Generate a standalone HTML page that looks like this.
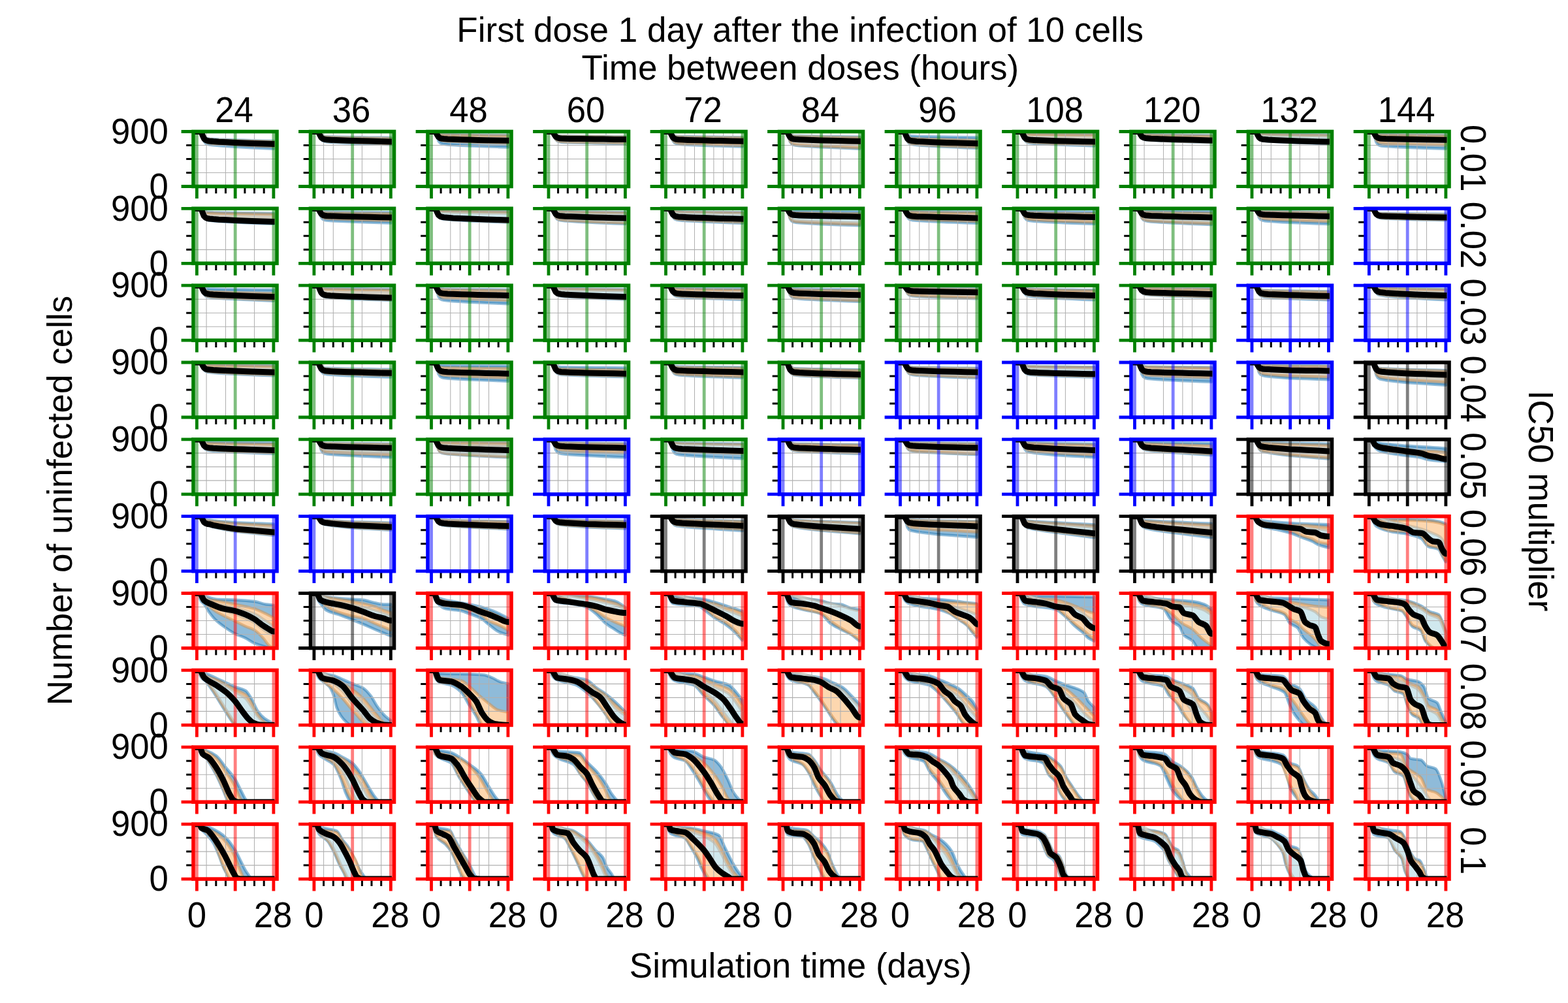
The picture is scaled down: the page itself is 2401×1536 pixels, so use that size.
<!DOCTYPE html>
<html lang="en"><head><meta charset="utf-8">
<title>First dose 1 day after the infection of 10 cells</title>
<style>html,body{margin:0;padding:0;background:#fff}body{width:2401px;height:1536px;overflow:hidden}svg{display:block}text{font-family:"Liberation Sans",sans-serif;fill:#000}</style></head><body>
<svg width="2401" height="1536" viewBox="0 0 2401 1536" role="img" aria-label="Grid of simulation results: number of uninfected cells over simulation time for each dose interval and IC50 multiplier">
<rect width="2401" height="1536" fill="#fff"/>
<text transform="translate(1225.2 64.2)" text-anchor="middle" font-size="53">First dose 1 day after the infection of 10 cells</text>
<text transform="translate(1225.4 122)" text-anchor="middle" font-size="53">Time between doses (hours)</text>
<text transform="translate(1226 1497.2)" text-anchor="middle" font-size="53">Simulation time (days)</text>
<text transform="translate(109.8 766.5) rotate(-90)" text-anchor="middle" font-size="53">Number of uninfected cells</text>
<text transform="translate(2341 767) rotate(90)" text-anchor="middle" font-size="53">IC50 multiplier</text>
<text transform="translate(358.6 186.9) scale(1 1.04)" text-anchor="middle" font-size="52.7">24</text>
<text transform="translate(538.1 186.9) scale(1 1.04)" text-anchor="middle" font-size="52.7">36</text>
<text transform="translate(717.6 186.9) scale(1 1.04)" text-anchor="middle" font-size="52.7">48</text>
<text transform="translate(897.1 186.9) scale(1 1.04)" text-anchor="middle" font-size="52.7">60</text>
<text transform="translate(1076.6 186.9) scale(1 1.04)" text-anchor="middle" font-size="52.7">72</text>
<text transform="translate(1256.1 186.9) scale(1 1.04)" text-anchor="middle" font-size="52.7">84</text>
<text transform="translate(1435.6 186.9) scale(1 1.04)" text-anchor="middle" font-size="52.7">96</text>
<text transform="translate(1615.1 186.9) scale(1 1.04)" text-anchor="middle" font-size="52.7">108</text>
<text transform="translate(1794.6 186.9) scale(1 1.04)" text-anchor="middle" font-size="52.7">120</text>
<text transform="translate(1974.1 186.9) scale(1 1.04)" text-anchor="middle" font-size="52.7">132</text>
<text transform="translate(2153.6 186.9) scale(1 1.04)" text-anchor="middle" font-size="52.7">144</text>
<text transform="translate(2237 242.2) rotate(90) scale(1 1.04)" text-anchor="middle" font-size="52.7">0.01</text>
<text transform="translate(257.9 219.7) scale(1 1.04)" text-anchor="end" font-size="52.7">900</text>
<text transform="translate(257.9 303.7) scale(1 1.04)" text-anchor="end" font-size="52.7">0</text>
<text transform="translate(2237 360) rotate(90) scale(1 1.04)" text-anchor="middle" font-size="52.7">0.02</text>
<text transform="translate(257.9 337.5) scale(1 1.04)" text-anchor="end" font-size="52.7">900</text>
<text transform="translate(257.9 421.5) scale(1 1.04)" text-anchor="end" font-size="52.7">0</text>
<text transform="translate(2237 477.9) rotate(90) scale(1 1.04)" text-anchor="middle" font-size="52.7">0.03</text>
<text transform="translate(257.9 455.4) scale(1 1.04)" text-anchor="end" font-size="52.7">900</text>
<text transform="translate(257.9 539.4) scale(1 1.04)" text-anchor="end" font-size="52.7">0</text>
<text transform="translate(2237 595.7) rotate(90) scale(1 1.04)" text-anchor="middle" font-size="52.7">0.04</text>
<text transform="translate(257.9 573.2) scale(1 1.04)" text-anchor="end" font-size="52.7">900</text>
<text transform="translate(257.9 657.2) scale(1 1.04)" text-anchor="end" font-size="52.7">0</text>
<text transform="translate(2237 713.6) rotate(90) scale(1 1.04)" text-anchor="middle" font-size="52.7">0.05</text>
<text transform="translate(257.9 691.1) scale(1 1.04)" text-anchor="end" font-size="52.7">900</text>
<text transform="translate(257.9 775.1) scale(1 1.04)" text-anchor="end" font-size="52.7">0</text>
<text transform="translate(2237 831.4) rotate(90) scale(1 1.04)" text-anchor="middle" font-size="52.7">0.06</text>
<text transform="translate(257.9 808.9) scale(1 1.04)" text-anchor="end" font-size="52.7">900</text>
<text transform="translate(257.9 892.9) scale(1 1.04)" text-anchor="end" font-size="52.7">0</text>
<text transform="translate(2237 949.2) rotate(90) scale(1 1.04)" text-anchor="middle" font-size="52.7">0.07</text>
<text transform="translate(257.9 926.7) scale(1 1.04)" text-anchor="end" font-size="52.7">900</text>
<text transform="translate(257.9 1010.7) scale(1 1.04)" text-anchor="end" font-size="52.7">0</text>
<text transform="translate(2237 1067.1) rotate(90) scale(1 1.04)" text-anchor="middle" font-size="52.7">0.08</text>
<text transform="translate(257.9 1044.6) scale(1 1.04)" text-anchor="end" font-size="52.7">900</text>
<text transform="translate(257.9 1128.6) scale(1 1.04)" text-anchor="end" font-size="52.7">0</text>
<text transform="translate(2237 1184.9) rotate(90) scale(1 1.04)" text-anchor="middle" font-size="52.7">0.09</text>
<text transform="translate(257.9 1162.4) scale(1 1.04)" text-anchor="end" font-size="52.7">900</text>
<text transform="translate(257.9 1246.4) scale(1 1.04)" text-anchor="end" font-size="52.7">0</text>
<text transform="translate(2237 1302.8) rotate(90) scale(1 1.04)" text-anchor="middle" font-size="52.7">0.1</text>
<text transform="translate(257.9 1280.3) scale(1 1.04)" text-anchor="end" font-size="52.7">900</text>
<text transform="translate(257.9 1364.3) scale(1 1.04)" text-anchor="end" font-size="52.7">0</text>
<text transform="translate(301.4 1420.4) scale(1 1.04)" text-anchor="middle" font-size="52.7">0</text>
<text transform="translate(418.1 1420.4) scale(1 1.04)" text-anchor="middle" font-size="52.7">28</text>
<text transform="translate(480.9 1420.4) scale(1 1.04)" text-anchor="middle" font-size="52.7">0</text>
<text transform="translate(597.6 1420.4) scale(1 1.04)" text-anchor="middle" font-size="52.7">28</text>
<text transform="translate(660.5 1420.4) scale(1 1.04)" text-anchor="middle" font-size="52.7">0</text>
<text transform="translate(777.1 1420.4) scale(1 1.04)" text-anchor="middle" font-size="52.7">28</text>
<text transform="translate(840 1420.4) scale(1 1.04)" text-anchor="middle" font-size="52.7">0</text>
<text transform="translate(956.6 1420.4) scale(1 1.04)" text-anchor="middle" font-size="52.7">28</text>
<text transform="translate(1019.5 1420.4) scale(1 1.04)" text-anchor="middle" font-size="52.7">0</text>
<text transform="translate(1136.1 1420.4) scale(1 1.04)" text-anchor="middle" font-size="52.7">28</text>
<text transform="translate(1199 1420.4) scale(1 1.04)" text-anchor="middle" font-size="52.7">0</text>
<text transform="translate(1315.6 1420.4) scale(1 1.04)" text-anchor="middle" font-size="52.7">28</text>
<text transform="translate(1378.5 1420.4) scale(1 1.04)" text-anchor="middle" font-size="52.7">0</text>
<text transform="translate(1495.1 1420.4) scale(1 1.04)" text-anchor="middle" font-size="52.7">28</text>
<text transform="translate(1558 1420.4) scale(1 1.04)" text-anchor="middle" font-size="52.7">0</text>
<text transform="translate(1674.6 1420.4) scale(1 1.04)" text-anchor="middle" font-size="52.7">28</text>
<text transform="translate(1737.5 1420.4) scale(1 1.04)" text-anchor="middle" font-size="52.7">0</text>
<text transform="translate(1854.1 1420.4) scale(1 1.04)" text-anchor="middle" font-size="52.7">28</text>
<text transform="translate(1917 1420.4) scale(1 1.04)" text-anchor="middle" font-size="52.7">0</text>
<text transform="translate(2033.6 1420.4) scale(1 1.04)" text-anchor="middle" font-size="52.7">28</text>
<text transform="translate(2096.4 1420.4) scale(1 1.04)" text-anchor="middle" font-size="52.7">0</text>
<text transform="translate(2213.1 1420.4) scale(1 1.04)" text-anchor="middle" font-size="52.7">28</text>
<g>
<clipPath id="c0_0"><rect x="296" y="201.5" width="128" height="84"/></clipPath>
<g clip-path="url(#c0_0)">
<path d="M305.6 200.5L306.5 201.6L308.6 202.8L310.3 206.1L312.4 209.7L314.9 211.5L317.8 212.2L320.7 212.6L326.6 213L335 213.5L347.6 213.9L360.2 214.4L372.8 214.8L385.4 215.1L402.1 215.6L418.9 216L418.9 227.7L402.1 227L385.4 226.2L372.8 225.5L360.2 224.8L347.6 224L335 223.1L326.6 222.4L320.7 221.5L317.8 220.9L314.9 219.5L312.4 216.3L310.3 209.9L308.6 203.9L306.5 201.7L305.6 200.5Z" fill="#1f77b4" fill-opacity="0.5" stroke="#1f77b4" stroke-opacity="0.5" stroke-width="4.4" stroke-linejoin="round"/>
<path d="M305.6 200.5L306.5 201.6L308.6 202.9L310.3 206.4L312.4 210.2L314.9 212.1L317.8 212.9L320.7 213.3L326.6 213.8L335 214.2L347.6 214.7L360.2 215.2L372.8 215.6L385.4 216L402.1 216.4L418.9 216.9L418.9 224.4L402.1 223.7L385.4 223L372.8 222.4L360.2 221.8L347.6 221.1L335 220.4L326.6 219.7L320.7 219L317.8 218.4L314.9 217.2L312.4 214.4L310.3 208.8L308.6 203.6L306.5 201.7L305.6 200.5Z" fill="#fdd7af" fill-opacity="0.6" stroke="#d29150" stroke-opacity="0.53" stroke-width="4.4" stroke-linejoin="round"/>
<path d="M316.1 201.5V285.5M345.5 201.5V285.5M389.5 201.5V285.5" stroke="#b0b0b0" stroke-width="1.05" fill="none"/>
<path d="M296 222.5H424M296 243.5H424M296 264.5H424" stroke="#b0b0b0" stroke-width="1.15" fill="none"/>
<path d="M301.4 201.5V285.5M360.2 201.5V285.5M418.9 201.5V285.5" stroke="#008000" stroke-opacity="0.5" stroke-width="4.8" fill="none"/>
<path d="M296.9 201.5L301.4 201.5L306.5 201.6L308.6 203.2L310.3 207.6L312.4 212.2L314.9 214.6L317.8 215.6L320.7 216L326.6 216.6L335 217.2L347.6 217.8L360.2 218.4L372.8 218.9L385.4 219.4L402.1 220L418.9 220.5L420.4 220.5" fill="none" stroke="#000" stroke-width="9" stroke-linejoin="round" stroke-linecap="butt"/>
</g>
<path d="M316.1 285.5V296.3M330.8 285.5V296.3M345.5 285.5V296.3M374.9 285.5V296.3M389.5 285.5V296.3M404.2 285.5V296.3M296 264.5H285.2M296 243.5H285.2M296 222.5H285.2" stroke="#000" stroke-width="3" fill="none"/>
<path d="M301.4 285.5V303.9M360.2 285.5V303.9M418.9 285.5V303.9M296 285.5H277.6M296 201.5H277.6" stroke="#008000" stroke-width="4.8" fill="none"/>
<rect x="296" y="201.5" width="128" height="84" fill="none" stroke="#008000" stroke-width="5.6"/>
</g>
<g>
<clipPath id="c0_1"><rect x="475.5" y="201.5" width="128" height="84"/></clipPath>
<g clip-path="url(#c0_1)">
<path d="M485.1 200.5L486 201.6L488.1 202.4L489.8 204.7L491.9 207.1L494.4 208.3L497.3 208.9L500.2 209.1L506.1 209.4L514.5 209.6L527.1 209.9L539.7 210.1L552.3 210.3L564.9 210.6L581.6 210.8L598.4 211L598.4 221.4L581.6 220.9L564.9 220.4L552.3 220L539.7 219.5L527.1 219L514.5 218.4L506.1 217.9L500.2 217.4L497.3 216.9L494.4 215.8L491.9 213.2L489.8 208.2L488.1 203.4L486 201.7L485.1 200.5Z" fill="#1f77b4" fill-opacity="0.5" stroke="#1f77b4" stroke-opacity="0.5" stroke-width="4.4" stroke-linejoin="round"/>
<path d="M485.1 200.5L486 201.6L488.1 202.5L489.8 205L491.9 207.7L494.4 209L497.3 209.6L500.2 209.8L506.1 210.1L514.5 210.4L527.1 210.7L539.7 210.9L552.3 211.2L564.9 211.4L581.6 211.7L598.4 211.9L598.4 220.1L581.6 219.6L564.9 219.1L552.3 218.7L539.7 218.3L527.1 217.8L514.5 217.3L506.1 216.8L500.2 216.3L497.3 215.9L494.4 214.8L491.9 212.4L489.8 207.7L488.1 203.3L486 201.6L485.1 200.5Z" fill="#fdd7af" fill-opacity="0.6" stroke="#d29150" stroke-opacity="0.53" stroke-width="4.4" stroke-linejoin="round"/>
<path d="M495.6 201.5V285.5M510.3 201.5V285.5M554.4 201.5V285.5M583.7 201.5V285.5" stroke="#b0b0b0" stroke-width="1.05" fill="none"/>
<path d="M475.5 222.5H603.5M475.5 243.5H603.5M475.5 264.5H603.5" stroke="#b0b0b0" stroke-width="1.15" fill="none"/>
<path d="M480.9 201.5V285.5M539.7 201.5V285.5M598.4 201.5V285.5" stroke="#008000" stroke-opacity="0.5" stroke-width="4.8" fill="none"/>
<path d="M476.4 201.5L480.9 201.5L486 201.6L488.1 203L489.8 206.7L491.9 210.6L494.4 212.5L497.3 213.4L500.2 213.8L506.1 214.2L514.5 214.6L527.1 215L539.7 215.4L552.3 215.8L564.9 216.1L581.6 216.5L598.4 216.9L599.9 216.9" fill="none" stroke="#000" stroke-width="9" stroke-linejoin="round" stroke-linecap="butt"/>
</g>
<path d="M495.6 285.5V296.3M510.3 285.5V296.3M525 285.5V296.3M554.4 285.5V296.3M569 285.5V296.3M583.7 285.5V296.3M475.5 264.5H464.7M475.5 243.5H464.7M475.5 222.5H464.7" stroke="#000" stroke-width="3" fill="none"/>
<path d="M480.9 285.5V303.9M539.7 285.5V303.9M598.4 285.5V303.9M475.5 285.5H457.1M475.5 201.5H457.1" stroke="#008000" stroke-width="4.8" fill="none"/>
<rect x="475.5" y="201.5" width="128" height="84" fill="none" stroke="#008000" stroke-width="5.6"/>
</g>
<g>
<clipPath id="c0_2"><rect x="655" y="201.5" width="128" height="84"/></clipPath>
<g clip-path="url(#c0_2)">
<path d="M664.6 200.5L665.5 201.5L667.6 202L669.3 203.4L671.4 204.8L673.9 205.5L676.8 205.8L679.7 205.9L685.6 206.1L694 206.2L706.6 206.4L719.2 206.5L731.8 206.6L744.4 206.7L761.1 206.9L777.9 207L777.9 225.5L761.1 224.9L744.4 224.3L731.8 223.8L719.2 223.3L706.6 222.7L694 222L685.6 221.5L679.7 220.8L676.8 220.2L673.9 218.9L671.4 215.8L669.3 209.6L667.6 203.8L665.5 201.7L664.6 200.5Z" fill="#1f77b4" fill-opacity="0.5" stroke="#1f77b4" stroke-opacity="0.5" stroke-width="4.4" stroke-linejoin="round"/>
<path d="M664.6 200.5L665.5 201.6L667.6 202.1L669.3 203.7L671.4 205.3L673.9 206.1L676.8 206.5L679.7 206.6L685.6 206.8L694 207L706.6 207.2L719.2 207.3L731.8 207.4L744.4 207.6L761.1 207.7L777.9 207.9L777.9 219.2L761.1 218.8L744.4 218.3L731.8 218L719.2 217.6L706.6 217.1L694 216.6L685.6 216.2L679.7 215.7L676.8 215.3L673.9 214.3L671.4 212L669.3 207.5L667.6 203.2L665.5 201.6L664.6 200.5Z" fill="#fdd7af" fill-opacity="0.6" stroke="#d29150" stroke-opacity="0.53" stroke-width="4.4" stroke-linejoin="round"/>
<path d="M689.8 201.5V285.5M704.5 201.5V285.5M733.9 201.5V285.5M748.5 201.5V285.5" stroke="#b0b0b0" stroke-width="1.05" fill="none"/>
<path d="M655 222.5H783M655 243.5H783M655 264.5H783" stroke="#b0b0b0" stroke-width="1.15" fill="none"/>
<path d="M660.5 201.5V285.5M719.2 201.5V285.5M777.9 201.5V285.5" stroke="#008000" stroke-opacity="0.5" stroke-width="4.8" fill="none"/>
<path d="M656 201.5L660.5 201.5L665.5 201.6L667.6 202.8L669.3 206.2L671.4 209.7L673.9 211.5L676.8 212.3L679.7 212.6L685.6 213L694 213.3L706.6 213.7L719.2 214.1L731.8 214.4L744.4 214.7L761.1 215L777.9 215.3L779.4 215.3" fill="none" stroke="#000" stroke-width="9" stroke-linejoin="round" stroke-linecap="butt"/>
</g>
<path d="M675.1 285.5V296.3M689.8 285.5V296.3M704.5 285.5V296.3M733.9 285.5V296.3M748.5 285.5V296.3M763.2 285.5V296.3M655 264.5H644.2M655 243.5H644.2M655 222.5H644.2" stroke="#000" stroke-width="3" fill="none"/>
<path d="M660.5 285.5V303.9M719.2 285.5V303.9M777.9 285.5V303.9M655 285.5H636.6M655 201.5H636.6" stroke="#008000" stroke-width="4.8" fill="none"/>
<rect x="655" y="201.5" width="128" height="84" fill="none" stroke="#008000" stroke-width="5.6"/>
</g>
<g>
<clipPath id="c0_3"><rect x="834.5" y="201.5" width="128" height="84"/></clipPath>
<g clip-path="url(#c0_3)">
<path d="M844.1 200.5L845 201.6L847.1 202.3L848.8 204.3L850.9 206.5L853.4 207.6L856.3 208L859.2 208.2L865.1 208.4L873.5 208.5L886.1 208.6L898.7 208.8L911.3 208.9L923.9 209L940.6 209.1L957.4 209.2L957.4 220.1L940.6 219.8L923.9 219.5L911.3 219.2L898.7 218.9L886.1 218.6L873.5 218.3L865.1 218L859.2 217.7L856.3 217.2L853.4 216L850.9 213.5L848.8 208.3L847.1 203.4L845 201.7L844.1 200.5Z" fill="#1f77b4" fill-opacity="0.5" stroke="#1f77b4" stroke-opacity="0.5" stroke-width="4.4" stroke-linejoin="round"/>
<path d="M844.1 200.5L845 201.6L847.1 202.4L848.8 204.5L850.9 206.8L853.4 207.9L856.3 208.4L859.2 208.6L865.1 208.8L873.5 208.9L886.1 209.1L898.7 209.2L911.3 209.3L923.9 209.4L940.6 209.6L957.4 209.7L957.4 219.2L940.6 218.9L923.9 218.6L911.3 218.4L898.7 218.1L886.1 217.8L873.5 217.5L865.1 217.2L859.2 216.9L856.3 216.4L853.4 215.3L850.9 212.9L848.8 208L847.1 203.3L845 201.7L844.1 200.5Z" fill="#fdd7af" fill-opacity="0.6" stroke="#d29150" stroke-opacity="0.53" stroke-width="4.4" stroke-linejoin="round"/>
<path d="M844.1 200.5L845 201.6L847.1 202.4L848.8 204.7L850.9 207.1L853.4 208.3L856.3 208.8L859.2 209L865.1 209.2L873.5 209.3L886.1 209.5L898.7 209.6L911.3 209.7L923.9 209.9L940.6 210L957.4 210.1L957.4 218.3L940.6 218L923.9 217.7L911.3 217.5L898.7 217.3L886.1 217L873.5 216.7L865.1 216.4L859.2 216.1L856.3 215.7L853.4 214.6L850.9 212.3L848.8 207.6L847.1 203.3L845 201.6L844.1 200.5Z" fill="#d0e8ee" fill-opacity="1" stroke="#b4aa96" stroke-opacity="0.5" stroke-width="4.4" stroke-linejoin="round"/>
<path d="M854.6 201.5V285.5M869.3 201.5V285.5M928 201.5V285.5" stroke="#b0b0b0" stroke-width="1.05" fill="none"/>
<path d="M834.5 222.5H962.5M834.5 243.5H962.5M834.5 264.5H962.5" stroke="#b0b0b0" stroke-width="1.15" fill="none"/>
<path d="M840 201.5V285.5M898.7 201.5V285.5M957.4 201.5V285.5" stroke="#008000" stroke-opacity="0.5" stroke-width="4.8" fill="none"/>
<path d="M835.5 201.5L840 201.5L845 201.6L847.1 202.8L848.8 205.9L850.9 209.2L853.4 210.9L856.3 211.7L859.2 212L865.1 212.2L873.5 212.4L886.1 212.6L898.7 212.8L911.3 213L923.9 213.1L940.6 213.4L957.4 213.5L958.9 213.5" fill="none" stroke="#000" stroke-width="9" stroke-linejoin="round" stroke-linecap="butt"/>
</g>
<path d="M854.6 285.5V296.3M869.3 285.5V296.3M884 285.5V296.3M913.4 285.5V296.3M928 285.5V296.3M942.7 285.5V296.3M834.5 264.5H823.7M834.5 243.5H823.7M834.5 222.5H823.7" stroke="#000" stroke-width="3" fill="none"/>
<path d="M840 285.5V303.9M898.7 285.5V303.9M957.4 285.5V303.9M834.5 285.5H816.1M834.5 201.5H816.1" stroke="#008000" stroke-width="4.8" fill="none"/>
<rect x="834.5" y="201.5" width="128" height="84" fill="none" stroke="#008000" stroke-width="5.6"/>
</g>
<g>
<clipPath id="c0_4"><rect x="1014" y="201.5" width="128" height="84"/></clipPath>
<g clip-path="url(#c0_4)">
<path d="M1023.6 200.5L1024.5 201.6L1026.6 202.4L1028.3 204.6L1030.4 207L1032.9 208.1L1035.8 208.7L1038.7 208.9L1044.6 209.1L1053 209.3L1065.6 209.5L1078.2 209.7L1090.8 209.8L1103.4 210L1120.1 210.2L1136.9 210.4L1136.9 224.6L1120.1 224.1L1103.4 223.6L1090.8 223.2L1078.2 222.8L1065.6 222.3L1053 221.7L1044.6 221.3L1038.7 220.7L1035.8 220.1L1032.9 218.8L1030.4 215.7L1028.3 209.6L1026.6 203.8L1024.5 201.7L1023.6 200.5Z" fill="#1f77b4" fill-opacity="0.5" stroke="#1f77b4" stroke-opacity="0.5" stroke-width="4.4" stroke-linejoin="round"/>
<path d="M1023.6 200.5L1024.5 201.6L1026.6 202.5L1028.3 204.8L1030.4 207.4L1032.9 208.6L1035.8 209.2L1038.7 209.4L1044.6 209.7L1053 209.9L1065.6 210.1L1078.2 210.3L1090.8 210.5L1103.4 210.6L1120.1 210.8L1136.9 211L1136.9 222.8L1120.1 222.4L1103.4 221.9L1090.8 221.5L1078.2 221.1L1065.6 220.7L1053 220.1L1044.6 219.7L1038.7 219.2L1035.8 218.7L1032.9 217.4L1030.4 214.6L1028.3 208.9L1026.6 203.6L1024.5 201.7L1023.6 200.5Z" fill="#fdd7af" fill-opacity="0.6" stroke="#d29150" stroke-opacity="0.53" stroke-width="4.4" stroke-linejoin="round"/>
<path d="M1048.8 201.5V285.5M1063.5 201.5V285.5M1092.9 201.5V285.5M1107.5 201.5V285.5M1122.2 201.5V285.5" stroke="#b0b0b0" stroke-width="1.05" fill="none"/>
<path d="M1014 222.5H1142M1014 243.5H1142M1014 264.5H1142" stroke="#b0b0b0" stroke-width="1.15" fill="none"/>
<path d="M1019.5 201.5V285.5M1078.2 201.5V285.5M1136.9 201.5V285.5" stroke="#008000" stroke-opacity="0.5" stroke-width="4.8" fill="none"/>
<path d="M1015 201.5L1019.5 201.5L1024.5 201.6L1026.6 203L1028.3 206.7L1030.4 210.6L1032.9 212.5L1035.8 213.4L1038.7 213.8L1044.6 214.1L1053 214.4L1065.6 214.8L1078.2 215.1L1090.8 215.4L1103.4 215.6L1120.1 215.9L1136.9 216.2L1138.4 216.2" fill="none" stroke="#000" stroke-width="9" stroke-linejoin="round" stroke-linecap="butt"/>
</g>
<path d="M1034.1 285.5V296.3M1048.8 285.5V296.3M1063.5 285.5V296.3M1092.9 285.5V296.3M1107.5 285.5V296.3M1122.2 285.5V296.3M1014 264.5H1003.2M1014 243.5H1003.2M1014 222.5H1003.2" stroke="#000" stroke-width="3" fill="none"/>
<path d="M1019.5 285.5V303.9M1078.2 285.5V303.9M1136.9 285.5V303.9M1014 285.5H995.6M1014 201.5H995.6" stroke="#008000" stroke-width="4.8" fill="none"/>
<rect x="1014" y="201.5" width="128" height="84" fill="none" stroke="#008000" stroke-width="5.6"/>
</g>
<g>
<clipPath id="c0_5"><rect x="1193.5" y="201.5" width="128" height="84"/></clipPath>
<g clip-path="url(#c0_5)">
<path d="M1203.1 200.5L1204 201.6L1206.1 202.3L1207.8 204.3L1209.9 206.4L1212.4 207.4L1215.3 207.9L1218.2 208.1L1224.1 208.3L1232.5 208.5L1245.1 208.7L1257.7 208.9L1270.3 209.1L1282.9 209.3L1299.6 209.5L1316.4 209.7L1316.4 227.7L1299.6 227.1L1282.9 226.4L1270.3 225.9L1257.7 225.3L1245.1 224.6L1232.5 223.9L1224.1 223.3L1218.2 222.5L1215.3 221.9L1212.4 220.4L1209.9 217.1L1207.8 210.3L1206.1 204L1204 201.7L1203.1 200.5Z" fill="#1f77b4" fill-opacity="0.5" stroke="#1f77b4" stroke-opacity="0.5" stroke-width="4.4" stroke-linejoin="round"/>
<path d="M1203.1 200.5L1204 201.6L1206.1 202.4L1207.8 204.6L1209.9 206.9L1212.4 208.1L1215.3 208.6L1218.2 208.8L1224.1 209L1232.5 209.3L1245.1 209.5L1257.7 209.7L1270.3 209.9L1282.9 210.1L1299.6 210.4L1316.4 210.6L1316.4 226.4L1299.6 225.8L1282.9 225.1L1270.3 224.6L1257.7 224.1L1245.1 223.4L1232.5 222.7L1224.1 222.1L1218.2 221.5L1215.3 220.9L1212.4 219.5L1209.9 216.3L1207.8 209.9L1206.1 203.9L1204 201.7L1203.1 200.5Z" fill="#fdd7af" fill-opacity="0.6" stroke="#d29150" stroke-opacity="0.53" stroke-width="4.4" stroke-linejoin="round"/>
<path d="M1213.6 201.5V285.5M1243 201.5V285.5M1272.4 201.5V285.5M1287 201.5V285.5" stroke="#b0b0b0" stroke-width="1.05" fill="none"/>
<path d="M1193.5 222.5H1321.5M1193.5 243.5H1321.5M1193.5 264.5H1321.5" stroke="#b0b0b0" stroke-width="1.15" fill="none"/>
<path d="M1199 201.5V285.5M1257.7 201.5V285.5M1316.4 201.5V285.5" stroke="#008000" stroke-opacity="0.5" stroke-width="4.8" fill="none"/>
<path d="M1194.5 201.5L1199 201.5L1204 201.6L1206.1 202.9L1207.8 206.5L1209.9 210.2L1212.4 212.1L1215.3 213L1218.2 213.3L1224.1 213.7L1232.5 214.1L1245.1 214.5L1257.7 214.9L1270.3 215.2L1282.9 215.5L1299.6 215.9L1316.4 216.2L1317.9 216.2" fill="none" stroke="#000" stroke-width="9" stroke-linejoin="round" stroke-linecap="butt"/>
</g>
<path d="M1213.6 285.5V296.3M1228.3 285.5V296.3M1243 285.5V296.3M1272.4 285.5V296.3M1287 285.5V296.3M1301.7 285.5V296.3M1193.5 264.5H1182.7M1193.5 243.5H1182.7M1193.5 222.5H1182.7" stroke="#000" stroke-width="3" fill="none"/>
<path d="M1199 285.5V303.9M1257.7 285.5V303.9M1316.4 285.5V303.9M1193.5 285.5H1175.1M1193.5 201.5H1175.1" stroke="#008000" stroke-width="4.8" fill="none"/>
<rect x="1193.5" y="201.5" width="128" height="84" fill="none" stroke="#008000" stroke-width="5.6"/>
</g>
<g>
<clipPath id="c0_6"><rect x="1373" y="201.5" width="128" height="84"/></clipPath>
<g clip-path="url(#c0_6)">
<path d="M1382.6 200.5L1383.5 201.6L1385.6 202.3L1387.3 204.4L1389.4 206.6L1391.9 207.7L1394.8 208.2L1397.7 208.4L1403.6 208.7L1412 208.9L1424.6 209.2L1437.2 209.4L1449.8 209.7L1462.4 209.9L1479.1 210.1L1495.9 210.4L1495.9 226.8L1479.1 226.2L1462.4 225.4L1449.8 224.8L1437.2 224.2L1424.6 223.5L1412 222.7L1403.6 222L1397.7 221.2L1394.8 220.7L1391.9 219.3L1389.4 216.1L1387.3 209.8L1385.6 203.9L1383.5 201.7L1382.6 200.5Z" fill="#1f77b4" fill-opacity="0.5" stroke="#1f77b4" stroke-opacity="0.5" stroke-width="4.4" stroke-linejoin="round"/>
<path d="M1382.6 200.5L1383.5 201.6L1385.6 202.8L1387.3 205.9L1389.4 209.2L1391.9 210.9L1394.8 211.6L1397.7 211.9L1403.6 212.3L1412 212.7L1424.6 213.1L1437.2 213.5L1449.8 213.8L1462.4 214.1L1479.1 214.5L1495.9 214.9L1495.9 225.5L1479.1 224.8L1462.4 224.1L1449.8 223.6L1437.2 223L1424.6 222.3L1412 221.6L1403.6 220.9L1397.7 220.2L1394.8 219.6L1391.9 218.3L1389.4 215.3L1387.3 209.4L1385.6 203.7L1383.5 201.7L1382.6 200.5Z" fill="#fdd7af" fill-opacity="0.6" stroke="#d29150" stroke-opacity="0.53" stroke-width="4.4" stroke-linejoin="round"/>
<path d="M1393.1 201.5V285.5M1407.8 201.5V285.5M1422.5 201.5V285.5M1466.5 201.5V285.5M1481.2 201.5V285.5" stroke="#b0b0b0" stroke-width="1.05" fill="none"/>
<path d="M1373 222.5H1501M1373 243.5H1501M1373 264.5H1501" stroke="#b0b0b0" stroke-width="1.15" fill="none"/>
<path d="M1378.5 201.5V285.5M1437.2 201.5V285.5M1495.9 201.5V285.5" stroke="#008000" stroke-opacity="0.5" stroke-width="4.8" fill="none"/>
<path d="M1374 201.5L1378.5 201.5L1383.5 201.6L1385.6 203.2L1387.3 207.5L1389.4 212.1L1391.9 214.4L1394.8 215.4L1397.7 215.8L1403.6 216.4L1412 216.8L1424.6 217.4L1437.2 217.9L1449.8 218.4L1462.4 218.8L1479.1 219.3L1495.9 219.8L1497.4 219.8" fill="none" stroke="#000" stroke-width="9" stroke-linejoin="round" stroke-linecap="butt"/>
</g>
<path d="M1393.1 285.5V296.3M1407.8 285.5V296.3M1422.5 285.5V296.3M1451.9 285.5V296.3M1466.5 285.5V296.3M1481.2 285.5V296.3M1373 264.5H1362.2M1373 243.5H1362.2M1373 222.5H1362.2" stroke="#000" stroke-width="3" fill="none"/>
<path d="M1378.5 285.5V303.9M1437.2 285.5V303.9M1495.9 285.5V303.9M1373 285.5H1354.6M1373 201.5H1354.6" stroke="#008000" stroke-width="4.8" fill="none"/>
<rect x="1373" y="201.5" width="128" height="84" fill="none" stroke="#008000" stroke-width="5.6"/>
</g>
<g>
<clipPath id="c0_7"><rect x="1552.5" y="201.5" width="128" height="84"/></clipPath>
<g clip-path="url(#c0_7)">
<path d="M1562.1 200.5L1563 201.5L1565.1 201.9L1566.8 203L1568.9 204.2L1571.4 204.8L1574.3 205.1L1577.2 205.2L1583.1 205.3L1591.5 205.4L1604.1 205.5L1616.7 205.7L1629.3 205.8L1641.9 205.9L1658.6 206L1675.4 206.1L1675.4 223.5L1658.6 222.9L1641.9 222.3L1629.3 221.9L1616.7 221.4L1604.1 220.8L1591.5 220.2L1583.1 219.7L1577.2 219L1574.3 218.5L1571.4 217.3L1568.9 214.5L1566.8 208.9L1565.1 203.6L1563 201.7L1562.1 200.5Z" fill="#1f77b4" fill-opacity="0.5" stroke="#1f77b4" stroke-opacity="0.5" stroke-width="4.4" stroke-linejoin="round"/>
<path d="M1562.1 200.5L1563 201.5L1565.1 202L1566.8 203.2L1568.9 204.5L1571.4 205.1L1574.3 205.4L1577.2 205.5L1583.1 205.7L1591.5 205.8L1604.1 205.9L1616.7 206.1L1629.3 206.2L1641.9 206.3L1658.6 206.4L1675.4 206.5L1675.4 221.9L1658.6 221.4L1641.9 220.8L1629.3 220.4L1616.7 220L1604.1 219.4L1591.5 218.8L1583.1 218.4L1577.2 217.8L1574.3 217.3L1571.4 216.2L1568.9 213.6L1566.8 208.3L1565.1 203.5L1563 201.7L1562.1 200.5Z" fill="#fdd7af" fill-opacity="0.6" stroke="#d29150" stroke-opacity="0.53" stroke-width="4.4" stroke-linejoin="round"/>
<path d="M1572.6 201.5V285.5M1587.3 201.5V285.5M1631.4 201.5V285.5M1660.7 201.5V285.5" stroke="#b0b0b0" stroke-width="1.05" fill="none"/>
<path d="M1552.5 222.5H1680.5M1552.5 243.5H1680.5M1552.5 264.5H1680.5" stroke="#b0b0b0" stroke-width="1.15" fill="none"/>
<path d="M1558 201.5V285.5M1616.7 201.5V285.5M1675.4 201.5V285.5" stroke="#008000" stroke-opacity="0.5" stroke-width="4.8" fill="none"/>
<path d="M1553.5 201.5L1558 201.5L1563 201.6L1565.1 203L1566.8 206.7L1568.9 210.7L1571.4 212.7L1574.3 213.6L1577.2 214L1583.1 214.4L1591.5 214.8L1604.1 215.3L1616.7 215.7L1629.3 216L1641.9 216.3L1658.6 216.8L1675.4 217.1L1676.9 217.1" fill="none" stroke="#000" stroke-width="9" stroke-linejoin="round" stroke-linecap="butt"/>
</g>
<path d="M1572.6 285.5V296.3M1587.3 285.5V296.3M1602 285.5V296.3M1631.4 285.5V296.3M1646 285.5V296.3M1660.7 285.5V296.3M1552.5 264.5H1541.7M1552.5 243.5H1541.7M1552.5 222.5H1541.7" stroke="#000" stroke-width="3" fill="none"/>
<path d="M1558 285.5V303.9M1616.7 285.5V303.9M1675.4 285.5V303.9M1552.5 285.5H1534.1M1552.5 201.5H1534.1" stroke="#008000" stroke-width="4.8" fill="none"/>
<rect x="1552.5" y="201.5" width="128" height="84" fill="none" stroke="#008000" stroke-width="5.6"/>
</g>
<g>
<clipPath id="c0_8"><rect x="1732" y="201.5" width="128" height="84"/></clipPath>
<g clip-path="url(#c0_8)">
<path d="M1741.6 200.5L1742.5 201.5L1744.6 202L1746.3 203.4L1748.4 204.9L1750.9 205.6L1753.8 205.9L1756.7 206L1762.6 206.2L1771 206.4L1783.6 206.6L1796.2 206.8L1808.8 206.9L1821.4 207.1L1838.1 207.3L1854.9 207.4L1854.9 218.3L1838.1 217.8L1821.4 217.3L1808.8 216.9L1796.2 216.4L1783.6 215.9L1771 215.4L1762.6 214.9L1756.7 214.3L1753.8 214L1750.9 213.1L1748.4 211L1746.3 206.9L1744.6 203L1742.5 201.6L1741.6 200.5Z" fill="#1f77b4" fill-opacity="0.5" stroke="#1f77b4" stroke-opacity="0.5" stroke-width="4.4" stroke-linejoin="round"/>
<path d="M1741.6 200.5L1742.5 201.6L1744.6 202.1L1746.3 203.7L1748.4 205.4L1750.9 206.2L1753.8 206.6L1756.7 206.7L1762.6 207L1771 207.2L1783.6 207.4L1796.2 207.6L1808.8 207.8L1821.4 207.9L1838.1 208.1L1854.9 208.3L1854.9 217.8L1838.1 217.4L1821.4 216.9L1808.8 216.5L1796.2 216L1783.6 215.5L1771 215L1762.6 214.5L1756.7 214L1753.8 213.6L1750.9 212.7L1748.4 210.7L1746.3 206.7L1744.6 203L1742.5 201.6L1741.6 200.5Z" fill="#fdd7af" fill-opacity="0.6" stroke="#d29150" stroke-opacity="0.53" stroke-width="4.4" stroke-linejoin="round"/>
<path d="M1752.1 201.5V285.5M1781.5 201.5V285.5M1810.9 201.5V285.5M1825.5 201.5V285.5" stroke="#b0b0b0" stroke-width="1.05" fill="none"/>
<path d="M1732 222.5H1860M1732 243.5H1860M1732 264.5H1860" stroke="#b0b0b0" stroke-width="1.15" fill="none"/>
<path d="M1737.5 201.5V285.5M1796.2 201.5V285.5M1854.9 201.5V285.5" stroke="#008000" stroke-opacity="0.5" stroke-width="4.8" fill="none"/>
<path d="M1733 201.5L1737.5 201.5L1742.5 201.6L1744.6 202.7L1746.3 205.8L1748.4 209.1L1750.9 210.7L1753.8 211.4L1756.7 211.7L1762.6 212.2L1771 212.6L1783.6 213L1796.2 213.4L1808.8 213.8L1821.4 214.1L1838.1 214.5L1854.9 214.9L1856.4 214.9" fill="none" stroke="#000" stroke-width="9" stroke-linejoin="round" stroke-linecap="butt"/>
</g>
<path d="M1752.1 285.5V296.3M1766.8 285.5V296.3M1781.5 285.5V296.3M1810.9 285.5V296.3M1825.5 285.5V296.3M1840.2 285.5V296.3M1732 264.5H1721.2M1732 243.5H1721.2M1732 222.5H1721.2" stroke="#000" stroke-width="3" fill="none"/>
<path d="M1737.5 285.5V303.9M1796.2 285.5V303.9M1854.9 285.5V303.9M1732 285.5H1713.6M1732 201.5H1713.6" stroke="#008000" stroke-width="4.8" fill="none"/>
<rect x="1732" y="201.5" width="128" height="84" fill="none" stroke="#008000" stroke-width="5.6"/>
</g>
<g>
<clipPath id="c0_9"><rect x="1911.5" y="201.5" width="128" height="84"/></clipPath>
<g clip-path="url(#c0_9)">
<path d="M1921.1 200.5L1922 201.5L1924.1 202L1925.8 203.1L1927.9 204.4L1930.4 205L1933.3 205.3L1936.2 205.4L1942.1 205.5L1950.5 205.7L1963.1 205.9L1975.7 206L1988.3 206.1L2000.9 206.3L2017.6 206.4L2034.4 206.5L2034.4 220.1L2017.6 219.6L2000.9 219L1988.3 218.6L1975.7 218.1L1963.1 217.5L1950.5 216.9L1942.1 216.4L1936.2 215.8L1933.3 215.4L1930.4 214.4L1927.9 212.1L1925.8 207.5L1924.1 203.2L1922 201.6L1921.1 200.5Z" fill="#1f77b4" fill-opacity="0.5" stroke="#1f77b4" stroke-opacity="0.5" stroke-width="4.4" stroke-linejoin="round"/>
<path d="M1921.1 200.5L1922 201.5L1924.1 202L1925.8 203.4L1927.9 204.9L1930.4 205.6L1933.3 205.9L1936.2 206.1L1942.1 206.3L1950.5 206.4L1963.1 206.6L1975.7 206.8L1988.3 207L2000.9 207.1L2017.6 207.3L2034.4 207.4L2034.4 219.2L2017.6 218.7L2000.9 218.2L1988.3 217.7L1975.7 217.3L1963.1 216.8L1950.5 216.2L1942.1 215.7L1936.2 215.1L1933.3 214.7L1930.4 213.8L1927.9 211.6L1925.8 207.2L1924.1 203.1L1922 201.6L1921.1 200.5Z" fill="#fdd7af" fill-opacity="0.6" stroke="#d29150" stroke-opacity="0.53" stroke-width="4.4" stroke-linejoin="round"/>
<path d="M1921.1 200.5L1922 201.6L1924.1 202.2L1925.8 203.9L1927.9 205.7L1930.4 206.6L1933.3 206.9L1936.2 207.1L1942.1 207.4L1950.5 207.6L1963.1 207.8L1975.7 208L1988.3 208.2L2000.9 208.4L2017.6 208.6L2034.4 208.8L2034.4 218.3L2017.6 217.8L2000.9 217.3L1988.3 216.9L1975.7 216.5L1963.1 216L1950.5 215.4L1942.1 215L1936.2 214.4L1933.3 214L1930.4 213.1L1927.9 211.1L1925.8 206.9L1924.1 203.1L1922 201.6L1921.1 200.5Z" fill="#d0e8ee" fill-opacity="1" stroke="#b4aa96" stroke-opacity="0.5" stroke-width="4.4" stroke-linejoin="round"/>
<path d="M1931.6 201.5V285.5M1946.3 201.5V285.5M1990.4 201.5V285.5M2019.7 201.5V285.5" stroke="#b0b0b0" stroke-width="1.05" fill="none"/>
<path d="M1911.5 222.5H2039.5M1911.5 243.5H2039.5M1911.5 264.5H2039.5" stroke="#b0b0b0" stroke-width="1.15" fill="none"/>
<path d="M1917 201.5V285.5M1975.7 201.5V285.5M2034.4 201.5V285.5" stroke="#008000" stroke-opacity="0.5" stroke-width="4.8" fill="none"/>
<path d="M1912.5 201.5L1917 201.5L1922 201.6L1924.1 202.9L1925.8 206.6L1927.9 210.4L1930.4 212.3L1933.3 213.2L1936.2 213.5L1942.1 214L1950.5 214.5L1963.1 215L1975.7 215.4L1988.3 215.9L2000.9 216.2L2017.6 216.7L2034.4 217.1L2035.9 217.1" fill="none" stroke="#000" stroke-width="9" stroke-linejoin="round" stroke-linecap="butt"/>
</g>
<path d="M1931.6 285.5V296.3M1946.3 285.5V296.3M1961 285.5V296.3M1990.4 285.5V296.3M2005 285.5V296.3M2019.7 285.5V296.3M1911.5 264.5H1900.7M1911.5 243.5H1900.7M1911.5 222.5H1900.7" stroke="#000" stroke-width="3" fill="none"/>
<path d="M1917 285.5V303.9M1975.7 285.5V303.9M2034.4 285.5V303.9M1911.5 285.5H1893.1M1911.5 201.5H1893.1" stroke="#008000" stroke-width="4.8" fill="none"/>
<rect x="1911.5" y="201.5" width="128" height="84" fill="none" stroke="#008000" stroke-width="5.6"/>
</g>
<g>
<clipPath id="c0_10"><rect x="2091" y="201.5" width="128" height="84"/></clipPath>
<g clip-path="url(#c0_10)">
<path d="M2100.6 200.5L2101.5 201.5L2103.6 202.1L2105.3 203.4L2107.4 204.9L2109.9 205.7L2112.8 206L2115.7 206.1L2121.6 206.2L2130 206.3L2142.6 206.5L2155.2 206.6L2167.8 206.7L2180.3 206.8L2197.1 206.9L2213.9 207L2213.9 227.7L2197.1 227.2L2180.3 226.7L2167.8 226.2L2155.2 225.8L2142.6 225.2L2130 224.6L2121.6 224.1L2115.7 223.6L2112.8 222.9L2109.9 221.4L2107.4 217.8L2105.3 210.8L2103.6 204.1L2101.5 201.7L2100.6 200.5Z" fill="#1f77b4" fill-opacity="0.5" stroke="#1f77b4" stroke-opacity="0.5" stroke-width="4.4" stroke-linejoin="round"/>
<path d="M2100.6 200.5L2101.5 201.6L2103.6 202.1L2105.3 203.8L2107.4 205.5L2109.9 206.3L2112.8 206.7L2115.7 206.9L2121.6 207L2130 207.1L2142.6 207.3L2155.2 207.4L2167.8 207.5L2180.3 207.6L2197.1 207.8L2213.9 207.9L2213.9 222.3L2197.1 221.9L2180.3 221.5L2167.8 221.1L2155.2 220.8L2142.6 220.4L2130 219.9L2121.6 219.5L2115.7 219L2112.8 218.5L2109.9 217.3L2107.4 214.5L2105.3 208.9L2103.6 203.6L2101.5 201.7L2100.6 200.5Z" fill="#fdd7af" fill-opacity="0.6" stroke="#d29150" stroke-opacity="0.53" stroke-width="4.4" stroke-linejoin="round"/>
<path d="M2125.8 201.5V285.5M2140.5 201.5V285.5M2169.9 201.5V285.5M2184.5 201.5V285.5" stroke="#b0b0b0" stroke-width="1.05" fill="none"/>
<path d="M2091 222.5H2219M2091 243.5H2219M2091 264.5H2219" stroke="#b0b0b0" stroke-width="1.15" fill="none"/>
<path d="M2096.4 201.5V285.5M2155.2 201.5V285.5M2213.9 201.5V285.5" stroke="#008000" stroke-opacity="0.5" stroke-width="4.8" fill="none"/>
<path d="M2091.9 201.5L2096.4 201.5L2101.5 201.6L2103.6 202.8L2105.3 206L2107.4 209.4L2109.9 211.1L2112.8 211.9L2115.7 212.2L2121.6 212.5L2130 212.7L2142.6 213L2155.2 213.3L2167.8 213.5L2180.3 213.7L2197.1 214L2213.9 214.2L2215.4 214.2" fill="none" stroke="#000" stroke-width="9" stroke-linejoin="round" stroke-linecap="butt"/>
</g>
<path d="M2111.1 285.5V296.3M2125.8 285.5V296.3M2140.5 285.5V296.3M2169.9 285.5V296.3M2184.5 285.5V296.3M2199.2 285.5V296.3M2091 264.5H2080.2M2091 243.5H2080.2M2091 222.5H2080.2" stroke="#000" stroke-width="3" fill="none"/>
<path d="M2096.4 285.5V303.9M2155.2 285.5V303.9M2213.9 285.5V303.9M2091 285.5H2072.6M2091 201.5H2072.6" stroke="#008000" stroke-width="4.8" fill="none"/>
<rect x="2091" y="201.5" width="128" height="84" fill="none" stroke="#008000" stroke-width="5.6"/>
</g>
<g>
<clipPath id="c1_0"><rect x="296" y="319.3" width="128" height="84"/></clipPath>
<g clip-path="url(#c1_0)">
<path d="M305.6 318.3L306.5 319.4L308.6 320L310.3 321.7L312.4 323.5L314.9 324.5L317.8 324.9L320.7 325L326.6 325.3L335 325.4L347.6 325.7L360.2 325.9L372.8 326.1L385.4 326.2L402.1 326.5L418.9 326.7L418.9 342.9L402.1 342.3L385.4 341.6L372.8 341L360.2 340.4L347.6 339.8L335 339L326.6 338.4L320.7 337.6L317.8 337.1L314.9 335.8L312.4 332.9L310.3 327L308.6 321.5L306.5 319.5L305.6 318.3Z" fill="#1f77b4" fill-opacity="0.5" stroke="#1f77b4" stroke-opacity="0.5" stroke-width="4.4" stroke-linejoin="round"/>
<path d="M305.6 318.3L306.5 319.4L308.6 320.1L310.3 322.2L312.4 324.3L314.9 325.4L317.8 325.9L320.7 326.1L326.6 326.3L335 326.6L347.6 326.9L360.2 327.1L372.8 327.3L385.4 327.5L402.1 327.8L418.9 328L418.9 341.5L402.1 340.9L385.4 340.3L372.8 339.8L360.2 339.2L347.6 338.6L335 337.9L326.6 337.3L320.7 336.6L317.8 336.1L314.9 334.9L312.4 332.1L310.3 326.6L308.6 321.4L306.5 319.5L305.6 318.3Z" fill="#fdd7af" fill-opacity="0.6" stroke="#d29150" stroke-opacity="0.53" stroke-width="4.4" stroke-linejoin="round"/>
<path d="M316.1 319.3V403.3M345.5 319.3V403.3M389.5 319.3V403.3" stroke="#b0b0b0" stroke-width="1.05" fill="none"/>
<path d="M296 382.3H424" stroke="#b0b0b0" stroke-width="1.15" fill="none"/>
<path d="M301.4 319.3V403.3M360.2 319.3V403.3M418.9 319.3V403.3" stroke="#008000" stroke-opacity="0.5" stroke-width="4.8" fill="none"/>
<path d="M296.9 319.3L301.4 319.3L306.5 319.5L308.6 321.2L310.3 325.9L312.4 330.9L314.9 333.4L317.8 334.5L320.7 335L326.6 335.6L335 336.2L347.6 336.8L360.2 337.4L372.8 337.9L385.4 338.4L402.1 338.9L418.9 339.5L420.4 339.5" fill="none" stroke="#000" stroke-width="9" stroke-linejoin="round" stroke-linecap="butt"/>
</g>
<path d="M316.1 403.3V414.1M330.8 403.3V414.1M345.5 403.3V414.1M374.9 403.3V414.1M389.5 403.3V414.1M404.2 403.3V414.1M296 382.3H285.2M296 361.3H285.2M296 340.3H285.2" stroke="#000" stroke-width="3" fill="none"/>
<path d="M301.4 403.3V421.7M360.2 403.3V421.7M418.9 403.3V421.7M296 403.3H277.6M296 319.3H277.6" stroke="#008000" stroke-width="4.8" fill="none"/>
<rect x="296" y="319.3" width="128" height="84" fill="none" stroke="#008000" stroke-width="5.6"/>
</g>
<g>
<clipPath id="c1_1"><rect x="475.5" y="319.3" width="128" height="84"/></clipPath>
<g clip-path="url(#c1_1)">
<path d="M485.1 318.3L486 319.4L488.1 319.9L489.8 321.4L491.9 323L494.4 323.7L497.3 324.1L500.2 324.2L506.1 324.4L514.5 324.5L527.1 324.7L539.7 324.8L552.3 324.9L564.9 325L581.6 325.2L598.4 325.3L598.4 341.5L581.6 341.1L564.9 340.5L552.3 340.1L539.7 339.6L527.1 339.1L514.5 338.6L506.1 338.1L500.2 337.5L497.3 337L494.4 335.7L491.9 332.8L489.8 327L488.1 321.5L486 319.5L485.1 318.3Z" fill="#1f77b4" fill-opacity="0.5" stroke="#1f77b4" stroke-opacity="0.5" stroke-width="4.4" stroke-linejoin="round"/>
<path d="M485.1 318.3L486 319.4L488.1 320.1L489.8 322L491.9 324L494.4 325.1L497.3 325.5L500.2 325.7L506.1 325.9L514.5 326.1L527.1 326.3L539.7 326.4L552.3 326.6L564.9 326.7L581.6 326.9L598.4 327.1L598.4 337.9L581.6 337.5L564.9 337.1L552.3 336.7L539.7 336.4L527.1 335.9L514.5 335.4L506.1 335L500.2 334.6L497.3 334.1L494.4 333L491.9 330.6L489.8 325.7L488.1 321.2L486 319.5L485.1 318.3Z" fill="#fdd7af" fill-opacity="0.6" stroke="#d29150" stroke-opacity="0.53" stroke-width="4.4" stroke-linejoin="round"/>
<path d="M495.6 319.3V403.3M510.3 319.3V403.3M554.4 319.3V403.3M583.7 319.3V403.3" stroke="#b0b0b0" stroke-width="1.05" fill="none"/>
<path d="M475.5 382.3H603.5" stroke="#b0b0b0" stroke-width="1.15" fill="none"/>
<path d="M480.9 319.3V403.3M539.7 319.3V403.3M598.4 319.3V403.3" stroke="#008000" stroke-opacity="0.5" stroke-width="4.8" fill="none"/>
<path d="M476.4 319.3L480.9 319.3L486 319.5L488.1 320.7L489.8 324L491.9 327.6L494.4 329.4L497.3 330.2L500.2 330.5L506.1 330.8L514.5 331.1L527.1 331.5L539.7 331.8L552.3 332.1L564.9 332.3L581.6 332.7L598.4 333L599.9 333" fill="none" stroke="#000" stroke-width="9" stroke-linejoin="round" stroke-linecap="butt"/>
</g>
<path d="M495.6 403.3V414.1M510.3 403.3V414.1M525 403.3V414.1M554.4 403.3V414.1M569 403.3V414.1M583.7 403.3V414.1M475.5 382.3H464.7M475.5 361.3H464.7M475.5 340.3H464.7" stroke="#000" stroke-width="3" fill="none"/>
<path d="M480.9 403.3V421.7M539.7 403.3V421.7M598.4 403.3V421.7M475.5 403.3H457.1M475.5 319.3H457.1" stroke="#008000" stroke-width="4.8" fill="none"/>
<rect x="475.5" y="319.3" width="128" height="84" fill="none" stroke="#008000" stroke-width="5.6"/>
</g>
<g>
<clipPath id="c1_2"><rect x="655" y="319.3" width="128" height="84"/></clipPath>
<g clip-path="url(#c1_2)">
<path d="M664.6 318.3L665.5 319.4L667.6 319.8L669.3 320.8L671.4 321.9L673.9 322.5L676.8 322.7L679.7 322.8L685.6 323L694 323.1L706.6 323.3L719.2 323.4L731.8 323.6L744.4 323.7L761.1 323.8L777.9 324L777.9 340.6L761.1 340L744.4 339.3L731.8 338.8L719.2 338.2L706.6 337.6L694 336.8L685.6 336.2L679.7 335.5L676.8 335L673.9 333.9L671.4 331.3L669.3 326.1L667.6 321.3L665.5 319.5L664.6 318.3Z" fill="#1f77b4" fill-opacity="0.5" stroke="#1f77b4" stroke-opacity="0.5" stroke-width="4.4" stroke-linejoin="round"/>
<path d="M664.6 318.3L665.5 319.4L667.6 319.8L669.3 321.1L671.4 322.4L673.9 323.1L676.8 323.4L679.7 323.5L685.6 323.7L694 323.9L706.6 324.1L719.2 324.2L731.8 324.4L744.4 324.5L761.1 324.7L777.9 324.9L777.9 339.7L761.1 339.1L744.4 338.5L731.8 338L719.2 337.4L706.6 336.8L694 336.1L685.6 335.5L679.7 334.8L676.8 334.4L673.9 333.3L671.4 330.8L669.3 325.8L667.6 321.2L665.5 319.5L664.6 318.3Z" fill="#fdd7af" fill-opacity="0.6" stroke="#d29150" stroke-opacity="0.53" stroke-width="4.4" stroke-linejoin="round"/>
<path d="M664.6 318.3L665.5 319.4L667.6 320L669.3 321.7L671.4 323.4L673.9 324.3L676.8 324.7L679.7 324.9L685.6 325.1L694 325.3L706.6 325.6L719.2 325.8L731.8 326L744.4 326.2L761.1 326.4L777.9 326.7L777.9 337.9L761.1 337.4L744.4 336.8L731.8 336.3L719.2 335.8L706.6 335.3L694 334.6L685.6 334.1L679.7 333.5L676.8 333L673.9 332L671.4 329.8L669.3 325.3L667.6 321L665.5 319.5L664.6 318.3Z" fill="#d0e8ee" fill-opacity="1" stroke="#b4aa96" stroke-opacity="0.5" stroke-width="4.4" stroke-linejoin="round"/>
<path d="M689.8 319.3V403.3M704.5 319.3V403.3M733.9 319.3V403.3M748.5 319.3V403.3" stroke="#b0b0b0" stroke-width="1.05" fill="none"/>
<path d="M655 382.3H783" stroke="#b0b0b0" stroke-width="1.15" fill="none"/>
<path d="M660.5 319.3V403.3M719.2 319.3V403.3M777.9 319.3V403.3" stroke="#008000" stroke-opacity="0.5" stroke-width="4.8" fill="none"/>
<path d="M656 319.3L660.5 319.3L665.5 319.5L667.6 320.9L669.3 325L671.4 329.3L673.9 331.4L676.8 332.3L679.7 332.8L685.6 333.3L694 333.9L706.6 334.5L719.2 335L731.8 335.5L744.4 335.9L761.1 336.5L777.9 337L779.4 337" fill="none" stroke="#000" stroke-width="9" stroke-linejoin="round" stroke-linecap="butt"/>
</g>
<path d="M675.1 403.3V414.1M689.8 403.3V414.1M704.5 403.3V414.1M733.9 403.3V414.1M748.5 403.3V414.1M763.2 403.3V414.1M655 382.3H644.2M655 361.3H644.2M655 340.3H644.2" stroke="#000" stroke-width="3" fill="none"/>
<path d="M660.5 403.3V421.7M719.2 403.3V421.7M777.9 403.3V421.7M655 403.3H636.6M655 319.3H636.6" stroke="#008000" stroke-width="4.8" fill="none"/>
<rect x="655" y="319.3" width="128" height="84" fill="none" stroke="#008000" stroke-width="5.6"/>
</g>
<g>
<clipPath id="c1_3"><rect x="834.5" y="319.3" width="128" height="84"/></clipPath>
<g clip-path="url(#c1_3)">
<path d="M844.1 318.3L845 319.4L847.1 319.9L848.8 321.3L850.9 322.7L853.4 323.5L856.3 323.8L859.2 323.9L865.1 324.1L873.5 324.3L886.1 324.5L898.7 324.7L911.3 324.8L923.9 325L940.6 325.1L957.4 325.3L957.4 342.9L940.6 342.2L923.9 341.5L911.3 341L898.7 340.4L886.1 339.7L873.5 338.9L865.1 338.3L859.2 337.5L856.3 337L853.4 335.7L850.9 332.8L848.8 327L847.1 321.5L845 319.5L844.1 318.3Z" fill="#1f77b4" fill-opacity="0.5" stroke="#1f77b4" stroke-opacity="0.5" stroke-width="4.4" stroke-linejoin="round"/>
<path d="M844.1 318.3L845 319.4L847.1 320L848.8 321.6L850.9 323.3L853.4 324.1L856.3 324.5L859.2 324.6L865.1 324.9L873.5 325L886.1 325.3L898.7 325.5L911.3 325.6L923.9 325.8L940.6 326L957.4 326.2L957.4 341.5L940.6 340.9L923.9 340.3L911.3 339.7L898.7 339.2L886.1 338.5L873.5 337.8L865.1 337.2L859.2 336.5L856.3 336L853.4 334.8L850.9 332L848.8 326.5L847.1 321.4L845 319.5L844.1 318.3Z" fill="#fdd7af" fill-opacity="0.6" stroke="#d29150" stroke-opacity="0.53" stroke-width="4.4" stroke-linejoin="round"/>
<path d="M844.1 318.3L845 319.4L847.1 320.1L848.8 321.9L850.9 323.9L853.4 324.9L856.3 325.3L859.2 325.5L865.1 325.8L873.5 326L886.1 326.2L898.7 326.5L911.3 326.7L923.9 326.9L940.6 327.1L957.4 327.3L957.4 340.2L940.6 339.6L923.9 339L911.3 338.5L898.7 337.9L886.1 337.4L873.5 336.7L865.1 336.1L859.2 335.4L856.3 334.9L853.4 333.8L850.9 331.2L848.8 326.1L847.1 321.3L845 319.5L844.1 318.3Z" fill="#d0e8ee" fill-opacity="1" stroke="#b4aa96" stroke-opacity="0.5" stroke-width="4.4" stroke-linejoin="round"/>
<path d="M854.6 319.3V403.3M869.3 319.3V403.3M928 319.3V403.3" stroke="#b0b0b0" stroke-width="1.05" fill="none"/>
<path d="M834.5 382.3H962.5" stroke="#b0b0b0" stroke-width="1.15" fill="none"/>
<path d="M840 319.3V403.3M898.7 319.3V403.3M957.4 319.3V403.3" stroke="#008000" stroke-opacity="0.5" stroke-width="4.8" fill="none"/>
<path d="M835.5 319.3L840 319.3L845 319.5L847.1 320.7L848.8 324.1L850.9 327.8L853.4 329.6L856.3 330.4L859.2 330.7L865.1 331.2L873.5 331.6L886.1 332.1L898.7 332.5L911.3 332.9L923.9 333.2L940.6 333.7L957.4 334.1L958.9 334.1" fill="none" stroke="#000" stroke-width="9" stroke-linejoin="round" stroke-linecap="butt"/>
</g>
<path d="M854.6 403.3V414.1M869.3 403.3V414.1M884 403.3V414.1M913.4 403.3V414.1M928 403.3V414.1M942.7 403.3V414.1M834.5 382.3H823.7M834.5 361.3H823.7M834.5 340.3H823.7" stroke="#000" stroke-width="3" fill="none"/>
<path d="M840 403.3V421.7M898.7 403.3V421.7M957.4 403.3V421.7M834.5 403.3H816.1M834.5 319.3H816.1" stroke="#008000" stroke-width="4.8" fill="none"/>
<rect x="834.5" y="319.3" width="128" height="84" fill="none" stroke="#008000" stroke-width="5.6"/>
</g>
<g>
<clipPath id="c1_4"><rect x="1014" y="319.3" width="128" height="84"/></clipPath>
<g clip-path="url(#c1_4)">
<path d="M1023.6 318.3L1024.5 319.4L1026.6 319.9L1028.3 321.3L1030.4 322.8L1032.9 323.6L1035.8 323.9L1038.7 324L1044.6 324.2L1053 324.4L1065.6 324.5L1078.2 324.7L1090.8 324.9L1103.4 325L1120.1 325.1L1136.9 325.3L1136.9 341.8L1120.1 341.2L1103.4 340.6L1090.8 340.1L1078.2 339.5L1065.6 338.9L1053 338.2L1044.6 337.7L1038.7 337L1035.8 336.5L1032.9 335.2L1030.4 332.4L1028.3 326.8L1026.6 321.5L1024.5 319.5L1023.6 318.3Z" fill="#1f77b4" fill-opacity="0.5" stroke="#1f77b4" stroke-opacity="0.5" stroke-width="4.4" stroke-linejoin="round"/>
<path d="M1023.6 318.3L1024.5 319.4L1026.6 320L1028.3 321.6L1030.4 323.3L1032.9 324.2L1035.8 324.6L1038.7 324.7L1044.6 325L1053 325.1L1065.6 325.3L1078.2 325.5L1090.8 325.7L1103.4 325.8L1120.1 326L1136.9 326.2L1136.9 340.2L1120.1 339.7L1103.4 339.1L1090.8 338.6L1078.2 338.1L1065.6 337.6L1053 336.9L1044.6 336.4L1038.7 335.8L1035.8 335.3L1032.9 334.1L1030.4 331.5L1028.3 326.2L1026.6 321.3L1024.5 319.5L1023.6 318.3Z" fill="#fdd7af" fill-opacity="0.6" stroke="#d29150" stroke-opacity="0.53" stroke-width="4.4" stroke-linejoin="round"/>
<path d="M1023.6 318.3L1024.5 319.4L1026.6 320.1L1028.3 321.9L1030.4 323.9L1032.9 324.8L1035.8 325.3L1038.7 325.5L1044.6 325.7L1053 325.9L1065.6 326.1L1078.2 326.3L1090.8 326.5L1103.4 326.7L1120.1 326.9L1136.9 327.1L1136.9 337.9L1120.1 337.5L1103.4 336.9L1090.8 336.5L1078.2 336.1L1065.6 335.6L1053 335L1044.6 334.5L1038.7 334L1035.8 333.6L1032.9 332.5L1030.4 330.2L1028.3 325.5L1026.6 321.1L1024.5 319.5L1023.6 318.3Z" fill="#d0e8ee" fill-opacity="1" stroke="#b4aa96" stroke-opacity="0.5" stroke-width="4.4" stroke-linejoin="round"/>
<path d="M1048.8 319.3V403.3M1063.5 319.3V403.3M1092.9 319.3V403.3M1107.5 319.3V403.3M1122.2 319.3V403.3" stroke="#b0b0b0" stroke-width="1.05" fill="none"/>
<path d="M1014 382.3H1142" stroke="#b0b0b0" stroke-width="1.15" fill="none"/>
<path d="M1019.5 319.3V403.3M1078.2 319.3V403.3M1136.9 319.3V403.3" stroke="#008000" stroke-opacity="0.5" stroke-width="4.8" fill="none"/>
<path d="M1015 319.3L1019.5 319.3L1024.5 319.5L1026.6 320.8L1028.3 324.6L1030.4 328.6L1032.9 330.6L1035.8 331.5L1038.7 331.9L1044.6 332.3L1053 332.7L1065.6 333.2L1078.2 333.6L1090.8 334L1103.4 334.4L1120.1 334.8L1136.9 335.2L1138.4 335.2" fill="none" stroke="#000" stroke-width="9" stroke-linejoin="round" stroke-linecap="butt"/>
</g>
<path d="M1034.1 403.3V414.1M1048.8 403.3V414.1M1063.5 403.3V414.1M1092.9 403.3V414.1M1107.5 403.3V414.1M1122.2 403.3V414.1M1014 382.3H1003.2M1014 361.3H1003.2M1014 340.3H1003.2" stroke="#000" stroke-width="3" fill="none"/>
<path d="M1019.5 403.3V421.7M1078.2 403.3V421.7M1136.9 403.3V421.7M1014 403.3H995.6M1014 319.3H995.6" stroke="#008000" stroke-width="4.8" fill="none"/>
<rect x="1014" y="319.3" width="128" height="84" fill="none" stroke="#008000" stroke-width="5.6"/>
</g>
<g>
<clipPath id="c1_5"><rect x="1193.5" y="319.3" width="128" height="84"/></clipPath>
<g clip-path="url(#c1_5)">
<path d="M1203.1 318.3L1204 319.4L1206.1 319.8L1207.8 320.9L1209.9 322.1L1212.4 322.7L1215.3 323L1218.2 323.1L1224.1 323.2L1232.5 323.3L1245.1 323.5L1257.7 323.6L1270.3 323.7L1282.9 323.7L1299.6 323.9L1316.4 324L1316.4 345.4L1299.6 344.8L1282.9 344.2L1270.3 343.7L1257.7 343.2L1245.1 342.6L1232.5 341.9L1224.1 341.3L1218.2 340.7L1215.3 340.1L1212.4 338.6L1209.9 335.1L1207.8 328.3L1206.1 321.9L1204 319.6L1203.1 318.3Z" fill="#1f77b4" fill-opacity="0.5" stroke="#1f77b4" stroke-opacity="0.5" stroke-width="4.4" stroke-linejoin="round"/>
<path d="M1203.1 318.3L1204 319.4L1206.1 320.1L1207.8 322.1L1209.9 324.2L1212.4 325.2L1215.3 325.7L1218.2 325.9L1224.1 326.1L1232.5 326.3L1245.1 326.5L1257.7 326.7L1270.3 326.8L1282.9 327L1299.6 327.2L1316.4 327.3L1316.4 343.6L1299.6 343L1282.9 342.5L1270.3 342L1257.7 341.5L1245.1 341L1232.5 340.3L1224.1 339.8L1218.2 339.2L1215.3 338.6L1212.4 337.2L1209.9 334L1207.8 327.7L1206.1 321.7L1204 319.5L1203.1 318.3Z" fill="#fdd7af" fill-opacity="0.6" stroke="#d29150" stroke-opacity="0.53" stroke-width="4.4" stroke-linejoin="round"/>
<path d="M1203.1 318.3L1204 319.4L1206.1 320.2L1207.8 322.5L1209.9 324.9L1212.4 326.1L1215.3 326.6L1218.2 326.8L1224.1 327L1232.5 327.2L1245.1 327.5L1257.7 327.7L1270.3 327.9L1282.9 328L1299.6 328.3L1316.4 328.5L1316.4 341.3L1299.6 340.8L1282.9 340.3L1270.3 339.9L1257.7 339.5L1245.1 339L1232.5 338.4L1224.1 337.9L1218.2 337.4L1215.3 336.8L1212.4 335.6L1209.9 332.7L1207.8 326.9L1206.1 321.5L1204 319.5L1203.1 318.3Z" fill="#d0e8ee" fill-opacity="1" stroke="#b4aa96" stroke-opacity="0.5" stroke-width="4.4" stroke-linejoin="round"/>
<path d="M1213.6 319.3V403.3M1243 319.3V403.3M1272.4 319.3V403.3M1287 319.3V403.3" stroke="#b0b0b0" stroke-width="1.05" fill="none"/>
<path d="M1193.5 382.3H1321.5" stroke="#b0b0b0" stroke-width="1.15" fill="none"/>
<path d="M1199 319.3V403.3M1257.7 319.3V403.3M1316.4 319.3V403.3" stroke="#008000" stroke-opacity="0.5" stroke-width="4.8" fill="none"/>
<path d="M1194.5 319.3L1199 319.3L1204 319.4L1206.1 320.6L1207.8 323.7L1209.9 326.9L1212.4 328.6L1215.3 329.3L1218.2 329.6L1224.1 329.9L1232.5 330.2L1245.1 330.5L1257.7 330.8L1270.3 331L1282.9 331.3L1299.6 331.6L1316.4 331.9L1317.9 331.9" fill="none" stroke="#000" stroke-width="9" stroke-linejoin="round" stroke-linecap="butt"/>
</g>
<path d="M1213.6 403.3V414.1M1228.3 403.3V414.1M1243 403.3V414.1M1272.4 403.3V414.1M1287 403.3V414.1M1301.7 403.3V414.1M1193.5 382.3H1182.7M1193.5 361.3H1182.7M1193.5 340.3H1182.7" stroke="#000" stroke-width="3" fill="none"/>
<path d="M1199 403.3V421.7M1257.7 403.3V421.7M1316.4 403.3V421.7M1193.5 403.3H1175.1M1193.5 319.3H1175.1" stroke="#008000" stroke-width="4.8" fill="none"/>
<rect x="1193.5" y="319.3" width="128" height="84" fill="none" stroke="#008000" stroke-width="5.6"/>
</g>
<g>
<clipPath id="c1_6"><rect x="1373" y="319.3" width="128" height="84"/></clipPath>
<g clip-path="url(#c1_6)">
<path d="M1382.6 318.3L1383.5 319.4L1385.6 319.8L1387.3 321.1L1389.4 322.5L1391.9 323.1L1394.8 323.4L1397.7 323.6L1403.6 323.7L1412 323.8L1424.6 324L1437.2 324.1L1449.8 324.2L1462.4 324.4L1479.1 324.5L1495.9 324.6L1495.9 341.8L1479.1 341.2L1462.4 340.6L1449.8 340.2L1437.2 339.6L1424.6 339.1L1412 338.4L1403.6 337.9L1397.7 337.3L1394.8 336.7L1391.9 335.5L1389.4 332.6L1387.3 326.9L1385.6 321.5L1383.5 319.5L1382.6 318.3Z" fill="#1f77b4" fill-opacity="0.5" stroke="#1f77b4" stroke-opacity="0.5" stroke-width="4.4" stroke-linejoin="round"/>
<path d="M1382.6 318.3L1383.5 319.4L1385.6 320L1387.3 321.6L1389.4 323.4L1391.9 324.3L1394.8 324.7L1397.7 324.8L1403.6 325L1412 325.2L1424.6 325.4L1437.2 325.6L1449.8 325.7L1462.4 325.9L1479.1 326L1495.9 326.2L1495.9 339.1L1479.1 338.6L1462.4 338.1L1449.8 337.6L1437.2 337.2L1424.6 336.7L1412 336.1L1403.6 335.7L1397.7 335.1L1394.8 334.6L1391.9 333.5L1389.4 331L1387.3 326L1385.6 321.2L1383.5 319.5L1382.6 318.3Z" fill="#fdd7af" fill-opacity="0.6" stroke="#d29150" stroke-opacity="0.53" stroke-width="4.4" stroke-linejoin="round"/>
<path d="M1393.1 319.3V403.3M1407.8 319.3V403.3M1422.5 319.3V403.3M1466.5 319.3V403.3M1481.2 319.3V403.3" stroke="#b0b0b0" stroke-width="1.05" fill="none"/>
<path d="M1373 382.3H1501" stroke="#b0b0b0" stroke-width="1.15" fill="none"/>
<path d="M1378.5 319.3V403.3M1437.2 319.3V403.3M1495.9 319.3V403.3" stroke="#008000" stroke-opacity="0.5" stroke-width="4.8" fill="none"/>
<path d="M1374 319.3L1378.5 319.3L1383.5 319.5L1385.6 320.7L1387.3 324.2L1389.4 327.9L1391.9 329.8L1394.8 330.6L1397.7 331L1403.6 331.4L1412 331.7L1424.6 332.1L1437.2 332.5L1449.8 332.8L1462.4 333.1L1479.1 333.5L1495.9 333.9L1497.4 333.9" fill="none" stroke="#000" stroke-width="9" stroke-linejoin="round" stroke-linecap="butt"/>
</g>
<path d="M1393.1 403.3V414.1M1407.8 403.3V414.1M1422.5 403.3V414.1M1451.9 403.3V414.1M1466.5 403.3V414.1M1481.2 403.3V414.1M1373 382.3H1362.2M1373 361.3H1362.2M1373 340.3H1362.2" stroke="#000" stroke-width="3" fill="none"/>
<path d="M1378.5 403.3V421.7M1437.2 403.3V421.7M1495.9 403.3V421.7M1373 403.3H1354.6M1373 319.3H1354.6" stroke="#008000" stroke-width="4.8" fill="none"/>
<rect x="1373" y="319.3" width="128" height="84" fill="none" stroke="#008000" stroke-width="5.6"/>
</g>
<g>
<clipPath id="c1_7"><rect x="1552.5" y="319.3" width="128" height="84"/></clipPath>
<g clip-path="url(#c1_7)">
<path d="M1562.1 318.3L1563 319.4L1565.1 319.8L1566.8 321.1L1568.9 322.5L1571.4 323.1L1574.3 323.4L1577.2 323.5L1583.1 323.7L1591.5 323.8L1604.1 324L1616.7 324.1L1629.3 324.2L1641.9 324.4L1658.6 324.5L1675.4 324.6L1675.4 342.9L1658.6 342.3L1641.9 341.7L1629.3 341.2L1616.7 340.6L1604.1 340L1591.5 339.3L1583.1 338.7L1577.2 338.1L1574.3 337.5L1571.4 336.2L1568.9 333.2L1566.8 327.2L1565.1 321.6L1563 319.5L1562.1 318.3Z" fill="#1f77b4" fill-opacity="0.5" stroke="#1f77b4" stroke-opacity="0.5" stroke-width="4.4" stroke-linejoin="round"/>
<path d="M1562.1 318.3L1563 319.4L1565.1 320.1L1566.8 322L1568.9 324L1571.4 325.1L1574.3 325.5L1577.2 325.7L1583.1 325.9L1591.5 326.1L1604.1 326.4L1616.7 326.6L1629.3 326.7L1641.9 326.9L1658.6 327.1L1675.4 327.3L1675.4 340.2L1658.6 339.7L1641.9 339.1L1629.3 338.7L1616.7 338.2L1604.1 337.7L1591.5 337L1583.1 336.5L1577.2 335.9L1574.3 335.4L1571.4 334.3L1568.9 331.6L1566.8 326.3L1565.1 321.3L1563 319.5L1562.1 318.3Z" fill="#fdd7af" fill-opacity="0.6" stroke="#d29150" stroke-opacity="0.53" stroke-width="4.4" stroke-linejoin="round"/>
<path d="M1572.6 319.3V403.3M1587.3 319.3V403.3M1631.4 319.3V403.3M1660.7 319.3V403.3" stroke="#b0b0b0" stroke-width="1.05" fill="none"/>
<path d="M1552.5 382.3H1680.5" stroke="#b0b0b0" stroke-width="1.15" fill="none"/>
<path d="M1558 319.3V403.3M1616.7 319.3V403.3M1675.4 319.3V403.3" stroke="#008000" stroke-opacity="0.5" stroke-width="4.8" fill="none"/>
<path d="M1553.5 319.3L1558 319.3L1563 319.4L1565.1 320.6L1566.8 323.7L1568.9 327.1L1571.4 328.8L1574.3 329.5L1577.2 329.8L1583.1 330.2L1591.5 330.5L1604.1 330.9L1616.7 331.3L1629.3 331.6L1641.9 331.8L1658.6 332.2L1675.4 332.5L1676.9 332.5" fill="none" stroke="#000" stroke-width="9" stroke-linejoin="round" stroke-linecap="butt"/>
</g>
<path d="M1572.6 403.3V414.1M1587.3 403.3V414.1M1602 403.3V414.1M1631.4 403.3V414.1M1646 403.3V414.1M1660.7 403.3V414.1M1552.5 382.3H1541.7M1552.5 361.3H1541.7M1552.5 340.3H1541.7" stroke="#000" stroke-width="3" fill="none"/>
<path d="M1558 403.3V421.7M1616.7 403.3V421.7M1675.4 403.3V421.7M1552.5 403.3H1534.1M1552.5 319.3H1534.1" stroke="#008000" stroke-width="4.8" fill="none"/>
<rect x="1552.5" y="319.3" width="128" height="84" fill="none" stroke="#008000" stroke-width="5.6"/>
</g>
<g>
<clipPath id="c1_8"><rect x="1732" y="319.3" width="128" height="84"/></clipPath>
<g clip-path="url(#c1_8)">
<path d="M1741.6 318.3L1742.5 319.4L1744.6 319.8L1746.3 320.9L1748.4 322L1750.9 322.6L1753.8 322.9L1756.7 323L1762.6 323.1L1771 323.2L1783.6 323.4L1796.2 323.5L1808.8 323.6L1821.4 323.7L1838.1 323.8L1854.9 324L1854.9 344L1838.1 343.4L1821.4 342.7L1808.8 342.1L1796.2 341.5L1783.6 340.9L1771 340.1L1762.6 339.5L1756.7 338.7L1753.8 338.1L1750.9 336.8L1748.4 333.7L1746.3 327.5L1744.6 321.7L1742.5 319.5L1741.6 318.3Z" fill="#1f77b4" fill-opacity="0.5" stroke="#1f77b4" stroke-opacity="0.5" stroke-width="4.4" stroke-linejoin="round"/>
<path d="M1741.6 318.3L1742.5 319.4L1744.6 320L1746.3 321.8L1748.4 323.6L1750.9 324.5L1753.8 324.9L1756.7 325.1L1762.6 325.3L1771 325.5L1783.6 325.7L1796.2 325.9L1808.8 326.1L1821.4 326.3L1838.1 326.5L1854.9 326.7L1854.9 342.4L1838.1 341.8L1821.4 341.2L1808.8 340.7L1796.2 340.1L1783.6 339.5L1771 338.8L1762.6 338.2L1756.7 337.5L1753.8 336.9L1750.9 335.7L1748.4 332.8L1746.3 327L1744.6 321.5L1742.5 319.5L1741.6 318.3Z" fill="#fdd7af" fill-opacity="0.6" stroke="#d29150" stroke-opacity="0.53" stroke-width="4.4" stroke-linejoin="round"/>
<path d="M1741.6 318.3L1742.5 319.4L1744.6 320.2L1746.3 322.3L1748.4 324.6L1750.9 325.8L1753.8 326.3L1756.7 326.5L1762.6 326.8L1771 327L1783.6 327.3L1796.2 327.5L1808.8 327.8L1821.4 328L1838.1 328.2L1854.9 328.5L1854.9 340.2L1838.1 339.6L1821.4 339.1L1808.8 338.6L1796.2 338.1L1783.6 337.5L1771 336.9L1762.6 336.3L1756.7 335.7L1753.8 335.2L1750.9 334.1L1748.4 331.5L1746.3 326.2L1744.6 321.3L1742.5 319.5L1741.6 318.3Z" fill="#d0e8ee" fill-opacity="1" stroke="#b4aa96" stroke-opacity="0.5" stroke-width="4.4" stroke-linejoin="round"/>
<path d="M1752.1 319.3V403.3M1781.5 319.3V403.3M1810.9 319.3V403.3M1825.5 319.3V403.3" stroke="#b0b0b0" stroke-width="1.05" fill="none"/>
<path d="M1732 382.3H1860" stroke="#b0b0b0" stroke-width="1.15" fill="none"/>
<path d="M1737.5 319.3V403.3M1796.2 319.3V403.3M1854.9 319.3V403.3" stroke="#008000" stroke-opacity="0.5" stroke-width="4.8" fill="none"/>
<path d="M1733 319.3L1737.5 319.3L1742.5 319.4L1744.6 320.6L1746.3 323.8L1748.4 327.3L1750.9 329L1753.8 329.7L1756.7 330.1L1762.6 330.5L1771 330.8L1783.6 331.2L1796.2 331.6L1808.8 331.9L1821.4 332.2L1838.1 332.6L1854.9 333L1856.4 333" fill="none" stroke="#000" stroke-width="9" stroke-linejoin="round" stroke-linecap="butt"/>
</g>
<path d="M1752.1 403.3V414.1M1766.8 403.3V414.1M1781.5 403.3V414.1M1810.9 403.3V414.1M1825.5 403.3V414.1M1840.2 403.3V414.1M1732 382.3H1721.2M1732 361.3H1721.2M1732 340.3H1721.2" stroke="#000" stroke-width="3" fill="none"/>
<path d="M1737.5 403.3V421.7M1796.2 403.3V421.7M1854.9 403.3V421.7M1732 403.3H1713.6M1732 319.3H1713.6" stroke="#008000" stroke-width="4.8" fill="none"/>
<rect x="1732" y="319.3" width="128" height="84" fill="none" stroke="#008000" stroke-width="5.6"/>
</g>
<g>
<clipPath id="c1_9"><rect x="1911.5" y="319.3" width="128" height="84"/></clipPath>
<g clip-path="url(#c1_9)">
<path d="M1921.1 318.3L1922 319.4L1924.1 319.9L1925.8 321.2L1927.9 322.6L1930.4 323.3L1933.3 323.6L1936.2 323.7L1942.1 323.9L1950.5 324L1963.1 324.2L1975.7 324.3L1988.3 324.4L2000.9 324.6L2017.6 324.7L2034.4 324.9L2034.4 343.1L2017.6 342.5L2000.9 341.9L1988.3 341.3L1975.7 340.8L1963.1 340.2L1950.5 339.4L1942.1 338.8L1936.2 338.2L1933.3 337.6L1930.4 336.3L1927.9 333.3L1925.8 327.2L1924.1 321.6L1922 319.5L1921.1 318.3Z" fill="#1f77b4" fill-opacity="0.5" stroke="#1f77b4" stroke-opacity="0.5" stroke-width="4.4" stroke-linejoin="round"/>
<path d="M1921.1 318.3L1922 319.4L1924.1 319.9L1925.8 321.5L1927.9 323.1L1930.4 323.9L1933.3 324.3L1936.2 324.4L1942.1 324.6L1950.5 324.8L1963.1 325L1975.7 325.1L1988.3 325.3L2000.9 325.4L2017.6 325.6L2034.4 325.8L2034.4 339.1L2017.6 338.6L2000.9 338L1988.3 337.6L1975.7 337.1L1963.1 336.6L1950.5 336L1942.1 335.5L1936.2 334.9L1933.3 334.5L1930.4 333.4L1927.9 330.9L1925.8 325.9L1924.1 321.2L1922 319.5L1921.1 318.3Z" fill="#fdd7af" fill-opacity="0.6" stroke="#d29150" stroke-opacity="0.53" stroke-width="4.4" stroke-linejoin="round"/>
<path d="M1931.6 319.3V403.3M1946.3 319.3V403.3M1990.4 319.3V403.3M2019.7 319.3V403.3" stroke="#b0b0b0" stroke-width="1.05" fill="none"/>
<path d="M1911.5 382.3H2039.5" stroke="#b0b0b0" stroke-width="1.15" fill="none"/>
<path d="M1917 319.3V403.3M1975.7 319.3V403.3M2034.4 319.3V403.3" stroke="#008000" stroke-opacity="0.5" stroke-width="4.8" fill="none"/>
<path d="M1912.5 319.3L1917 319.3L1922 319.4L1924.1 320.5L1925.8 323.3L1927.9 326.3L1930.4 327.8L1933.3 328.4L1936.2 328.7L1942.1 329L1950.5 329.3L1963.1 329.7L1975.7 330L1988.3 330.3L2000.9 330.5L2017.6 330.9L2034.4 331.2L2035.9 331.2" fill="none" stroke="#000" stroke-width="9" stroke-linejoin="round" stroke-linecap="butt"/>
</g>
<path d="M1931.6 403.3V414.1M1946.3 403.3V414.1M1961 403.3V414.1M1990.4 403.3V414.1M2005 403.3V414.1M2019.7 403.3V414.1M1911.5 382.3H1900.7M1911.5 361.3H1900.7M1911.5 340.3H1900.7" stroke="#000" stroke-width="3" fill="none"/>
<path d="M1917 403.3V421.7M1975.7 403.3V421.7M2034.4 403.3V421.7M1911.5 403.3H1893.1M1911.5 319.3H1893.1" stroke="#008000" stroke-width="4.8" fill="none"/>
<rect x="1911.5" y="319.3" width="128" height="84" fill="none" stroke="#008000" stroke-width="5.6"/>
</g>
<g>
<clipPath id="c1_10"><rect x="2091" y="319.3" width="128" height="84"/></clipPath>
<g clip-path="url(#c1_10)">
<path d="M2100.6 318.3L2101.5 319.4L2103.6 320.2L2105.3 322.4L2107.4 324.7L2109.9 325.9L2112.8 326.4L2115.7 326.6L2121.6 326.8L2130 326.9L2142.6 327.2L2155.2 327.3L2167.8 327.5L2180.3 327.6L2197.1 327.8L2213.9 328L2213.9 337.3L2197.1 336.9L2180.3 336.5L2167.8 336.2L2155.2 335.9L2142.6 335.5L2130 335.1L2121.6 334.7L2115.7 334.3L2112.8 333.9L2109.9 332.8L2107.4 330.4L2105.3 325.6L2103.6 321.1L2101.5 319.5L2100.6 318.3Z" fill="#1f77b4" fill-opacity="0.5" stroke="#1f77b4" stroke-opacity="0.5" stroke-width="4.4" stroke-linejoin="round"/>
<path d="M2100.6 318.3L2101.5 319.4L2103.6 320.3L2105.3 322.7L2107.4 325.3L2109.9 326.5L2112.8 327.1L2115.7 327.3L2121.6 327.5L2130 327.7L2142.6 328L2155.2 328.2L2167.8 328.3L2180.3 328.5L2197.1 328.7L2213.9 328.9L2213.9 336.4L2197.1 336L2180.3 335.7L2167.8 335.4L2155.2 335L2142.6 334.7L2130 334.3L2121.6 334L2115.7 333.6L2112.8 333.1L2109.9 332.1L2107.4 329.9L2105.3 325.3L2103.6 321L2101.5 319.5L2100.6 318.3Z" fill="#fdd7af" fill-opacity="0.6" stroke="#d29150" stroke-opacity="0.53" stroke-width="4.4" stroke-linejoin="round"/>
<path d="M2125.8 319.3V403.3M2140.5 319.3V403.3M2169.9 319.3V403.3M2184.5 319.3V403.3" stroke="#b0b0b0" stroke-width="1.05" fill="none"/>
<path d="M2091 382.3H2219" stroke="#b0b0b0" stroke-width="1.15" fill="none"/>
<path d="M2096.4 319.3V403.3M2155.2 319.3V403.3M2213.9 319.3V403.3" stroke="#0000ff" stroke-opacity="0.5" stroke-width="4.8" fill="none"/>
<path d="M2091.9 319.3L2096.4 319.3L2101.5 319.5L2103.6 320.7L2105.3 324.1L2107.4 327.8L2109.9 329.6L2112.8 330.4L2115.7 330.7L2121.6 331L2130 331.3L2142.6 331.6L2155.2 331.9L2167.8 332.2L2180.3 332.4L2197.1 332.7L2213.9 333L2215.4 333" fill="none" stroke="#000" stroke-width="9" stroke-linejoin="round" stroke-linecap="butt"/>
</g>
<path d="M2111.1 403.3V414.1M2125.8 403.3V414.1M2140.5 403.3V414.1M2169.9 403.3V414.1M2184.5 403.3V414.1M2199.2 403.3V414.1M2091 382.3H2080.2M2091 361.3H2080.2M2091 340.3H2080.2" stroke="#000" stroke-width="3" fill="none"/>
<path d="M2096.4 403.3V421.7M2155.2 403.3V421.7M2213.9 403.3V421.7M2091 403.3H2072.6M2091 319.3H2072.6" stroke="#0000ff" stroke-width="4.8" fill="none"/>
<rect x="2091" y="319.3" width="128" height="84" fill="none" stroke="#0000ff" stroke-width="5.6"/>
</g>
<g>
<clipPath id="c2_0"><rect x="296" y="437.2" width="128" height="84"/></clipPath>
<g clip-path="url(#c2_0)">
<path d="M305.6 436.2L306.5 437.2L308.6 437.8L310.3 439.3L312.4 441L314.9 441.8L317.8 442.1L320.7 442.3L326.6 442.5L335 442.7L347.6 442.9L360.2 443.1L372.8 443.3L385.4 443.4L402.1 443.6L418.9 443.8L418.9 460.8L402.1 460.1L385.4 459.4L372.8 458.8L360.2 458.1L347.6 457.5L335 456.7L326.6 456L320.7 455.2L317.8 454.7L314.9 453.4L312.4 450.5L310.3 444.8L308.6 439.3L306.5 437.4L305.6 436.2Z" fill="#1f77b4" fill-opacity="0.5" stroke="#1f77b4" stroke-opacity="0.5" stroke-width="4.4" stroke-linejoin="round"/>
<path d="M305.6 436.2L306.5 437.3L308.6 438.3L310.3 441.1L312.4 444.1L314.9 445.6L317.8 446.3L320.7 446.6L326.6 447L335 447.3L347.6 447.7L360.2 448.1L372.8 448.4L385.4 448.7L402.1 449.1L418.9 449.5L418.9 459.4L402.1 458.8L385.4 458.1L372.8 457.5L360.2 456.9L347.6 456.3L335 455.5L326.6 454.9L320.7 454.2L317.8 453.7L314.9 452.5L312.4 449.8L310.3 444.3L308.6 439.2L306.5 437.4L305.6 436.2Z" fill="#fdd7af" fill-opacity="0.6" stroke="#d29150" stroke-opacity="0.53" stroke-width="4.4" stroke-linejoin="round"/>
<path d="M316.1 437.2V521.2M345.5 437.2V521.2M389.5 437.2V521.2" stroke="#b0b0b0" stroke-width="1.05" fill="none"/>
<path d="M296 458.2H424M296 479.2H424M296 500.2H424" stroke="#b0b0b0" stroke-width="1.15" fill="none"/>
<path d="M301.4 437.2V521.2M360.2 437.2V521.2M418.9 437.2V521.2" stroke="#008000" stroke-opacity="0.5" stroke-width="4.8" fill="none"/>
<path d="M296.9 437.2L301.4 437.2L306.5 437.3L308.6 438.8L310.3 442.7L312.4 447L314.9 449.1L317.8 450L320.7 450.4L326.6 450.9L335 451.4L347.6 452L360.2 452.5L372.8 453L385.4 453.4L402.1 453.9L418.9 454.4L420.4 454.4" fill="none" stroke="#000" stroke-width="9" stroke-linejoin="round" stroke-linecap="butt"/>
</g>
<path d="M316.1 521.2V532M330.8 521.2V532M345.5 521.2V532M374.9 521.2V532M389.5 521.2V532M404.2 521.2V532M296 500.2H285.2M296 479.2H285.2M296 458.2H285.2" stroke="#000" stroke-width="3" fill="none"/>
<path d="M301.4 521.2V539.6M360.2 521.2V539.6M418.9 521.2V539.6M296 521.2H277.6M296 437.2H277.6" stroke="#008000" stroke-width="4.8" fill="none"/>
<rect x="296" y="437.2" width="128" height="84" fill="none" stroke="#008000" stroke-width="5.6"/>
</g>
<g>
<clipPath id="c2_1"><rect x="475.5" y="437.2" width="128" height="84"/></clipPath>
<g clip-path="url(#c2_1)">
<path d="M485.1 436.2L486 437.2L488.1 437.7L489.8 439L491.9 440.4L494.4 441.1L497.3 441.5L500.2 441.6L506.1 441.7L514.5 441.9L527.1 442L539.7 442.2L552.3 442.3L564.9 442.4L581.6 442.6L598.4 442.7L598.4 459.9L581.6 459.3L564.9 458.7L552.3 458.2L539.7 457.7L527.1 457.1L514.5 456.4L506.1 455.9L500.2 455.3L497.3 454.7L494.4 453.4L491.9 450.6L489.8 444.8L488.1 439.3L486 437.4L485.1 436.2Z" fill="#1f77b4" fill-opacity="0.5" stroke="#1f77b4" stroke-opacity="0.5" stroke-width="4.4" stroke-linejoin="round"/>
<path d="M485.1 436.2L486 437.2L488.1 437.8L489.8 439.5L491.9 441.2L494.4 442.1L497.3 442.5L500.2 442.7L506.1 442.9L514.5 443L527.1 443.2L539.7 443.4L552.3 443.6L564.9 443.7L581.6 443.9L598.4 444.1L598.4 459L581.6 458.4L564.9 457.8L552.3 457.4L539.7 456.9L527.1 456.3L514.5 455.7L506.1 455.2L500.2 454.5L497.3 454L494.4 452.8L491.9 450L489.8 444.5L488.1 439.3L486 437.4L485.1 436.2Z" fill="#fdd7af" fill-opacity="0.6" stroke="#d29150" stroke-opacity="0.53" stroke-width="4.4" stroke-linejoin="round"/>
<path d="M495.6 437.2V521.2M510.3 437.2V521.2M554.4 437.2V521.2M583.7 437.2V521.2" stroke="#b0b0b0" stroke-width="1.05" fill="none"/>
<path d="M475.5 458.2H603.5M475.5 479.2H603.5M475.5 500.2H603.5" stroke="#b0b0b0" stroke-width="1.15" fill="none"/>
<path d="M480.9 437.2V521.2M539.7 437.2V521.2M598.4 437.2V521.2" stroke="#008000" stroke-opacity="0.5" stroke-width="4.8" fill="none"/>
<path d="M476.4 437.2L480.9 437.2L486 437.3L488.1 439L489.8 443.5L491.9 448.3L494.4 450.7L497.3 451.7L500.2 452.2L506.1 452.7L514.5 453.2L527.1 453.7L539.7 454.2L552.3 454.6L564.9 455L581.6 455.5L598.4 456L599.9 456" fill="none" stroke="#000" stroke-width="9" stroke-linejoin="round" stroke-linecap="butt"/>
</g>
<path d="M495.6 521.2V532M510.3 521.2V532M525 521.2V532M554.4 521.2V532M569 521.2V532M583.7 521.2V532M475.5 500.2H464.7M475.5 479.2H464.7M475.5 458.2H464.7" stroke="#000" stroke-width="3" fill="none"/>
<path d="M480.9 521.2V539.6M539.7 521.2V539.6M598.4 521.2V539.6M475.5 521.2H457.1M475.5 437.2H457.1" stroke="#008000" stroke-width="4.8" fill="none"/>
<rect x="475.5" y="437.2" width="128" height="84" fill="none" stroke="#008000" stroke-width="5.6"/>
</g>
<g>
<clipPath id="c2_2"><rect x="655" y="437.2" width="128" height="84"/></clipPath>
<g clip-path="url(#c2_2)">
<path d="M664.6 436.2L665.5 437.2L667.6 437.8L669.3 439.4L671.4 441L673.9 441.9L676.8 442.2L679.7 442.4L685.6 442.6L694 442.7L706.6 442.9L719.2 443L731.8 443.2L744.4 443.3L761.1 443.5L777.9 443.6L777.9 465.3L761.1 464.6L744.4 463.9L731.8 463.3L719.2 462.7L706.6 462L694 461.3L685.6 460.6L679.7 459.9L676.8 459.2L673.9 457.6L671.4 454L669.3 446.7L667.6 439.9L665.5 437.4L664.6 436.2Z" fill="#1f77b4" fill-opacity="0.5" stroke="#1f77b4" stroke-opacity="0.5" stroke-width="4.4" stroke-linejoin="round"/>
<path d="M664.6 436.2L665.5 437.2L667.6 437.9L669.3 439.8L671.4 441.8L673.9 442.8L676.8 443.3L679.7 443.5L685.6 443.7L694 443.9L706.6 444.1L719.2 444.3L731.8 444.4L744.4 444.6L761.1 444.8L777.9 445L777.9 459.9L761.1 459.3L744.4 458.8L731.8 458.3L719.2 457.8L706.6 457.3L694 456.6L685.6 456.1L679.7 455.5L676.8 455L673.9 453.7L671.4 450.7L669.3 444.9L667.6 439.4L665.5 437.4L664.6 436.2Z" fill="#fdd7af" fill-opacity="0.6" stroke="#d29150" stroke-opacity="0.53" stroke-width="4.4" stroke-linejoin="round"/>
<path d="M689.8 437.2V521.2M704.5 437.2V521.2M733.9 437.2V521.2M748.5 437.2V521.2" stroke="#b0b0b0" stroke-width="1.05" fill="none"/>
<path d="M655 458.2H783M655 479.2H783M655 500.2H783" stroke="#b0b0b0" stroke-width="1.15" fill="none"/>
<path d="M660.5 437.2V521.2M719.2 437.2V521.2M777.9 437.2V521.2" stroke="#008000" stroke-opacity="0.5" stroke-width="4.8" fill="none"/>
<path d="M656 437.2L660.5 437.2L665.5 437.3L667.6 438.7L669.3 442.3L671.4 446.3L673.9 448.3L676.8 449.1L679.7 449.5L685.6 449.9L694 450.2L706.6 450.7L719.2 451L731.8 451.4L744.4 451.7L761.1 452.1L777.9 452.4L779.4 452.4" fill="none" stroke="#000" stroke-width="9" stroke-linejoin="round" stroke-linecap="butt"/>
</g>
<path d="M675.1 521.2V532M689.8 521.2V532M704.5 521.2V532M733.9 521.2V532M748.5 521.2V532M763.2 521.2V532M655 500.2H644.2M655 479.2H644.2M655 458.2H644.2" stroke="#000" stroke-width="3" fill="none"/>
<path d="M660.5 521.2V539.6M719.2 521.2V539.6M777.9 521.2V539.6M655 521.2H636.6M655 437.2H636.6" stroke="#008000" stroke-width="4.8" fill="none"/>
<rect x="655" y="437.2" width="128" height="84" fill="none" stroke="#008000" stroke-width="5.6"/>
</g>
<g>
<clipPath id="c2_3"><rect x="834.5" y="437.2" width="128" height="84"/></clipPath>
<g clip-path="url(#c2_3)">
<path d="M844.1 436.2L845 437.2L847.1 437.7L848.8 439.1L850.9 440.6L853.4 441.3L856.3 441.6L859.2 441.8L865.1 442L873.5 442.1L886.1 442.3L898.7 442.5L911.3 442.7L923.9 442.8L940.6 443L957.4 443.2L957.4 458.5L940.6 457.9L923.9 457.2L911.3 456.7L898.7 456.1L886.1 455.5L873.5 454.8L865.1 454.2L859.2 453.5L856.3 453L853.4 451.9L850.9 449.3L848.8 444L847.1 439.1L845 437.3L844.1 436.2Z" fill="#1f77b4" fill-opacity="0.5" stroke="#1f77b4" stroke-opacity="0.5" stroke-width="4.4" stroke-linejoin="round"/>
<path d="M844.1 436.2L845 437.2L847.1 437.8L848.8 439.4L850.9 441.1L853.4 441.9L856.3 442.3L859.2 442.4L865.1 442.7L873.5 442.9L886.1 443.1L898.7 443.3L911.3 443.5L923.9 443.7L940.6 443.9L957.4 444.1L957.4 457.6L940.6 457L923.9 456.4L911.3 455.9L898.7 455.3L886.1 454.7L873.5 454.1L865.1 453.5L859.2 452.8L856.3 452.3L853.4 451.3L850.9 448.7L848.8 443.7L847.1 439.1L845 437.3L844.1 436.2Z" fill="#fdd7af" fill-opacity="0.6" stroke="#d29150" stroke-opacity="0.53" stroke-width="4.4" stroke-linejoin="round"/>
<path d="M844.1 436.2L845 437.2L847.1 437.9L848.8 439.8L850.9 441.8L853.4 442.9L856.3 443.3L859.2 443.5L865.1 443.8L873.5 444L886.1 444.3L898.7 444.5L911.3 444.7L923.9 444.9L940.6 445.2L957.4 445.4L957.4 456.7L940.6 456.1L923.9 455.5L911.3 455.1L898.7 454.5L886.1 454L873.5 453.3L865.1 452.8L859.2 452.1L856.3 451.7L853.4 450.6L850.9 448.2L848.8 443.5L847.1 439L845 437.3L844.1 436.2Z" fill="#d0e8ee" fill-opacity="1" stroke="#b4aa96" stroke-opacity="0.5" stroke-width="4.4" stroke-linejoin="round"/>
<path d="M854.6 437.2V521.2M869.3 437.2V521.2M928 437.2V521.2" stroke="#b0b0b0" stroke-width="1.05" fill="none"/>
<path d="M834.5 458.2H962.5M834.5 479.2H962.5M834.5 500.2H962.5" stroke="#b0b0b0" stroke-width="1.15" fill="none"/>
<path d="M840 437.2V521.2M898.7 437.2V521.2M957.4 437.2V521.2" stroke="#008000" stroke-opacity="0.5" stroke-width="4.8" fill="none"/>
<path d="M835.5 437.2L840 437.2L845 437.3L847.1 438.8L848.8 442.7L850.9 447L853.4 449.1L856.3 450L859.2 450.4L865.1 450.9L873.5 451.4L886.1 452L898.7 452.5L911.3 453L923.9 453.4L940.6 453.9L957.4 454.4L958.9 454.4" fill="none" stroke="#000" stroke-width="9" stroke-linejoin="round" stroke-linecap="butt"/>
</g>
<path d="M854.6 521.2V532M869.3 521.2V532M884 521.2V532M913.4 521.2V532M928 521.2V532M942.7 521.2V532M834.5 500.2H823.7M834.5 479.2H823.7M834.5 458.2H823.7" stroke="#000" stroke-width="3" fill="none"/>
<path d="M840 521.2V539.6M898.7 521.2V539.6M957.4 521.2V539.6M834.5 521.2H816.1M834.5 437.2H816.1" stroke="#008000" stroke-width="4.8" fill="none"/>
<rect x="834.5" y="437.2" width="128" height="84" fill="none" stroke="#008000" stroke-width="5.6"/>
</g>
<g>
<clipPath id="c2_4"><rect x="1014" y="437.2" width="128" height="84"/></clipPath>
<g clip-path="url(#c2_4)">
<path d="M1023.6 436.2L1024.5 437.2L1026.6 437.7L1028.3 438.9L1030.4 440.2L1032.9 440.8L1035.8 441.1L1038.7 441.2L1044.6 441.4L1053 441.5L1065.6 441.6L1078.2 441.8L1090.8 441.9L1103.4 442L1120.1 442.1L1136.9 442.3L1136.9 458.7L1120.1 458.2L1103.4 457.6L1090.8 457.2L1078.2 456.7L1065.6 456.1L1053 455.5L1044.6 455L1038.7 454.3L1035.8 453.8L1032.9 452.6L1030.4 449.9L1028.3 444.4L1026.6 439.2L1024.5 437.4L1023.6 436.2Z" fill="#1f77b4" fill-opacity="0.5" stroke="#1f77b4" stroke-opacity="0.5" stroke-width="4.4" stroke-linejoin="round"/>
<path d="M1023.6 436.2L1024.5 437.2L1026.6 437.8L1028.3 439.5L1030.4 441.2L1032.9 442.1L1035.8 442.5L1038.7 442.7L1044.6 442.9L1053 443L1065.6 443.2L1078.2 443.4L1090.8 443.6L1103.4 443.7L1120.1 443.9L1136.9 444.1L1136.9 457.2L1120.1 456.7L1103.4 456.1L1090.8 455.7L1078.2 455.2L1065.6 454.7L1053 454.1L1044.6 453.7L1038.7 453.1L1035.8 452.6L1032.9 451.5L1030.4 449L1028.3 443.9L1026.6 439.1L1024.5 437.3L1023.6 436.2Z" fill="#fdd7af" fill-opacity="0.6" stroke="#d29150" stroke-opacity="0.53" stroke-width="4.4" stroke-linejoin="round"/>
<path d="M1048.8 437.2V521.2M1063.5 437.2V521.2M1092.9 437.2V521.2M1107.5 437.2V521.2M1122.2 437.2V521.2" stroke="#b0b0b0" stroke-width="1.05" fill="none"/>
<path d="M1014 458.2H1142M1014 479.2H1142M1014 500.2H1142" stroke="#b0b0b0" stroke-width="1.15" fill="none"/>
<path d="M1019.5 437.2V521.2M1078.2 437.2V521.2M1136.9 437.2V521.2" stroke="#008000" stroke-opacity="0.5" stroke-width="4.8" fill="none"/>
<path d="M1015 437.2L1019.5 437.2L1024.5 437.3L1026.6 438.7L1028.3 442.3L1030.4 446.3L1032.9 448.3L1035.8 449.1L1038.7 449.5L1044.6 449.9L1053 450.3L1065.6 450.8L1078.2 451.1L1090.8 451.5L1103.4 451.8L1120.1 452.2L1136.9 452.6L1138.4 452.6" fill="none" stroke="#000" stroke-width="9" stroke-linejoin="round" stroke-linecap="butt"/>
</g>
<path d="M1034.1 521.2V532M1048.8 521.2V532M1063.5 521.2V532M1092.9 521.2V532M1107.5 521.2V532M1122.2 521.2V532M1014 500.2H1003.2M1014 479.2H1003.2M1014 458.2H1003.2" stroke="#000" stroke-width="3" fill="none"/>
<path d="M1019.5 521.2V539.6M1078.2 521.2V539.6M1136.9 521.2V539.6M1014 521.2H995.6M1014 437.2H995.6" stroke="#008000" stroke-width="4.8" fill="none"/>
<rect x="1014" y="437.2" width="128" height="84" fill="none" stroke="#008000" stroke-width="5.6"/>
</g>
<g>
<clipPath id="c2_5"><rect x="1193.5" y="437.2" width="128" height="84"/></clipPath>
<g clip-path="url(#c2_5)">
<path d="M1203.1 436.2L1204 437.2L1206.1 437.8L1207.8 439.3L1209.9 441L1212.4 441.8L1215.3 442.2L1218.2 442.3L1224.1 442.5L1232.5 442.7L1245.1 442.8L1257.7 443L1270.3 443.2L1282.9 443.3L1299.6 443.5L1316.4 443.6L1316.4 461.9L1299.6 461.3L1282.9 460.6L1270.3 460.1L1257.7 459.5L1245.1 458.9L1232.5 458.2L1224.1 457.6L1218.2 456.9L1215.3 456.3L1212.4 454.9L1209.9 451.8L1207.8 445.5L1206.1 439.5L1204 437.4L1203.1 436.2Z" fill="#1f77b4" fill-opacity="0.5" stroke="#1f77b4" stroke-opacity="0.5" stroke-width="4.4" stroke-linejoin="round"/>
<path d="M1203.1 436.2L1204 437.2L1206.1 438L1207.8 439.9L1209.9 442L1212.4 443.1L1215.3 443.6L1218.2 443.8L1224.1 444L1232.5 444.2L1245.1 444.4L1257.7 444.6L1270.3 444.8L1282.9 445L1299.6 445.2L1316.4 445.4L1316.4 460.3L1299.6 459.7L1282.9 459.1L1270.3 458.6L1257.7 458.1L1245.1 457.5L1232.5 456.9L1224.1 456.3L1218.2 455.7L1215.3 455.1L1212.4 453.8L1209.9 450.9L1207.8 444.9L1206.1 439.4L1204 437.4L1203.1 436.2Z" fill="#fdd7af" fill-opacity="0.6" stroke="#d29150" stroke-opacity="0.53" stroke-width="4.4" stroke-linejoin="round"/>
<path d="M1213.6 437.2V521.2M1243 437.2V521.2M1272.4 437.2V521.2M1287 437.2V521.2" stroke="#b0b0b0" stroke-width="1.05" fill="none"/>
<path d="M1193.5 458.2H1321.5M1193.5 479.2H1321.5M1193.5 500.2H1321.5" stroke="#b0b0b0" stroke-width="1.15" fill="none"/>
<path d="M1199 437.2V521.2M1257.7 437.2V521.2M1316.4 437.2V521.2" stroke="#008000" stroke-opacity="0.5" stroke-width="4.8" fill="none"/>
<path d="M1194.5 437.2L1199 437.2L1204 437.3L1206.1 438.6L1207.8 442.1L1209.9 445.8L1212.4 447.6L1215.3 448.5L1218.2 448.8L1224.1 449.2L1232.5 449.6L1245.1 450L1257.7 450.4L1270.3 450.7L1282.9 451L1299.6 451.4L1316.4 451.7L1317.9 451.7" fill="none" stroke="#000" stroke-width="9" stroke-linejoin="round" stroke-linecap="butt"/>
</g>
<path d="M1213.6 521.2V532M1228.3 521.2V532M1243 521.2V532M1272.4 521.2V532M1287 521.2V532M1301.7 521.2V532M1193.5 500.2H1182.7M1193.5 479.2H1182.7M1193.5 458.2H1182.7" stroke="#000" stroke-width="3" fill="none"/>
<path d="M1199 521.2V539.6M1257.7 521.2V539.6M1316.4 521.2V539.6M1193.5 521.2H1175.1M1193.5 437.2H1175.1" stroke="#008000" stroke-width="4.8" fill="none"/>
<rect x="1193.5" y="437.2" width="128" height="84" fill="none" stroke="#008000" stroke-width="5.6"/>
</g>
<g>
<clipPath id="c2_6"><rect x="1373" y="437.2" width="128" height="84"/></clipPath>
<g clip-path="url(#c2_6)">
<path d="M1382.6 436.2L1383.5 437.2L1385.6 437.7L1387.3 438.9L1389.4 440.2L1391.9 440.9L1394.8 441.2L1397.7 441.3L1403.6 441.4L1412 441.5L1424.6 441.7L1437.2 441.8L1449.8 441.9L1462.4 442L1479.1 442.1L1495.9 442.3L1495.9 457.2L1479.1 456.7L1462.4 456.2L1449.8 455.8L1437.2 455.3L1424.6 454.9L1412 454.3L1403.6 453.8L1397.7 453.3L1394.8 452.8L1391.9 451.7L1389.4 449.1L1387.3 444L1385.6 439.1L1383.5 437.3L1382.6 436.2Z" fill="#1f77b4" fill-opacity="0.5" stroke="#1f77b4" stroke-opacity="0.5" stroke-width="4.4" stroke-linejoin="round"/>
<path d="M1382.6 436.2L1383.5 437.2L1385.6 437.8L1387.3 439.2L1389.4 440.8L1391.9 441.5L1394.8 441.9L1397.7 442L1403.6 442.2L1412 442.3L1424.6 442.5L1437.2 442.6L1449.8 442.8L1462.4 442.9L1479.1 443L1495.9 443.2L1495.9 456L1479.1 455.6L1462.4 455.1L1449.8 454.7L1437.2 454.3L1424.6 453.9L1412 453.3L1403.6 452.9L1397.7 452.4L1394.8 451.9L1391.9 450.9L1389.4 448.4L1387.3 443.6L1385.6 439L1383.5 437.3L1382.6 436.2Z" fill="#fdd7af" fill-opacity="0.6" stroke="#d29150" stroke-opacity="0.53" stroke-width="4.4" stroke-linejoin="round"/>
<path d="M1393.1 437.2V521.2M1407.8 437.2V521.2M1422.5 437.2V521.2M1466.5 437.2V521.2M1481.2 437.2V521.2" stroke="#b0b0b0" stroke-width="1.05" fill="none"/>
<path d="M1373 458.2H1501M1373 479.2H1501M1373 500.2H1501" stroke="#b0b0b0" stroke-width="1.15" fill="none"/>
<path d="M1378.5 437.2V521.2M1437.2 437.2V521.2M1495.9 437.2V521.2" stroke="#008000" stroke-opacity="0.5" stroke-width="4.8" fill="none"/>
<path d="M1374 437.2L1378.5 437.2L1383.5 437.3L1385.6 438.2L1387.3 440.7L1389.4 443.5L1391.9 444.8L1394.8 445.4L1397.7 445.7L1403.6 445.9L1412 446.2L1424.6 446.5L1437.2 446.7L1449.8 447L1462.4 447.2L1479.1 447.4L1495.9 447.7L1497.4 447.7" fill="none" stroke="#000" stroke-width="9" stroke-linejoin="round" stroke-linecap="butt"/>
</g>
<path d="M1393.1 521.2V532M1407.8 521.2V532M1422.5 521.2V532M1451.9 521.2V532M1466.5 521.2V532M1481.2 521.2V532M1373 500.2H1362.2M1373 479.2H1362.2M1373 458.2H1362.2" stroke="#000" stroke-width="3" fill="none"/>
<path d="M1378.5 521.2V539.6M1437.2 521.2V539.6M1495.9 521.2V539.6M1373 521.2H1354.6M1373 437.2H1354.6" stroke="#008000" stroke-width="4.8" fill="none"/>
<rect x="1373" y="437.2" width="128" height="84" fill="none" stroke="#008000" stroke-width="5.6"/>
</g>
<g>
<clipPath id="c2_7"><rect x="1552.5" y="437.2" width="128" height="84"/></clipPath>
<g clip-path="url(#c2_7)">
<path d="M1562.1 436.2L1563 437.2L1565.1 437.8L1566.8 439.4L1568.9 441.1L1571.4 441.9L1574.3 442.3L1577.2 442.4L1583.1 442.7L1591.5 442.9L1604.1 443.2L1616.7 443.4L1629.3 443.6L1641.9 443.8L1658.6 444.1L1675.4 444.3L1675.4 459.4L1658.6 458.7L1641.9 457.9L1629.3 457.3L1616.7 456.7L1604.1 455.9L1591.5 455.1L1583.1 454.4L1577.2 453.6L1574.3 453.1L1571.4 451.9L1568.9 449.3L1566.8 444.1L1565.1 439.1L1563 437.3L1562.1 436.2Z" fill="#1f77b4" fill-opacity="0.5" stroke="#1f77b4" stroke-opacity="0.5" stroke-width="4.4" stroke-linejoin="round"/>
<path d="M1562.1 436.2L1563 437.2L1565.1 437.9L1566.8 439.7L1568.9 441.7L1571.4 442.6L1574.3 443.1L1577.2 443.3L1583.1 443.6L1591.5 443.8L1604.1 444.1L1616.7 444.4L1629.3 444.6L1641.9 444.9L1658.6 445.1L1675.4 445.4L1675.4 457.2L1658.6 456.5L1641.9 455.8L1629.3 455.3L1616.7 454.7L1604.1 454L1591.5 453.3L1583.1 452.7L1577.2 451.9L1574.3 451.5L1571.4 450.5L1568.9 448.1L1566.8 443.4L1565.1 438.9L1563 437.3L1562.1 436.2Z" fill="#fdd7af" fill-opacity="0.6" stroke="#d29150" stroke-opacity="0.53" stroke-width="4.4" stroke-linejoin="round"/>
<path d="M1572.6 437.2V521.2M1587.3 437.2V521.2M1631.4 437.2V521.2M1660.7 437.2V521.2" stroke="#b0b0b0" stroke-width="1.05" fill="none"/>
<path d="M1552.5 458.2H1680.5M1552.5 479.2H1680.5M1552.5 500.2H1680.5" stroke="#b0b0b0" stroke-width="1.15" fill="none"/>
<path d="M1558 437.2V521.2M1616.7 437.2V521.2M1675.4 437.2V521.2" stroke="#008000" stroke-opacity="0.5" stroke-width="4.8" fill="none"/>
<path d="M1553.5 437.2L1558 437.2L1563 437.3L1565.1 438.5L1566.8 442L1568.9 445.6L1571.4 447.4L1574.3 448.2L1577.2 448.6L1583.1 449.2L1591.5 449.6L1604.1 450.2L1616.7 450.7L1629.3 451.2L1641.9 451.6L1658.6 452.1L1675.4 452.6L1676.9 452.6" fill="none" stroke="#000" stroke-width="9" stroke-linejoin="round" stroke-linecap="butt"/>
</g>
<path d="M1572.6 521.2V532M1587.3 521.2V532M1602 521.2V532M1631.4 521.2V532M1646 521.2V532M1660.7 521.2V532M1552.5 500.2H1541.7M1552.5 479.2H1541.7M1552.5 458.2H1541.7" stroke="#000" stroke-width="3" fill="none"/>
<path d="M1558 521.2V539.6M1616.7 521.2V539.6M1675.4 521.2V539.6M1552.5 521.2H1534.1M1552.5 437.2H1534.1" stroke="#008000" stroke-width="4.8" fill="none"/>
<rect x="1552.5" y="437.2" width="128" height="84" fill="none" stroke="#008000" stroke-width="5.6"/>
</g>
<g>
<clipPath id="c2_8"><rect x="1732" y="437.2" width="128" height="84"/></clipPath>
<g clip-path="url(#c2_8)">
<path d="M1741.6 436.2L1742.5 437.2L1744.6 437.7L1746.3 438.8L1748.4 440.1L1750.9 440.7L1753.8 441L1756.7 441.1L1762.6 441.3L1771 441.4L1783.6 441.6L1796.2 441.7L1808.8 441.9L1821.4 442L1838.1 442.1L1854.9 442.3L1854.9 455.4L1838.1 454.9L1821.4 454.3L1808.8 453.9L1796.2 453.5L1783.6 453L1771 452.4L1762.6 451.9L1756.7 451.3L1753.8 450.9L1750.9 449.9L1748.4 447.7L1746.3 443.1L1744.6 438.9L1742.5 437.3L1741.6 436.2Z" fill="#1f77b4" fill-opacity="0.5" stroke="#1f77b4" stroke-opacity="0.5" stroke-width="4.4" stroke-linejoin="round"/>
<path d="M1741.6 436.2L1742.5 437.2L1744.6 437.7L1746.3 439.1L1748.4 440.6L1750.9 441.4L1753.8 441.7L1756.7 441.8L1762.6 442L1771 442.2L1783.6 442.4L1796.2 442.5L1808.8 442.7L1821.4 442.8L1838.1 443L1854.9 443.2L1854.9 454.5L1838.1 454L1821.4 453.5L1808.8 453.1L1796.2 452.7L1783.6 452.2L1771 451.6L1762.6 451.2L1756.7 450.6L1753.8 450.2L1750.9 449.3L1748.4 447.1L1746.3 442.8L1744.6 438.8L1742.5 437.3L1741.6 436.2Z" fill="#fdd7af" fill-opacity="0.6" stroke="#d29150" stroke-opacity="0.53" stroke-width="4.4" stroke-linejoin="round"/>
<path d="M1752.1 437.2V521.2M1781.5 437.2V521.2M1810.9 437.2V521.2M1825.5 437.2V521.2" stroke="#b0b0b0" stroke-width="1.05" fill="none"/>
<path d="M1732 458.2H1860M1732 479.2H1860M1732 500.2H1860" stroke="#b0b0b0" stroke-width="1.15" fill="none"/>
<path d="M1737.5 437.2V521.2M1796.2 437.2V521.2M1854.9 437.2V521.2" stroke="#008000" stroke-opacity="0.5" stroke-width="4.8" fill="none"/>
<path d="M1733 437.2L1737.5 437.2L1742.5 437.3L1744.6 438.4L1746.3 441.5L1748.4 444.8L1750.9 446.4L1753.8 447.2L1756.7 447.5L1762.6 447.9L1771 448.2L1783.6 448.6L1796.2 449L1808.8 449.3L1821.4 449.6L1838.1 450L1854.9 450.4L1856.4 450.4" fill="none" stroke="#000" stroke-width="9" stroke-linejoin="round" stroke-linecap="butt"/>
</g>
<path d="M1752.1 521.2V532M1766.8 521.2V532M1781.5 521.2V532M1810.9 521.2V532M1825.5 521.2V532M1840.2 521.2V532M1732 500.2H1721.2M1732 479.2H1721.2M1732 458.2H1721.2" stroke="#000" stroke-width="3" fill="none"/>
<path d="M1737.5 521.2V539.6M1796.2 521.2V539.6M1854.9 521.2V539.6M1732 521.2H1713.6M1732 437.2H1713.6" stroke="#008000" stroke-width="4.8" fill="none"/>
<rect x="1732" y="437.2" width="128" height="84" fill="none" stroke="#008000" stroke-width="5.6"/>
</g>
<g>
<clipPath id="c2_9"><rect x="1911.5" y="437.2" width="128" height="84"/></clipPath>
<g clip-path="url(#c2_9)">
<path d="M1921.1 436.2L1922 437.3L1924.1 438L1925.8 440.2L1927.9 442.5L1930.4 443.7L1933.3 444.2L1936.2 444.4L1942.1 444.7L1950.5 444.9L1963.1 445.2L1975.7 445.4L1988.3 445.6L2000.9 445.8L2017.6 446.1L2034.4 446.3L2034.4 459.4L2017.6 458.8L2000.9 458.2L1988.3 457.7L1975.7 457.2L1963.1 456.6L1950.5 456L1942.1 455.4L1936.2 454.8L1933.3 454.2L1930.4 453L1927.9 450.2L1925.8 444.6L1924.1 439.3L1922 437.4L1921.1 436.2Z" fill="#1f77b4" fill-opacity="0.5" stroke="#1f77b4" stroke-opacity="0.5" stroke-width="4.4" stroke-linejoin="round"/>
<path d="M1921.1 436.2L1922 437.3L1924.1 438.1L1925.8 440.5L1927.9 443.1L1930.4 444.3L1933.3 444.9L1936.2 445.1L1942.1 445.4L1950.5 445.7L1963.1 446L1975.7 446.2L1988.3 446.5L2000.9 446.7L2017.6 447L2034.4 447.2L2034.4 458.1L2017.6 457.5L2000.9 456.9L1988.3 456.5L1975.7 456L1963.1 455.5L1950.5 454.8L1942.1 454.3L1936.2 453.7L1933.3 453.2L1930.4 452L1927.9 449.4L1925.8 444.1L1924.1 439.2L1922 437.3L1921.1 436.2Z" fill="#fdd7af" fill-opacity="0.6" stroke="#d29150" stroke-opacity="0.53" stroke-width="4.4" stroke-linejoin="round"/>
<path d="M1931.6 437.2V521.2M1946.3 437.2V521.2M1990.4 437.2V521.2M2019.7 437.2V521.2" stroke="#b0b0b0" stroke-width="1.05" fill="none"/>
<path d="M1911.5 458.2H2039.5M1911.5 479.2H2039.5M1911.5 500.2H2039.5" stroke="#b0b0b0" stroke-width="1.15" fill="none"/>
<path d="M1917 437.2V521.2M1975.7 437.2V521.2M2034.4 437.2V521.2" stroke="#0000ff" stroke-opacity="0.5" stroke-width="4.8" fill="none"/>
<path d="M1912.5 437.2L1917 437.2L1922 437.3L1924.1 438.7L1925.8 442.5L1927.9 446.6L1930.4 448.7L1933.3 449.6L1936.2 449.9L1942.1 450.4L1950.5 450.8L1963.1 451.3L1975.7 451.7L1988.3 452.1L2000.9 452.5L2017.6 452.9L2034.4 453.3L2035.9 453.3" fill="none" stroke="#000" stroke-width="9" stroke-linejoin="round" stroke-linecap="butt"/>
</g>
<path d="M1931.6 521.2V532M1946.3 521.2V532M1961 521.2V532M1990.4 521.2V532M2005 521.2V532M2019.7 521.2V532M1911.5 500.2H1900.7M1911.5 479.2H1900.7M1911.5 458.2H1900.7" stroke="#000" stroke-width="3" fill="none"/>
<path d="M1917 521.2V539.6M1975.7 521.2V539.6M2034.4 521.2V539.6M1911.5 521.2H1893.1M1911.5 437.2H1893.1" stroke="#0000ff" stroke-width="4.8" fill="none"/>
<rect x="1911.5" y="437.2" width="128" height="84" fill="none" stroke="#0000ff" stroke-width="5.6"/>
</g>
<g>
<clipPath id="c2_10"><rect x="2091" y="437.2" width="128" height="84"/></clipPath>
<g clip-path="url(#c2_10)">
<path d="M2100.6 436.2L2101.5 437.2L2103.6 437.6L2105.3 438.8L2107.4 440L2109.9 440.6L2112.8 440.8L2115.7 440.9L2121.6 441.2L2130 441.4L2142.6 441.7L2155.2 441.9L2167.8 442.1L2180.3 442.3L2197.1 442.5L2213.9 442.7L2213.9 459.4L2197.1 458.5L2180.3 457.6L2167.8 456.9L2155.2 456L2142.6 455.2L2130 454.1L2121.6 453.3L2115.7 452.3L2112.8 451.8L2109.9 450.8L2107.4 448.4L2105.3 443.5L2103.6 439L2101.5 437.3L2100.6 436.2Z" fill="#1f77b4" fill-opacity="0.5" stroke="#1f77b4" stroke-opacity="0.5" stroke-width="4.4" stroke-linejoin="round"/>
<path d="M2100.6 436.2L2101.5 437.2L2103.6 437.7L2105.3 439L2107.4 440.4L2109.9 441.1L2112.8 441.4L2115.7 441.6L2121.6 441.8L2130 442.1L2142.6 442.4L2155.2 442.6L2167.8 442.9L2180.3 443.1L2197.1 443.4L2213.9 443.6L2213.9 457.6L2197.1 456.8L2180.3 455.9L2167.8 455.3L2155.2 454.5L2142.6 453.7L2130 452.8L2121.6 452L2115.7 451.1L2112.8 450.7L2109.9 449.7L2107.4 447.5L2105.3 443L2103.6 438.8L2101.5 437.3L2100.6 436.2Z" fill="#fdd7af" fill-opacity="0.6" stroke="#d29150" stroke-opacity="0.53" stroke-width="4.4" stroke-linejoin="round"/>
<path d="M2125.8 437.2V521.2M2140.5 437.2V521.2M2169.9 437.2V521.2M2184.5 437.2V521.2" stroke="#b0b0b0" stroke-width="1.05" fill="none"/>
<path d="M2091 458.2H2219M2091 479.2H2219M2091 500.2H2219" stroke="#b0b0b0" stroke-width="1.15" fill="none"/>
<path d="M2096.4 437.2V521.2M2155.2 437.2V521.2M2213.9 437.2V521.2" stroke="#0000ff" stroke-opacity="0.5" stroke-width="4.8" fill="none"/>
<path d="M2091.9 437.2L2096.4 437.2L2101.5 437.3L2103.6 438.4L2105.3 441.6L2107.4 445L2109.9 446.6L2112.8 447.4L2115.7 447.7L2121.6 448.4L2130 449L2142.6 449.7L2155.2 450.3L2167.8 450.9L2180.3 451.4L2197.1 452L2213.9 452.6L2215.4 452.6" fill="none" stroke="#000" stroke-width="9" stroke-linejoin="round" stroke-linecap="butt"/>
</g>
<path d="M2111.1 521.2V532M2125.8 521.2V532M2140.5 521.2V532M2169.9 521.2V532M2184.5 521.2V532M2199.2 521.2V532M2091 500.2H2080.2M2091 479.2H2080.2M2091 458.2H2080.2" stroke="#000" stroke-width="3" fill="none"/>
<path d="M2096.4 521.2V539.6M2155.2 521.2V539.6M2213.9 521.2V539.6M2091 521.2H2072.6M2091 437.2H2072.6" stroke="#0000ff" stroke-width="4.8" fill="none"/>
<rect x="2091" y="437.2" width="128" height="84" fill="none" stroke="#0000ff" stroke-width="5.6"/>
</g>
<g>
<clipPath id="c3_0"><rect x="296" y="555" width="128" height="84"/></clipPath>
<g clip-path="url(#c3_0)">
<path d="M305.6 554L306.5 555.1L308.6 555.5L310.3 556.6L312.4 557.8L314.9 558.3L317.8 558.6L320.7 558.7L326.6 558.9L335 559.1L347.6 559.2L360.2 559.4L372.8 559.5L385.4 559.7L402.1 559.8L418.9 560L418.9 575.3L402.1 574.7L385.4 574L372.8 573.5L360.2 572.9L347.6 572.2L335 571.5L326.6 570.9L320.7 570.1L317.8 569.7L314.9 568.6L312.4 566.2L310.3 561.4L308.6 556.8L306.5 555.2L305.6 554Z" fill="#1f77b4" fill-opacity="0.5" stroke="#1f77b4" stroke-opacity="0.5" stroke-width="4.4" stroke-linejoin="round"/>
<path d="M305.6 554L306.5 555.1L308.6 555.5L310.3 556.9L312.4 558.3L314.9 559L317.8 559.3L320.7 559.4L326.6 559.6L335 559.8L347.6 560L360.2 560.2L372.8 560.4L385.4 560.5L402.1 560.7L418.9 560.9L418.9 574L402.1 573.4L385.4 572.8L372.8 572.2L360.2 571.7L347.6 571.1L335 570.4L326.6 569.8L320.7 569.1L317.8 568.7L314.9 567.7L312.4 565.5L310.3 560.9L308.6 556.7L306.5 555.2L305.6 554Z" fill="#fdd7af" fill-opacity="0.6" stroke="#d29150" stroke-opacity="0.53" stroke-width="4.4" stroke-linejoin="round"/>
<path d="M316.1 555V639M345.5 555V639M389.5 555V639" stroke="#b0b0b0" stroke-width="1.05" fill="none"/>
<path d="M301.4 555V639M360.2 555V639M418.9 555V639" stroke="#008000" stroke-opacity="0.5" stroke-width="4.8" fill="none"/>
<path d="M296.9 555L301.4 555L306.5 555.1L308.6 556.3L310.3 559.7L312.4 563.2L314.9 565L317.8 565.8L320.7 566.1L326.6 566.6L335 567.1L347.6 567.6L360.2 568.1L372.8 568.5L385.4 568.9L402.1 569.4L418.9 569.9L420.4 569.9" fill="none" stroke="#000" stroke-width="9" stroke-linejoin="round" stroke-linecap="butt"/>
</g>
<path d="M316.1 639V649.8M330.8 639V649.8M345.5 639V649.8M374.9 639V649.8M389.5 639V649.8M404.2 639V649.8M296 618H285.2M296 597H285.2M296 576H285.2" stroke="#000" stroke-width="3" fill="none"/>
<path d="M301.4 639V657.4M360.2 639V657.4M418.9 639V657.4M296 639H277.6M296 555H277.6" stroke="#008000" stroke-width="4.8" fill="none"/>
<rect x="296" y="555" width="128" height="84" fill="none" stroke="#008000" stroke-width="5.6"/>
</g>
<g>
<clipPath id="c3_1"><rect x="475.5" y="555" width="128" height="84"/></clipPath>
<g clip-path="url(#c3_1)">
<path d="M485.1 554L486 555.1L488.1 556.1L489.8 558.7L491.9 561.5L494.4 562.9L497.3 563.5L500.2 563.7L506.1 564L514.5 564.3L527.1 564.6L539.7 564.9L552.3 565.1L564.9 565.3L581.6 565.6L598.4 565.8L598.4 577.6L581.6 577.1L564.9 576.5L552.3 576L539.7 575.5L527.1 575L514.5 574.3L506.1 573.8L500.2 573.2L497.3 572.7L494.4 571.4L491.9 568.5L489.8 562.7L488.1 557.2L486 555.2L485.1 554Z" fill="#1f77b4" fill-opacity="0.5" stroke="#1f77b4" stroke-opacity="0.5" stroke-width="4.4" stroke-linejoin="round"/>
<path d="M485.1 554L486 555.1L488.1 556.2L489.8 559.1L491.9 562.3L494.4 563.9L497.3 564.5L500.2 564.8L506.1 565.2L514.5 565.4L527.1 565.8L539.7 566.1L552.3 566.3L564.9 566.6L581.6 566.9L598.4 567.2L598.4 575.1L581.6 574.6L564.9 574.1L552.3 573.7L539.7 573.3L527.1 572.8L514.5 572.2L506.1 571.8L500.2 571.2L497.3 570.7L494.4 569.6L491.9 567L489.8 561.8L488.1 557L486 555.2L485.1 554Z" fill="#fdd7af" fill-opacity="0.6" stroke="#d29150" stroke-opacity="0.53" stroke-width="4.4" stroke-linejoin="round"/>
<path d="M495.6 555V639M510.3 555V639M554.4 555V639M583.7 555V639" stroke="#b0b0b0" stroke-width="1.05" fill="none"/>
<path d="M480.9 555V639M539.7 555V639M598.4 555V639" stroke="#008000" stroke-opacity="0.5" stroke-width="4.8" fill="none"/>
<path d="M476.4 555L480.9 555L486 555.2L488.1 556.6L489.8 560.5L491.9 564.7L494.4 566.8L497.3 567.7L500.2 568.1L506.1 568.6L514.5 568.9L527.1 569.4L539.7 569.8L552.3 570.1L564.9 570.5L581.6 570.9L598.4 571.3L599.9 571.3" fill="none" stroke="#000" stroke-width="9" stroke-linejoin="round" stroke-linecap="butt"/>
</g>
<path d="M495.6 639V649.8M510.3 639V649.8M525 639V649.8M554.4 639V649.8M569 639V649.8M583.7 639V649.8M475.5 618H464.7M475.5 597H464.7M475.5 576H464.7" stroke="#000" stroke-width="3" fill="none"/>
<path d="M480.9 639V657.4M539.7 639V657.4M598.4 639V657.4M475.5 639H457.1M475.5 555H457.1" stroke="#008000" stroke-width="4.8" fill="none"/>
<rect x="475.5" y="555" width="128" height="84" fill="none" stroke="#008000" stroke-width="5.6"/>
</g>
<g>
<clipPath id="c3_2"><rect x="655" y="555" width="128" height="84"/></clipPath>
<g clip-path="url(#c3_2)">
<path d="M664.6 554L665.5 555.1L667.6 555.6L669.3 556.9L671.4 558.4L673.9 559.1L676.8 559.4L679.7 559.5L685.6 559.7L694 559.8L706.6 559.9L719.2 560L731.8 560.1L744.4 560.2L761.1 560.3L777.9 560.4L777.9 583.7L761.1 583.1L744.4 582.4L731.8 581.9L719.2 581.4L706.6 580.7L694 580L685.6 579.5L679.7 578.8L676.8 578.1L673.9 576.4L671.4 572.6L669.3 565L667.6 557.9L665.5 555.3L664.6 554Z" fill="#1f77b4" fill-opacity="0.5" stroke="#1f77b4" stroke-opacity="0.5" stroke-width="4.4" stroke-linejoin="round"/>
<path d="M664.6 554L665.5 555.1L667.6 556L669.3 558.3L671.4 560.8L673.9 562.1L676.8 562.6L679.7 562.9L685.6 563.1L694 563.3L706.6 563.5L719.2 563.7L731.8 563.9L744.4 564.1L761.1 564.3L777.9 564.5L777.9 578.5L761.1 578L744.4 577.5L731.8 577.1L719.2 576.6L706.6 576.1L694 575.5L685.6 575L679.7 574.5L676.8 573.9L673.9 572.5L671.4 569.4L669.3 563.2L667.6 557.4L665.5 555.2L664.6 554Z" fill="#fdd7af" fill-opacity="0.6" stroke="#d29150" stroke-opacity="0.53" stroke-width="4.4" stroke-linejoin="round"/>
<path d="M689.8 555V639M704.5 555V639M733.9 555V639M748.5 555V639" stroke="#b0b0b0" stroke-width="1.05" fill="none"/>
<path d="M660.5 555V639M719.2 555V639M777.9 555V639" stroke="#008000" stroke-opacity="0.5" stroke-width="4.8" fill="none"/>
<path d="M656 555L660.5 555L665.5 555.2L667.6 556.7L669.3 561L671.4 565.5L673.9 567.8L676.8 568.8L679.7 569.2L685.6 569.7L694 570L706.6 570.4L719.2 570.8L731.8 571.1L744.4 571.4L761.1 571.8L777.9 572.2L779.4 572.2" fill="none" stroke="#000" stroke-width="9" stroke-linejoin="round" stroke-linecap="butt"/>
</g>
<path d="M675.1 639V649.8M689.8 639V649.8M704.5 639V649.8M733.9 639V649.8M748.5 639V649.8M763.2 639V649.8M655 618H644.2M655 597H644.2M655 576H644.2" stroke="#000" stroke-width="3" fill="none"/>
<path d="M660.5 639V657.4M719.2 639V657.4M777.9 639V657.4M655 639H636.6M655 555H636.6" stroke="#008000" stroke-width="4.8" fill="none"/>
<rect x="655" y="555" width="128" height="84" fill="none" stroke="#008000" stroke-width="5.6"/>
</g>
<g>
<clipPath id="c3_3"><rect x="834.5" y="555" width="128" height="84"/></clipPath>
<g clip-path="url(#c3_3)">
<path d="M844.1 554L845 555.1L847.1 555.9L848.8 558L850.9 560.2L853.4 561.4L856.3 561.8L859.2 562.1L865.1 562.2L873.5 562.4L886.1 562.6L898.7 562.8L911.3 562.9L923.9 563L940.6 563.2L957.4 563.4L957.4 577.1L940.6 576.7L923.9 576.3L911.3 575.9L898.7 575.5L886.1 575.1L873.5 574.6L865.1 574.1L859.2 573.7L856.3 573.1L853.4 571.8L850.9 568.8L848.8 562.8L847.1 557.3L845 555.2L844.1 554Z" fill="#1f77b4" fill-opacity="0.5" stroke="#1f77b4" stroke-opacity="0.5" stroke-width="4.4" stroke-linejoin="round"/>
<path d="M844.1 554L845 555.1L847.1 556.2L848.8 559.2L850.9 562.3L853.4 563.9L856.3 564.6L859.2 564.9L865.1 565.2L873.5 565.4L886.1 565.6L898.7 565.9L911.3 566.1L923.9 566.3L940.6 566.5L957.4 566.7L957.4 575.8L940.6 575.4L923.9 575L911.3 574.6L898.7 574.2L886.1 573.8L873.5 573.4L865.1 573L859.2 572.5L856.3 572L853.4 570.8L850.9 568L848.8 562.4L847.1 557.1L845 555.2L844.1 554Z" fill="#fdd7af" fill-opacity="0.6" stroke="#d29150" stroke-opacity="0.53" stroke-width="4.4" stroke-linejoin="round"/>
<path d="M854.6 555V639M869.3 555V639M928 555V639" stroke="#b0b0b0" stroke-width="1.05" fill="none"/>
<path d="M840 555V639M898.7 555V639M957.4 555V639" stroke="#008000" stroke-opacity="0.5" stroke-width="4.8" fill="none"/>
<path d="M835.5 555L840 555L845 555.2L847.1 556.8L848.8 561.1L850.9 565.7L853.4 568L856.3 569L859.2 569.5L865.1 569.8L873.5 570.2L886.1 570.6L898.7 570.9L911.3 571.2L923.9 571.5L940.6 571.8L957.4 572.2L958.9 572.2" fill="none" stroke="#000" stroke-width="9" stroke-linejoin="round" stroke-linecap="butt"/>
</g>
<path d="M854.6 639V649.8M869.3 639V649.8M884 639V649.8M913.4 639V649.8M928 639V649.8M942.7 639V649.8M834.5 618H823.7M834.5 597H823.7M834.5 576H823.7" stroke="#000" stroke-width="3" fill="none"/>
<path d="M840 639V657.4M898.7 639V657.4M957.4 639V657.4M834.5 639H816.1M834.5 555H816.1" stroke="#008000" stroke-width="4.8" fill="none"/>
<rect x="834.5" y="555" width="128" height="84" fill="none" stroke="#008000" stroke-width="5.6"/>
</g>
<g>
<clipPath id="c3_4"><rect x="1014" y="555" width="128" height="84"/></clipPath>
<g clip-path="url(#c3_4)">
<path d="M1023.6 554L1024.5 555.1L1026.6 555.8L1028.3 557.7L1030.4 559.7L1032.9 560.7L1035.8 561.1L1038.7 561.3L1044.6 561.5L1053 561.7L1065.6 561.9L1078.2 562L1090.8 562.2L1103.4 562.3L1120.1 562.5L1136.9 562.7L1136.9 578.5L1120.1 578L1103.4 577.4L1090.8 577L1078.2 576.5L1065.6 576L1053 575.3L1044.6 574.8L1038.7 574.2L1035.8 573.7L1032.9 572.3L1030.4 569.2L1028.3 563.1L1026.6 557.3L1024.5 555.2L1023.6 554Z" fill="#1f77b4" fill-opacity="0.5" stroke="#1f77b4" stroke-opacity="0.5" stroke-width="4.4" stroke-linejoin="round"/>
<path d="M1023.6 554L1024.5 555.1L1026.6 555.9L1028.3 558.1L1030.4 560.5L1032.9 561.7L1035.8 562.2L1038.7 562.4L1044.6 562.6L1053 562.8L1065.6 563.1L1078.2 563.3L1090.8 563.5L1103.4 563.6L1120.1 563.8L1136.9 564L1136.9 576.7L1120.1 576.2L1103.4 575.7L1090.8 575.3L1078.2 574.8L1065.6 574.3L1053 573.8L1044.6 573.3L1038.7 572.8L1035.8 572.2L1032.9 571L1030.4 568.2L1028.3 562.5L1026.6 557.1L1024.5 555.2L1023.6 554Z" fill="#fdd7af" fill-opacity="0.6" stroke="#d29150" stroke-opacity="0.53" stroke-width="4.4" stroke-linejoin="round"/>
<path d="M1048.8 555V639M1063.5 555V639M1092.9 555V639M1107.5 555V639M1122.2 555V639" stroke="#b0b0b0" stroke-width="1.05" fill="none"/>
<path d="M1019.5 555V639M1078.2 555V639M1136.9 555V639" stroke="#008000" stroke-opacity="0.5" stroke-width="4.8" fill="none"/>
<path d="M1015 555L1019.5 555L1024.5 555.1L1026.6 556.5L1028.3 560.1L1030.4 564L1032.9 566L1035.8 566.9L1038.7 567.2L1044.6 567.6L1053 567.9L1065.6 568.3L1078.2 568.6L1090.8 568.9L1103.4 569.2L1120.1 569.6L1136.9 569.9L1138.4 569.9" fill="none" stroke="#000" stroke-width="9" stroke-linejoin="round" stroke-linecap="butt"/>
</g>
<path d="M1034.1 639V649.8M1048.8 639V649.8M1063.5 639V649.8M1092.9 639V649.8M1107.5 639V649.8M1122.2 639V649.8M1014 618H1003.2M1014 597H1003.2M1014 576H1003.2" stroke="#000" stroke-width="3" fill="none"/>
<path d="M1019.5 639V657.4M1078.2 639V657.4M1136.9 639V657.4M1014 639H995.6M1014 555H995.6" stroke="#008000" stroke-width="4.8" fill="none"/>
<rect x="1014" y="555" width="128" height="84" fill="none" stroke="#008000" stroke-width="5.6"/>
</g>
<g>
<clipPath id="c3_5"><rect x="1193.5" y="555" width="128" height="84"/></clipPath>
<g clip-path="url(#c3_5)">
<path d="M1203.1 554L1204 555.1L1206.1 556.1L1207.8 558.9L1209.9 561.8L1212.4 563.3L1215.3 564L1218.2 564.2L1224.1 564.5L1232.5 564.8L1245.1 565.1L1257.7 565.3L1270.3 565.6L1282.9 565.8L1299.6 566L1316.4 566.3L1316.4 578.9L1299.6 578.4L1282.9 577.8L1270.3 577.4L1257.7 576.9L1245.1 576.3L1232.5 575.7L1224.1 575.2L1218.2 574.6L1215.3 574L1212.4 572.6L1209.9 569.5L1207.8 563.2L1206.1 557.4L1204 555.2L1203.1 554Z" fill="#1f77b4" fill-opacity="0.5" stroke="#1f77b4" stroke-opacity="0.5" stroke-width="4.4" stroke-linejoin="round"/>
<path d="M1203.1 554L1204 555.1L1206.1 556.2L1207.8 559.2L1209.9 562.4L1212.4 564L1215.3 564.7L1218.2 565L1224.1 565.3L1232.5 565.5L1245.1 565.9L1257.7 566.1L1270.3 566.4L1282.9 566.6L1299.6 566.9L1316.4 567.2L1316.4 578L1299.6 577.5L1282.9 577L1270.3 576.5L1257.7 576.1L1245.1 575.5L1232.5 574.9L1224.1 574.4L1218.2 573.8L1215.3 573.3L1212.4 572L1209.9 568.9L1207.8 562.9L1206.1 557.3L1204 555.2L1203.1 554Z" fill="#fdd7af" fill-opacity="0.6" stroke="#d29150" stroke-opacity="0.53" stroke-width="4.4" stroke-linejoin="round"/>
<path d="M1213.6 555V639M1243 555V639M1272.4 555V639M1287 555V639" stroke="#b0b0b0" stroke-width="1.05" fill="none"/>
<path d="M1199 555V639M1257.7 555V639M1316.4 555V639" stroke="#008000" stroke-opacity="0.5" stroke-width="4.8" fill="none"/>
<path d="M1194.5 555L1199 555L1204 555.2L1206.1 556.8L1207.8 561.4L1209.9 566.2L1212.4 568.6L1215.3 569.7L1218.2 570.1L1224.1 570.6L1232.5 571L1245.1 571.5L1257.7 571.9L1270.3 572.3L1282.9 572.7L1299.6 573.1L1316.4 573.5L1317.9 573.5" fill="none" stroke="#000" stroke-width="9" stroke-linejoin="round" stroke-linecap="butt"/>
</g>
<path d="M1213.6 639V649.8M1228.3 639V649.8M1243 639V649.8M1272.4 639V649.8M1287 639V649.8M1301.7 639V649.8M1193.5 618H1182.7M1193.5 597H1182.7M1193.5 576H1182.7" stroke="#000" stroke-width="3" fill="none"/>
<path d="M1199 639V657.4M1257.7 639V657.4M1316.4 639V657.4M1193.5 639H1175.1M1193.5 555H1175.1" stroke="#008000" stroke-width="4.8" fill="none"/>
<rect x="1193.5" y="555" width="128" height="84" fill="none" stroke="#008000" stroke-width="5.6"/>
</g>
<g>
<clipPath id="c3_6"><rect x="1373" y="555" width="128" height="84"/></clipPath>
<g clip-path="url(#c3_6)">
<path d="M1382.6 554L1383.5 555.1L1385.6 555.9L1387.3 558L1389.4 560.3L1391.9 561.5L1394.8 562L1397.7 562.2L1403.6 562.4L1412 562.7L1424.6 562.9L1437.2 563.2L1449.8 563.4L1462.4 563.6L1479.1 563.8L1495.9 564L1495.9 578.9L1479.1 578.3L1462.4 577.7L1449.8 577.2L1437.2 576.6L1424.6 576L1412 575.2L1403.6 574.7L1397.7 574L1394.8 573.4L1391.9 572.1L1389.4 569L1387.3 563L1385.6 557.3L1383.5 555.2L1382.6 554Z" fill="#1f77b4" fill-opacity="0.5" stroke="#1f77b4" stroke-opacity="0.5" stroke-width="4.4" stroke-linejoin="round"/>
<path d="M1382.6 554L1383.5 555.1L1385.6 556L1387.3 558.3L1389.4 560.8L1391.9 562.1L1394.8 562.6L1397.7 562.9L1403.6 563.2L1412 563.4L1424.6 563.7L1437.2 564L1449.8 564.2L1462.4 564.4L1479.1 564.7L1495.9 564.9L1495.9 577.6L1479.1 577L1462.4 576.4L1449.8 575.9L1437.2 575.4L1424.6 574.8L1412 574.1L1403.6 573.5L1397.7 572.9L1394.8 572.4L1391.9 571.1L1389.4 568.2L1387.3 562.5L1385.6 557.2L1383.5 555.2L1382.6 554Z" fill="#fdd7af" fill-opacity="0.6" stroke="#d29150" stroke-opacity="0.53" stroke-width="4.4" stroke-linejoin="round"/>
<path d="M1382.6 554L1383.5 555.1L1385.6 556L1387.3 558.6L1389.4 561.4L1391.9 562.7L1394.8 563.3L1397.7 563.6L1403.6 563.9L1412 564.2L1424.6 564.5L1437.2 564.8L1449.8 565L1462.4 565.3L1479.1 565.6L1495.9 565.8L1495.9 576.2L1479.1 575.7L1462.4 575.1L1449.8 574.7L1437.2 574.2L1424.6 573.6L1412 573L1403.6 572.4L1397.7 571.8L1394.8 571.3L1391.9 570.1L1389.4 567.5L1387.3 562.1L1385.6 557L1383.5 555.2L1382.6 554Z" fill="#d0e8ee" fill-opacity="1" stroke="#b4aa96" stroke-opacity="0.5" stroke-width="4.4" stroke-linejoin="round"/>
<path d="M1393.1 555V639M1407.8 555V639M1422.5 555V639M1466.5 555V639M1481.2 555V639" stroke="#b0b0b0" stroke-width="1.05" fill="none"/>
<path d="M1378.5 555V639M1437.2 555V639M1495.9 555V639" stroke="#0000ff" stroke-opacity="0.5" stroke-width="4.8" fill="none"/>
<path d="M1374 555L1378.5 555L1383.5 555.1L1385.6 556.5L1387.3 560L1389.4 563.9L1391.9 565.8L1394.8 566.6L1397.7 567L1403.6 567.4L1412 567.8L1424.6 568.3L1437.2 568.7L1449.8 569L1462.4 569.3L1479.1 569.8L1495.9 570.1L1497.4 570.1" fill="none" stroke="#000" stroke-width="9" stroke-linejoin="round" stroke-linecap="butt"/>
</g>
<path d="M1393.1 639V649.8M1407.8 639V649.8M1422.5 639V649.8M1451.9 639V649.8M1466.5 639V649.8M1481.2 639V649.8M1373 618H1362.2M1373 597H1362.2M1373 576H1362.2" stroke="#000" stroke-width="3" fill="none"/>
<path d="M1378.5 639V657.4M1437.2 639V657.4M1495.9 639V657.4M1373 639H1354.6M1373 555H1354.6" stroke="#0000ff" stroke-width="4.8" fill="none"/>
<rect x="1373" y="555" width="128" height="84" fill="none" stroke="#0000ff" stroke-width="5.6"/>
</g>
<g>
<clipPath id="c3_7"><rect x="1552.5" y="555" width="128" height="84"/></clipPath>
<g clip-path="url(#c3_7)">
<path d="M1562.1 554L1563 555.1L1565.1 555.7L1566.8 557.6L1568.9 559.5L1571.4 560.5L1574.3 560.9L1577.2 561.1L1583.1 561.2L1591.5 561.4L1604.1 561.5L1616.7 561.7L1629.3 561.8L1641.9 561.9L1658.6 562.1L1675.4 562.2L1675.4 577.6L1658.6 577.1L1641.9 576.6L1629.3 576.3L1616.7 575.8L1604.1 575.4L1591.5 574.8L1583.1 574.4L1577.2 573.9L1574.3 573.3L1571.4 572L1568.9 569L1566.8 562.9L1565.1 557.3L1563 555.2L1562.1 554Z" fill="#1f77b4" fill-opacity="0.5" stroke="#1f77b4" stroke-opacity="0.5" stroke-width="4.4" stroke-linejoin="round"/>
<path d="M1562.1 554L1563 555.1L1565.1 555.8L1566.8 557.9L1568.9 560L1571.4 561.1L1574.3 561.6L1577.2 561.8L1583.1 562L1591.5 562.2L1604.1 562.4L1616.7 562.5L1629.3 562.7L1641.9 562.8L1658.6 563L1675.4 563.1L1675.4 576.2L1658.6 575.8L1641.9 575.4L1629.3 575L1616.7 574.6L1604.1 574.2L1591.5 573.7L1583.1 573.2L1577.2 572.8L1574.3 572.2L1571.4 571L1568.9 568.1L1566.8 562.5L1565.1 557.1L1563 555.2L1562.1 554Z" fill="#fdd7af" fill-opacity="0.6" stroke="#d29150" stroke-opacity="0.53" stroke-width="4.4" stroke-linejoin="round"/>
<path d="M1562.1 554L1563 555.1L1565.1 556L1566.8 558.3L1568.9 560.9L1571.4 562.1L1574.3 562.7L1577.2 562.9L1583.1 563.2L1591.5 563.3L1604.1 563.6L1616.7 563.8L1629.3 563.9L1641.9 564.1L1658.6 564.3L1675.4 564.5L1675.4 574.9L1658.6 574.5L1641.9 574.1L1629.3 573.7L1616.7 573.4L1604.1 572.9L1591.5 572.5L1583.1 572.1L1577.2 571.6L1574.3 571.1L1571.4 570L1568.9 567.3L1566.8 562L1565.1 557L1563 555.2L1562.1 554Z" fill="#d0e8ee" fill-opacity="1" stroke="#b4aa96" stroke-opacity="0.5" stroke-width="4.4" stroke-linejoin="round"/>
<path d="M1572.6 555V639M1587.3 555V639M1631.4 555V639M1660.7 555V639" stroke="#b0b0b0" stroke-width="1.05" fill="none"/>
<path d="M1558 555V639M1616.7 555V639M1675.4 555V639" stroke="#0000ff" stroke-opacity="0.5" stroke-width="4.8" fill="none"/>
<path d="M1553.5 555L1558 555L1563 555.2L1565.1 556.8L1566.8 561.3L1568.9 566L1571.4 568.4L1574.3 569.5L1577.2 569.9L1583.1 570.3L1591.5 570.7L1604.1 571.1L1616.7 571.5L1629.3 571.8L1641.9 572.1L1658.6 572.5L1675.4 572.8L1676.9 572.8" fill="none" stroke="#000" stroke-width="9" stroke-linejoin="round" stroke-linecap="butt"/>
</g>
<path d="M1572.6 639V649.8M1587.3 639V649.8M1602 639V649.8M1631.4 639V649.8M1646 639V649.8M1660.7 639V649.8M1552.5 618H1541.7M1552.5 597H1541.7M1552.5 576H1541.7" stroke="#000" stroke-width="3" fill="none"/>
<path d="M1558 639V657.4M1616.7 639V657.4M1675.4 639V657.4M1552.5 639H1534.1M1552.5 555H1534.1" stroke="#0000ff" stroke-width="4.8" fill="none"/>
<rect x="1552.5" y="555" width="128" height="84" fill="none" stroke="#0000ff" stroke-width="5.6"/>
</g>
<g>
<clipPath id="c3_8"><rect x="1732" y="555" width="128" height="84"/></clipPath>
<g clip-path="url(#c3_8)">
<path d="M1741.6 554L1742.5 555.1L1744.6 555.8L1746.3 557.7L1748.4 559.7L1750.9 560.8L1753.8 561.2L1756.7 561.4L1762.6 561.6L1771 561.7L1783.6 561.9L1796.2 562.1L1808.8 562.2L1821.4 562.4L1838.1 562.5L1854.9 562.7L1854.9 584.8L1838.1 584.2L1821.4 583.5L1808.8 583L1796.2 582.4L1783.6 581.8L1771 581L1762.6 580.4L1756.7 579.7L1753.8 579L1750.9 577.2L1748.4 573.3L1746.3 565.4L1744.6 558L1742.5 555.3L1741.6 554Z" fill="#1f77b4" fill-opacity="0.5" stroke="#1f77b4" stroke-opacity="0.5" stroke-width="4.4" stroke-linejoin="round"/>
<path d="M1741.6 554L1742.5 555.1L1744.6 555.9L1746.3 558L1748.4 560.3L1750.9 561.4L1753.8 561.9L1756.7 562.1L1762.6 562.3L1771 562.5L1783.6 562.7L1796.2 562.9L1808.8 563.1L1821.4 563.2L1838.1 563.4L1854.9 563.6L1854.9 578L1838.1 577.6L1821.4 577L1808.8 576.6L1796.2 576.2L1783.6 575.7L1771 575.1L1762.6 574.7L1756.7 574.1L1753.8 573.5L1750.9 572.2L1748.4 569.1L1746.3 563L1744.6 557.3L1742.5 555.2L1741.6 554Z" fill="#fdd7af" fill-opacity="0.6" stroke="#d29150" stroke-opacity="0.53" stroke-width="4.4" stroke-linejoin="round"/>
<path d="M1752.1 555V639M1781.5 555V639M1810.9 555V639M1825.5 555V639" stroke="#b0b0b0" stroke-width="1.05" fill="none"/>
<path d="M1737.5 555V639M1796.2 555V639M1854.9 555V639" stroke="#0000ff" stroke-opacity="0.5" stroke-width="4.8" fill="none"/>
<path d="M1733 555L1737.5 555L1742.5 555.2L1744.6 556.7L1746.3 561L1748.4 565.5L1750.9 567.8L1753.8 568.8L1756.7 569.2L1762.6 569.7L1771 570L1783.6 570.4L1796.2 570.8L1808.8 571.1L1821.4 571.4L1838.1 571.8L1854.9 572.2L1856.4 572.2" fill="none" stroke="#000" stroke-width="9" stroke-linejoin="round" stroke-linecap="butt"/>
</g>
<path d="M1752.1 639V649.8M1766.8 639V649.8M1781.5 639V649.8M1810.9 639V649.8M1825.5 639V649.8M1840.2 639V649.8M1732 618H1721.2M1732 597H1721.2M1732 576H1721.2" stroke="#000" stroke-width="3" fill="none"/>
<path d="M1737.5 639V657.4M1796.2 639V657.4M1854.9 639V657.4M1732 639H1713.6M1732 555H1713.6" stroke="#0000ff" stroke-width="4.8" fill="none"/>
<rect x="1732" y="555" width="128" height="84" fill="none" stroke="#0000ff" stroke-width="5.6"/>
</g>
<g>
<clipPath id="c3_9"><rect x="1911.5" y="555" width="128" height="84"/></clipPath>
<g clip-path="url(#c3_9)">
<path d="M1921.1 554L1922 555.1L1924.1 555.5L1925.8 556.8L1927.9 558.2L1930.4 558.9L1933.3 559.2L1936.2 559.3L1942.1 559.5L1950.5 559.6L1963.1 559.9L1975.7 560.1L1988.3 560.1L2000.9 560.2L2017.6 560.3L2034.4 560.4L2034.4 581.2L2017.6 580.7L2000.9 580.1L1988.3 579.8L1975.7 579.4L1963.1 578.4L1950.5 577.3L1942.1 576.5L1936.2 575.7L1933.3 575.1L1930.4 573.6L1927.9 570.3L1925.8 563.7L1924.1 557.5L1922 555.2L1921.1 554Z" fill="#1f77b4" fill-opacity="0.5" stroke="#1f77b4" stroke-opacity="0.5" stroke-width="4.4" stroke-linejoin="round"/>
<path d="M1921.1 554L1922 555.1L1924.1 555.6L1925.8 557.1L1927.9 558.7L1930.4 559.5L1933.3 559.9L1936.2 560L1942.1 560.2L1950.5 560.4L1963.1 560.7L1975.7 560.9L1988.3 561L2000.9 561.1L2017.6 561.2L2034.4 561.3L2034.4 577.4L2017.6 576.9L2000.9 576.5L1988.3 576.1L1975.7 575.8L1963.1 575L1950.5 574.1L1942.1 573.4L1936.2 572.7L1933.3 572.1L1930.4 570.9L1927.9 568.1L1925.8 562.4L1924.1 557.1L1922 555.2L1921.1 554Z" fill="#fdd7af" fill-opacity="0.6" stroke="#d29150" stroke-opacity="0.53" stroke-width="4.4" stroke-linejoin="round"/>
<path d="M1931.6 555V639M1946.3 555V639M1990.4 555V639M2019.7 555V639" stroke="#b0b0b0" stroke-width="1.05" fill="none"/>
<path d="M1917 555V639M1975.7 555V639M2034.4 555V639" stroke="#0000ff" stroke-opacity="0.5" stroke-width="4.8" fill="none"/>
<path d="M1912.5 555L1917 555L1922 555.1L1924.1 556.2L1925.8 559.3L1927.9 562.5L1930.4 564.2L1933.3 564.9L1936.2 565.2L1942.1 565.6L1950.5 566L1963.1 566.5L1975.7 567L1988.3 567.2L2000.9 567.4L2017.6 567.6L2034.4 567.9L2035.9 567.9" fill="none" stroke="#000" stroke-width="9" stroke-linejoin="round" stroke-linecap="butt"/>
</g>
<path d="M1931.6 639V649.8M1946.3 639V649.8M1961 639V649.8M1990.4 639V649.8M2005 639V649.8M2019.7 639V649.8M1911.5 618H1900.7M1911.5 597H1900.7M1911.5 576H1900.7" stroke="#000" stroke-width="3" fill="none"/>
<path d="M1917 639V657.4M1975.7 639V657.4M2034.4 639V657.4M1911.5 639H1893.1M1911.5 555H1893.1" stroke="#0000ff" stroke-width="4.8" fill="none"/>
<rect x="1911.5" y="555" width="128" height="84" fill="none" stroke="#0000ff" stroke-width="5.6"/>
</g>
<g>
<clipPath id="c3_10"><rect x="2091" y="555" width="128" height="84"/></clipPath>
<g clip-path="url(#c3_10)">
<path d="M2100.6 554L2101.5 555.1L2103.6 556.1L2105.3 558.9L2107.4 561.8L2109.9 563.2L2112.8 563.9L2115.7 564.2L2121.6 564.5L2130 564.9L2142.6 565.4L2155.2 565.9L2167.8 566.2L2180.3 566.5L2197.1 566.8L2213.9 567.2L2213.9 589.7L2197.1 588.7L2180.3 587.6L2167.8 586.8L2155.2 586L2142.6 584.7L2130 583.3L2121.6 582.2L2115.7 581.1L2112.8 580.3L2109.9 578.5L2107.4 574.3L2105.3 566L2103.6 558.1L2101.5 555.3L2100.6 554Z" fill="#1f77b4" fill-opacity="0.5" stroke="#1f77b4" stroke-opacity="0.5" stroke-width="4.4" stroke-linejoin="round"/>
<path d="M2100.6 554L2101.5 555.1L2103.6 556.2L2105.3 559.1L2107.4 562.3L2109.9 563.9L2112.8 564.5L2115.7 564.8L2121.6 565.2L2130 565.7L2142.6 566.2L2155.2 566.7L2167.8 567L2180.3 567.3L2197.1 567.7L2213.9 568.1L2213.9 585.2L2197.1 584.3L2180.3 583.4L2167.8 582.7L2155.2 582L2142.6 580.9L2130 579.6L2121.6 578.6L2115.7 577.7L2112.8 577L2109.9 575.4L2107.4 571.8L2105.3 564.5L2103.6 557.7L2101.5 555.2L2100.6 554Z" fill="#fdd7af" fill-opacity="0.6" stroke="#d29150" stroke-opacity="0.53" stroke-width="4.4" stroke-linejoin="round"/>
<path d="M2125.8 555V639M2140.5 555V639M2169.9 555V639M2184.5 555V639" stroke="#b0b0b0" stroke-width="1.05" fill="none"/>
<path d="M2096.4 555V639M2155.2 555V639M2213.9 555V639" stroke="#000000" stroke-opacity="0.5" stroke-width="4.8" fill="none"/>
<path d="M2091.9 555L2096.4 555L2101.5 555.2L2103.6 556.7L2105.3 561L2107.4 565.5L2109.9 567.8L2112.8 568.8L2115.7 569.2L2121.6 569.8L2130 570.4L2142.6 571.2L2155.2 571.9L2167.8 572.4L2180.3 572.8L2197.1 573.4L2213.9 574L2215.4 574" fill="none" stroke="#000" stroke-width="9" stroke-linejoin="round" stroke-linecap="butt"/>
</g>
<path d="M2111.1 639V649.8M2125.8 639V649.8M2140.5 639V649.8M2169.9 639V649.8M2184.5 639V649.8M2199.2 639V649.8M2091 618H2080.2M2091 597H2080.2M2091 576H2080.2" stroke="#000" stroke-width="3" fill="none"/>
<path d="M2096.4 639V657.4M2155.2 639V657.4M2213.9 639V657.4M2091 639H2072.6M2091 555H2072.6" stroke="#000000" stroke-width="4.8" fill="none"/>
<rect x="2091" y="555" width="128" height="84" fill="none" stroke="#000000" stroke-width="5.6"/>
</g>
<g>
<clipPath id="c4_0"><rect x="296" y="672.9" width="128" height="84"/></clipPath>
<g clip-path="url(#c4_0)">
<path d="M305.6 671.9L306.5 672.9L308.6 673.3L310.3 674.5L312.4 675.8L314.9 676.4L317.8 676.6L320.7 676.8L326.6 676.9L335 677L347.6 677.2L360.2 677.3L372.8 677.5L385.4 677.6L402.1 677.7L418.9 677.9L418.9 694.8L402.1 694.2L385.4 693.6L372.8 693.1L360.2 692.5L347.6 691.9L335 691.2L326.6 690.7L320.7 690L317.8 689.5L314.9 688.3L312.4 685.5L310.3 680.1L308.6 674.9L306.5 673L305.6 671.9Z" fill="#1f77b4" fill-opacity="0.5" stroke="#1f77b4" stroke-opacity="0.5" stroke-width="4.4" stroke-linejoin="round"/>
<path d="M305.6 671.9L306.5 672.9L308.6 673.6L310.3 675.3L312.4 677.2L314.9 678.1L317.8 678.5L320.7 678.7L326.6 678.9L335 679.1L347.6 679.4L360.2 679.6L372.8 679.7L385.4 679.9L402.1 680.1L418.9 680.3L418.9 693.2L402.1 692.7L385.4 692.1L372.8 691.6L360.2 691.1L347.6 690.6L335 689.9L326.6 689.4L320.7 688.8L317.8 688.3L314.9 687.2L312.4 684.6L310.3 679.5L308.6 674.8L306.5 673L305.6 671.9Z" fill="#fdd7af" fill-opacity="0.6" stroke="#d29150" stroke-opacity="0.53" stroke-width="4.4" stroke-linejoin="round"/>
<path d="M316.1 672.9V756.9M345.5 672.9V756.9M389.5 672.9V756.9" stroke="#b0b0b0" stroke-width="1.05" fill="none"/>
<path d="M296 693.9H424M296 714.9H424M296 735.9H424" stroke="#b0b0b0" stroke-width="1.15" fill="none"/>
<path d="M301.4 672.9V756.9M360.2 672.9V756.9M418.9 672.9V756.9" stroke="#008000" stroke-opacity="0.5" stroke-width="4.8" fill="none"/>
<path d="M296.9 672.9L301.4 672.9L306.5 673L308.6 674.4L310.3 678.3L312.4 682.4L314.9 684.5L317.8 685.4L320.7 685.8L326.6 686.3L335 686.7L347.6 687.2L360.2 687.7L372.8 688.1L385.4 688.4L402.1 688.9L418.9 689.4L420.4 689.4" fill="none" stroke="#000" stroke-width="9" stroke-linejoin="round" stroke-linecap="butt"/>
</g>
<path d="M316.1 756.9V767.7M330.8 756.9V767.7M345.5 756.9V767.7M374.9 756.9V767.7M389.5 756.9V767.7M404.2 756.9V767.7M296 735.9H285.2M296 714.9H285.2M296 693.9H285.2" stroke="#000" stroke-width="3" fill="none"/>
<path d="M301.4 756.9V775.3M360.2 756.9V775.3M418.9 756.9V775.3M296 756.9H277.6M296 672.9H277.6" stroke="#008000" stroke-width="4.8" fill="none"/>
<rect x="296" y="672.9" width="128" height="84" fill="none" stroke="#008000" stroke-width="5.6"/>
</g>
<g>
<clipPath id="c4_1"><rect x="475.5" y="672.9" width="128" height="84"/></clipPath>
<g clip-path="url(#c4_1)">
<path d="M485.1 671.9L486 672.9L488.1 673.5L489.8 675.2L491.9 676.9L494.4 677.8L497.3 678.2L500.2 678.4L506.1 678.6L514.5 678.7L527.1 678.9L539.7 679.1L552.3 679.2L564.9 679.3L581.6 679.5L598.4 679.7L598.4 700.4L581.6 699.8L564.9 699.1L552.3 698.5L539.7 697.9L527.1 697.3L514.5 696.5L506.1 695.9L500.2 695.2L497.3 694.5L494.4 693L491.9 689.4L489.8 682.2L488.1 675.5L486 673.1L485.1 671.9Z" fill="#1f77b4" fill-opacity="0.5" stroke="#1f77b4" stroke-opacity="0.5" stroke-width="4.4" stroke-linejoin="round"/>
<path d="M485.1 671.9L486 672.9L488.1 673.6L489.8 675.5L491.9 677.5L494.4 678.5L497.3 678.9L500.2 679.1L506.1 679.3L514.5 679.5L527.1 679.7L539.7 679.9L552.3 680L564.9 680.2L581.6 680.4L598.4 680.6L598.4 696.6L581.6 696L564.9 695.4L552.3 695L539.7 694.5L527.1 693.9L514.5 693.3L506.1 692.7L500.2 692.1L497.3 691.5L494.4 690.2L491.9 687.1L489.8 680.9L488.1 675.2L486 673.1L485.1 671.9Z" fill="#fdd7af" fill-opacity="0.6" stroke="#d29150" stroke-opacity="0.53" stroke-width="4.4" stroke-linejoin="round"/>
<path d="M485.1 671.9L486 672.9L488.1 673.7L489.8 675.8L491.9 678L494.4 679.1L497.3 679.6L500.2 679.8L506.1 680.1L514.5 680.3L527.1 680.5L539.7 680.7L552.3 680.9L564.9 681L581.6 681.3L598.4 681.5L598.4 693.2L581.6 692.7L564.9 692.2L552.3 691.8L539.7 691.4L527.1 690.9L514.5 690.4L506.1 689.9L500.2 689.4L497.3 688.9L494.4 687.7L491.9 685.1L489.8 679.8L488.1 674.8L486 673L485.1 671.9Z" fill="#d0e8ee" fill-opacity="1" stroke="#b4aa96" stroke-opacity="0.5" stroke-width="4.4" stroke-linejoin="round"/>
<path d="M495.6 672.9V756.9M510.3 672.9V756.9M554.4 672.9V756.9M583.7 672.9V756.9" stroke="#b0b0b0" stroke-width="1.05" fill="none"/>
<path d="M475.5 693.9H603.5M475.5 714.9H603.5M475.5 735.9H603.5" stroke="#b0b0b0" stroke-width="1.15" fill="none"/>
<path d="M480.9 672.9V756.9M539.7 672.9V756.9M598.4 672.9V756.9" stroke="#008000" stroke-opacity="0.5" stroke-width="4.8" fill="none"/>
<path d="M476.4 672.9L480.9 672.9L486 673L488.1 674.1L489.8 677.3L491.9 680.7L494.4 682.4L497.3 683.2L500.2 683.5L506.1 683.8L514.5 684.1L527.1 684.5L539.7 684.8L552.3 685.1L564.9 685.3L581.6 685.7L598.4 686L599.9 686" fill="none" stroke="#000" stroke-width="9" stroke-linejoin="round" stroke-linecap="butt"/>
</g>
<path d="M495.6 756.9V767.7M510.3 756.9V767.7M525 756.9V767.7M554.4 756.9V767.7M569 756.9V767.7M583.7 756.9V767.7M475.5 735.9H464.7M475.5 714.9H464.7M475.5 693.9H464.7" stroke="#000" stroke-width="3" fill="none"/>
<path d="M480.9 756.9V775.3M539.7 756.9V775.3M598.4 756.9V775.3M475.5 756.9H457.1M475.5 672.9H457.1" stroke="#008000" stroke-width="4.8" fill="none"/>
<rect x="475.5" y="672.9" width="128" height="84" fill="none" stroke="#008000" stroke-width="5.6"/>
</g>
<g>
<clipPath id="c4_2"><rect x="655" y="672.9" width="128" height="84"/></clipPath>
<g clip-path="url(#c4_2)">
<path d="M664.6 671.9L665.5 672.9L667.6 673.3L669.3 674.6L671.4 675.9L673.9 676.5L676.8 676.8L679.7 676.9L685.6 677.1L694 677.2L706.6 677.4L719.2 677.5L731.8 677.7L744.4 677.8L761.1 677.9L777.9 678.1L777.9 700.4L761.1 699.7L744.4 698.9L731.8 698.2L719.2 697.6L706.6 696.8L694 695.9L685.6 695.2L679.7 694.4L676.8 693.7L673.9 692.2L671.4 688.8L669.3 681.9L667.6 675.4L665.5 673.1L664.6 671.9Z" fill="#1f77b4" fill-opacity="0.5" stroke="#1f77b4" stroke-opacity="0.5" stroke-width="4.4" stroke-linejoin="round"/>
<path d="M664.6 671.9L665.5 672.9L667.6 673.4L669.3 674.8L671.4 676.3L673.9 677L676.8 677.3L679.7 677.5L685.6 677.6L694 677.8L706.6 678L719.2 678.1L731.8 678.3L744.4 678.4L761.1 678.6L777.9 678.8L777.9 699.5L761.1 698.8L744.4 698L731.8 697.4L719.2 696.8L706.6 696L694 695.2L685.6 694.5L679.7 693.7L676.8 693.1L673.9 691.6L671.4 688.3L669.3 681.6L667.6 675.4L665.5 673.1L664.6 671.9Z" fill="#fdd7af" fill-opacity="0.6" stroke="#d29150" stroke-opacity="0.53" stroke-width="4.4" stroke-linejoin="round"/>
<path d="M664.6 671.9L665.5 672.9L667.6 673.9L669.3 676.4L671.4 679.1L673.9 680.5L676.8 681.1L679.7 681.3L685.6 681.7L694 682L706.6 682.3L719.2 682.6L731.8 682.9L744.4 683.1L761.1 683.4L777.9 683.7L777.9 698.1L761.1 697.5L744.4 696.7L731.8 696.2L719.2 695.5L706.6 694.9L694 694.1L685.6 693.4L679.7 692.6L676.8 692L673.9 690.7L671.4 687.5L669.3 681.2L667.6 675.2L665.5 673.1L664.6 671.9Z" fill="#d0e8ee" fill-opacity="1" stroke="#b4aa96" stroke-opacity="0.5" stroke-width="4.4" stroke-linejoin="round"/>
<path d="M689.8 672.9V756.9M704.5 672.9V756.9M733.9 672.9V756.9M748.5 672.9V756.9" stroke="#b0b0b0" stroke-width="1.05" fill="none"/>
<path d="M655 693.9H783M655 714.9H783M655 735.9H783" stroke="#b0b0b0" stroke-width="1.15" fill="none"/>
<path d="M660.5 672.9V756.9M719.2 672.9V756.9M777.9 672.9V756.9" stroke="#008000" stroke-opacity="0.5" stroke-width="4.8" fill="none"/>
<path d="M656 672.9L660.5 672.9L665.5 673L667.6 674.4L669.3 678.3L671.4 682.4L673.9 684.5L676.8 685.4L679.7 685.8L685.6 686.3L694 686.7L706.6 687.2L719.2 687.7L731.8 688.1L744.4 688.4L761.1 688.9L777.9 689.4L779.4 689.4" fill="none" stroke="#000" stroke-width="9" stroke-linejoin="round" stroke-linecap="butt"/>
</g>
<path d="M675.1 756.9V767.7M689.8 756.9V767.7M704.5 756.9V767.7M733.9 756.9V767.7M748.5 756.9V767.7M763.2 756.9V767.7M655 735.9H644.2M655 714.9H644.2M655 693.9H644.2" stroke="#000" stroke-width="3" fill="none"/>
<path d="M660.5 756.9V775.3M719.2 756.9V775.3M777.9 756.9V775.3M655 756.9H636.6M655 672.9H636.6" stroke="#008000" stroke-width="4.8" fill="none"/>
<rect x="655" y="672.9" width="128" height="84" fill="none" stroke="#008000" stroke-width="5.6"/>
</g>
<g>
<clipPath id="c4_3"><rect x="834.5" y="672.9" width="128" height="84"/></clipPath>
<g clip-path="url(#c4_3)">
<path d="M844.1 671.9L845 672.9L847.1 673.5L848.8 675L850.9 676.6L853.4 677.4L856.3 677.7L859.2 677.9L865.1 678.1L873.5 678.2L886.1 678.4L898.7 678.6L911.3 678.7L923.9 678.9L940.6 679L957.4 679.2L957.4 700.4L940.6 699.7L923.9 699L911.3 698.4L898.7 697.7L886.1 697L873.5 696.2L865.1 695.5L859.2 694.7L856.3 694.1L853.4 692.5L850.9 689L848.8 682L847.1 675.5L845 673.1L844.1 671.9Z" fill="#1f77b4" fill-opacity="0.5" stroke="#1f77b4" stroke-opacity="0.5" stroke-width="4.4" stroke-linejoin="round"/>
<path d="M844.1 671.9L845 672.9L847.1 673.6L848.8 675.3L850.9 677.1L853.4 678L856.3 678.4L859.2 678.6L865.1 678.8L873.5 679L886.1 679.2L898.7 679.4L911.3 679.6L923.9 679.7L940.6 679.9L957.4 680.1L957.4 693.2L940.6 692.7L923.9 692.1L911.3 691.7L898.7 691.2L886.1 690.7L873.5 690.1L865.1 689.6L859.2 689L856.3 688.5L853.4 687.4L850.9 684.8L848.8 679.6L847.1 674.8L845 673L844.1 671.9Z" fill="#fdd7af" fill-opacity="0.6" stroke="#d29150" stroke-opacity="0.53" stroke-width="4.4" stroke-linejoin="round"/>
<path d="M854.6 672.9V756.9M869.3 672.9V756.9M928 672.9V756.9" stroke="#b0b0b0" stroke-width="1.05" fill="none"/>
<path d="M834.5 693.9H962.5M834.5 714.9H962.5M834.5 735.9H962.5" stroke="#b0b0b0" stroke-width="1.15" fill="none"/>
<path d="M840 672.9V756.9M898.7 672.9V756.9M957.4 672.9V756.9" stroke="#0000ff" stroke-opacity="0.5" stroke-width="4.8" fill="none"/>
<path d="M835.5 672.9L840 672.9L845 673L847.1 674.1L848.8 677.2L850.9 680.6L853.4 682.2L856.3 683L859.2 683.3L865.1 683.7L873.5 684L886.1 684.4L898.7 684.7L911.3 685L923.9 685.3L940.6 685.6L957.4 686L958.9 686" fill="none" stroke="#000" stroke-width="9" stroke-linejoin="round" stroke-linecap="butt"/>
</g>
<path d="M854.6 756.9V767.7M869.3 756.9V767.7M884 756.9V767.7M913.4 756.9V767.7M928 756.9V767.7M942.7 756.9V767.7M834.5 735.9H823.7M834.5 714.9H823.7M834.5 693.9H823.7" stroke="#000" stroke-width="3" fill="none"/>
<path d="M840 756.9V775.3M898.7 756.9V775.3M957.4 756.9V775.3M834.5 756.9H816.1M834.5 672.9H816.1" stroke="#0000ff" stroke-width="4.8" fill="none"/>
<rect x="834.5" y="672.9" width="128" height="84" fill="none" stroke="#0000ff" stroke-width="5.6"/>
</g>
<g>
<clipPath id="c4_4"><rect x="1014" y="672.9" width="128" height="84"/></clipPath>
<g clip-path="url(#c4_4)">
<path d="M1023.6 671.9L1024.5 672.9L1026.6 673.5L1028.3 675.1L1030.4 676.9L1032.9 677.7L1035.8 678.1L1038.7 678.3L1044.6 678.5L1053 678.6L1065.6 678.8L1078.2 679L1090.8 679.2L1103.4 679.3L1120.1 679.5L1136.9 679.7L1136.9 702.2L1120.1 701.5L1103.4 700.7L1090.8 700L1078.2 699.4L1065.6 698.6L1053 697.8L1044.6 697L1038.7 696.2L1035.8 695.5L1032.9 693.9L1030.4 690.1L1028.3 682.7L1026.6 675.7L1024.5 673.1L1023.6 671.9Z" fill="#1f77b4" fill-opacity="0.5" stroke="#1f77b4" stroke-opacity="0.5" stroke-width="4.4" stroke-linejoin="round"/>
<path d="M1023.6 671.9L1024.5 672.9L1026.6 673.6L1028.3 675.6L1030.4 677.7L1032.9 678.7L1035.8 679.1L1038.7 679.3L1044.6 679.6L1053 679.8L1065.6 680L1078.2 680.2L1090.8 680.4L1103.4 680.6L1120.1 680.8L1136.9 681L1136.9 694.3L1120.1 693.8L1103.4 693.2L1090.8 692.7L1078.2 692.3L1065.6 691.7L1053 691.1L1044.6 690.5L1038.7 689.9L1035.8 689.4L1032.9 688.2L1030.4 685.5L1028.3 680L1026.6 674.9L1024.5 673L1023.6 671.9Z" fill="#fdd7af" fill-opacity="0.6" stroke="#d29150" stroke-opacity="0.53" stroke-width="4.4" stroke-linejoin="round"/>
<path d="M1023.6 671.9L1024.5 672.9L1026.6 673.7L1028.3 675.9L1030.4 678.2L1032.9 679.3L1035.8 679.8L1038.7 680.1L1044.6 680.3L1053 680.5L1065.6 680.8L1078.2 681L1090.8 681.2L1103.4 681.4L1120.1 681.7L1136.9 681.9L1136.9 692.7L1120.1 692.2L1103.4 691.7L1090.8 691.3L1078.2 690.8L1065.6 690.3L1053 689.7L1044.6 689.3L1038.7 688.7L1035.8 688.2L1032.9 687.1L1030.4 684.6L1028.3 679.5L1026.6 674.8L1024.5 673L1023.6 671.9Z" fill="#d0e8ee" fill-opacity="1" stroke="#b4aa96" stroke-opacity="0.5" stroke-width="4.4" stroke-linejoin="round"/>
<path d="M1048.8 672.9V756.9M1063.5 672.9V756.9M1092.9 672.9V756.9M1107.5 672.9V756.9M1122.2 672.9V756.9" stroke="#b0b0b0" stroke-width="1.05" fill="none"/>
<path d="M1014 693.9H1142M1014 714.9H1142M1014 735.9H1142" stroke="#b0b0b0" stroke-width="1.15" fill="none"/>
<path d="M1019.5 672.9V756.9M1078.2 672.9V756.9M1136.9 672.9V756.9" stroke="#008000" stroke-opacity="0.5" stroke-width="4.8" fill="none"/>
<path d="M1015 672.9L1019.5 672.9L1024.5 673L1026.6 674.5L1028.3 678.7L1030.4 683.2L1032.9 685.5L1035.8 686.5L1038.7 686.9L1044.6 687.4L1053 687.8L1065.6 688.3L1078.2 688.8L1090.8 689.2L1103.4 689.6L1120.1 690L1136.9 690.5L1138.4 690.5" fill="none" stroke="#000" stroke-width="9" stroke-linejoin="round" stroke-linecap="butt"/>
</g>
<path d="M1034.1 756.9V767.7M1048.8 756.9V767.7M1063.5 756.9V767.7M1092.9 756.9V767.7M1107.5 756.9V767.7M1122.2 756.9V767.7M1014 735.9H1003.2M1014 714.9H1003.2M1014 693.9H1003.2" stroke="#000" stroke-width="3" fill="none"/>
<path d="M1019.5 756.9V775.3M1078.2 756.9V775.3M1136.9 756.9V775.3M1014 756.9H995.6M1014 672.9H995.6" stroke="#008000" stroke-width="4.8" fill="none"/>
<rect x="1014" y="672.9" width="128" height="84" fill="none" stroke="#008000" stroke-width="5.6"/>
</g>
<g>
<clipPath id="c4_5"><rect x="1193.5" y="672.9" width="128" height="84"/></clipPath>
<g clip-path="url(#c4_5)">
<path d="M1203.1 671.9L1204 672.9L1206.1 673.6L1207.8 675.6L1209.9 677.7L1212.4 678.7L1215.3 679.2L1218.2 679.4L1224.1 679.6L1232.5 679.8L1245.1 680L1257.7 680.2L1270.3 680.4L1282.9 680.6L1299.6 680.8L1316.4 681L1316.4 694.8L1299.6 694.2L1282.9 693.7L1270.3 693.2L1257.7 692.7L1245.1 692.2L1232.5 691.5L1224.1 691L1218.2 690.4L1215.3 689.9L1212.4 688.7L1209.9 685.8L1207.8 680.2L1206.1 675L1204 673L1203.1 671.9Z" fill="#1f77b4" fill-opacity="0.5" stroke="#1f77b4" stroke-opacity="0.5" stroke-width="4.4" stroke-linejoin="round"/>
<path d="M1203.1 671.9L1204 672.9L1206.1 673.7L1207.8 675.9L1209.9 678.2L1212.4 679.4L1215.3 679.9L1218.2 680.1L1224.1 680.4L1232.5 680.6L1245.1 680.8L1257.7 681.1L1270.3 681.3L1282.9 681.4L1299.6 681.7L1316.4 681.9L1316.4 693.6L1299.6 693.1L1282.9 692.6L1270.3 692.2L1257.7 691.7L1245.1 691.2L1232.5 690.6L1224.1 690.1L1218.2 689.5L1215.3 689L1212.4 687.8L1209.9 685.2L1207.8 679.9L1206.1 674.9L1204 673L1203.1 671.9Z" fill="#fdd7af" fill-opacity="0.6" stroke="#d29150" stroke-opacity="0.53" stroke-width="4.4" stroke-linejoin="round"/>
<path d="M1213.6 672.9V756.9M1243 672.9V756.9M1272.4 672.9V756.9M1287 672.9V756.9" stroke="#b0b0b0" stroke-width="1.05" fill="none"/>
<path d="M1193.5 693.9H1321.5M1193.5 714.9H1321.5M1193.5 735.9H1321.5" stroke="#b0b0b0" stroke-width="1.15" fill="none"/>
<path d="M1199 672.9V756.9M1257.7 672.9V756.9M1316.4 672.9V756.9" stroke="#0000ff" stroke-opacity="0.5" stroke-width="4.8" fill="none"/>
<path d="M1194.5 672.9L1199 672.9L1204 673L1206.1 674.4L1207.8 678.2L1209.9 682.2L1212.4 684.3L1215.3 685.1L1218.2 685.5L1224.1 686L1232.5 686.3L1245.1 686.8L1257.7 687.2L1270.3 687.5L1282.9 687.9L1299.6 688.3L1316.4 688.7L1317.9 688.7" fill="none" stroke="#000" stroke-width="9" stroke-linejoin="round" stroke-linecap="butt"/>
</g>
<path d="M1213.6 756.9V767.7M1228.3 756.9V767.7M1243 756.9V767.7M1272.4 756.9V767.7M1287 756.9V767.7M1301.7 756.9V767.7M1193.5 735.9H1182.7M1193.5 714.9H1182.7M1193.5 693.9H1182.7" stroke="#000" stroke-width="3" fill="none"/>
<path d="M1199 756.9V775.3M1257.7 756.9V775.3M1316.4 756.9V775.3M1193.5 756.9H1175.1M1193.5 672.9H1175.1" stroke="#0000ff" stroke-width="4.8" fill="none"/>
<rect x="1193.5" y="672.9" width="128" height="84" fill="none" stroke="#0000ff" stroke-width="5.6"/>
</g>
<g>
<clipPath id="c4_6"><rect x="1373" y="672.9" width="128" height="84"/></clipPath>
<g clip-path="url(#c4_6)">
<path d="M1382.6 671.9L1383.5 672.9L1385.6 673.4L1387.3 674.9L1389.4 676.5L1391.9 677.3L1394.8 677.6L1397.7 677.8L1403.6 678L1412 678.1L1424.6 678.3L1437.2 678.5L1449.8 678.7L1462.4 678.8L1479.1 679L1495.9 679.2L1495.9 696.1L1479.1 695.5L1462.4 694.8L1449.8 694.2L1437.2 693.6L1424.6 693L1412 692.2L1403.6 691.6L1397.7 690.8L1394.8 690.3L1391.9 689L1389.4 686.2L1387.3 680.4L1385.6 675L1383.5 673L1382.6 671.9Z" fill="#1f77b4" fill-opacity="0.5" stroke="#1f77b4" stroke-opacity="0.5" stroke-width="4.4" stroke-linejoin="round"/>
<path d="M1382.6 671.9L1383.5 672.9L1385.6 673.5L1387.3 675.2L1389.4 677L1391.9 677.9L1394.8 678.3L1397.7 678.5L1403.6 678.7L1412 678.9L1424.6 679.1L1437.2 679.3L1449.8 679.5L1462.4 679.7L1479.1 679.9L1495.9 680.1L1495.9 695L1479.1 694.4L1462.4 693.7L1449.8 693.2L1437.2 692.6L1424.6 692L1412 691.3L1403.6 690.7L1397.7 690L1394.8 689.5L1391.9 688.3L1389.4 685.5L1387.3 680L1385.6 674.9L1383.5 673L1382.6 671.9Z" fill="#fdd7af" fill-opacity="0.6" stroke="#d29150" stroke-opacity="0.53" stroke-width="4.4" stroke-linejoin="round"/>
<path d="M1393.1 672.9V756.9M1407.8 672.9V756.9M1422.5 672.9V756.9M1466.5 672.9V756.9M1481.2 672.9V756.9" stroke="#b0b0b0" stroke-width="1.05" fill="none"/>
<path d="M1373 693.9H1501M1373 714.9H1501M1373 735.9H1501" stroke="#b0b0b0" stroke-width="1.15" fill="none"/>
<path d="M1378.5 672.9V756.9M1437.2 672.9V756.9M1495.9 672.9V756.9" stroke="#0000ff" stroke-opacity="0.5" stroke-width="4.8" fill="none"/>
<path d="M1374 672.9L1378.5 672.9L1383.5 673L1385.6 674.1L1387.3 677L1389.4 680.2L1391.9 681.8L1394.8 682.5L1397.7 682.8L1403.6 683.2L1412 683.6L1424.6 684L1437.2 684.4L1449.8 684.7L1462.4 685L1479.1 685.4L1495.9 685.8L1497.4 685.8" fill="none" stroke="#000" stroke-width="9" stroke-linejoin="round" stroke-linecap="butt"/>
</g>
<path d="M1393.1 756.9V767.7M1407.8 756.9V767.7M1422.5 756.9V767.7M1451.9 756.9V767.7M1466.5 756.9V767.7M1481.2 756.9V767.7M1373 735.9H1362.2M1373 714.9H1362.2M1373 693.9H1362.2" stroke="#000" stroke-width="3" fill="none"/>
<path d="M1378.5 756.9V775.3M1437.2 756.9V775.3M1495.9 756.9V775.3M1373 756.9H1354.6M1373 672.9H1354.6" stroke="#0000ff" stroke-width="4.8" fill="none"/>
<rect x="1373" y="672.9" width="128" height="84" fill="none" stroke="#0000ff" stroke-width="5.6"/>
</g>
<g>
<clipPath id="c4_7"><rect x="1552.5" y="672.9" width="128" height="84"/></clipPath>
<g clip-path="url(#c4_7)">
<path d="M1562.1 671.9L1563 672.9L1565.1 673.4L1566.8 674.9L1568.9 676.4L1571.4 677.2L1574.3 677.6L1577.2 677.7L1583.1 678L1591.5 678.2L1604.1 678.5L1616.7 678.8L1629.3 679L1641.9 679.2L1658.6 679.4L1675.4 679.7L1675.4 700.4L1658.6 699.4L1641.9 698.5L1629.3 697.7L1616.7 697L1604.1 695.8L1591.5 694.5L1583.1 693.5L1577.2 692.5L1574.3 691.9L1571.4 690.5L1568.9 687.4L1566.8 681.1L1565.1 675.2L1563 673.1L1562.1 671.9Z" fill="#1f77b4" fill-opacity="0.5" stroke="#1f77b4" stroke-opacity="0.5" stroke-width="4.4" stroke-linejoin="round"/>
<path d="M1562.1 671.9L1563 672.9L1565.1 673.6L1566.8 675.4L1568.9 677.4L1571.4 678.4L1574.3 678.8L1577.2 679L1583.1 679.3L1591.5 679.6L1604.1 680L1616.7 680.4L1629.3 680.6L1641.9 680.9L1658.6 681.2L1675.4 681.5L1675.4 696.6L1658.6 695.7L1641.9 694.9L1629.3 694.3L1616.7 693.7L1604.1 692.6L1591.5 691.5L1583.1 690.6L1577.2 689.8L1574.3 689.3L1571.4 688.1L1568.9 685.4L1566.8 680L1565.1 674.9L1563 673L1562.1 671.9Z" fill="#fdd7af" fill-opacity="0.6" stroke="#d29150" stroke-opacity="0.53" stroke-width="4.4" stroke-linejoin="round"/>
<path d="M1572.6 672.9V756.9M1587.3 672.9V756.9M1631.4 672.9V756.9M1660.7 672.9V756.9" stroke="#b0b0b0" stroke-width="1.05" fill="none"/>
<path d="M1552.5 693.9H1680.5M1552.5 714.9H1680.5M1552.5 735.9H1680.5" stroke="#b0b0b0" stroke-width="1.15" fill="none"/>
<path d="M1558 672.9V756.9M1616.7 672.9V756.9M1675.4 672.9V756.9" stroke="#0000ff" stroke-opacity="0.5" stroke-width="4.8" fill="none"/>
<path d="M1553.5 672.9L1558 672.9L1563 673L1565.1 674.3L1566.8 677.8L1568.9 681.6L1571.4 683.5L1574.3 684.3L1577.2 684.6L1583.1 685.2L1591.5 685.8L1604.1 686.6L1616.7 687.3L1629.3 687.8L1641.9 688.2L1658.6 688.8L1675.4 689.4L1676.9 689.4" fill="none" stroke="#000" stroke-width="9" stroke-linejoin="round" stroke-linecap="butt"/>
</g>
<path d="M1572.6 756.9V767.7M1587.3 756.9V767.7M1602 756.9V767.7M1631.4 756.9V767.7M1646 756.9V767.7M1660.7 756.9V767.7M1552.5 735.9H1541.7M1552.5 714.9H1541.7M1552.5 693.9H1541.7" stroke="#000" stroke-width="3" fill="none"/>
<path d="M1558 756.9V775.3M1616.7 756.9V775.3M1675.4 756.9V775.3M1552.5 756.9H1534.1M1552.5 672.9H1534.1" stroke="#0000ff" stroke-width="4.8" fill="none"/>
<rect x="1552.5" y="672.9" width="128" height="84" fill="none" stroke="#0000ff" stroke-width="5.6"/>
</g>
<g>
<clipPath id="c4_8"><rect x="1732" y="672.9" width="128" height="84"/></clipPath>
<g clip-path="url(#c4_8)">
<path d="M1741.6 671.9L1742.5 672.9L1744.6 673.3L1746.3 674.6L1748.4 675.9L1750.9 676.5L1753.8 676.8L1756.7 676.9L1762.6 677.1L1771 677.3L1783.6 677.6L1796.2 677.8L1808.8 678L1821.4 678.2L1838.1 678.5L1854.9 678.8L1854.9 697L1838.1 695.9L1821.4 694.8L1808.8 693.9L1796.2 693.1L1783.6 692.2L1771 691.1L1762.6 690.3L1756.7 689.5L1753.8 689L1750.9 687.8L1748.4 685.2L1746.3 679.8L1744.6 674.9L1742.5 673L1741.6 671.9Z" fill="#1f77b4" fill-opacity="0.5" stroke="#1f77b4" stroke-opacity="0.5" stroke-width="4.4" stroke-linejoin="round"/>
<path d="M1741.6 671.9L1742.5 672.9L1744.6 673.7L1746.3 675.7L1748.4 677.8L1750.9 678.9L1753.8 679.4L1756.7 679.6L1762.6 679.9L1771 680.2L1783.6 680.6L1796.2 681L1808.8 681.3L1821.4 681.7L1838.1 682.1L1854.9 682.6L1854.9 695.4L1838.1 694.4L1821.4 693.4L1808.8 692.6L1796.2 691.8L1783.6 690.9L1771 689.9L1762.6 689.2L1756.7 688.4L1753.8 688L1750.9 686.9L1748.4 684.4L1746.3 679.4L1744.6 674.7L1742.5 673L1741.6 671.9Z" fill="#fdd7af" fill-opacity="0.6" stroke="#d29150" stroke-opacity="0.53" stroke-width="4.4" stroke-linejoin="round"/>
<path d="M1752.1 672.9V756.9M1781.5 672.9V756.9M1810.9 672.9V756.9M1825.5 672.9V756.9" stroke="#b0b0b0" stroke-width="1.05" fill="none"/>
<path d="M1732 693.9H1860M1732 714.9H1860M1732 735.9H1860" stroke="#b0b0b0" stroke-width="1.15" fill="none"/>
<path d="M1737.5 672.9V756.9M1796.2 672.9V756.9M1854.9 672.9V756.9" stroke="#0000ff" stroke-opacity="0.5" stroke-width="4.8" fill="none"/>
<path d="M1733 672.9L1737.5 672.9L1742.5 673L1744.6 674.4L1746.3 678.1L1748.4 682.1L1750.9 684.1L1753.8 684.9L1756.7 685.3L1762.6 685.9L1771 686.5L1783.6 687.3L1796.2 688L1808.8 688.6L1821.4 689.3L1838.1 690.1L1854.9 690.9L1856.4 690.9" fill="none" stroke="#000" stroke-width="9" stroke-linejoin="round" stroke-linecap="butt"/>
</g>
<path d="M1752.1 756.9V767.7M1766.8 756.9V767.7M1781.5 756.9V767.7M1810.9 756.9V767.7M1825.5 756.9V767.7M1840.2 756.9V767.7M1732 735.9H1721.2M1732 714.9H1721.2M1732 693.9H1721.2" stroke="#000" stroke-width="3" fill="none"/>
<path d="M1737.5 756.9V775.3M1796.2 756.9V775.3M1854.9 756.9V775.3M1732 756.9H1713.6M1732 672.9H1713.6" stroke="#0000ff" stroke-width="4.8" fill="none"/>
<rect x="1732" y="672.9" width="128" height="84" fill="none" stroke="#0000ff" stroke-width="5.6"/>
</g>
<g>
<clipPath id="c4_9"><rect x="1911.5" y="672.9" width="128" height="84"/></clipPath>
<g clip-path="url(#c4_9)">
<path d="M1921.1 671.9L1922 672.9L1924.1 673.4L1925.8 674.7L1927.9 676.1L1930.4 676.8L1933.3 677.1L1936.2 677.2L1942.1 677.5L1950.5 677.8L1963.1 678.2L1975.7 678.6L1988.3 678.8L2000.9 679L2017.6 679.3L2034.4 679.7L2034.4 702.6L2017.6 701.3L2000.9 699.9L1988.3 698.9L1975.7 697.8L1963.1 696.3L1950.5 694.5L1942.1 693.2L1936.2 691.9L1933.3 691.3L1930.4 690L1927.9 686.9L1925.8 680.9L1924.1 675.1L1922 673.1L1921.1 671.9Z" fill="#1f77b4" fill-opacity="0.5" stroke="#1f77b4" stroke-opacity="0.5" stroke-width="4.4" stroke-linejoin="round"/>
<path d="M1921.1 671.9L1922 672.9L1924.1 673.6L1925.8 675.3L1927.9 677.1L1930.4 678.1L1933.3 678.5L1936.2 678.6L1942.1 679L1950.5 679.4L1963.1 680L1975.7 680.4L1988.3 680.8L2000.9 681.1L2017.6 681.5L2034.4 681.9L2034.4 701.1L2017.6 699.8L2000.9 698.5L1988.3 697.5L1975.7 696.5L1963.1 695L1950.5 693.4L1942.1 692.1L1936.2 690.9L1933.3 690.3L1930.4 689.1L1927.9 686.2L1925.8 680.4L1924.1 675L1922 673L1921.1 671.9Z" fill="#fdd7af" fill-opacity="0.6" stroke="#d29150" stroke-opacity="0.53" stroke-width="4.4" stroke-linejoin="round"/>
<path d="M1931.6 672.9V756.9M1946.3 672.9V756.9M1990.4 672.9V756.9M2019.7 672.9V756.9" stroke="#b0b0b0" stroke-width="1.05" fill="none"/>
<path d="M1911.5 693.9H2039.5M1911.5 714.9H2039.5M1911.5 735.9H2039.5" stroke="#b0b0b0" stroke-width="1.15" fill="none"/>
<path d="M1917 672.9V756.9M1975.7 672.9V756.9M2034.4 672.9V756.9" stroke="#000000" stroke-opacity="0.5" stroke-width="4.8" fill="none"/>
<path d="M1912.5 672.9L1917 672.9L1922 673L1924.1 674.2L1925.8 677.7L1927.9 681.4L1930.4 683.2L1933.3 684.1L1936.2 684.4L1942.1 685.2L1950.5 686L1963.1 687L1975.7 688L1988.3 688.6L2000.9 689.3L2017.6 690.1L2034.4 690.9L2035.9 690.9" fill="none" stroke="#000" stroke-width="9" stroke-linejoin="round" stroke-linecap="butt"/>
</g>
<path d="M1931.6 756.9V767.7M1946.3 756.9V767.7M1961 756.9V767.7M1990.4 756.9V767.7M2005 756.9V767.7M2019.7 756.9V767.7M1911.5 735.9H1900.7M1911.5 714.9H1900.7M1911.5 693.9H1900.7" stroke="#000" stroke-width="3" fill="none"/>
<path d="M1917 756.9V775.3M1975.7 756.9V775.3M2034.4 756.9V775.3M1911.5 756.9H1893.1M1911.5 672.9H1893.1" stroke="#000000" stroke-width="4.8" fill="none"/>
<rect x="1911.5" y="672.9" width="128" height="84" fill="none" stroke="#000000" stroke-width="5.6"/>
</g>
<g>
<clipPath id="c4_10"><rect x="2091" y="672.9" width="128" height="84"/></clipPath>
<g clip-path="url(#c4_10)">
<path d="M2100.6 671.9C2101 672.9 2101.3 674.7 2101.7 675C2104.7 677.5 2107.7 677.8 2110.7 678.3C2117.4 679.6 2124.2 679.9 2130.9 680.6C2138.8 681.4 2146.7 682.3 2154.5 682.8C2161.6 683.3 2168.8 683.5 2175.9 684C2181.9 684.3 2187.9 684.7 2193.9 685.1C2200.5 685.5 2207.1 686.1 2213.7 686.7L2213.7 706.9C2204.8 706 2196 705.6 2187.1 704.2C2183.4 703.6 2179.6 701.6 2175.9 700.8C2168.8 699.4 2161.6 698.9 2154.5 697.9C2146.7 696.8 2138.8 696.1 2130.9 694.7C2124.9 693.7 2118.9 692.9 2112.9 690.7C2110.7 689.9 2108.4 688.4 2106.2 686.2C2104.7 684.7 2103.2 683 2101.7 678.3C2101.3 677.3 2101 674 2100.6 671.9Z" fill="#1f77b4" fill-opacity="0.5" stroke="#1f77b4" stroke-opacity="0.5" stroke-width="4.4" stroke-linejoin="round"/>
<path d="M2100.6 671.9C2101 672.9 2101.3 674.6 2101.7 675.1C2104.7 679.4 2107.7 680.9 2110.7 681.7C2117.4 683.6 2124.2 683.9 2130.9 684.9C2138.8 686.1 2146.7 687.1 2154.5 688.2C2161.6 689.1 2168.8 690.8 2175.9 691C2181.9 691.1 2187.9 691 2193.9 691.2C2200.5 691.3 2207.1 692.3 2213.7 692.9L2213.7 704.4C2204.8 703.1 2196 702.4 2187.1 700.6C2183.4 699.8 2179.6 697.9 2175.9 697.2C2168.8 695.8 2161.6 695.2 2154.5 694.3C2146.7 693.2 2138.8 692.3 2130.9 691C2124.9 690 2118.9 689.2 2112.9 687.3C2110.7 686.5 2108.4 685.4 2106.2 683.6C2104.7 682.3 2103.2 680.7 2101.7 676.9C2101.3 676 2101 673.5 2100.6 671.9Z" fill="#fdd7af" fill-opacity="1" stroke="#d29150" stroke-opacity="0.53" stroke-width="4.4" stroke-linejoin="round"/>
<path d="M2125.8 672.9V756.9M2140.5 672.9V756.9M2169.9 672.9V756.9M2184.5 672.9V756.9" stroke="#b0b0b0" stroke-width="1.05" fill="none"/>
<path d="M2091 693.9H2219M2091 714.9H2219M2091 735.9H2219" stroke="#b0b0b0" stroke-width="1.15" fill="none"/>
<path d="M2096.4 672.9V756.9M2155.2 672.9V756.9M2213.9 672.9V756.9" stroke="#000000" stroke-opacity="0.5" stroke-width="4.8" fill="none"/>
<path d="M2091.9 672.9C2093.4 672.9 2094.9 672.9 2096.4 672.9C2097.8 672.9 2099.2 672.9 2100.6 672.9C2102.1 672.9 2103.6 679.1 2105 680.6C2106.9 682.5 2108.8 683.8 2110.7 684.4C2117.4 686.5 2124.2 687 2130.9 688C2138.8 689.2 2146.7 690.1 2154.5 691.2C2161.6 692.1 2168.8 692.6 2175.9 694.1C2179.6 694.8 2183.4 697.1 2187.1 697.9C2190.9 698.7 2194.6 699 2198.4 699.7C2203.6 700.6 2208.7 703.1 2213.9 703.1C2214.4 703.1 2214.9 703.1 2215.4 703.1" fill="none" stroke="#000" stroke-width="9" stroke-linejoin="round" stroke-linecap="butt"/>
</g>
<path d="M2111.1 756.9V767.7M2125.8 756.9V767.7M2140.5 756.9V767.7M2169.9 756.9V767.7M2184.5 756.9V767.7M2199.2 756.9V767.7M2091 735.9H2080.2M2091 714.9H2080.2M2091 693.9H2080.2" stroke="#000" stroke-width="3" fill="none"/>
<path d="M2096.4 756.9V775.3M2155.2 756.9V775.3M2213.9 756.9V775.3M2091 756.9H2072.6M2091 672.9H2072.6" stroke="#000000" stroke-width="4.8" fill="none"/>
<rect x="2091" y="672.9" width="128" height="84" fill="none" stroke="#000000" stroke-width="5.6"/>
</g>
<g>
<clipPath id="c5_0"><rect x="296" y="790.7" width="128" height="84"/></clipPath>
<g clip-path="url(#c5_0)">
<path d="M305.6 789.7L306.5 790.8L308.6 791.4L310.3 793.2L312.4 795L314.9 796L317.8 796.4L320.7 796.5L326.6 797.3L335 798.1L347.6 799.1L360.2 800.1L372.8 800.6L385.4 801.1L402.1 801.8L418.9 802.5L418.9 819.8L402.1 818.1L385.4 816.4L372.8 815.1L360.2 813.9L347.6 811.6L335 809L326.6 807.1L320.7 805.2L317.8 804.7L314.9 803.7L312.4 801.4L310.3 796.8L308.6 792.4L306.5 790.8L305.6 789.7Z" fill="#1f77b4" fill-opacity="0.5" stroke="#1f77b4" stroke-opacity="0.5" stroke-width="4.4" stroke-linejoin="round"/>
<path d="M305.6 789.7L306.5 790.8L308.6 791.5L310.3 793.6L312.4 795.9L314.9 797L317.8 797.5L320.7 797.7L326.6 798.6L335 799.5L347.6 800.7L360.2 801.8L372.8 802.5L385.4 803.1L402.1 803.9L418.9 804.7L418.9 818.7L402.1 817.1L385.4 815.4L372.8 814.2L360.2 813L347.6 810.8L335 808.3L326.6 806.4L320.7 804.6L317.8 804.2L314.9 803.2L312.4 801L310.3 796.5L308.6 792.4L306.5 790.8L305.6 789.7Z" fill="#fdd7af" fill-opacity="0.6" stroke="#d29150" stroke-opacity="0.53" stroke-width="4.4" stroke-linejoin="round"/>
<path d="M316.1 790.7V874.7M345.5 790.7V874.7M389.5 790.7V874.7" stroke="#b0b0b0" stroke-width="1.05" fill="none"/>
<path d="M301.4 790.7V874.7M360.2 790.7V874.7M418.9 790.7V874.7" stroke="#0000ff" stroke-opacity="0.5" stroke-width="4.8" fill="none"/>
<path d="M296.9 790.7L301.4 790.7L306.5 790.8L308.6 792.1L310.3 795.7L312.4 799.6L314.9 801.5L317.8 802.4L320.7 802.7L326.6 804.3L335 805.9L347.6 808L360.2 809.9L372.8 811L385.4 812L402.1 813.4L418.9 814.9L420.4 814.9" fill="none" stroke="#000" stroke-width="9" stroke-linejoin="round" stroke-linecap="butt"/>
</g>
<path d="M316.1 874.7V885.5M330.8 874.7V885.5M345.5 874.7V885.5M374.9 874.7V885.5M389.5 874.7V885.5M404.2 874.7V885.5M296 853.7H285.2M296 832.7H285.2M296 811.7H285.2" stroke="#000" stroke-width="3" fill="none"/>
<path d="M301.4 874.7V893.1M360.2 874.7V893.1M418.9 874.7V893.1M296 874.7H277.6M296 790.7H277.6" stroke="#0000ff" stroke-width="4.8" fill="none"/>
<rect x="296" y="790.7" width="128" height="84" fill="none" stroke="#0000ff" stroke-width="5.6"/>
</g>
<g>
<clipPath id="c5_1"><rect x="475.5" y="790.7" width="128" height="84"/></clipPath>
<g clip-path="url(#c5_1)">
<path d="M485.1 789.7L486 790.8L488.1 791.4L489.8 793.3L491.9 795.2L494.4 796.2L497.3 796.6L500.2 796.8L506.1 797.3L514.5 797.8L527.1 798.5L539.7 799.1L552.3 799.5L564.9 799.8L581.6 800.2L598.4 800.7L598.4 811.7L581.6 810.8L564.9 809.9L552.3 809.2L539.7 808.5L527.1 807.2L514.5 805.8L506.1 804.7L500.2 803.6L497.3 803.2L494.4 802.3L491.9 800.2L489.8 796.1L488.1 792.2L486 790.8L485.1 789.7Z" fill="#1f77b4" fill-opacity="0.5" stroke="#1f77b4" stroke-opacity="0.5" stroke-width="4.4" stroke-linejoin="round"/>
<path d="M485.1 789.7L486 790.8L488.1 791.5L489.8 793.5L491.9 795.6L494.4 796.7L497.3 797.2L500.2 797.4L506.1 797.9L514.5 798.5L527.1 799.2L539.7 799.9L552.3 800.3L564.9 800.6L581.6 801.1L598.4 801.6L598.4 810.6L581.6 809.7L564.9 808.9L552.3 808.2L539.7 807.6L527.1 806.3L514.5 805L506.1 803.9L500.2 802.9L497.3 802.5L494.4 801.7L491.9 799.7L489.8 795.8L488.1 792.2L486 790.8L485.1 789.7Z" fill="#fdd7af" fill-opacity="0.6" stroke="#d29150" stroke-opacity="0.53" stroke-width="4.4" stroke-linejoin="round"/>
<path d="M495.6 790.7V874.7M510.3 790.7V874.7M554.4 790.7V874.7M583.7 790.7V874.7" stroke="#b0b0b0" stroke-width="1.05" fill="none"/>
<path d="M480.9 790.7V874.7M539.7 790.7V874.7M598.4 790.7V874.7" stroke="#0000ff" stroke-opacity="0.5" stroke-width="4.8" fill="none"/>
<path d="M476.4 790.7L480.9 790.7L486 790.8L488.1 791.9L489.8 794.9L491.9 798.1L494.4 799.7L497.3 800.4L500.2 800.7L506.1 801.5L514.5 802.4L527.1 803.5L539.7 804.5L552.3 805L564.9 805.6L581.6 806.3L598.4 807L599.9 807" fill="none" stroke="#000" stroke-width="9" stroke-linejoin="round" stroke-linecap="butt"/>
</g>
<path d="M495.6 874.7V885.5M510.3 874.7V885.5M525 874.7V885.5M554.4 874.7V885.5M569 874.7V885.5M583.7 874.7V885.5M475.5 853.7H464.7M475.5 832.7H464.7M475.5 811.7H464.7" stroke="#000" stroke-width="3" fill="none"/>
<path d="M480.9 874.7V893.1M539.7 874.7V893.1M598.4 874.7V893.1M475.5 874.7H457.1M475.5 790.7H457.1" stroke="#0000ff" stroke-width="4.8" fill="none"/>
<rect x="475.5" y="790.7" width="128" height="84" fill="none" stroke="#0000ff" stroke-width="5.6"/>
</g>
<g>
<clipPath id="c5_2"><rect x="655" y="790.7" width="128" height="84"/></clipPath>
<g clip-path="url(#c5_2)">
<path d="M664.6 789.7L665.5 790.8L667.6 791.4L669.3 793L671.4 794.8L673.9 795.7L676.8 796L679.7 796.2L685.6 796.5L694 796.7L706.6 797.1L719.2 797.4L731.8 797.6L744.4 797.8L761.1 798.1L777.9 798.4L777.9 810.2L761.1 809.4L744.4 808.7L731.8 808.1L719.2 807.5L706.6 806.7L694 805.9L685.6 805.2L679.7 804.6L676.8 804.2L673.9 803.2L671.4 801L669.3 796.5L667.6 792.4L665.5 790.8L664.6 789.7Z" fill="#1f77b4" fill-opacity="0.5" stroke="#1f77b4" stroke-opacity="0.5" stroke-width="4.4" stroke-linejoin="round"/>
<path d="M664.6 789.7L665.5 790.8L667.6 791.4L669.3 793.3L671.4 795.2L673.9 796.2L676.8 796.7L679.7 796.8L685.6 797.1L694 797.4L706.6 797.8L719.2 798.1L731.8 798.4L744.4 798.6L761.1 799L777.9 799.3L777.9 809.3L761.1 808.5L744.4 807.8L731.8 807.3L719.2 806.7L706.6 806L694 805.2L685.6 804.6L679.7 803.9L676.8 803.6L673.9 802.6L671.4 800.5L669.3 796.3L667.6 792.3L665.5 790.8L664.6 789.7Z" fill="#fdd7af" fill-opacity="0.6" stroke="#d29150" stroke-opacity="0.53" stroke-width="4.4" stroke-linejoin="round"/>
<path d="M689.8 790.7V874.7M704.5 790.7V874.7M733.9 790.7V874.7M748.5 790.7V874.7" stroke="#b0b0b0" stroke-width="1.05" fill="none"/>
<path d="M660.5 790.7V874.7M719.2 790.7V874.7M777.9 790.7V874.7" stroke="#0000ff" stroke-opacity="0.5" stroke-width="4.8" fill="none"/>
<path d="M656 790.7L660.5 790.7L665.5 790.8L667.6 792L669.3 795.2L671.4 798.6L673.9 800.3L676.8 801L679.7 801.4L685.6 801.9L694 802.4L706.6 803L719.2 803.6L731.8 804L744.4 804.5L761.1 805.1L777.9 805.6L779.4 805.6" fill="none" stroke="#000" stroke-width="9" stroke-linejoin="round" stroke-linecap="butt"/>
</g>
<path d="M675.1 874.7V885.5M689.8 874.7V885.5M704.5 874.7V885.5M733.9 874.7V885.5M748.5 874.7V885.5M763.2 874.7V885.5M655 853.7H644.2M655 832.7H644.2M655 811.7H644.2" stroke="#000" stroke-width="3" fill="none"/>
<path d="M660.5 874.7V893.1M719.2 874.7V893.1M777.9 874.7V893.1M655 874.7H636.6M655 790.7H636.6" stroke="#0000ff" stroke-width="4.8" fill="none"/>
<rect x="655" y="790.7" width="128" height="84" fill="none" stroke="#0000ff" stroke-width="5.6"/>
</g>
<g>
<clipPath id="c5_3"><rect x="834.5" y="790.7" width="128" height="84"/></clipPath>
<g clip-path="url(#c5_3)">
<path d="M844.1 789.7L845 790.8L847.1 791.3L848.8 792.8L850.9 794.4L853.4 795.3L856.3 795.6L859.2 795.8L865.1 796.1L873.5 796.4L886.1 796.8L898.7 797.1L911.3 797.3L923.9 797.5L940.6 797.7L957.4 798L957.4 809.5L940.6 808.9L923.9 808.2L911.3 807.7L898.7 807.3L886.1 806.3L873.5 805.3L865.1 804.5L859.2 803.8L856.3 803.4L853.4 802.5L850.9 800.4L848.8 796.2L847.1 792.3L845 790.8L844.1 789.7Z" fill="#1f77b4" fill-opacity="0.5" stroke="#1f77b4" stroke-opacity="0.5" stroke-width="4.4" stroke-linejoin="round"/>
<path d="M844.1 789.7L845 790.8L847.1 791.4L848.8 793.1L850.9 794.9L853.4 795.8L856.3 796.2L859.2 796.4L865.1 796.7L873.5 797.1L886.1 797.5L898.7 797.9L911.3 798.1L923.9 798.3L940.6 798.6L957.4 798.9L957.4 808.4L940.6 807.8L923.9 807.2L911.3 806.7L898.7 806.3L886.1 805.4L873.5 804.5L865.1 803.7L859.2 803L856.3 802.6L853.4 801.8L850.9 799.8L848.8 795.9L847.1 792.2L845 790.8L844.1 789.7Z" fill="#fdd7af" fill-opacity="0.6" stroke="#d29150" stroke-opacity="0.53" stroke-width="4.4" stroke-linejoin="round"/>
<path d="M854.6 790.7V874.7M869.3 790.7V874.7M928 790.7V874.7" stroke="#b0b0b0" stroke-width="1.05" fill="none"/>
<path d="M840 790.7V874.7M898.7 790.7V874.7M957.4 790.7V874.7" stroke="#0000ff" stroke-opacity="0.5" stroke-width="4.8" fill="none"/>
<path d="M835.5 790.7L840 790.7L845 790.8L847.1 791.8L848.8 794.6L850.9 797.6L853.4 799.1L856.3 799.7L859.2 800L865.1 800.6L873.5 801.1L886.1 801.8L898.7 802.5L911.3 802.8L923.9 803.2L940.6 803.6L957.4 804.1L958.9 804.1" fill="none" stroke="#000" stroke-width="9" stroke-linejoin="round" stroke-linecap="butt"/>
</g>
<path d="M854.6 874.7V885.5M869.3 874.7V885.5M884 874.7V885.5M913.4 874.7V885.5M928 874.7V885.5M942.7 874.7V885.5M834.5 853.7H823.7M834.5 832.7H823.7M834.5 811.7H823.7" stroke="#000" stroke-width="3" fill="none"/>
<path d="M840 874.7V893.1M898.7 874.7V893.1M957.4 874.7V893.1M834.5 874.7H816.1M834.5 790.7H816.1" stroke="#0000ff" stroke-width="4.8" fill="none"/>
<rect x="834.5" y="790.7" width="128" height="84" fill="none" stroke="#0000ff" stroke-width="5.6"/>
</g>
<g>
<clipPath id="c5_4"><rect x="1014" y="790.7" width="128" height="84"/></clipPath>
<g clip-path="url(#c5_4)">
<path d="M1023.6 789.7L1024.5 790.7L1026.6 791.3L1028.3 792.8L1030.4 794.3L1032.9 795.1L1035.8 795.4L1038.7 795.6L1044.6 795.8L1053 796.1L1065.6 796.4L1078.2 796.7L1090.8 797L1103.4 797.3L1120.1 797.6L1136.9 798L1136.9 812.9L1120.1 811.8L1103.4 810.7L1090.8 809.9L1078.2 809.1L1065.6 808.2L1053 807.2L1044.6 806.4L1038.7 805.6L1035.8 805.2L1032.9 804.1L1030.4 801.7L1028.3 797L1026.6 792.5L1024.5 790.8L1023.6 789.7Z" fill="#1f77b4" fill-opacity="0.5" stroke="#1f77b4" stroke-opacity="0.5" stroke-width="4.4" stroke-linejoin="round"/>
<path d="M1023.6 789.7L1024.5 790.8L1026.6 791.4L1028.3 793L1030.4 794.8L1032.9 795.7L1035.8 796L1038.7 796.2L1044.6 796.5L1053 796.8L1065.6 797.1L1078.2 797.5L1090.8 797.8L1103.4 798.1L1120.1 798.5L1136.9 798.9L1136.9 810.6L1120.1 809.6L1103.4 808.7L1090.8 807.9L1078.2 807.2L1065.6 806.4L1053 805.5L1044.6 804.8L1038.7 804.1L1035.8 803.7L1032.9 802.8L1030.4 800.6L1028.3 796.3L1026.6 792.3L1024.5 790.8L1023.6 789.7Z" fill="#fdd7af" fill-opacity="0.6" stroke="#d29150" stroke-opacity="0.53" stroke-width="4.4" stroke-linejoin="round"/>
<path d="M1048.8 790.7V874.7M1063.5 790.7V874.7M1092.9 790.7V874.7M1107.5 790.7V874.7M1122.2 790.7V874.7" stroke="#b0b0b0" stroke-width="1.05" fill="none"/>
<path d="M1019.5 790.7V874.7M1078.2 790.7V874.7M1136.9 790.7V874.7" stroke="#000000" stroke-opacity="0.5" stroke-width="4.8" fill="none"/>
<path d="M1015 790.7L1019.5 790.7L1024.5 790.8L1026.6 791.9L1028.3 794.8L1030.4 797.9L1032.9 799.5L1035.8 800.2L1038.7 800.5L1044.6 801L1053 801.5L1065.6 802.1L1078.2 802.7L1090.8 803.2L1103.4 803.8L1120.1 804.5L1136.9 805.2L1138.4 805.2" fill="none" stroke="#000" stroke-width="9" stroke-linejoin="round" stroke-linecap="butt"/>
</g>
<path d="M1034.1 874.7V885.5M1048.8 874.7V885.5M1063.5 874.7V885.5M1092.9 874.7V885.5M1107.5 874.7V885.5M1122.2 874.7V885.5M1014 853.7H1003.2M1014 832.7H1003.2M1014 811.7H1003.2" stroke="#000" stroke-width="3" fill="none"/>
<path d="M1019.5 874.7V893.1M1078.2 874.7V893.1M1136.9 874.7V893.1M1014 874.7H995.6M1014 790.7H995.6" stroke="#000000" stroke-width="4.8" fill="none"/>
<rect x="1014" y="790.7" width="128" height="84" fill="none" stroke="#000000" stroke-width="5.6"/>
</g>
<g>
<clipPath id="c5_5"><rect x="1193.5" y="790.7" width="128" height="84"/></clipPath>
<g clip-path="url(#c5_5)">
<path d="M1203.1 789.7L1204 790.8L1206.1 791.4L1207.8 793.2L1209.9 795.1L1212.4 796L1215.3 796.4L1218.2 796.6L1224.1 797L1232.5 797.4L1245.1 798L1257.7 798.5L1270.3 798.8L1282.9 799.2L1299.6 799.7L1316.4 800.2L1316.4 817.4L1299.6 815.9L1282.9 814.5L1270.3 813.5L1257.7 812.4L1245.1 811L1232.5 809.5L1224.1 808.3L1218.2 807.2L1215.3 806.7L1212.4 805.5L1209.9 802.9L1207.8 797.6L1206.1 792.7L1204 790.9L1203.1 789.7Z" fill="#1f77b4" fill-opacity="0.5" stroke="#1f77b4" stroke-opacity="0.5" stroke-width="4.4" stroke-linejoin="round"/>
<path d="M1203.1 789.7L1204 790.8L1206.1 791.5L1207.8 793.4L1209.9 795.5L1212.4 796.5L1215.3 796.9L1218.2 797.1L1224.1 797.6L1232.5 798L1245.1 798.6L1257.7 799.2L1270.3 799.6L1282.9 800L1299.6 800.6L1316.4 801.1L1316.4 816L1299.6 814.7L1282.9 813.3L1270.3 812.3L1257.7 811.3L1245.1 810L1232.5 808.5L1224.1 807.4L1218.2 806.3L1215.3 805.9L1212.4 804.8L1209.9 802.3L1207.8 797.3L1206.1 792.6L1204 790.9L1203.1 789.7Z" fill="#fdd7af" fill-opacity="0.6" stroke="#d29150" stroke-opacity="0.53" stroke-width="4.4" stroke-linejoin="round"/>
<path d="M1203.1 789.7L1204 790.8L1206.1 791.6L1207.8 793.8L1209.9 796.1L1212.4 797.2L1215.3 797.8L1218.2 798L1224.1 798.5L1232.5 799L1245.1 799.7L1257.7 800.3L1270.3 800.8L1282.9 801.2L1299.6 801.8L1316.4 802.5L1316.4 813.5L1299.6 812.3L1282.9 811.1L1270.3 810.2L1257.7 809.3L1245.1 808.1L1232.5 806.8L1224.1 805.8L1218.2 804.8L1215.3 804.4L1212.4 803.4L1209.9 801.1L1207.8 796.6L1206.1 792.4L1204 790.8L1203.1 789.7Z" fill="#d0e8ee" fill-opacity="1" stroke="#b4aa96" stroke-opacity="0.5" stroke-width="4.4" stroke-linejoin="round"/>
<path d="M1213.6 790.7V874.7M1243 790.7V874.7M1272.4 790.7V874.7M1287 790.7V874.7" stroke="#b0b0b0" stroke-width="1.05" fill="none"/>
<path d="M1199 790.7V874.7M1257.7 790.7V874.7M1316.4 790.7V874.7" stroke="#000000" stroke-opacity="0.5" stroke-width="4.8" fill="none"/>
<path d="M1194.5 790.7L1199 790.7L1204 790.8L1206.1 792.1L1207.8 795.7L1209.9 799.6L1212.4 801.5L1215.3 802.4L1218.2 802.7L1224.1 803.5L1232.5 804.4L1245.1 805.5L1257.7 806.5L1270.3 807.3L1282.9 808.1L1299.6 809.1L1316.4 810.1L1317.9 810.1" fill="none" stroke="#000" stroke-width="9" stroke-linejoin="round" stroke-linecap="butt"/>
</g>
<path d="M1213.6 874.7V885.5M1228.3 874.7V885.5M1243 874.7V885.5M1272.4 874.7V885.5M1287 874.7V885.5M1301.7 874.7V885.5M1193.5 853.7H1182.7M1193.5 832.7H1182.7M1193.5 811.7H1182.7" stroke="#000" stroke-width="3" fill="none"/>
<path d="M1199 874.7V893.1M1257.7 874.7V893.1M1316.4 874.7V893.1M1193.5 874.7H1175.1M1193.5 790.7H1175.1" stroke="#000000" stroke-width="4.8" fill="none"/>
<rect x="1193.5" y="790.7" width="128" height="84" fill="none" stroke="#000000" stroke-width="5.6"/>
</g>
<g>
<clipPath id="c5_6"><rect x="1373" y="790.7" width="128" height="84"/></clipPath>
<g clip-path="url(#c5_6)">
<path d="M1382.6 789.7L1383.5 790.8L1385.6 791.4L1387.3 793L1389.4 794.7L1391.9 795.6L1394.8 796L1397.7 796.1L1403.6 796.4L1412 796.7L1424.6 797.1L1437.2 797.4L1449.8 797.6L1462.4 797.8L1479.1 798.1L1495.9 798.4L1495.9 822.8L1479.1 821.5L1462.4 820.3L1449.8 819.4L1437.2 818.5L1424.6 817.1L1412 815.6L1403.6 814.4L1397.7 813.2L1394.8 812.6L1391.9 811L1389.4 807.4L1387.3 800.2L1385.6 793.4L1383.5 790.9L1382.6 789.7Z" fill="#1f77b4" fill-opacity="0.5" stroke="#1f77b4" stroke-opacity="0.5" stroke-width="4.4" stroke-linejoin="round"/>
<path d="M1382.6 789.7L1383.5 790.8L1385.6 791.4L1387.3 793.2L1389.4 795.2L1391.9 796.2L1394.8 796.6L1397.7 796.8L1403.6 797.1L1412 797.4L1424.6 797.8L1437.2 798.2L1449.8 798.4L1462.4 798.7L1479.1 799L1495.9 799.3L1495.9 814.7L1479.1 813.7L1462.4 812.8L1449.8 812.1L1437.2 811.5L1424.6 810.4L1412 809.3L1403.6 808.4L1397.7 807.5L1394.8 807L1391.9 805.9L1389.4 803.2L1387.3 797.8L1385.6 792.7L1383.5 790.9L1382.6 789.7Z" fill="#fdd7af" fill-opacity="0.6" stroke="#d29150" stroke-opacity="0.53" stroke-width="4.4" stroke-linejoin="round"/>
<path d="M1393.1 790.7V874.7M1407.8 790.7V874.7M1422.5 790.7V874.7M1466.5 790.7V874.7M1481.2 790.7V874.7" stroke="#b0b0b0" stroke-width="1.05" fill="none"/>
<path d="M1378.5 790.7V874.7M1437.2 790.7V874.7M1495.9 790.7V874.7" stroke="#000000" stroke-opacity="0.5" stroke-width="4.8" fill="none"/>
<path d="M1374 790.7L1378.5 790.7L1383.5 790.8L1385.6 792L1387.3 795.2L1389.4 798.6L1391.9 800.3L1394.8 801L1397.7 801.4L1403.6 801.9L1412 802.5L1424.6 803.2L1437.2 803.8L1449.8 804.3L1462.4 804.7L1479.1 805.3L1495.9 805.9L1497.4 805.9" fill="none" stroke="#000" stroke-width="9" stroke-linejoin="round" stroke-linecap="butt"/>
</g>
<path d="M1393.1 874.7V885.5M1407.8 874.7V885.5M1422.5 874.7V885.5M1451.9 874.7V885.5M1466.5 874.7V885.5M1481.2 874.7V885.5M1373 853.7H1362.2M1373 832.7H1362.2M1373 811.7H1362.2" stroke="#000" stroke-width="3" fill="none"/>
<path d="M1378.5 874.7V893.1M1437.2 874.7V893.1M1495.9 874.7V893.1M1373 874.7H1354.6M1373 790.7H1354.6" stroke="#000000" stroke-width="4.8" fill="none"/>
<rect x="1373" y="790.7" width="128" height="84" fill="none" stroke="#000000" stroke-width="5.6"/>
</g>
<g>
<clipPath id="c5_7"><rect x="1552.5" y="790.7" width="128" height="84"/></clipPath>
<g clip-path="url(#c5_7)">
<path d="M1562.1 789.7L1563 790.8L1565.1 791.6L1566.8 793.7L1568.9 796L1571.4 797.2L1574.3 797.7L1577.2 797.9L1583.1 798.4L1591.5 798.9L1604.1 799.7L1616.7 800.3L1629.3 800.9L1641.9 801.6L1658.6 802.5L1675.4 803.4L1675.4 823.2L1658.6 821L1641.9 818.7L1629.3 817L1616.7 815.3L1604.1 813.7L1591.5 811.9L1583.1 810.5L1577.2 809.1L1574.3 808.6L1571.4 807.3L1568.9 804.3L1566.8 798.4L1565.1 792.9L1563 790.9L1562.1 789.7Z" fill="#1f77b4" fill-opacity="0.5" stroke="#1f77b4" stroke-opacity="0.5" stroke-width="4.4" stroke-linejoin="round"/>
<path d="M1562.1 789.7L1563 790.8L1565.1 791.7L1566.8 794.1L1568.9 796.8L1571.4 798.1L1574.3 798.6L1577.2 798.9L1583.1 799.5L1591.5 800.1L1604.1 800.9L1616.7 801.7L1629.3 802.4L1641.9 803.2L1658.6 804.2L1675.4 805.2L1675.4 821.4L1658.6 819.3L1641.9 817.1L1629.3 815.6L1616.7 814L1604.1 812.4L1591.5 810.7L1583.1 809.4L1577.2 808.1L1574.3 807.6L1571.4 806.4L1568.9 803.6L1566.8 798L1565.1 792.8L1563 790.9L1562.1 789.7Z" fill="#fdd7af" fill-opacity="0.6" stroke="#d29150" stroke-opacity="0.53" stroke-width="4.4" stroke-linejoin="round"/>
<path d="M1562.1 789.7L1563 790.8L1565.1 791.8L1566.8 794.7L1568.9 797.7L1571.4 799.2L1574.3 799.9L1577.2 800.2L1583.1 800.9L1591.5 801.6L1604.1 802.5L1616.7 803.4L1629.3 804.2L1641.9 805.1L1658.6 806.3L1675.4 807.4L1675.4 819.2L1658.6 817.2L1641.9 815.2L1629.3 813.7L1616.7 812.3L1604.1 810.8L1591.5 809.2L1583.1 808L1577.2 806.8L1574.3 806.3L1571.4 805.2L1568.9 802.6L1566.8 797.5L1565.1 792.6L1563 790.9L1562.1 789.7Z" fill="#d0e8ee" fill-opacity="1" stroke="#b4aa96" stroke-opacity="0.5" stroke-width="4.4" stroke-linejoin="round"/>
<path d="M1572.6 790.7V874.7M1587.3 790.7V874.7M1631.4 790.7V874.7M1660.7 790.7V874.7" stroke="#b0b0b0" stroke-width="1.05" fill="none"/>
<path d="M1558 790.7V874.7M1616.7 790.7V874.7M1675.4 790.7V874.7" stroke="#000000" stroke-opacity="0.5" stroke-width="4.8" fill="none"/>
<path d="M1553.5 790.7L1558 790.7L1563 790.8L1565.1 792.5L1566.8 796.9L1568.9 801.6L1571.4 803.9L1574.3 805L1577.2 805.4L1583.1 806.5L1591.5 807.6L1604.1 809L1616.7 810.4L1629.3 811.7L1641.9 813.1L1658.6 814.9L1675.4 816.7L1676.9 816.7" fill="none" stroke="#000" stroke-width="9" stroke-linejoin="round" stroke-linecap="butt"/>
</g>
<path d="M1572.6 874.7V885.5M1587.3 874.7V885.5M1602 874.7V885.5M1631.4 874.7V885.5M1646 874.7V885.5M1660.7 874.7V885.5M1552.5 853.7H1541.7M1552.5 832.7H1541.7M1552.5 811.7H1541.7" stroke="#000" stroke-width="3" fill="none"/>
<path d="M1558 874.7V893.1M1616.7 874.7V893.1M1675.4 874.7V893.1M1552.5 874.7H1534.1M1552.5 790.7H1534.1" stroke="#000000" stroke-width="4.8" fill="none"/>
<rect x="1552.5" y="790.7" width="128" height="84" fill="none" stroke="#000000" stroke-width="5.6"/>
</g>
<g>
<clipPath id="c5_8"><rect x="1732" y="790.7" width="128" height="84"/></clipPath>
<g clip-path="url(#c5_8)">
<path d="M1741.6 789.7L1742.5 790.8L1744.6 791.5L1746.3 793.4L1748.4 795.4L1750.9 796.4L1753.8 796.9L1756.7 797.1L1762.6 797.5L1771 798L1783.6 798.7L1796.2 799.3L1808.8 799.8L1821.4 800.4L1838.1 801.1L1854.9 801.8L1854.9 823.2L1838.1 821.1L1821.4 819L1808.8 817.4L1796.2 815.8L1783.6 814.1L1771 812.2L1762.6 810.8L1756.7 809.4L1753.8 808.8L1750.9 807.5L1748.4 804.5L1746.3 798.5L1744.6 792.9L1742.5 790.9L1741.6 789.7Z" fill="#1f77b4" fill-opacity="0.5" stroke="#1f77b4" stroke-opacity="0.5" stroke-width="4.4" stroke-linejoin="round"/>
<path d="M1741.6 789.7L1742.5 790.8L1744.6 791.6L1746.3 793.9L1748.4 796.4L1750.9 797.6L1753.8 798.1L1756.7 798.4L1762.6 798.9L1771 799.5L1783.6 800.3L1796.2 801L1808.8 801.7L1821.4 802.3L1838.1 803.2L1854.9 804L1854.9 820.3L1838.1 818.4L1821.4 816.5L1808.8 815L1796.2 813.6L1783.6 812L1771 810.3L1762.6 809L1756.7 807.7L1753.8 807.2L1750.9 806L1748.4 803.3L1746.3 797.8L1744.6 792.7L1742.5 790.9L1741.6 789.7Z" fill="#fdd7af" fill-opacity="0.6" stroke="#d29150" stroke-opacity="0.53" stroke-width="4.4" stroke-linejoin="round"/>
<path d="M1752.1 790.7V874.7M1781.5 790.7V874.7M1810.9 790.7V874.7M1825.5 790.7V874.7" stroke="#b0b0b0" stroke-width="1.05" fill="none"/>
<path d="M1737.5 790.7V874.7M1796.2 790.7V874.7M1854.9 790.7V874.7" stroke="#000000" stroke-opacity="0.5" stroke-width="4.8" fill="none"/>
<path d="M1733 790.7L1737.5 790.7L1742.5 790.8L1744.6 792.4L1746.3 796.7L1748.4 801.3L1750.9 803.5L1753.8 804.5L1756.7 805L1762.6 806L1771 807.2L1783.6 808.6L1796.2 809.9L1808.8 811.1L1821.4 812.3L1838.1 813.9L1854.9 815.5L1856.4 815.5" fill="none" stroke="#000" stroke-width="9" stroke-linejoin="round" stroke-linecap="butt"/>
</g>
<path d="M1752.1 874.7V885.5M1766.8 874.7V885.5M1781.5 874.7V885.5M1810.9 874.7V885.5M1825.5 874.7V885.5M1840.2 874.7V885.5M1732 853.7H1721.2M1732 832.7H1721.2M1732 811.7H1721.2" stroke="#000" stroke-width="3" fill="none"/>
<path d="M1737.5 874.7V893.1M1796.2 874.7V893.1M1854.9 874.7V893.1M1732 874.7H1713.6M1732 790.7H1713.6" stroke="#000000" stroke-width="4.8" fill="none"/>
<rect x="1732" y="790.7" width="128" height="84" fill="none" stroke="#000000" stroke-width="5.6"/>
</g>
<g>
<clipPath id="c5_9"><rect x="1911.5" y="790.7" width="128" height="84"/></clipPath>
<g clip-path="url(#c5_9)">
<path d="M1921.1 789.7C1921.3 790.6 1921.5 792.2 1921.7 792.4C1926.2 796.7 1930.7 796.8 1935.2 797.5C1948.6 799.6 1961.9 800 1975.3 800.9C1982.2 801.4 1989.1 801.8 1996 802C2003.5 802.3 2010.9 802.5 2018.4 802.7C2023.5 802.9 2028.6 803 2033.7 803.2L2034.4 803.2L2034.4 838.7L2033.7 838.7C2028.6 837.2 2023.5 836.2 2018.4 834.2C2015.4 833 2012.4 830.4 2009.4 829C2004.9 826.9 2000.5 825.5 1996 823.9C1989.1 821.3 1982.2 818.3 1975.3 816.2C1968.7 814.2 1962.1 812.5 1955.5 811C1949.5 809.7 1943.5 809.4 1937.5 807.7C1934.5 806.8 1931.5 805.3 1928.5 803.2C1926.2 801.6 1924 801.3 1921.7 795.3C1921.5 794.8 1921.3 791.6 1921.1 789.7Z" fill="#1f77b4" fill-opacity="0.5" stroke="#1f77b4" stroke-opacity="0.5" stroke-width="4.4" stroke-linejoin="round"/>
<path d="M1921.1 789.7C1921.3 790.6 1921.5 792.1 1921.7 792.3C1926.2 798.7 1930.7 799.7 1935.2 800.6C1948.6 803.4 1961.9 804.9 1975.3 804.9C1982.2 804.9 1989.1 804.3 1996 804.3C2003.5 804.3 2010.9 805.9 2018.4 806.5C2023.5 807 2028.6 807.3 2033.7 807.7L2034.4 807.7L2034.4 832.9L2033.7 832.9C2028.6 832 2023.5 831.6 2018.4 830.2C2015.4 829.3 2012.4 826.4 2009.4 825.2C2004.9 823.4 2000.5 822.7 1996 821.2C1989.1 818.7 1982.2 813.7 1975.3 811.9C1968.7 810.2 1962.1 809.4 1955.5 808.3C1949.5 807.3 1943.5 807.1 1937.5 805.6C1934.5 804.9 1931.5 803.4 1928.5 801.3C1926.2 799.8 1924 799.2 1921.7 793.8C1921.5 793.3 1921.3 791.1 1921.1 789.7Z" fill="#fdd7af" fill-opacity="1" stroke="#d29150" stroke-opacity="0.53" stroke-width="4.4" stroke-linejoin="round"/>
<path d="M1921.1 789.7C1921.3 790.9 1921.5 793 1921.7 793.3C1926.2 798.7 1930.7 798.9 1935.2 799.8C1948.6 802.5 1961.9 802.8 1975.3 804.3C1982.2 805 1989.1 805.7 1996 806.5C2003.5 807.5 2010.9 808.8 2018.4 809.9C2023.5 810.7 2028.6 811.4 2033.7 812.2L2034.4 812.2L2034.4 823.4L2033.7 823.4C2030.1 822.8 2026.5 822.3 2022.9 821.6C2015.4 820.2 2007.9 818.5 2000.5 816.7C1992.1 814.6 1983.7 811.5 1975.3 809.9C1961.9 807.4 1948.6 807.8 1935.2 804.3C1930.7 803.1 1926.2 802.6 1921.7 794.6C1921.5 794.3 1921.3 791.3 1921.1 789.7Z" fill="#d0e8ee" fill-opacity="1" stroke="#b4aa96" stroke-opacity="0.5" stroke-width="4.4" stroke-linejoin="round"/>
<path d="M1931.6 790.7V874.7M1946.3 790.7V874.7M1990.4 790.7V874.7M2019.7 790.7V874.7" stroke="#b0b0b0" stroke-width="1.05" fill="none"/>
<path d="M1917 790.7V874.7M1975.7 790.7V874.7M2034.4 790.7V874.7" stroke="#ff0000" stroke-opacity="0.5" stroke-width="4.8" fill="none"/>
<path d="M1912.5 790.7C1914 790.7 1915.5 790.7 1917 790.7C1918.3 790.7 1919.7 790.7 1921.1 790.7C1922.8 790.7 1924.5 797.2 1926.2 798.7C1929.2 801.2 1932.2 803 1935.2 803.6C1940.5 804.7 1945.7 804.8 1951 805.4C1959.1 806.3 1967.2 807.2 1975.3 808.1C1980.7 808.7 1986.1 808.9 1991.5 809.9C1994.5 810.5 1997.5 814 2000.5 814.4C2004.9 815.1 2009.4 814.9 2013.9 815.5C2016.9 816 2019.9 819.4 2022.9 820C2026.8 820.9 2030.6 821.6 2034.4 821.6C2034.9 821.6 2035.4 821.6 2035.9 821.6" fill="none" stroke="#000" stroke-width="9" stroke-linejoin="round" stroke-linecap="butt"/>
</g>
<path d="M1931.6 874.7V885.5M1946.3 874.7V885.5M1961 874.7V885.5M1990.4 874.7V885.5M2005 874.7V885.5M2019.7 874.7V885.5M1911.5 853.7H1900.7M1911.5 832.7H1900.7M1911.5 811.7H1900.7" stroke="#000" stroke-width="3" fill="none"/>
<path d="M1917 874.7V893.1M1975.7 874.7V893.1M2034.4 874.7V893.1M1911.5 874.7H1893.1M1911.5 790.7H1893.1" stroke="#ff0000" stroke-width="4.8" fill="none"/>
<rect x="1911.5" y="790.7" width="128" height="84" fill="none" stroke="#ff0000" stroke-width="5.6"/>
</g>
<g>
<clipPath id="c5_10"><rect x="2091" y="790.7" width="128" height="84"/></clipPath>
<g clip-path="url(#c5_10)">
<path d="M2100.6 789.7C2101 790.6 2101.3 792.2 2101.7 792.4C2103.9 793.7 2106.2 794 2108.4 794.2C2123.8 795 2139.2 794.8 2154.5 795.3C2165.4 795.6 2176.3 795.8 2187.1 796.4C2192.4 796.7 2197.6 797.6 2202.9 798.7C2206.5 799.4 2210.1 800.9 2213.7 802L2213.7 860.5C2212 857.5 2210.2 854.6 2208.5 851.5C2206.6 848.2 2204.8 842.4 2202.9 841.4C2197.6 838.5 2192.4 839.4 2187.1 836.9C2183.4 835.1 2179.6 826.5 2175.9 824.5C2168.8 820.8 2161.6 819.2 2154.5 817.8C2146.7 816.2 2138.8 816 2130.9 814.4C2123.4 812.9 2115.9 811.4 2108.4 806.5C2106.2 805.1 2103.9 801.9 2101.7 795.3C2101.3 794.3 2101 791.6 2100.6 789.7Z" fill="#1f77b4" fill-opacity="0.5" stroke="#1f77b4" stroke-opacity="0.5" stroke-width="4.4" stroke-linejoin="round"/>
<path d="M2100.6 789.7C2101 790.7 2101.3 792.1 2101.7 792.6C2103.9 795.4 2106.2 797 2108.4 797C2123.8 797 2139.2 796.9 2154.5 796.9C2165.4 796.9 2176.3 797.5 2187.1 798.2C2192.4 798.6 2197.6 799.4 2202.9 800.5C2206.5 801.2 2210.1 803 2213.7 804.3L2213.7 858.3C2212 855.3 2210.2 852.3 2208.5 849.3C2206.6 846 2204.8 840.2 2202.9 839.1C2197.6 836.2 2192.4 837.2 2187.1 834.7C2183.4 832.8 2179.6 822.4 2175.9 820.4C2168.8 816.6 2161.6 814.3 2154.5 813.7C2146.7 813.1 2138.8 813.3 2130.9 812.6C2123.4 812 2115.9 808.5 2108.4 803.2C2106.2 801.6 2103.9 799.3 2101.7 794C2101.3 793.2 2101 791.1 2100.6 789.7Z" fill="#fdd7af" fill-opacity="1" stroke="#d29150" stroke-opacity="0.53" stroke-width="4.4" stroke-linejoin="round"/>
<path d="M2100.6 789.7C2118.6 794.6 2136.6 799.5 2154.5 804.3C2161.6 806.2 2168.8 807.7 2175.9 809.9C2181.9 811.8 2187.9 814.1 2193.9 816.7C2197.6 818.3 2201.4 819.4 2205.1 822.3C2208 824.4 2210.8 830.5 2213.7 834.7L2213.7 849.3C2212 847 2210.2 844.4 2208.5 842.5C2203.6 837.3 2198.8 834.1 2193.9 830.2C2188.6 825.9 2183.4 820.1 2178.1 817.8C2170.3 814.4 2162.4 813.6 2154.5 811C2136.6 805.2 2118.6 796.8 2100.6 789.7Z" fill="#d0e8ee" fill-opacity="1" stroke="#b4aa96" stroke-opacity="0.5" stroke-width="4.4" stroke-linejoin="round"/>
<path d="M2125.8 790.7V874.7M2140.5 790.7V874.7M2169.9 790.7V874.7M2184.5 790.7V874.7" stroke="#b0b0b0" stroke-width="1.05" fill="none"/>
<path d="M2096.4 790.7V874.7M2155.2 790.7V874.7M2213.9 790.7V874.7" stroke="#ff0000" stroke-opacity="0.5" stroke-width="4.8" fill="none"/>
<path d="M2091.9 790.7C2093.4 790.7 2094.9 790.7 2096.4 790.7C2097.8 790.7 2099.2 790.7 2100.6 790.7C2102.5 790.7 2104.3 797.2 2106.2 798.7C2109.2 801 2112.2 802.5 2115.2 803.2C2120.4 804.4 2125.7 804.6 2130.9 805.4C2138.8 806.7 2146.7 807.5 2154.5 809.9C2157.9 810.9 2161.3 815 2164.6 815.5C2169.1 816.2 2173.6 815.9 2178.1 816.7C2181.1 817.1 2184.1 822.3 2187.1 824.5C2189.4 826.2 2191.6 828.5 2193.9 829C2196.9 829.7 2199.9 829.4 2202.9 830.2C2204.8 830.6 2206.6 838.5 2208.5 841.4C2210.3 844.2 2212.1 848.1 2213.9 848.1C2214.4 848.1 2214.9 848.1 2215.4 848.1" fill="none" stroke="#000" stroke-width="9" stroke-linejoin="round" stroke-linecap="butt"/>
</g>
<path d="M2111.1 874.7V885.5M2125.8 874.7V885.5M2140.5 874.7V885.5M2169.9 874.7V885.5M2184.5 874.7V885.5M2199.2 874.7V885.5M2091 853.7H2080.2M2091 832.7H2080.2M2091 811.7H2080.2" stroke="#000" stroke-width="3" fill="none"/>
<path d="M2096.4 874.7V893.1M2155.2 874.7V893.1M2213.9 874.7V893.1M2091 874.7H2072.6M2091 790.7H2072.6" stroke="#ff0000" stroke-width="4.8" fill="none"/>
<rect x="2091" y="790.7" width="128" height="84" fill="none" stroke="#ff0000" stroke-width="5.6"/>
</g>
<g>
<clipPath id="c6_0"><rect x="296" y="908.5" width="128" height="84"/></clipPath>
<g clip-path="url(#c6_0)">
<path d="M305.6 907.5C305.8 908.9 306 911.4 306.2 911.5C310 914 313.7 913.3 317.5 914.2C322 915.3 326.5 917.3 331 917.6C340.7 918.3 350.3 918.2 360 918.7C369.8 919.2 379.6 919.8 389.5 921C395.5 921.7 401.5 924.7 407.5 925.5C411.2 926 415 926.2 418.7 926.6L418.9 998.5L412 998.5L412 992.5C409 991.5 406 990.6 403 989.6C398.5 988.1 394 987 389.5 985.1C385 983.2 380.5 979.4 376 977.2C370.6 974.6 365.3 973.2 360 970.5C355.2 968 350.4 964.8 345.6 961.5C340.7 958.1 335.9 954.8 331 950.2C327.2 946.7 323.5 942 319.7 936.7C317.5 933.6 315.2 928.8 313 925.5C310.7 922.2 308.5 923.7 306.2 916.5C306 915.9 305.8 910.5 305.6 907.5Z" fill="#1f77b4" fill-opacity="0.5" stroke="#1f77b4" stroke-opacity="0.5" stroke-width="4.4" stroke-linejoin="round"/>
<path d="M305.6 907.5C305.8 908.7 306 910.7 306.2 911C310 916.6 313.7 917.2 317.5 918.1C322 919.1 326.5 919.2 331 919.9C340.7 921.4 350.3 923.5 360 925.5C369.8 927.6 379.6 929.2 389.5 932.2C395.5 934.1 401.5 937.3 407.5 940.1C411.2 941.9 415 943.9 418.7 945.7L418.9 998.5L418.7 998.5L418.7 992.5C416.5 991.2 414.2 990.3 412 988.5C409 986.1 406 980.4 403 977.2C398.5 972.4 394 967.4 389.5 964.9C385 962.3 380.5 961.3 376 959.2C370.6 956.8 365.3 954 360 951.4C350.3 946.5 340.7 942.9 331 936.7C325.7 933.4 320.5 928.8 315.2 923.7C312.2 920.8 309.2 921.4 306.2 913.4C306 912.9 305.8 909.5 305.6 907.5Z" fill="#fdd7af" fill-opacity="1" stroke="#d29150" stroke-opacity="0.53" stroke-width="4.4" stroke-linejoin="round"/>
<path d="M305.6 907.5C314.1 913.1 322.5 921.4 331 924.4C340.7 927.7 350.3 928.6 360 931.1C369.8 933.7 379.6 936 389.5 940.1C395.5 942.6 401.5 947.4 407.5 951.4C411.2 953.8 415 956.6 418.7 959.2L418.7 972.7C415 970.9 411.2 969.3 407.5 967.1C401.5 963.6 395.5 957.1 389.5 953.6C379.6 947.9 369.8 943.7 360 940.1C350.3 936.5 340.7 935.7 331 931.1C322.5 927.1 314.1 915.4 305.6 907.5Z" fill="#d0e8ee" fill-opacity="1" stroke="#b4aa96" stroke-opacity="0.5" stroke-width="4.4" stroke-linejoin="round"/>
<path d="M316.1 908.5V992.5M345.5 908.5V992.5M389.5 908.5V992.5" stroke="#b0b0b0" stroke-width="1.05" fill="none"/>
<path d="M296 929.5H424M296 950.5H424M296 971.5H424" stroke="#b0b0b0" stroke-width="1.15" fill="none"/>
<path d="M301.4 908.5V992.5M360.2 908.5V992.5M418.9 908.5V992.5" stroke="#ff0000" stroke-opacity="0.5" stroke-width="4.8" fill="none"/>
<path d="M296.9 908.5C298.4 908.5 299.9 908.5 301.4 908.5C302.8 908.5 304.2 908.5 305.6 908.5C308.1 908.5 310.5 918 313 919.9C316.7 922.8 320.5 923.9 324.2 925.5C330.2 928.1 336.2 930.7 342.2 932.2C348.2 933.7 354.1 934.1 360 935.6C365.3 936.9 370.6 939 376 941.2C380.5 943.1 385 945.3 389.5 948C394 950.7 398.5 955.1 403 958.1C406 960.1 409 962.1 412 963.7C414.3 965 416.6 967.1 418.9 967.1C419.4 967.1 419.9 967.1 420.4 967.1" fill="none" stroke="#000" stroke-width="9" stroke-linejoin="round" stroke-linecap="butt"/>
</g>
<path d="M316.1 992.5V1003.3M330.8 992.5V1003.3M345.5 992.5V1003.3M374.9 992.5V1003.3M389.5 992.5V1003.3M404.2 992.5V1003.3M296 971.5H285.2M296 950.5H285.2M296 929.5H285.2" stroke="#000" stroke-width="3" fill="none"/>
<path d="M301.4 992.5V1010.9M360.2 992.5V1010.9M418.9 992.5V1010.9M296 992.5H277.6M296 908.5H277.6" stroke="#ff0000" stroke-width="4.8" fill="none"/>
<rect x="296" y="908.5" width="128" height="84" fill="none" stroke="#ff0000" stroke-width="5.6"/>
</g>
<g>
<clipPath id="c6_1"><rect x="475.5" y="908.5" width="128" height="84"/></clipPath>
<g clip-path="url(#c6_1)">
<path d="M485.1 907.5C485.5 908.9 485.8 911.4 486.2 911.5C489.9 913.4 493.7 913.2 497.4 913.8C501.9 914.5 506.4 914.9 510.9 915.4C520.4 916.3 530 916.9 539.5 917.6C545 918 550.4 918.2 555.9 918.7C561.9 919.4 567.9 922.1 573.9 923.2C578.4 924.1 582.9 925.5 587.4 925.5C591 925.5 594.6 925.5 598.2 925.5L598.2 973.9C594.6 972.4 591 970.9 587.4 969.4C582.9 967.5 578.4 965.6 573.9 963.7C567.9 961.2 561.9 958.4 555.9 955.9C550.4 953.5 545 951.3 539.5 949.1C533.7 946.8 527.9 944.5 522.2 942.4C514.7 939.6 507.2 938.9 499.7 934.5C497.1 933 494.4 929 491.8 925.5C489.9 923 488.1 922.5 486.2 916.5C485.8 915.4 485.5 910.5 485.1 907.5Z" fill="#1f77b4" fill-opacity="0.5" stroke="#1f77b4" stroke-opacity="0.5" stroke-width="4.4" stroke-linejoin="round"/>
<path d="M485.1 907.5C485.5 908.8 485.8 911.2 486.2 911.4C489.9 913.7 493.7 913.5 497.4 914.2C501.9 915.2 506.4 915.8 510.9 916.5C520.4 918 530 919.3 539.5 921C545 922 550.4 923.1 555.9 924.4C561.9 925.7 567.9 927 573.9 928.9C578.4 930.3 582.9 932.9 587.4 934.5C591 935.8 594.6 936.7 598.2 937.9L598.2 964.9C594.6 963.4 591 961.9 587.4 960.4C582.9 958.5 578.4 956.6 573.9 954.7C567.9 952.2 561.9 948.5 555.9 946.9C550.4 945.3 545 944.8 539.5 943.5C530 941.2 520.4 938.7 510.9 934.5C504.9 931.8 498.9 928 492.9 922.5C490.7 920.4 488.4 919.5 486.2 913.8C485.8 912.9 485.5 909.6 485.1 907.5Z" fill="#fdd7af" fill-opacity="1" stroke="#d29150" stroke-opacity="0.53" stroke-width="4.4" stroke-linejoin="round"/>
<path d="M485.1 907.5C493.7 911.6 502.3 917.5 510.9 919.9C520.4 922.5 530 923.4 539.5 925.5C551 928.1 562.4 931.1 573.9 934.5C582 936.8 590.1 939.7 598.2 942.4L598.2 954.3C590.1 951.8 582 949.5 573.9 946.9C562.4 943.1 551 937.7 539.5 934.5C530 931.8 520.4 931.2 510.9 927.7C502.3 924.6 493.7 914.3 485.1 907.5Z" fill="#d0e8ee" fill-opacity="1" stroke="#b4aa96" stroke-opacity="0.5" stroke-width="4.4" stroke-linejoin="round"/>
<path d="M495.6 908.5V992.5M510.3 908.5V992.5M554.4 908.5V992.5M583.7 908.5V992.5" stroke="#b0b0b0" stroke-width="1.05" fill="none"/>
<path d="M475.5 929.5H603.5M475.5 950.5H603.5M475.5 971.5H603.5" stroke="#b0b0b0" stroke-width="1.15" fill="none"/>
<path d="M480.9 908.5V992.5M539.7 908.5V992.5M598.4 908.5V992.5" stroke="#000000" stroke-opacity="0.5" stroke-width="4.8" fill="none"/>
<path d="M476.4 908.5C477.9 908.5 479.4 908.5 480.9 908.5C482.3 908.5 483.7 908.5 485.1 908.5C487 908.5 488.8 917.5 490.7 918.7C493.7 920.7 496.7 921.3 499.7 922.1C507.2 924.2 514.7 924.9 522.2 926.6C527.9 927.9 533.7 929.4 539.5 931.1C545 932.7 550.4 934.8 555.9 936.7C561.9 938.9 567.9 941.7 573.9 943.5C578.4 944.8 582.9 945.6 587.4 946.9C591.1 947.9 594.7 950.2 598.4 950.2C598.9 950.2 599.4 950.2 599.9 950.2" fill="none" stroke="#000" stroke-width="9" stroke-linejoin="round" stroke-linecap="butt"/>
</g>
<path d="M495.6 992.5V1003.3M510.3 992.5V1003.3M525 992.5V1003.3M554.4 992.5V1003.3M569 992.5V1003.3M583.7 992.5V1003.3M475.5 971.5H464.7M475.5 950.5H464.7M475.5 929.5H464.7" stroke="#000" stroke-width="3" fill="none"/>
<path d="M480.9 992.5V1010.9M539.7 992.5V1010.9M598.4 992.5V1010.9M475.5 992.5H457.1M475.5 908.5H457.1" stroke="#000000" stroke-width="4.8" fill="none"/>
<rect x="475.5" y="908.5" width="128" height="84" fill="none" stroke="#000000" stroke-width="5.6"/>
</g>
<g>
<clipPath id="c6_2"><rect x="655" y="908.5" width="128" height="84"/></clipPath>
<g clip-path="url(#c6_2)">
<path d="M664.6 907.5C665.1 909 665.6 911.5 666.1 912C669.9 915.9 673.6 916.5 677.4 917.6C681.9 919 686.4 919.7 690.9 920.5C700.2 922.4 709.6 923.5 719 925.5C729.1 927.6 739.2 930 749.3 933.4C753.8 934.8 758.3 936.9 762.8 939C767.9 941.3 772.9 944.2 777.9 946.9L777.9 972.7C772.9 970.9 767.9 969.6 762.8 967.1C758.3 964.8 753.8 960.4 749.3 957C744.8 953.6 740.3 949.2 735.8 946.9C730.2 943.9 724.6 942.2 719 940.1C714.8 938.5 710.7 936.5 706.6 935.6C698.4 933.9 690.1 934.3 681.9 932.2C678.5 931.4 675.1 928.6 671.7 925.5C669.9 923.7 668 922.6 666.1 917.6C665.6 916.3 665.1 910.9 664.6 907.5Z" fill="#1f77b4" fill-opacity="0.5" stroke="#1f77b4" stroke-opacity="0.5" stroke-width="4.4" stroke-linejoin="round"/>
<path d="M664.6 907.5C665.1 909.1 665.6 911.4 666.1 912.1C669.9 917.3 673.6 919 677.4 920.2C681.9 921.6 686.4 922.1 690.9 922.9C700.2 924.7 709.6 925.8 719 928C729.1 930.3 739.2 934.1 749.3 937.9C758.9 941.4 768.4 946.3 777.9 950.5L777.9 964.9C772.9 962.2 767.9 959.3 762.8 957C758.3 954.9 753.8 953.8 749.3 951.4C744.8 948.9 740.3 943.2 735.8 940.8C730.2 937.8 724.6 935.6 719 934C709.6 931.4 700.2 930.2 690.9 928.1C684.9 926.7 678.9 926.4 672.9 923.7C670.6 922.7 668.4 920.1 666.1 914.8C665.6 913.6 665.1 910 664.6 907.5Z" fill="#fdd7af" fill-opacity="1" stroke="#d29150" stroke-opacity="0.53" stroke-width="4.4" stroke-linejoin="round"/>
<path d="M689.8 908.5V992.5M704.5 908.5V992.5M733.9 908.5V992.5M748.5 908.5V992.5" stroke="#b0b0b0" stroke-width="1.05" fill="none"/>
<path d="M655 929.5H783M655 950.5H783M655 971.5H783" stroke="#b0b0b0" stroke-width="1.15" fill="none"/>
<path d="M660.5 908.5V992.5M719.2 908.5V992.5M777.9 908.5V992.5" stroke="#ff0000" stroke-opacity="0.5" stroke-width="4.8" fill="none"/>
<path d="M656 908.5C657.5 908.5 659 908.5 660.5 908.5C661.8 908.5 663.2 908.5 664.6 908.5C666.6 908.5 668.6 919.9 670.6 921C674.4 923.1 678.1 923.8 681.9 924.4C690.1 925.6 698.4 925.4 706.6 926.6C710.7 927.2 714.8 928.7 719 930C724.6 931.8 730.2 934.7 735.8 936.7C740.3 938.4 744.8 939.6 749.3 941.2C753.8 942.9 758.3 945.1 762.8 946.9C767.9 948.8 772.9 952.5 777.9 952.5C778.4 952.5 778.9 952.5 779.4 952.5" fill="none" stroke="#000" stroke-width="9" stroke-linejoin="round" stroke-linecap="butt"/>
</g>
<path d="M675.1 992.5V1003.3M689.8 992.5V1003.3M704.5 992.5V1003.3M733.9 992.5V1003.3M748.5 992.5V1003.3M763.2 992.5V1003.3M655 971.5H644.2M655 950.5H644.2M655 929.5H644.2" stroke="#000" stroke-width="3" fill="none"/>
<path d="M660.5 992.5V1010.9M719.2 992.5V1010.9M777.9 992.5V1010.9M655 992.5H636.6M655 908.5H636.6" stroke="#ff0000" stroke-width="4.8" fill="none"/>
<rect x="655" y="908.5" width="128" height="84" fill="none" stroke="#ff0000" stroke-width="5.6"/>
</g>
<g>
<clipPath id="c6_3"><rect x="834.5" y="908.5" width="128" height="84"/></clipPath>
<g clip-path="url(#c6_3)">
<path d="M844.1 907.5C844.6 908.9 845 911.4 845.4 911.5C848 912.3 850.6 912.4 853.2 912.4C868.2 912.9 883.2 912.7 898.2 913.1C908 913.4 917.7 915.8 927.5 917.6C932.7 918.6 938 919.3 943.2 921C947.9 922.5 952.5 927 957.2 930L957.2 972.7C954.8 971.6 952.4 970.6 950 969.4C947 967.8 944 965.7 941 963.7C936.5 960.8 932 958.3 927.5 954.7C923 951.1 918.5 945 914 941.2C908.7 936.8 903.5 932 898.2 930C892.2 927.7 886.2 926.5 880.2 925.5C871.2 924 862.2 924.4 853.2 922.1C850.6 921.5 848 920.2 845.4 915.4C845 914.6 844.6 910.2 844.1 907.5Z" fill="#1f77b4" fill-opacity="0.5" stroke="#1f77b4" stroke-opacity="0.5" stroke-width="4.4" stroke-linejoin="round"/>
<path d="M844.1 907.5C844.6 908.8 845 910.9 845.4 911.3C848 914.2 850.6 915.5 853.2 915.5C868.2 915.5 883.2 914.7 898.2 914.7C908 914.7 917.7 917.7 927.5 919.9C932.7 921 938 922.5 943.2 924.4C947.9 926 952.5 928.9 957.2 931.1L957.2 959.2C951.8 957 946.4 954.9 941 952.5C936.5 950.4 932 948.3 927.5 945.7C923 943.2 918.5 939.5 914 936.7C908.7 933.5 903.5 929.5 898.2 927.9C892.2 926.1 886.2 925.2 880.2 924.2C871.2 922.7 862.2 923 853.2 920.5C850.6 919.8 848 918 845.4 913.1C845 912.3 844.6 909.4 844.1 907.5Z" fill="#fdd7af" fill-opacity="1" stroke="#d29150" stroke-opacity="0.53" stroke-width="4.4" stroke-linejoin="round"/>
<path d="M844.1 907.5C862.2 910.7 880.2 913.6 898.2 916.9C908 918.8 917.7 920.6 927.5 922.8C932.7 924 938 925 943.2 926.6C947.9 928.1 952.5 930.7 957.2 932.7L957.2 942.4C947.3 939.9 937.4 937.6 927.5 934.9C917.7 932.3 908 929.7 898.2 926.6C880.2 921 862.2 913.9 844.1 907.5Z" fill="#d0e8ee" fill-opacity="1" stroke="#b4aa96" stroke-opacity="0.5" stroke-width="4.4" stroke-linejoin="round"/>
<path d="M854.6 908.5V992.5M869.3 908.5V992.5M928 908.5V992.5" stroke="#b0b0b0" stroke-width="1.05" fill="none"/>
<path d="M834.5 929.5H962.5M834.5 950.5H962.5M834.5 971.5H962.5" stroke="#b0b0b0" stroke-width="1.15" fill="none"/>
<path d="M840 908.5V992.5M898.7 908.5V992.5M957.4 908.5V992.5" stroke="#ff0000" stroke-opacity="0.5" stroke-width="4.8" fill="none"/>
<path d="M835.5 908.5C837 908.5 838.5 908.5 840 908.5C841.3 908.5 842.7 908.5 844.1 908.5C846.4 908.5 848.7 918 851 918.7C857 920.6 863 920.6 869 921.4C878.7 922.9 888.5 923.8 898.2 925.5C903.5 926.4 908.7 927.5 914 928.9C918.5 930 923 932.2 927.5 933.4C932 934.5 936.5 935.5 941 936.3C946.4 937.2 951.9 938.5 957.4 938.5C957.9 938.5 958.4 938.5 958.9 938.5" fill="none" stroke="#000" stroke-width="9" stroke-linejoin="round" stroke-linecap="butt"/>
</g>
<path d="M854.6 992.5V1003.3M869.3 992.5V1003.3M884 992.5V1003.3M913.4 992.5V1003.3M928 992.5V1003.3M942.7 992.5V1003.3M834.5 971.5H823.7M834.5 950.5H823.7M834.5 929.5H823.7" stroke="#000" stroke-width="3" fill="none"/>
<path d="M840 992.5V1010.9M898.7 992.5V1010.9M957.4 992.5V1010.9M834.5 992.5H816.1M834.5 908.5H816.1" stroke="#ff0000" stroke-width="4.8" fill="none"/>
<rect x="834.5" y="908.5" width="128" height="84" fill="none" stroke="#ff0000" stroke-width="5.6"/>
</g>
<g>
<clipPath id="c6_4"><rect x="1014" y="908.5" width="128" height="84"/></clipPath>
<g clip-path="url(#c6_4)">
<path d="M1023.6 907.5C1024.2 909 1024.8 911.8 1025.3 912C1027.2 912.8 1029.1 912.9 1030.9 913.1C1046.5 915.4 1062.1 915.2 1077.7 917.6C1083.1 918.5 1088.5 920.5 1093.9 922.1C1099.9 923.9 1105.9 925.8 1111.9 927.7C1116.4 929.2 1120.9 930.8 1125.4 932.2C1129.1 933.4 1132.9 934.5 1136.6 935.6L1136.6 980.6C1132.9 976.5 1129.1 971.8 1125.4 968.2C1120.9 963.9 1116.4 960.2 1111.9 957C1105.9 952.7 1099.9 949.9 1093.9 945.7C1088.5 942 1083.1 937.3 1077.7 933.4C1075.6 931.8 1073.5 929.4 1071.4 928.9C1057.9 925.7 1044.4 927.9 1030.9 924.4C1029.1 923.9 1027.2 921.5 1025.3 916.9C1024.8 915.6 1024.2 910.7 1023.6 907.5Z" fill="#1f77b4" fill-opacity="0.5" stroke="#1f77b4" stroke-opacity="0.5" stroke-width="4.4" stroke-linejoin="round"/>
<path d="M1023.6 907.5C1024.2 909 1024.8 911.2 1025.3 911.9C1027.2 914.4 1029.1 915.7 1030.9 916.2C1046.5 920.6 1062.1 920.7 1077.7 922.6C1083.1 923.2 1088.5 923.5 1093.9 924.4C1099.9 925.4 1105.9 929.3 1111.9 931.1C1116.4 932.5 1120.9 933.1 1125.4 934.5C1129.1 935.7 1132.9 937.5 1136.6 939L1136.6 978.3C1132.9 973.9 1129.1 968.6 1125.4 964.9C1120.9 960.4 1116.4 956.7 1111.9 953.6C1105.9 949.5 1099.9 947.6 1093.9 943.5C1088.5 939.8 1083.1 932.9 1077.7 929.7C1075.6 928.5 1073.5 927.1 1071.4 926.7C1057.9 923.8 1044.4 925.7 1030.9 922.2C1029.1 921.7 1027.2 918.6 1025.3 914.3C1024.8 913.1 1024.2 909.8 1023.6 907.5Z" fill="#fdd7af" fill-opacity="1" stroke="#d29150" stroke-opacity="0.53" stroke-width="4.4" stroke-linejoin="round"/>
<path d="M1023.6 907.5C1041.7 912.2 1059.7 916.2 1077.7 921.4C1083.1 923 1088.5 924.6 1093.9 926.6C1099.9 928.8 1105.9 932.2 1111.9 934.5C1116.4 936.2 1120.9 937.3 1125.4 939C1129.1 940.4 1132.9 942 1136.6 943.5L1136.6 959.2C1132.9 957.7 1129.1 956.6 1125.4 954.7C1120.9 952.5 1116.4 948.3 1111.9 945.7C1105.9 942.3 1099.9 939.9 1093.9 936.7C1088.5 933.9 1083.1 930.2 1077.7 927.7C1059.7 919.4 1041.7 914.3 1023.6 907.5Z" fill="#d0e8ee" fill-opacity="1" stroke="#b4aa96" stroke-opacity="0.5" stroke-width="4.4" stroke-linejoin="round"/>
<path d="M1048.8 908.5V992.5M1063.5 908.5V992.5M1092.9 908.5V992.5M1107.5 908.5V992.5M1122.2 908.5V992.5" stroke="#b0b0b0" stroke-width="1.05" fill="none"/>
<path d="M1014 929.5H1142M1014 950.5H1142M1014 971.5H1142" stroke="#b0b0b0" stroke-width="1.15" fill="none"/>
<path d="M1019.5 908.5V992.5M1078.2 908.5V992.5M1136.9 908.5V992.5" stroke="#ff0000" stroke-opacity="0.5" stroke-width="4.8" fill="none"/>
<path d="M1015 908.5C1016.5 908.5 1018 908.5 1019.5 908.5C1020.8 908.5 1022.2 908.5 1023.6 908.5C1026.1 908.5 1028.5 919.2 1030.9 919.9C1036.9 921.4 1042.9 921.4 1048.9 922.1C1056.4 923 1063.9 923.1 1071.4 924.4C1073.5 924.7 1075.6 925.8 1077.7 926.6C1083.1 928.8 1088.5 931.8 1093.9 934.5C1099.9 937.4 1105.9 940.2 1111.9 943.5C1116.4 945.9 1120.9 949.5 1125.4 951.4C1129.2 953 1133.1 955.2 1136.9 955.2C1137.4 955.2 1137.9 955.2 1138.4 955.2" fill="none" stroke="#000" stroke-width="9" stroke-linejoin="round" stroke-linecap="butt"/>
</g>
<path d="M1034.1 992.5V1003.3M1048.8 992.5V1003.3M1063.5 992.5V1003.3M1092.9 992.5V1003.3M1107.5 992.5V1003.3M1122.2 992.5V1003.3M1014 971.5H1003.2M1014 950.5H1003.2M1014 929.5H1003.2" stroke="#000" stroke-width="3" fill="none"/>
<path d="M1019.5 992.5V1010.9M1078.2 992.5V1010.9M1136.9 992.5V1010.9M1014 992.5H995.6M1014 908.5H995.6" stroke="#ff0000" stroke-width="4.8" fill="none"/>
<rect x="1014" y="908.5" width="128" height="84" fill="none" stroke="#ff0000" stroke-width="5.6"/>
</g>
<g>
<clipPath id="c6_5"><rect x="1193.5" y="908.5" width="128" height="84"/></clipPath>
<g clip-path="url(#c6_5)">
<path d="M1203.1 907.5C1203.8 909.2 1204.5 912 1205.2 912.4C1207.1 913.6 1209 913.9 1210.9 914.2C1226.3 917.3 1241.8 917.1 1257.2 919.9C1262.7 920.9 1268.3 923.7 1273.8 924.4C1278.3 924.9 1282.8 924.9 1287.3 925.5C1292.6 926.2 1297.8 929.9 1303.1 931.1C1307.4 932.1 1311.8 932.6 1316.1 933.4L1316.1 981.7C1311.8 978.3 1307.4 974.3 1303.1 971.6C1297.8 968.4 1292.6 966.5 1287.3 963.7C1282.1 960.9 1276.8 958.6 1271.6 954.7C1266.8 951.2 1262 942.1 1257.2 940.1C1247.8 936.2 1238.3 935.9 1228.9 933.4C1222.9 931.7 1216.9 931.2 1210.9 927.7C1209 926.7 1207.1 924.5 1205.2 919.9C1204.5 918.1 1203.8 911.6 1203.1 907.5Z" fill="#1f77b4" fill-opacity="0.5" stroke="#1f77b4" stroke-opacity="0.5" stroke-width="4.4" stroke-linejoin="round"/>
<path d="M1203.1 907.5C1203.8 909.4 1204.5 911.8 1205.2 913.2C1207.1 916.9 1209 920.9 1210.9 921.4C1216.9 923.2 1222.9 922.9 1228.9 924C1238.3 925.6 1247.8 928 1257.2 930.7C1267.2 933.6 1277.3 937.4 1287.3 942C1296.9 946.3 1306.5 953 1316.1 958.5L1316.1 979.5C1311.8 976.5 1307.4 973.2 1303.1 970.5C1297.8 967.2 1292.6 964.7 1287.3 961.5C1282.8 958.7 1278.3 955.8 1273.8 952.5C1268.3 948.4 1262.7 941.1 1257.2 939C1247.8 935.3 1238.3 935.1 1228.9 932.2C1222.9 930.4 1216.9 929.1 1210.9 924.8C1209 923.5 1207.1 920.9 1205.2 916.4C1204.5 914.7 1203.8 910.5 1203.1 907.5Z" fill="#fdd7af" fill-opacity="1" stroke="#d29150" stroke-opacity="0.53" stroke-width="4.4" stroke-linejoin="round"/>
<path d="M1203.1 907.5C1221.2 912.2 1239.2 917.5 1257.2 921.4C1267.2 923.6 1277.3 924.7 1287.3 927.3C1292.6 928.6 1297.8 931.3 1303.1 932.7C1307.4 933.9 1311.8 934.6 1316.1 935.6L1316.1 960.4C1306.5 954.7 1296.9 947.9 1287.3 943.5C1277.3 938.9 1267.2 936.3 1257.2 932.2C1239.2 924.9 1221.2 915.8 1203.1 907.5Z" fill="#d0e8ee" fill-opacity="1" stroke="#b4aa96" stroke-opacity="0.5" stroke-width="4.4" stroke-linejoin="round"/>
<path d="M1213.6 908.5V992.5M1243 908.5V992.5M1272.4 908.5V992.5M1287 908.5V992.5" stroke="#b0b0b0" stroke-width="1.05" fill="none"/>
<path d="M1193.5 929.5H1321.5M1193.5 950.5H1321.5M1193.5 971.5H1321.5" stroke="#b0b0b0" stroke-width="1.15" fill="none"/>
<path d="M1199 908.5V992.5M1257.7 908.5V992.5M1316.4 908.5V992.5" stroke="#ff0000" stroke-opacity="0.5" stroke-width="4.8" fill="none"/>
<path d="M1194.5 908.5C1196 908.5 1197.5 908.5 1199 908.5C1200.3 908.5 1201.7 908.5 1203.1 908.5C1205.7 908.5 1208.3 921.4 1210.9 922.1C1216.9 923.7 1222.9 923.5 1228.9 924.4C1234.9 925.3 1240.9 926.3 1246.9 927.7C1250.3 928.6 1253.7 930 1257.2 931.1C1262.7 933 1268.3 934.7 1273.8 936.7C1278.3 938.4 1282.8 940.3 1287.3 942.4C1292.6 944.7 1297.8 947.2 1303.1 950.2C1307.5 952.8 1312 959.2 1316.4 959.2C1316.9 959.2 1317.4 959.2 1317.9 959.2" fill="none" stroke="#000" stroke-width="9" stroke-linejoin="round" stroke-linecap="butt"/>
</g>
<path d="M1213.6 992.5V1003.3M1228.3 992.5V1003.3M1243 992.5V1003.3M1272.4 992.5V1003.3M1287 992.5V1003.3M1301.7 992.5V1003.3M1193.5 971.5H1182.7M1193.5 950.5H1182.7M1193.5 929.5H1182.7" stroke="#000" stroke-width="3" fill="none"/>
<path d="M1199 992.5V1010.9M1257.7 992.5V1010.9M1316.4 992.5V1010.9M1193.5 992.5H1175.1M1193.5 908.5H1175.1" stroke="#ff0000" stroke-width="4.8" fill="none"/>
<rect x="1193.5" y="908.5" width="128" height="84" fill="none" stroke="#ff0000" stroke-width="5.6"/>
</g>
<g>
<clipPath id="c6_6"><rect x="1373" y="908.5" width="128" height="84"/></clipPath>
<g clip-path="url(#c6_6)">
<path d="M1382.6 907.5C1383.2 909 1383.8 911.6 1384.4 912C1387 913.6 1389.6 913.9 1392.2 914.2C1407.1 916.3 1421.9 916.3 1436.8 917.6C1446.7 918.5 1456.6 919.8 1466.5 921C1472.5 921.7 1478.5 922.6 1484.5 923.2C1488.2 923.7 1492 924 1495.7 924.4L1495.7 976.1C1493.5 973.5 1491.2 970.9 1489 968.2C1486 964.6 1483 959.6 1480 957C1475.5 953 1471 951 1466.5 948C1462 945 1457.5 941.1 1453 939C1447.6 936.5 1442.2 934.8 1436.8 933.4C1421.9 929.4 1407.1 930 1392.2 924.4C1389.6 923.4 1387 922.3 1384.4 917.6C1383.8 916.6 1383.2 910.9 1382.6 907.5Z" fill="#1f77b4" fill-opacity="0.5" stroke="#1f77b4" stroke-opacity="0.5" stroke-width="4.4" stroke-linejoin="round"/>
<path d="M1382.6 907.5C1383.2 909 1383.8 911.2 1384.4 911.8C1387 914.9 1389.6 916.2 1392.2 916.8C1407.1 920.6 1421.9 922 1436.8 922.6C1446.7 922.9 1456.6 922.9 1466.5 923.2C1476.2 923.6 1486 924.7 1495.7 925.5L1495.7 973.9C1493.5 971.2 1491.2 968.6 1489 966C1486 962.5 1483 958.4 1480 955.9C1475.5 952 1471 949.9 1466.5 946.9C1462 943.9 1457.5 940.4 1453 937.9C1447.6 934.8 1442.2 931.5 1436.8 930C1421.9 925.7 1407.1 927.2 1392.2 921.8C1389.6 920.9 1387 919.1 1384.4 914.5C1383.8 913.5 1383.2 909.9 1382.6 907.5Z" fill="#fdd7af" fill-opacity="1" stroke="#d29150" stroke-opacity="0.53" stroke-width="4.4" stroke-linejoin="round"/>
<path d="M1382.6 907.5C1400.7 912.8 1418.7 919 1436.8 923.2C1442.2 924.5 1447.6 925.2 1453 926.6C1457.5 927.8 1462 929.7 1466.5 931.1C1472.5 933.1 1478.5 934.6 1484.5 936.7C1488.2 938.1 1492 939.7 1495.7 941.2L1495.7 957C1492 953.6 1488.2 949 1484.5 946.9C1477 942.5 1469.5 940.9 1462 937.9C1453.6 934.5 1445.2 931 1436.8 927.7C1418.7 920.7 1400.7 914.3 1382.6 907.5Z" fill="#d0e8ee" fill-opacity="1" stroke="#b4aa96" stroke-opacity="0.5" stroke-width="4.4" stroke-linejoin="round"/>
<path d="M1393.1 908.5V992.5M1407.8 908.5V992.5M1422.5 908.5V992.5M1466.5 908.5V992.5M1481.2 908.5V992.5" stroke="#b0b0b0" stroke-width="1.05" fill="none"/>
<path d="M1373 929.5H1501M1373 950.5H1501M1373 971.5H1501" stroke="#b0b0b0" stroke-width="1.15" fill="none"/>
<path d="M1378.5 908.5V992.5M1437.2 908.5V992.5M1495.9 908.5V992.5" stroke="#ff0000" stroke-opacity="0.5" stroke-width="4.8" fill="none"/>
<path d="M1374 908.5C1375.5 908.5 1377 908.5 1378.5 908.5C1379.8 908.5 1381.2 908.5 1382.6 908.5C1385.1 908.5 1387.5 918.1 1390 918.7C1396 920.3 1402 920.2 1408 921C1412.9 921.7 1417.7 922.3 1422.6 923.2C1427.3 924.1 1432.1 925.7 1436.8 926.6C1441.4 927.5 1446.1 927.6 1450.7 928.9C1454.5 929.9 1458.2 934.8 1462 936.7C1465.7 938.6 1469.5 939.7 1473.2 941.2C1477 942.7 1480.7 943.6 1484.5 945.7C1486.7 947 1489 949.3 1491.2 951.4C1492.8 952.8 1494.3 955.9 1495.9 955.9C1496.4 955.9 1496.9 955.9 1497.4 955.9" fill="none" stroke="#000" stroke-width="9" stroke-linejoin="round" stroke-linecap="butt"/>
</g>
<path d="M1393.1 992.5V1003.3M1407.8 992.5V1003.3M1422.5 992.5V1003.3M1451.9 992.5V1003.3M1466.5 992.5V1003.3M1481.2 992.5V1003.3M1373 971.5H1362.2M1373 950.5H1362.2M1373 929.5H1362.2" stroke="#000" stroke-width="3" fill="none"/>
<path d="M1378.5 992.5V1010.9M1437.2 992.5V1010.9M1495.9 992.5V1010.9M1373 992.5H1354.6M1373 908.5H1354.6" stroke="#ff0000" stroke-width="4.8" fill="none"/>
<rect x="1373" y="908.5" width="128" height="84" fill="none" stroke="#ff0000" stroke-width="5.6"/>
</g>
<g>
<clipPath id="c6_7"><rect x="1552.5" y="908.5" width="128" height="84"/></clipPath>
<g clip-path="url(#c6_7)">
<path d="M1562.1 907.5C1562.9 908.9 1563.6 911.4 1564.3 911.5C1566.2 911.9 1568.1 911.9 1569.9 912C1585.4 912.7 1601 912.8 1616.5 913.1C1636.1 913.5 1655.6 913.9 1675.2 914.2L1675.2 981.7C1672.3 980.2 1669.5 979.2 1666.6 977.2C1663.6 975.2 1660.6 970.9 1657.6 968.2C1653.9 964.9 1650.1 962.6 1646.4 959.2C1641.9 955.2 1637.4 949.6 1632.9 945.7C1627.4 941 1622 935 1616.5 933.4C1601 928.6 1585.4 931.2 1569.9 925.5C1568.1 924.8 1566.2 922.8 1564.3 918.7C1563.6 917.2 1562.9 911.3 1562.1 907.5Z" fill="#1f77b4" fill-opacity="0.5" stroke="#1f77b4" stroke-opacity="0.5" stroke-width="4.4" stroke-linejoin="round"/>
<path d="M1562.1 907.5C1562.9 909.1 1563.6 911.3 1564.3 912.1C1566.2 914.4 1568.1 916.3 1569.9 916.5C1585.4 918.3 1601 917.3 1616.5 918.7C1622 919.3 1627.4 921.5 1632.9 923.2C1638.9 925.1 1644.9 927.6 1650.9 930C1656.1 932.1 1661.4 935.1 1666.6 936.7C1669.5 937.6 1672.3 938.2 1675.2 939L1675.2 979.5C1670.1 975 1665 970.1 1659.9 966C1655.4 962.3 1650.9 959.6 1646.4 955.9C1641.9 952.1 1637.4 947.3 1632.9 943.5C1627.4 938.9 1622 932.6 1616.5 930.9C1601 926 1585.4 928.7 1569.9 922.8C1568.1 922.1 1566.2 919.5 1564.3 915.7C1563.6 914.2 1562.9 910.2 1562.1 907.5Z" fill="#fdd7af" fill-opacity="1" stroke="#d29150" stroke-opacity="0.53" stroke-width="4.4" stroke-linejoin="round"/>
<path d="M1562.1 907.5C1580.3 912.8 1598.4 918.9 1616.5 923.2C1623.5 924.9 1630.4 925.6 1637.4 927.7C1643.4 929.6 1649.4 933 1655.4 936.7C1659.1 939.1 1662.9 943.4 1666.6 945.7C1669.5 947.5 1672.3 948.7 1675.2 950.2L1675.2 963.3C1672.3 961.6 1669.5 960.3 1666.6 958.1C1663.6 955.8 1660.6 950.1 1657.6 948C1653.9 945.4 1650.1 944.9 1646.4 942.4C1643.4 940.3 1640.4 934.3 1637.4 933.4C1630.4 931.2 1623.5 931.5 1616.5 930C1598.4 926 1580.3 915 1562.1 907.5Z" fill="#d0e8ee" fill-opacity="1" stroke="#b4aa96" stroke-opacity="0.5" stroke-width="4.4" stroke-linejoin="round"/>
<path d="M1572.6 908.5V992.5M1587.3 908.5V992.5M1631.4 908.5V992.5M1660.7 908.5V992.5" stroke="#b0b0b0" stroke-width="1.05" fill="none"/>
<path d="M1552.5 929.5H1680.5M1552.5 950.5H1680.5M1552.5 971.5H1680.5" stroke="#b0b0b0" stroke-width="1.15" fill="none"/>
<path d="M1558 908.5V992.5M1616.7 908.5V992.5M1675.4 908.5V992.5" stroke="#ff0000" stroke-opacity="0.5" stroke-width="4.8" fill="none"/>
<path d="M1553.5 908.5C1555 908.5 1556.5 908.5 1558 908.5C1559.3 908.5 1560.7 908.5 1562.1 908.5C1564.7 908.5 1567.3 919.2 1569.9 919.9C1575.9 921.4 1581.9 921.3 1587.9 922.1C1592.4 922.8 1596.9 923.4 1601.4 924.4C1606.4 925.4 1611.5 927.8 1616.5 928.9C1623.5 930.4 1630.4 930.1 1637.4 932.2C1640.4 933.2 1643.4 939.2 1646.4 941.2C1650.1 943.8 1653.9 944.2 1657.6 946.9C1660.6 949 1663.6 954.7 1666.6 957C1669.6 959.2 1672.5 961.9 1675.4 961.9C1675.9 961.9 1676.4 961.9 1676.9 961.9" fill="none" stroke="#000" stroke-width="9" stroke-linejoin="round" stroke-linecap="butt"/>
</g>
<path d="M1572.6 992.5V1003.3M1587.3 992.5V1003.3M1602 992.5V1003.3M1631.4 992.5V1003.3M1646 992.5V1003.3M1660.7 992.5V1003.3M1552.5 971.5H1541.7M1552.5 950.5H1541.7M1552.5 929.5H1541.7" stroke="#000" stroke-width="3" fill="none"/>
<path d="M1558 992.5V1010.9M1616.7 992.5V1010.9M1675.4 992.5V1010.9M1552.5 992.5H1534.1M1552.5 908.5H1534.1" stroke="#ff0000" stroke-width="4.8" fill="none"/>
<rect x="1552.5" y="908.5" width="128" height="84" fill="none" stroke="#ff0000" stroke-width="5.6"/>
</g>
<g>
<clipPath id="c6_8"><rect x="1732" y="908.5" width="128" height="84"/></clipPath>
<g clip-path="url(#c6_8)">
<path d="M1741.6 907.5C1742.5 909.2 1743.4 911.9 1744.2 912.4C1746.1 913.6 1748 913.9 1749.9 914.2C1765.2 916.9 1780.5 917.5 1795.7 918.7C1805.9 919.6 1816.1 919.8 1826.3 921C1832.3 921.7 1838.3 923.2 1844.3 925.5C1847.8 926.8 1851.2 930 1854.7 932.2L1854.9 998.5L1833.1 998.5L1833.1 992.5C1830.8 988.9 1828.6 983.9 1826.3 981.7C1821.8 977.3 1817.3 977.5 1812.8 972.7C1810.6 970.3 1808.3 961.5 1806.1 959.2C1802.6 955.7 1799.2 955.5 1795.7 952.5C1793.9 950.9 1792.1 948.2 1790.4 945.7C1787.4 941.7 1784.4 933.5 1781.4 932.2C1770.9 927.7 1760.4 929.9 1749.9 925.5C1748 924.7 1746.1 923.2 1744.2 919.9C1743.4 918.3 1742.5 911.6 1741.6 907.5Z" fill="#1f77b4" fill-opacity="0.5" stroke="#1f77b4" stroke-opacity="0.5" stroke-width="4.4" stroke-linejoin="round"/>
<path d="M1741.6 907.5C1742.5 909.3 1743.4 911.7 1744.2 912.7C1746.1 915 1748 916.8 1749.9 917.2C1765.2 920.1 1780.5 919.3 1795.7 921C1805.9 922.1 1816.1 923.6 1826.3 925.5C1832.3 926.6 1838.3 927.7 1844.3 930C1847.8 931.3 1851.2 934.5 1854.7 936.7L1854.7 988.5C1849.7 984.7 1844.8 981.5 1839.8 977.2C1835.3 973.3 1830.8 967 1826.3 963.7C1821.1 959.9 1815.8 958.4 1810.6 954.7C1805.6 951.3 1800.7 945.2 1795.7 941.2C1791 937.4 1786.2 933.1 1781.4 931.1C1770.9 926.9 1760.4 927.2 1749.9 922.8C1748 922.1 1746.1 921.5 1744.2 919.2C1743.4 918.1 1742.5 911.4 1741.6 907.5Z" fill="#fdd7af" fill-opacity="1" stroke="#d29150" stroke-opacity="0.53" stroke-width="4.4" stroke-linejoin="round"/>
<path d="M1741.6 907.5C1759.7 912.8 1777.7 919.3 1795.7 923.2C1805.9 925.5 1816.1 926.5 1826.3 928.9C1832.3 930.3 1838.3 931.9 1844.3 934.5C1847.8 936 1851.2 939 1854.7 941.2L1854.7 971.6C1848.2 965.6 1841.8 958.3 1835.3 953.6C1827.8 948.1 1820.3 944.6 1812.8 940.1C1807.1 936.7 1801.4 932.9 1795.7 930C1777.7 920.9 1759.7 915 1741.6 907.5Z" fill="#d0e8ee" fill-opacity="1" stroke="#b4aa96" stroke-opacity="0.5" stroke-width="4.4" stroke-linejoin="round"/>
<path d="M1752.1 908.5V992.5M1781.5 908.5V992.5M1810.9 908.5V992.5M1825.5 908.5V992.5" stroke="#b0b0b0" stroke-width="1.05" fill="none"/>
<path d="M1732 929.5H1860M1732 950.5H1860M1732 971.5H1860" stroke="#b0b0b0" stroke-width="1.15" fill="none"/>
<path d="M1737.5 908.5V992.5M1796.2 908.5V992.5M1854.9 908.5V992.5" stroke="#ff0000" stroke-opacity="0.5" stroke-width="4.8" fill="none"/>
<path d="M1733 908.5C1734.5 908.5 1736 908.5 1737.5 908.5C1738.8 908.5 1740.2 908.5 1741.6 908.5C1744.4 908.5 1747.1 919.2 1749.9 919.9C1755.9 921.4 1761.9 921.4 1767.9 922.1C1773.9 922.9 1779.9 923.1 1785.9 924.4C1789.2 925.1 1792.4 928.3 1795.7 928.9C1799.2 929.5 1802.6 929.3 1806.1 930C1808.3 930.5 1810.6 938 1812.8 939C1817.3 941 1821.8 940.4 1826.3 942.4C1829.3 943.6 1832.3 950.4 1835.3 952.5C1839.1 955.1 1842.8 955.2 1846.6 958.1C1849.4 960.2 1852.1 970.5 1854.9 970.5C1855.4 970.5 1855.9 970.5 1856.4 970.5" fill="none" stroke="#000" stroke-width="9" stroke-linejoin="round" stroke-linecap="butt"/>
</g>
<path d="M1752.1 992.5V1003.3M1766.8 992.5V1003.3M1781.5 992.5V1003.3M1810.9 992.5V1003.3M1825.5 992.5V1003.3M1840.2 992.5V1003.3M1732 971.5H1721.2M1732 950.5H1721.2M1732 929.5H1721.2" stroke="#000" stroke-width="3" fill="none"/>
<path d="M1737.5 992.5V1010.9M1796.2 992.5V1010.9M1854.9 992.5V1010.9M1732 992.5H1713.6M1732 908.5H1713.6" stroke="#ff0000" stroke-width="4.8" fill="none"/>
<rect x="1732" y="908.5" width="128" height="84" fill="none" stroke="#ff0000" stroke-width="5.6"/>
</g>
<g>
<clipPath id="c6_9"><rect x="1911.5" y="908.5" width="128" height="84"/></clipPath>
<g clip-path="url(#c6_9)">
<path d="M1921.1 907.5C1921.7 909 1922.3 911.5 1922.9 912C1924.7 913.5 1926.6 914 1928.5 914.2C1944.1 915.9 1959.7 915.8 1975.3 916.5C1994.8 917.3 2014.2 918 2033.7 918.7L2034.4 918.7L2034.4 998.5L2016.2 998.5L2016.2 992.5C2013.2 990.8 2010.2 989.4 2007.2 987.3C2003.5 984.7 1999.7 981.7 1996 977.2C1993 973.6 1990 964.1 1987 961.5C1983.1 958 1979.2 958.1 1975.3 954.7C1972.4 952.3 1969.6 943 1966.7 941.2C1960 937.2 1953.2 937 1946.5 934.5C1940.5 932.2 1934.5 930.8 1928.5 926.6C1926.6 925.3 1924.7 924.3 1922.9 919.9C1922.3 918.5 1921.7 911.6 1921.1 907.5Z" fill="#1f77b4" fill-opacity="0.5" stroke="#1f77b4" stroke-opacity="0.5" stroke-width="4.4" stroke-linejoin="round"/>
<path d="M1921.1 907.5C1921.7 909.1 1922.3 911.3 1922.9 912.1C1924.7 914.9 1926.6 916.6 1928.5 917.1C1940.5 920.3 1952.5 920.9 1964.5 921.6C1968.1 921.8 1971.7 921.9 1975.3 922.1C1982.2 922.6 1989.1 924.4 1996 925.5C2003.5 926.7 2010.9 928.1 2018.4 928.9C2023.5 929.4 2028.6 929.6 2033.7 930L2034.4 930L2034.4 998.5L2022.9 998.5L2022.9 992.5C2020.7 988.9 2018.4 984.5 2016.2 981.7C2013.2 978 2010.2 975.4 2007.2 972.7C2003.5 969.4 1999.7 967.1 1996 963.7C1993 961.1 1990 957 1987 954.7C1983.1 951.8 1979.2 950.9 1975.3 948C1972.4 945.8 1969.6 940.5 1966.7 939C1960 935.3 1953.2 935 1946.5 932.2C1940.5 929.8 1934.5 926.3 1928.5 922.8C1926.6 921.7 1924.7 921.8 1922.9 919.2C1922.3 918.4 1921.7 911.4 1921.1 907.5Z" fill="#fdd7af" fill-opacity="1" stroke="#d29150" stroke-opacity="0.53" stroke-width="4.4" stroke-linejoin="round"/>
<path d="M1921.1 907.5C1939.2 913.5 1957.2 920.9 1975.3 925.5C1982.2 927.2 1989.1 928.1 1996 930C2002 931.7 2007.9 933.4 2013.9 936.7C2016.9 938.4 2019.9 943.2 2022.9 944.6C2026.5 946.3 2030.1 946.9 2033.7 948L2034.4 948L2034.4 987.3L2033.7 987.3C2028.6 982.8 2023.5 979 2018.4 973.9C2013.9 969.3 2009.4 964 2004.9 958.1C2000.5 952.2 1996 940.8 1991.5 937.9C1986.1 934.3 1980.7 933.4 1975.3 931.1C1957.2 923.5 1939.2 915.4 1921.1 907.5Z" fill="#d0e8ee" fill-opacity="1" stroke="#b4aa96" stroke-opacity="0.5" stroke-width="4.4" stroke-linejoin="round"/>
<path d="M1931.6 908.5V992.5M1946.3 908.5V992.5M1990.4 908.5V992.5M2019.7 908.5V992.5" stroke="#b0b0b0" stroke-width="1.05" fill="none"/>
<path d="M1911.5 929.5H2039.5M1911.5 950.5H2039.5M1911.5 971.5H2039.5" stroke="#b0b0b0" stroke-width="1.15" fill="none"/>
<path d="M1917 908.5V992.5M1975.7 908.5V992.5M2034.4 908.5V992.5" stroke="#ff0000" stroke-opacity="0.5" stroke-width="4.8" fill="none"/>
<path d="M1912.5 908.5C1914 908.5 1915.5 908.5 1917 908.5C1918.3 908.5 1919.7 908.5 1921.1 908.5C1923.6 908.5 1926 918.1 1928.5 918.7C1934.5 920.3 1940.5 920.2 1946.5 921C1952.5 921.7 1958.5 921.9 1964.5 923.2C1966.7 923.7 1969 925.4 1971.2 926.6C1974.2 928.3 1977.2 930.8 1980.2 932.2C1984 934.1 1987.7 934 1991.5 936.7C1993.7 938.4 1996 950.2 1998.2 952.5C2000.5 954.8 2002.7 955.9 2004.9 957C2007.9 958.4 2010.9 958.2 2013.9 960.4C2015.4 961.4 2016.9 969.3 2018.4 972.7C2019.9 976.2 2021.4 980.6 2022.9 981.7C2026.8 984.5 2030.6 986.2 2034.4 986.2C2034.9 986.2 2035.4 986.2 2035.9 986.2" fill="none" stroke="#000" stroke-width="9" stroke-linejoin="round" stroke-linecap="butt"/>
</g>
<path d="M1931.6 992.5V1003.3M1946.3 992.5V1003.3M1961 992.5V1003.3M1990.4 992.5V1003.3M2005 992.5V1003.3M2019.7 992.5V1003.3M1911.5 971.5H1900.7M1911.5 950.5H1900.7M1911.5 929.5H1900.7" stroke="#000" stroke-width="3" fill="none"/>
<path d="M1917 992.5V1010.9M1975.7 992.5V1010.9M2034.4 992.5V1010.9M1911.5 992.5H1893.1M1911.5 908.5H1893.1" stroke="#ff0000" stroke-width="4.8" fill="none"/>
<rect x="1911.5" y="908.5" width="128" height="84" fill="none" stroke="#ff0000" stroke-width="5.6"/>
</g>
<g>
<clipPath id="c6_10"><rect x="2091" y="908.5" width="128" height="84"/></clipPath>
<g clip-path="url(#c6_10)">
<path d="M2100.6 907.5C2101.4 909.2 2102.1 912 2102.8 912.4C2104.7 913.6 2106.5 913.9 2108.4 914.2C2123.8 917.3 2139.2 916.9 2154.5 919.9C2161.6 921.3 2168.8 924.3 2175.9 927.7C2180.4 929.9 2184.9 934.7 2189.4 936.7C2193.9 938.7 2198.4 938.5 2202.9 941.2C2206.5 943.4 2210.1 957.7 2213.7 966L2213.9 998.5L2193.9 998.5L2193.9 992.5C2192.4 991.2 2190.9 989.9 2189.4 988.5C2187.1 986.3 2184.9 984.9 2182.6 981.7C2180.4 978.6 2178.1 968 2175.9 966C2171.4 962 2166.9 962.9 2162.4 959.2C2159.8 957.1 2157.1 949.6 2154.5 945.7C2151.9 941.9 2149.3 936.7 2146.7 935.6C2141.4 933.5 2136.2 933.5 2130.9 932.2C2123.4 930.4 2115.9 929.4 2108.4 925.5C2106.5 924.5 2104.7 923.4 2102.8 919.9C2102.1 918.5 2101.4 911.6 2100.6 907.5Z" fill="#1f77b4" fill-opacity="0.5" stroke="#1f77b4" stroke-opacity="0.5" stroke-width="4.4" stroke-linejoin="round"/>
<path d="M2100.6 907.5C2101.4 909.2 2102.1 911.5 2102.8 912.4C2104.7 914.7 2106.5 916.3 2108.4 916.7C2123.8 920.2 2139.2 918.7 2154.5 921.4C2161.6 922.7 2168.8 926.4 2175.9 930C2180.4 932.3 2184.9 937 2189.4 939C2193.9 941 2198.4 940.8 2202.9 943.5C2206.5 945.6 2210.1 960 2213.7 968.2L2213.9 998.5L2196.1 998.5L2196.1 992.5C2194.6 991.5 2193.1 990.8 2191.6 989.6C2188.6 987.2 2185.6 984.1 2182.6 979.5C2180.4 976 2178.1 965.7 2175.9 963.7C2171.4 959.7 2166.9 960.6 2162.4 957C2159.8 954.8 2157.1 947.1 2154.5 943.5C2151.9 939.9 2149.3 935.5 2146.7 934.5C2141.4 932.4 2136.2 932.5 2130.9 931.1C2123.4 929.1 2115.9 926 2108.4 922.4C2106.5 921.5 2104.7 921.4 2102.8 919.2C2102.1 918.4 2101.4 911.4 2100.6 907.5Z" fill="#fdd7af" fill-opacity="1" stroke="#d29150" stroke-opacity="0.53" stroke-width="4.4" stroke-linejoin="round"/>
<path d="M2100.6 907.5C2118.6 912.8 2136.6 916.9 2154.5 923.2C2161.6 925.8 2168.8 928.5 2175.9 932.2C2180.4 934.6 2184.9 938.9 2189.4 941.2C2193.9 943.5 2198.4 943.6 2202.9 946.9C2206.5 949.4 2210.1 962.6 2213.7 970.5L2213.9 998.5L2213.7 998.5L2213.7 991.8C2209.3 985.8 2205 978.1 2200.6 973.9C2194.6 967.9 2188.6 965.5 2182.6 960.4C2176.6 955.2 2170.6 949 2164.6 942.4C2161.3 938.6 2157.9 932.4 2154.5 930C2136.6 917.4 2118.6 915 2100.6 907.5Z" fill="#d0e8ee" fill-opacity="1" stroke="#b4aa96" stroke-opacity="0.5" stroke-width="4.4" stroke-linejoin="round"/>
<path d="M2125.8 908.5V992.5M2140.5 908.5V992.5M2169.9 908.5V992.5M2184.5 908.5V992.5" stroke="#b0b0b0" stroke-width="1.05" fill="none"/>
<path d="M2091 929.5H2219M2091 950.5H2219M2091 971.5H2219" stroke="#b0b0b0" stroke-width="1.15" fill="none"/>
<path d="M2096.4 908.5V992.5M2155.2 908.5V992.5M2213.9 908.5V992.5" stroke="#ff0000" stroke-opacity="0.5" stroke-width="4.8" fill="none"/>
<path d="M2091.9 908.5C2093.4 908.5 2094.9 908.5 2096.4 908.5C2097.8 908.5 2099.2 908.5 2100.6 908.5C2103.2 908.5 2105.8 918.1 2108.4 918.7C2114.4 920.3 2120.4 920.2 2126.4 921C2132.4 921.7 2138.4 922.1 2144.4 923.2C2146.7 923.7 2148.9 924.3 2151.1 925.5C2153.4 926.7 2155.6 931.9 2157.9 934.5C2160.1 937.1 2162.4 939.9 2164.6 941.2C2168.4 943.5 2172.1 943.1 2175.9 945.7C2178.1 947.3 2180.4 955.6 2182.6 959.2C2184.9 962.8 2187.1 966.8 2189.4 968.2C2193.1 970.6 2196.9 970.3 2200.6 972.7C2202.9 974.2 2205.1 978.7 2207.4 981.7C2209.6 984.7 2211.7 990.7 2213.9 990.7C2214.4 990.7 2214.9 990.7 2215.4 990.7" fill="none" stroke="#000" stroke-width="9" stroke-linejoin="round" stroke-linecap="butt"/>
</g>
<path d="M2111.1 992.5V1003.3M2125.8 992.5V1003.3M2140.5 992.5V1003.3M2169.9 992.5V1003.3M2184.5 992.5V1003.3M2199.2 992.5V1003.3M2091 971.5H2080.2M2091 950.5H2080.2M2091 929.5H2080.2" stroke="#000" stroke-width="3" fill="none"/>
<path d="M2096.4 992.5V1010.9M2155.2 992.5V1010.9M2213.9 992.5V1010.9M2091 992.5H2072.6M2091 908.5H2072.6" stroke="#ff0000" stroke-width="4.8" fill="none"/>
<rect x="2091" y="908.5" width="128" height="84" fill="none" stroke="#ff0000" stroke-width="5.6"/>
</g>
<g>
<clipPath id="c7_0"><rect x="296" y="1026.4" width="128" height="84"/></clipPath>
<g clip-path="url(#c7_0)">
<path d="M305.6 1025.4C305.8 1026.6 306 1028.8 306.2 1029C309.2 1031.3 312.2 1030.6 315.2 1031.7C320.5 1033.5 325.7 1036.1 331 1038.4C335.9 1040.6 340.7 1042.9 345.6 1045.2C350.4 1047.4 355.2 1049.9 360 1051.9C365.3 1054.1 370.6 1054.5 376 1057.7C379 1059.6 382 1065.1 385 1069.9C388 1074.7 391 1083.6 394 1087.9C397.7 1093.3 401.5 1097.4 405.2 1100.3C409.7 1103.7 414.2 1105.5 418.7 1108.1L418.9 1116.4L360.2 1116.4L360.2 1110.4C359.5 1109.6 358.7 1109 358 1108.1C355 1104.7 352 1099.8 349 1095.3C345.2 1089.7 341.5 1083.3 337.7 1077.3C334 1071.3 330.2 1064.9 326.5 1059.3C322.7 1053.7 319 1048.2 315.2 1043.6C312.2 1039.8 309.2 1041.7 306.2 1033.5C306 1032.9 305.8 1028.1 305.6 1025.4Z" fill="#1f77b4" fill-opacity="0.5" stroke="#1f77b4" stroke-opacity="0.5" stroke-width="4.4" stroke-linejoin="round"/>
<path d="M305.6 1025.4C305.8 1026.4 306 1028.2 306.2 1028.6C309.2 1033.9 312.2 1034.4 315.2 1035.8C320.5 1038.2 325.7 1038.6 331 1040.7C335.9 1042.5 340.7 1045.5 345.6 1048.1C350.4 1050.6 355.2 1053.5 360 1055.9C365.3 1058.7 370.6 1059.8 376 1063.8C379 1066.1 382 1071.4 385 1076.2C388 1080.9 391 1088.6 394 1093.1C397.7 1098.6 401.5 1104.8 405.2 1106.6C409 1108.4 412.7 1108.8 416.5 1109.9L416.5 1116.4L361.3 1116.4L361.3 1110.4C360.2 1109.1 359.1 1108 358 1106.6C355 1102.8 352 1097.7 349 1093.1C345.2 1087.3 341.5 1081.1 337.7 1075.1C334 1069.1 330.2 1062.7 326.5 1057.1C322.7 1051.5 319 1046 315.2 1041.2C312.2 1037.4 309.2 1038.7 306.2 1030.7C306 1030.2 305.8 1027.2 305.6 1025.4Z" fill="#fdd7af" fill-opacity="1" stroke="#d29150" stroke-opacity="0.53" stroke-width="4.4" stroke-linejoin="round"/>
<path d="M305.6 1025.4C305.8 1026.9 306 1029.6 306.2 1029.9C309.2 1033.8 312.2 1033 315.2 1034.6C320.5 1037.3 325.7 1039.7 331 1042.5C335.9 1045 340.7 1047.5 345.6 1050.3C350.4 1053.1 355.2 1056.3 360 1059.3C365.3 1062.7 370.6 1064.7 376 1069.4C379 1072.1 382 1077.3 385 1081.8C388 1086.3 391 1092.9 394 1096.4C397.7 1100.8 401.5 1104.4 405.2 1106.6C408.2 1108.3 411.2 1109.1 414.2 1110.4L414.2 1116.4L362.5 1116.4L362.5 1110.4C361.3 1109.1 360.2 1108 359.1 1106.6C356.1 1102.8 353.1 1097.7 350.1 1093.1C346.4 1087.3 342.6 1081.1 338.9 1075.1C335.1 1069.1 331.4 1062.4 327.6 1057.1C323.5 1051.2 319.4 1045.8 315.2 1041.3C312.2 1038 309.2 1039.7 306.2 1032.6C306 1032.1 305.8 1027.8 305.6 1025.4Z" fill="#d0e8ee" fill-opacity="1" stroke="#b4aa96" stroke-opacity="0.5" stroke-width="4.4" stroke-linejoin="round"/>
<path d="M316.1 1026.4V1110.4M345.5 1026.4V1110.4M389.5 1026.4V1110.4" stroke="#b0b0b0" stroke-width="1.05" fill="none"/>
<path d="M296 1047.4H424M296 1068.4H424M296 1089.4H424" stroke="#b0b0b0" stroke-width="1.15" fill="none"/>
<path d="M301.4 1026.4V1110.4M360.2 1026.4V1110.4M418.9 1026.4V1110.4" stroke="#ff0000" stroke-opacity="0.5" stroke-width="4.8" fill="none"/>
<path d="M296.9 1026.4C298.4 1026.4 299.9 1026.4 301.4 1026.4C302.8 1026.4 304.2 1026.4 305.6 1026.4C308.1 1026.4 310.5 1035.6 313 1038C319 1043.7 325 1045.2 331 1049.2C336.2 1052.7 341.5 1056 346.7 1060.4C351.2 1064.2 355.6 1068.8 360 1073.9C363.8 1078.4 367.6 1084.7 371.5 1089.7C374.5 1093.6 377.5 1098 380.5 1100.9C382.7 1103.2 385 1105.5 387.2 1106.6C391 1108.3 394.7 1109.8 398.5 1109.9C405.3 1110.2 412.1 1110.4 418.9 1110.4C419.4 1110.4 419.9 1110.4 420.4 1110.4" fill="none" stroke="#000" stroke-width="9" stroke-linejoin="round" stroke-linecap="butt"/>
</g>
<path d="M316.1 1110.4V1121.2M330.8 1110.4V1121.2M345.5 1110.4V1121.2M374.9 1110.4V1121.2M389.5 1110.4V1121.2M404.2 1110.4V1121.2M296 1089.4H285.2M296 1068.4H285.2M296 1047.4H285.2" stroke="#000" stroke-width="3" fill="none"/>
<path d="M301.4 1110.4V1128.8M360.2 1110.4V1128.8M418.9 1110.4V1128.8M296 1110.4H277.6M296 1026.4H277.6" stroke="#ff0000" stroke-width="4.8" fill="none"/>
<rect x="296" y="1026.4" width="128" height="84" fill="none" stroke="#ff0000" stroke-width="5.6"/>
</g>
<g>
<clipPath id="c7_1"><rect x="475.5" y="1026.4" width="128" height="84"/></clipPath>
<g clip-path="url(#c7_1)">
<path d="M485.1 1025.4C485.5 1026.6 485.8 1028.7 486.2 1029C488.4 1030.7 490.7 1030.6 492.9 1031.2C498.9 1032.7 504.9 1033 510.9 1034.6C515.4 1035.8 519.9 1038.3 524.4 1040.2C529.4 1042.4 534.5 1044.8 539.5 1046.9C545 1049.3 550.4 1050.4 555.9 1053.7C559.7 1055.9 563.4 1060.3 567.2 1064.9C570.9 1069.6 574.6 1077.8 578.4 1082.9C582.1 1088.1 585.9 1092.9 589.6 1096.4C592.5 1099.1 595.3 1100.9 598.2 1103.2L598.4 1116.4L535.7 1116.4L535.7 1110.4C534.2 1109.1 532.7 1108 531.2 1106.6C528.2 1103.7 525.2 1100.8 522.2 1096.4C519.9 1093.1 517.7 1089.1 515.4 1082.9C513.9 1078.8 512.4 1069 510.9 1064.9C508.7 1058.8 506.4 1054.1 504.2 1051.4C500.4 1047 496.7 1046.1 492.9 1042.5C490.7 1040.3 488.4 1040.3 486.2 1034.6C485.8 1033.7 485.5 1028.4 485.1 1025.4Z" fill="#1f77b4" fill-opacity="0.5" stroke="#1f77b4" stroke-opacity="0.5" stroke-width="4.4" stroke-linejoin="round"/>
<path d="M485.1 1025.4C485.5 1026.5 485.8 1028.3 486.2 1028.8C488.4 1032.4 490.7 1033.6 492.9 1034.6C498.9 1037.1 504.9 1037 510.9 1039.1C515.4 1040.6 519.9 1043.7 524.4 1046.3C529.4 1049.2 534.5 1052.3 539.5 1055.9C545 1059.9 550.4 1064 555.9 1069.4C559.7 1073.1 563.4 1078.4 567.2 1082.9C570.9 1087.4 574.6 1092.3 578.4 1096.4C582.1 1100.6 585.9 1106.6 589.6 1107.9C592.5 1109 595.3 1109.3 598.2 1109.9L598.2 1116.4L560.4 1116.4L560.4 1110.4C557.4 1107.2 554.4 1104.2 551.4 1100.9C547.4 1096.6 543.5 1092 539.5 1087.4C534.5 1081.6 529.4 1074.9 524.4 1069.4C519.9 1064.6 515.4 1060.1 510.9 1055.9C504.9 1050.4 498.9 1046.8 492.9 1040.4C490.7 1038 488.4 1037.3 486.2 1031.6C485.8 1030.8 485.5 1027.5 485.1 1025.4Z" fill="#fdd7af" fill-opacity="1" stroke="#d29150" stroke-opacity="0.53" stroke-width="4.4" stroke-linejoin="round"/>
<path d="M485.1 1025.4C493.7 1029.6 502.3 1033.3 510.9 1038C515.4 1040.4 519.9 1042.6 524.4 1045.8C529.4 1049.5 534.5 1055.6 539.5 1060.4C545 1065.7 550.4 1070.3 555.9 1076.2C559.7 1080.2 563.4 1085.4 567.2 1089.7C570.9 1094 574.6 1098.5 578.4 1102.1C581.4 1104.9 584.4 1107 587.4 1109.5L587.4 1116.4L567.2 1116.4L567.2 1110.4C565.7 1109.1 564.2 1108 562.7 1106.6C558.9 1103 555.2 1098.7 551.4 1094.2C547.4 1089.4 543.5 1083.7 539.5 1078.4C534.5 1071.8 529.4 1063.3 524.4 1058.2C519.9 1053.6 515.4 1050.7 510.9 1046.9C502.3 1039.8 493.7 1032.6 485.1 1025.4Z" fill="#d0e8ee" fill-opacity="1" stroke="#b4aa96" stroke-opacity="0.5" stroke-width="4.4" stroke-linejoin="round"/>
<path d="M495.6 1026.4V1110.4M510.3 1026.4V1110.4M554.4 1026.4V1110.4M583.7 1026.4V1110.4" stroke="#b0b0b0" stroke-width="1.05" fill="none"/>
<path d="M475.5 1047.4H603.5M475.5 1068.4H603.5M475.5 1089.4H603.5" stroke="#b0b0b0" stroke-width="1.15" fill="none"/>
<path d="M480.9 1026.4V1110.4M539.7 1026.4V1110.4M598.4 1026.4V1110.4" stroke="#ff0000" stroke-opacity="0.5" stroke-width="4.8" fill="none"/>
<path d="M476.4 1026.4C477.9 1026.4 479.4 1026.4 480.9 1026.4C482.3 1026.4 483.7 1026.4 485.1 1026.4C487.7 1026.4 490.3 1036.7 492.9 1038C498.9 1040.8 504.9 1040.3 510.9 1042.5C515.4 1044.1 519.9 1046.8 524.4 1050.3C529.4 1054.3 534.5 1063.5 539.5 1069.4C545 1075.9 550.4 1081.1 555.9 1087.4C559.7 1091.7 563.4 1097.9 567.2 1100.9C570.2 1103.4 573.1 1105.3 576.1 1106.6C579.9 1108.1 583.6 1109.7 587.4 1109.9C591.1 1110.2 594.7 1110.4 598.4 1110.4C598.9 1110.4 599.4 1110.4 599.9 1110.4" fill="none" stroke="#000" stroke-width="9" stroke-linejoin="round" stroke-linecap="butt"/>
</g>
<path d="M495.6 1110.4V1121.2M510.3 1110.4V1121.2M525 1110.4V1121.2M554.4 1110.4V1121.2M569 1110.4V1121.2M583.7 1110.4V1121.2M475.5 1089.4H464.7M475.5 1068.4H464.7M475.5 1047.4H464.7" stroke="#000" stroke-width="3" fill="none"/>
<path d="M480.9 1110.4V1128.8M539.7 1110.4V1128.8M598.4 1110.4V1128.8M475.5 1110.4H457.1M475.5 1026.4H457.1" stroke="#ff0000" stroke-width="4.8" fill="none"/>
<rect x="475.5" y="1026.4" width="128" height="84" fill="none" stroke="#ff0000" stroke-width="5.6"/>
</g>
<g>
<clipPath id="c7_2"><rect x="655" y="1026.4" width="128" height="84"/></clipPath>
<g clip-path="url(#c7_2)">
<path d="M664.6 1025.4C665.1 1026.6 665.6 1028.6 666.1 1029C668.4 1030.5 670.6 1031.1 672.9 1031.2C688.2 1032.1 703.6 1031.8 719 1032.3C726.1 1032.6 733.2 1032.8 740.3 1033.5C744.8 1033.9 749.3 1036.2 753.8 1038C758.3 1039.8 762.8 1043.4 767.3 1044.7C770.9 1045.7 774.4 1046.2 777.9 1046.9L777.9 1116.4L735.8 1116.4L735.8 1110.4C733.6 1105.7 731.3 1100.5 729.1 1096.4C725.7 1090.4 722.3 1086.1 719 1080.7C714.8 1074.1 710.7 1064.6 706.6 1060.4C701.4 1055.1 696.1 1051.2 690.9 1049.2C684.9 1047 678.9 1047.4 672.9 1044.7C670.6 1043.7 668.4 1042.2 666.1 1036.8C665.6 1035.6 665.1 1029.2 664.6 1025.4Z" fill="#1f77b4" fill-opacity="0.5" stroke="#1f77b4" stroke-opacity="0.5" stroke-width="4.4" stroke-linejoin="round"/>
<path d="M664.6 1025.4C665.1 1026.8 665.6 1028.7 666.1 1029.7C668.4 1033.9 670.6 1037.4 672.9 1038C678.9 1039.5 684.9 1039.4 690.9 1040.2C696.1 1040.9 701.4 1041.2 706.6 1042.5C710.7 1043.5 714.8 1048.1 719 1051.4C723.8 1055.4 728.7 1060.7 733.6 1064.9C738.1 1068.9 742.6 1072.7 747.1 1076.2C752.3 1080.2 757.6 1085.7 762.8 1087.4C767.9 1089.1 772.9 1089.7 777.9 1090.8L777.9 1116.4L738.1 1116.4L738.1 1110.4C735.5 1105 732.8 1099.1 730.2 1094.2C726.5 1087.2 722.7 1081.2 719 1075.1C714.8 1068.3 710.7 1059.1 706.6 1055.5C701.4 1050.9 696.1 1047.7 690.9 1046.3C684.9 1044.6 678.9 1045.1 672.9 1043.1C670.6 1042.3 668.4 1041 666.1 1036.2C665.6 1035.1 665.1 1029 664.6 1025.4Z" fill="#fdd7af" fill-opacity="1" stroke="#d29150" stroke-opacity="0.53" stroke-width="4.4" stroke-linejoin="round"/>
<path d="M689.8 1026.4V1110.4M704.5 1026.4V1110.4M733.9 1026.4V1110.4M748.5 1026.4V1110.4" stroke="#b0b0b0" stroke-width="1.05" fill="none"/>
<path d="M655 1047.4H783M655 1068.4H783M655 1089.4H783" stroke="#b0b0b0" stroke-width="1.15" fill="none"/>
<path d="M660.5 1026.4V1110.4M719.2 1026.4V1110.4M777.9 1026.4V1110.4" stroke="#ff0000" stroke-opacity="0.5" stroke-width="4.8" fill="none"/>
<path d="M656 1026.4C657.5 1026.4 659 1026.4 660.5 1026.4C661.8 1026.4 663.2 1026.4 664.6 1026.4C667.4 1026.4 670.1 1040.6 672.9 1041.3C678.9 1042.9 684.9 1042.4 690.9 1043.6C696.1 1044.6 701.4 1048 706.6 1051.4C710.7 1054.1 714.8 1058.6 719 1062.7C722.3 1066.1 725.7 1069.1 729.1 1073.9C732.1 1078.2 735.1 1087.3 738.1 1091.9C741.1 1096.5 744.1 1101 747.1 1103.2C750.8 1105.9 754.6 1108.2 758.3 1108.8C764.9 1109.8 771.4 1110.4 777.9 1110.4C778.4 1110.4 778.9 1110.4 779.4 1110.4" fill="none" stroke="#000" stroke-width="9" stroke-linejoin="round" stroke-linecap="butt"/>
</g>
<path d="M675.1 1110.4V1121.2M689.8 1110.4V1121.2M704.5 1110.4V1121.2M733.9 1110.4V1121.2M748.5 1110.4V1121.2M763.2 1110.4V1121.2M655 1089.4H644.2M655 1068.4H644.2M655 1047.4H644.2" stroke="#000" stroke-width="3" fill="none"/>
<path d="M660.5 1110.4V1128.8M719.2 1110.4V1128.8M777.9 1110.4V1128.8M655 1110.4H636.6M655 1026.4H636.6" stroke="#ff0000" stroke-width="4.8" fill="none"/>
<rect x="655" y="1026.4" width="128" height="84" fill="none" stroke="#ff0000" stroke-width="5.6"/>
</g>
<g>
<clipPath id="c7_3"><rect x="834.5" y="1026.4" width="128" height="84"/></clipPath>
<g clip-path="url(#c7_3)">
<path d="M844.1 1025.4C844.6 1026.7 845 1029.1 845.4 1029.4C848 1031.6 850.6 1031.6 853.2 1032.3C863 1035 872.7 1036 882.5 1038C887.7 1039 893 1039.6 898.2 1041.3C903.5 1043.1 908.7 1049.9 914 1053.7C918.5 1056.9 923 1059.4 927.5 1062.7C932 1066 936.5 1069.9 941 1073.9C946.4 1078.8 951.8 1084.4 957.2 1089.7L957.4 1116.4L938.7 1116.4L938.7 1110.4C938 1109.5 937.2 1108.7 936.5 1107.7C933.5 1103.8 930.5 1098.4 927.5 1094.2C923 1087.8 918.5 1081.3 914 1076.2C908.7 1070.2 903.5 1064.8 898.2 1060.4C893 1056.1 887.7 1051.3 882.5 1049.2C872.7 1045.2 863 1045.8 853.2 1041.3C850.6 1040.1 848 1039.6 845.4 1034.6C845 1033.8 844.6 1028.4 844.1 1025.4Z" fill="#1f77b4" fill-opacity="0.5" stroke="#1f77b4" stroke-opacity="0.5" stroke-width="4.4" stroke-linejoin="round"/>
<path d="M844.1 1025.4C844.6 1026.6 845 1028.5 845.4 1029.1C848 1032.9 850.6 1034.3 853.2 1035.3C863 1038.8 872.7 1039.2 882.5 1041.3C887.7 1042.4 893 1043 898.2 1044.7C903.5 1046.4 908.7 1052.3 914 1055.9C918.5 1059 923 1061.3 927.5 1064.9C932 1068.5 936.5 1074.3 941 1078.4C946.4 1083.4 951.8 1087.4 957.2 1091.9L957.4 1116.4L939.8 1116.4L939.8 1110.4C939.1 1109.6 938.3 1109 937.6 1108.1C934.2 1104.3 930.8 1097.8 927.5 1093.1C923 1086.7 918.5 1080.6 914 1075.1C908.7 1068.6 903.5 1061.6 898.2 1057.1C893 1052.6 887.7 1048.2 882.5 1046.3C872.7 1042.8 863 1043.7 853.2 1039.6C850.6 1038.5 848 1036.9 845.4 1031.7C845 1030.8 844.6 1027.5 844.1 1025.4Z" fill="#fdd7af" fill-opacity="1" stroke="#d29150" stroke-opacity="0.53" stroke-width="4.4" stroke-linejoin="round"/>
<path d="M844.1 1025.4C862.2 1032.6 880.2 1037.2 898.2 1046.9C903.5 1049.8 908.7 1054.4 914 1058.2C919.2 1061.9 924.5 1064.8 929.7 1069.4C934.2 1073.5 938.7 1081.2 943.2 1085.2C947.9 1089.4 952.5 1091.9 957.2 1095.3L957.4 1116.4L957.2 1116.4L957.2 1110.4C951.8 1106.9 946.4 1104.7 941 1099.8C937.2 1096.4 933.5 1089.3 929.7 1084.1C926 1078.8 922.2 1071.8 918.5 1068.3C911.7 1062 905 1058.9 898.2 1054.8C880.2 1043.8 862.2 1035.2 844.1 1025.4Z" fill="#d0e8ee" fill-opacity="1" stroke="#b4aa96" stroke-opacity="0.5" stroke-width="4.4" stroke-linejoin="round"/>
<path d="M854.6 1026.4V1110.4M869.3 1026.4V1110.4M928 1026.4V1110.4" stroke="#b0b0b0" stroke-width="1.05" fill="none"/>
<path d="M834.5 1047.4H962.5M834.5 1068.4H962.5M834.5 1089.4H962.5" stroke="#b0b0b0" stroke-width="1.15" fill="none"/>
<path d="M840 1026.4V1110.4M898.7 1026.4V1110.4M957.4 1026.4V1110.4" stroke="#ff0000" stroke-opacity="0.5" stroke-width="4.8" fill="none"/>
<path d="M835.5 1026.4C837 1026.4 838.5 1026.4 840 1026.4C841.3 1026.4 842.7 1026.4 844.1 1026.4C847.2 1026.4 850.2 1037.1 853.2 1038C858.5 1039.4 863.7 1039.2 869 1040.2C873.5 1041 878 1042 882.5 1043.6C887.7 1045.4 893 1050 898.2 1053.7C901.2 1055.8 904.2 1058.4 907.2 1060.4C911 1063 914.7 1064 918.5 1067.2C922.2 1070.3 926 1077.7 929.7 1082.9C933.5 1088.2 937.2 1094.7 941 1098.7C944 1101.9 947 1104.8 950 1106.6C952.4 1108 954.9 1109.9 957.4 1109.9C957.9 1109.9 958.4 1109.9 958.9 1109.9" fill="none" stroke="#000" stroke-width="9" stroke-linejoin="round" stroke-linecap="butt"/>
</g>
<path d="M854.6 1110.4V1121.2M869.3 1110.4V1121.2M884 1110.4V1121.2M913.4 1110.4V1121.2M928 1110.4V1121.2M942.7 1110.4V1121.2M834.5 1089.4H823.7M834.5 1068.4H823.7M834.5 1047.4H823.7" stroke="#000" stroke-width="3" fill="none"/>
<path d="M840 1110.4V1128.8M898.7 1110.4V1128.8M957.4 1110.4V1128.8M834.5 1110.4H816.1M834.5 1026.4H816.1" stroke="#ff0000" stroke-width="4.8" fill="none"/>
<rect x="834.5" y="1026.4" width="128" height="84" fill="none" stroke="#ff0000" stroke-width="5.6"/>
</g>
<g>
<clipPath id="c7_4"><rect x="1014" y="1026.4" width="128" height="84"/></clipPath>
<g clip-path="url(#c7_4)">
<path d="M1023.6 1025.4C1024.2 1026.7 1024.8 1029.1 1025.3 1029.4C1027.9 1030.7 1030.6 1031 1033.2 1031.2C1042.9 1031.9 1052.7 1031.6 1062.4 1032.3C1067.5 1032.7 1072.6 1035.2 1077.7 1036.8C1083.1 1038.5 1088.5 1040.7 1093.9 1042.5C1101.4 1044.9 1108.9 1045.5 1116.4 1049.2C1120.1 1051 1123.9 1056.3 1127.6 1060.4C1130.6 1063.8 1133.6 1067.9 1136.6 1071.7L1136.9 1116.4L1115.3 1116.4L1115.3 1110.4C1114.9 1109.5 1114.5 1108.3 1114.1 1107.7C1111.1 1102.3 1108.2 1100.4 1105.2 1096.4C1101.4 1091.5 1097.7 1085 1093.9 1080.7C1088.5 1074.4 1083.1 1070.3 1077.7 1064.9C1072.6 1059.8 1067.5 1051.3 1062.4 1049.2C1052.7 1045.3 1042.9 1046.7 1033.2 1042.5C1030.6 1041.3 1027.9 1039.4 1025.3 1033.9C1024.8 1032.7 1024.2 1028.2 1023.6 1025.4Z" fill="#1f77b4" fill-opacity="0.5" stroke="#1f77b4" stroke-opacity="0.5" stroke-width="4.4" stroke-linejoin="round"/>
<path d="M1023.6 1025.4C1024.2 1026.7 1024.8 1028.6 1025.3 1029.3C1027.9 1032.4 1030.6 1034.6 1033.2 1034.6C1042.9 1034.6 1052.7 1034.6 1062.4 1034.6C1067.5 1034.6 1072.6 1038.2 1077.7 1040.2C1083.1 1042.3 1088.5 1044.7 1093.9 1046.9C1101.4 1050 1108.9 1051.4 1116.4 1055.9C1120.1 1058.2 1123.9 1062.7 1127.6 1067.2C1130.6 1070.8 1133.6 1076.2 1136.6 1080.7L1136.9 1116.4L1116.4 1116.4L1116.4 1110.4C1115.6 1109.1 1114.9 1107.7 1114.1 1106.6C1111.1 1101.9 1108.2 1098.3 1105.2 1094.2C1101.4 1089 1097.7 1082.8 1093.9 1078.4C1088.5 1072.2 1083.1 1068.4 1077.7 1062.7C1072.6 1057.3 1067.5 1046.8 1062.4 1045.2C1052.7 1041.9 1042.9 1043.4 1033.2 1040C1030.6 1039.1 1027.9 1036.4 1025.3 1031.4C1024.8 1030.4 1024.2 1027.4 1023.6 1025.4Z" fill="#fdd7af" fill-opacity="1" stroke="#d29150" stroke-opacity="0.53" stroke-width="4.4" stroke-linejoin="round"/>
<path d="M1023.6 1025.4C1041.7 1031.4 1059.7 1036.2 1077.7 1043.6C1083.1 1045.8 1088.5 1048.8 1093.9 1051.4C1101.4 1055.1 1108.9 1057.1 1116.4 1062.7C1120.1 1065.5 1123.9 1071.2 1127.6 1076.2C1130.6 1080.2 1133.6 1085.2 1136.6 1089.7L1136.9 1116.4L1123.1 1116.4L1123.1 1110.4C1120.9 1107.6 1118.6 1104.9 1116.4 1102.1C1112.6 1097.3 1108.9 1092.3 1105.2 1087.4C1101.4 1082.6 1097.7 1076.9 1093.9 1072.8C1088.5 1067 1083.1 1062.3 1077.7 1058.2C1059.7 1044.6 1041.7 1036.3 1023.6 1025.4Z" fill="#d0e8ee" fill-opacity="1" stroke="#b4aa96" stroke-opacity="0.5" stroke-width="4.4" stroke-linejoin="round"/>
<path d="M1048.8 1026.4V1110.4M1063.5 1026.4V1110.4M1092.9 1026.4V1110.4M1107.5 1026.4V1110.4M1122.2 1026.4V1110.4" stroke="#b0b0b0" stroke-width="1.05" fill="none"/>
<path d="M1014 1047.4H1142M1014 1068.4H1142M1014 1089.4H1142" stroke="#b0b0b0" stroke-width="1.15" fill="none"/>
<path d="M1019.5 1026.4V1110.4M1078.2 1026.4V1110.4M1136.9 1026.4V1110.4" stroke="#ff0000" stroke-opacity="0.5" stroke-width="4.8" fill="none"/>
<path d="M1015 1026.4C1016.5 1026.4 1018 1026.4 1019.5 1026.4C1020.8 1026.4 1022.2 1026.4 1023.6 1026.4C1026.8 1026.4 1030 1037.1 1033.2 1038C1038.4 1039.4 1043.7 1039.4 1048.9 1040.2C1053.4 1040.9 1057.9 1041.3 1062.4 1042.5C1067.5 1043.8 1072.6 1048.5 1077.7 1051.4C1083.1 1054.5 1088.5 1057 1093.9 1060.4C1098.4 1063.3 1102.9 1066.3 1107.4 1070.6C1111.1 1074.2 1114.9 1080 1118.6 1085.2C1121.6 1089.4 1124.6 1094.9 1127.6 1098.7C1130.7 1102.6 1133.8 1108.8 1136.9 1108.8C1137.4 1108.8 1137.9 1108.8 1138.4 1108.8" fill="none" stroke="#000" stroke-width="9" stroke-linejoin="round" stroke-linecap="butt"/>
</g>
<path d="M1034.1 1110.4V1121.2M1048.8 1110.4V1121.2M1063.5 1110.4V1121.2M1092.9 1110.4V1121.2M1107.5 1110.4V1121.2M1122.2 1110.4V1121.2M1014 1089.4H1003.2M1014 1068.4H1003.2M1014 1047.4H1003.2" stroke="#000" stroke-width="3" fill="none"/>
<path d="M1019.5 1110.4V1128.8M1078.2 1110.4V1128.8M1136.9 1110.4V1128.8M1014 1110.4H995.6M1014 1026.4H995.6" stroke="#ff0000" stroke-width="4.8" fill="none"/>
<rect x="1014" y="1026.4" width="128" height="84" fill="none" stroke="#ff0000" stroke-width="5.6"/>
</g>
<g>
<clipPath id="c7_5"><rect x="1193.5" y="1026.4" width="128" height="84"/></clipPath>
<g clip-path="url(#c7_5)">
<path d="M1203.1 1025.4C1203.8 1026.9 1204.5 1029.5 1205.2 1030.1C1207.1 1031.5 1209 1031.9 1210.9 1032.3C1226.3 1035.7 1241.8 1034.8 1257.2 1038C1262.7 1039.1 1268.3 1042.2 1273.8 1044.7C1279.8 1047.4 1285.8 1049.6 1291.8 1053.7C1295.6 1056.3 1299.3 1061.1 1303.1 1064.9C1307.4 1069.4 1311.8 1073.9 1316.1 1078.4L1316.4 1116.4L1282.8 1116.4L1282.8 1110.4C1281.3 1108.7 1279.8 1107.3 1278.3 1105.4C1275.3 1101.7 1272.3 1096.4 1269.3 1091.9C1265.3 1085.9 1261.2 1079.5 1257.2 1073.9C1253.7 1069.2 1250.3 1064.8 1246.9 1060.4C1243.9 1056.6 1240.9 1050.8 1237.9 1049.2C1228.9 1044.5 1219.9 1045.9 1210.9 1041.3C1209 1040.4 1207.1 1039.2 1205.2 1035.7C1204.5 1034.4 1203.8 1028.8 1203.1 1025.4Z" fill="#1f77b4" fill-opacity="0.5" stroke="#1f77b4" stroke-opacity="0.5" stroke-width="4.4" stroke-linejoin="round"/>
<path d="M1203.1 1025.4C1203.8 1027.1 1204.5 1029.3 1205.2 1030.4C1207.1 1033.3 1209 1035.7 1210.9 1036.2C1216.9 1037.7 1222.9 1037.6 1228.9 1038.4C1234.9 1039.2 1240.9 1039.7 1246.9 1040.9C1250.3 1041.6 1253.7 1043 1257.2 1044.4C1265 1047.7 1272.8 1052 1280.6 1057.9C1288.1 1063.6 1295.6 1074 1303.1 1082.7C1307.4 1087.7 1311.8 1093.1 1316.1 1098.3L1316.4 1116.4L1285.1 1116.4L1285.1 1110.4C1283.6 1108.7 1282.1 1107.2 1280.6 1105.4C1276.8 1100.9 1273.1 1095.1 1269.3 1089.7C1265.3 1083.9 1261.2 1077.3 1257.2 1071.7C1253.7 1066.9 1250.3 1062.4 1246.9 1058.2C1243.9 1054.6 1240.9 1049.8 1237.9 1048.1C1228.9 1043 1219.9 1044.3 1210.9 1039.1C1209 1038 1207.1 1036.3 1205.2 1032.8C1204.5 1031.5 1203.8 1027.9 1203.1 1025.4Z" fill="#fdd7af" fill-opacity="1" stroke="#d29150" stroke-opacity="0.53" stroke-width="4.4" stroke-linejoin="round"/>
<path d="M1203.1 1025.4C1221.2 1030.3 1239.2 1033.6 1257.2 1040.2C1262.7 1042.2 1268.3 1045.2 1273.8 1048.1C1279.8 1051.2 1285.8 1053.8 1291.8 1058.2C1295.6 1061 1299.3 1065.6 1303.1 1069.4C1307.4 1073.9 1311.8 1078.4 1316.1 1082.9L1316.1 1099.8C1311.8 1094.6 1307.4 1089.1 1303.1 1084.1C1295.6 1075.4 1288.1 1065 1280.6 1059.3C1272.8 1053.4 1265 1049.5 1257.2 1045.8C1239.2 1037.4 1221.2 1032.2 1203.1 1025.4Z" fill="#d0e8ee" fill-opacity="1" stroke="#b4aa96" stroke-opacity="0.5" stroke-width="4.4" stroke-linejoin="round"/>
<path d="M1213.6 1026.4V1110.4M1243 1026.4V1110.4M1272.4 1026.4V1110.4M1287 1026.4V1110.4" stroke="#b0b0b0" stroke-width="1.05" fill="none"/>
<path d="M1193.5 1047.4H1321.5M1193.5 1068.4H1321.5M1193.5 1089.4H1321.5" stroke="#b0b0b0" stroke-width="1.15" fill="none"/>
<path d="M1199 1026.4V1110.4M1257.7 1026.4V1110.4M1316.4 1026.4V1110.4" stroke="#ff0000" stroke-opacity="0.5" stroke-width="4.8" fill="none"/>
<path d="M1194.5 1026.4C1196 1026.4 1197.5 1026.4 1199 1026.4C1200.3 1026.4 1201.7 1026.4 1203.1 1026.4C1205.7 1026.4 1208.3 1036.2 1210.9 1036.8C1216.9 1038.4 1222.9 1038.3 1228.9 1039.1C1234.9 1039.8 1240.9 1040.2 1246.9 1041.3C1250.3 1042 1253.7 1043.2 1257.2 1044.7C1261.2 1046.4 1265.3 1050.3 1269.3 1052.6C1273.1 1054.7 1276.8 1055.7 1280.6 1058.2C1284.3 1060.7 1288.1 1065.4 1291.8 1069.4C1295.6 1073.5 1299.3 1078.5 1303.1 1082.9C1307.5 1088.2 1312 1098.7 1316.4 1098.7C1316.9 1098.7 1317.4 1098.7 1317.9 1098.7" fill="none" stroke="#000" stroke-width="9" stroke-linejoin="round" stroke-linecap="butt"/>
</g>
<path d="M1213.6 1110.4V1121.2M1228.3 1110.4V1121.2M1243 1110.4V1121.2M1272.4 1110.4V1121.2M1287 1110.4V1121.2M1301.7 1110.4V1121.2M1193.5 1089.4H1182.7M1193.5 1068.4H1182.7M1193.5 1047.4H1182.7" stroke="#000" stroke-width="3" fill="none"/>
<path d="M1199 1110.4V1128.8M1257.7 1110.4V1128.8M1316.4 1110.4V1128.8M1193.5 1110.4H1175.1M1193.5 1026.4H1175.1" stroke="#ff0000" stroke-width="4.8" fill="none"/>
<rect x="1193.5" y="1026.4" width="128" height="84" fill="none" stroke="#ff0000" stroke-width="5.6"/>
</g>
<g>
<clipPath id="c7_6"><rect x="1373" y="1026.4" width="128" height="84"/></clipPath>
<g clip-path="url(#c7_6)">
<path d="M1382.6 1025.4C1383.2 1026.9 1383.8 1029.7 1384.4 1030.1C1387 1031.7 1389.6 1032 1392.2 1032.3C1402.4 1033.7 1412.5 1033.2 1422.6 1034.6C1427.3 1035.2 1432.1 1038.3 1436.8 1040.2C1442.2 1042.4 1447.6 1044.5 1453 1046.9C1457.5 1049 1462 1050.9 1466.5 1053.7C1471 1056.5 1475.5 1060.8 1480 1064.9C1483 1067.7 1486 1070.1 1489 1073.9C1491.2 1076.8 1493.5 1081.4 1495.7 1085.2L1495.9 1116.4L1477.7 1116.4L1477.7 1110.4C1476.2 1108.7 1474.7 1107.3 1473.2 1105.4C1470.2 1101.7 1467.2 1095.9 1464.2 1091.9C1460.5 1086.9 1456.7 1082.8 1453 1078.4C1447.6 1072.2 1442.2 1065.4 1436.8 1060.4C1432.1 1056.1 1427.3 1051 1422.6 1049.2C1412.5 1045.4 1402.4 1046.5 1392.2 1042.5C1389.6 1041.4 1387 1040.4 1384.4 1035.7C1383.8 1034.7 1383.2 1028.8 1382.6 1025.4Z" fill="#1f77b4" fill-opacity="0.5" stroke="#1f77b4" stroke-opacity="0.5" stroke-width="4.4" stroke-linejoin="round"/>
<path d="M1382.6 1025.4C1383.2 1026.8 1383.8 1029 1384.4 1029.7C1387 1033 1389.6 1034.7 1392.2 1035.3C1402.4 1037.3 1412.5 1036.5 1422.6 1038.2C1427.3 1039 1432.1 1042.2 1436.8 1044.3C1442.2 1046.6 1447.6 1048.9 1453 1051.4C1457.5 1053.6 1462 1055.2 1466.5 1058.2C1471 1061.2 1475.5 1066.9 1480 1071.7C1485.2 1077.3 1490.5 1083.7 1495.7 1089.7L1495.9 1116.4L1478.8 1116.4L1478.8 1110.4C1477.3 1108.7 1475.8 1107.3 1474.3 1105.4C1471 1101.2 1467.6 1094.3 1464.2 1089.7C1460.5 1084.6 1456.7 1080.5 1453 1076.2C1447.6 1069.9 1442.2 1063.6 1436.8 1058.2C1432.1 1053.5 1427.3 1046.8 1422.6 1045.4C1412.5 1042.2 1402.4 1043.6 1392.2 1040.2C1389.6 1039.4 1387 1037.3 1384.4 1032.5C1383.8 1031.5 1383.2 1027.8 1382.6 1025.4Z" fill="#fdd7af" fill-opacity="1" stroke="#d29150" stroke-opacity="0.53" stroke-width="4.4" stroke-linejoin="round"/>
<path d="M1382.6 1025.4C1400.7 1031.8 1418.7 1035.7 1436.8 1044.7C1442.2 1047.4 1447.6 1052.3 1453 1055.9C1457.5 1059 1462 1061.1 1466.5 1064.9C1471 1068.8 1475.5 1075.5 1480 1080.7C1485.2 1086.7 1490.5 1092.7 1495.7 1098.7L1495.9 1116.4L1495.7 1116.4L1495.7 1110.4C1492.7 1108.7 1489.7 1107.7 1486.7 1105.4C1481.5 1101.4 1476.2 1088.1 1471 1081.8C1465.7 1075.5 1460.5 1071.1 1455.2 1066.1C1449.1 1060.2 1442.9 1053.1 1436.8 1049.2C1418.7 1037.8 1400.7 1033.3 1382.6 1025.4Z" fill="#d0e8ee" fill-opacity="1" stroke="#b4aa96" stroke-opacity="0.5" stroke-width="4.4" stroke-linejoin="round"/>
<path d="M1393.1 1026.4V1110.4M1407.8 1026.4V1110.4M1422.5 1026.4V1110.4M1466.5 1026.4V1110.4M1481.2 1026.4V1110.4" stroke="#b0b0b0" stroke-width="1.05" fill="none"/>
<path d="M1373 1047.4H1501M1373 1068.4H1501M1373 1089.4H1501" stroke="#b0b0b0" stroke-width="1.15" fill="none"/>
<path d="M1378.5 1026.4V1110.4M1437.2 1026.4V1110.4M1495.9 1026.4V1110.4" stroke="#ff0000" stroke-opacity="0.5" stroke-width="4.8" fill="none"/>
<path d="M1374 1026.4C1375.5 1026.4 1377 1026.4 1378.5 1026.4C1379.8 1026.4 1381.2 1026.4 1382.6 1026.4C1385.8 1026.4 1389 1037.5 1392.2 1038C1397.5 1038.7 1402.7 1038.6 1408 1039.1C1412.9 1039.6 1417.7 1040.2 1422.6 1041.3C1427.3 1042.4 1432.1 1044 1436.8 1046.9C1439.9 1048.9 1443.1 1055.3 1446.2 1058.2C1449.2 1061 1452.2 1062 1455.2 1064.9C1457.5 1067.1 1459.7 1071.8 1462 1073.9C1465 1076.9 1468 1077.3 1471 1080.7C1473.2 1083.2 1475.5 1090.9 1477.7 1094.2C1480.7 1098.6 1483.7 1101.9 1486.7 1104.3C1489.8 1106.7 1492.8 1109.9 1495.9 1109.9C1496.4 1109.9 1496.9 1109.9 1497.4 1109.9" fill="none" stroke="#000" stroke-width="9" stroke-linejoin="round" stroke-linecap="butt"/>
</g>
<path d="M1393.1 1110.4V1121.2M1407.8 1110.4V1121.2M1422.5 1110.4V1121.2M1451.9 1110.4V1121.2M1466.5 1110.4V1121.2M1481.2 1110.4V1121.2M1373 1089.4H1362.2M1373 1068.4H1362.2M1373 1047.4H1362.2" stroke="#000" stroke-width="3" fill="none"/>
<path d="M1378.5 1110.4V1128.8M1437.2 1110.4V1128.8M1495.9 1110.4V1128.8M1373 1110.4H1354.6M1373 1026.4H1354.6" stroke="#ff0000" stroke-width="4.8" fill="none"/>
<rect x="1373" y="1026.4" width="128" height="84" fill="none" stroke="#ff0000" stroke-width="5.6"/>
</g>
<g>
<clipPath id="c7_7"><rect x="1552.5" y="1026.4" width="128" height="84"/></clipPath>
<g clip-path="url(#c7_7)">
<path d="M1562.1 1025.4C1562.9 1026.9 1563.6 1029.5 1564.3 1030.1C1566.2 1031.5 1568.1 1032 1569.9 1032.3C1580.4 1034.4 1590.9 1033.7 1601.4 1035.7C1606.4 1036.6 1611.5 1040.3 1616.5 1042.5C1622 1044.8 1627.4 1047.2 1632.9 1049.2C1637.4 1050.8 1641.9 1051.9 1646.4 1053.7C1650.9 1055.5 1655.4 1056.6 1659.9 1060.4C1662.1 1062.4 1664.4 1070.8 1666.6 1073.9C1669.5 1077.9 1672.3 1079.9 1675.2 1082.9L1675.4 1116.4L1644.2 1116.4L1644.2 1110.4C1642.7 1108 1641.2 1105.4 1639.7 1103.2C1635.9 1097.5 1632.2 1092.9 1628.4 1087.4C1624.4 1081.7 1620.5 1074.8 1616.5 1069.4C1611.5 1062.7 1606.4 1053.9 1601.4 1051.4C1590.9 1046.2 1580.4 1048.1 1569.9 1042.5C1568.1 1041.4 1566.2 1039.6 1564.3 1035.7C1563.6 1034.2 1562.9 1028.8 1562.1 1025.4Z" fill="#1f77b4" fill-opacity="0.5" stroke="#1f77b4" stroke-opacity="0.5" stroke-width="4.4" stroke-linejoin="round"/>
<path d="M1562.1 1025.4C1562.9 1026.9 1563.6 1029.1 1564.3 1030C1566.2 1032.5 1568.1 1034.2 1569.9 1034.8C1580.4 1038.1 1590.9 1036.9 1601.4 1039.8C1606.4 1041.1 1611.5 1047.3 1616.5 1049.7C1622 1052.4 1627.4 1053.1 1632.9 1055.9C1637.4 1058.3 1641.9 1063.1 1646.4 1067.2C1650.9 1071.3 1655.4 1076.1 1659.9 1080.7C1665 1085.9 1670.1 1091.2 1675.2 1096.4L1675.4 1116.4L1646.4 1116.4L1646.4 1110.4C1644.2 1107.2 1641.9 1104.1 1639.7 1100.9C1635.9 1095.7 1632.2 1090.6 1628.4 1085.2C1624.4 1079.4 1620.5 1072.4 1616.5 1067.2C1611.5 1060.6 1606.4 1052.3 1601.4 1049.6C1590.9 1044.1 1580.4 1045.9 1569.9 1039.8C1568.1 1038.7 1566.2 1036.5 1564.3 1032.9C1563.6 1031.5 1562.9 1027.9 1562.1 1025.4Z" fill="#fdd7af" fill-opacity="1" stroke="#d29150" stroke-opacity="0.53" stroke-width="4.4" stroke-linejoin="round"/>
<path d="M1562.1 1025.4C1580.3 1034.1 1598.4 1040.9 1616.5 1051.4C1622 1054.6 1627.4 1058.2 1632.9 1062.7C1637.4 1066.4 1641.9 1071.3 1646.4 1076.2C1650.9 1081 1655.4 1087.4 1659.9 1091.9C1665 1097.1 1670.1 1100.9 1675.2 1105.4L1675.4 1116.4L1666.6 1116.4L1666.6 1110.4C1659.9 1105.4 1653.1 1101.9 1646.4 1095.3C1640.4 1089.5 1634.4 1077.6 1628.4 1070.6C1624.4 1065.9 1620.5 1061.4 1616.5 1058.2C1598.4 1043.5 1580.3 1036.3 1562.1 1025.4Z" fill="#d0e8ee" fill-opacity="1" stroke="#b4aa96" stroke-opacity="0.5" stroke-width="4.4" stroke-linejoin="round"/>
<path d="M1572.6 1026.4V1110.4M1587.3 1026.4V1110.4M1631.4 1026.4V1110.4M1660.7 1026.4V1110.4" stroke="#b0b0b0" stroke-width="1.05" fill="none"/>
<path d="M1552.5 1047.4H1680.5M1552.5 1068.4H1680.5M1552.5 1089.4H1680.5" stroke="#b0b0b0" stroke-width="1.15" fill="none"/>
<path d="M1558 1026.4V1110.4M1616.7 1026.4V1110.4M1675.4 1026.4V1110.4" stroke="#ff0000" stroke-opacity="0.5" stroke-width="4.8" fill="none"/>
<path d="M1553.5 1026.4C1555 1026.4 1556.5 1026.4 1558 1026.4C1559.3 1026.4 1560.7 1026.4 1562.1 1026.4C1564.7 1026.4 1567.3 1036.2 1569.9 1036.8C1575.9 1038.4 1581.9 1038.1 1587.9 1039.1C1592.4 1039.8 1596.9 1040.6 1601.4 1042.5C1604.4 1043.7 1607.4 1049.7 1610.4 1051.4C1614.2 1053.6 1617.9 1053.3 1621.7 1055.9C1623.9 1057.5 1626.2 1066.8 1628.4 1069.4C1632.2 1073.9 1635.9 1073.8 1639.7 1078.4C1641.9 1081.2 1644.2 1091.4 1646.4 1094.2C1650.1 1098.8 1653.9 1100.6 1657.6 1103.2C1660.6 1105.3 1663.6 1108 1666.6 1108.8C1669.6 1109.6 1672.5 1110.4 1675.4 1110.4C1675.9 1110.4 1676.4 1110.4 1676.9 1110.4" fill="none" stroke="#000" stroke-width="9" stroke-linejoin="round" stroke-linecap="butt"/>
</g>
<path d="M1572.6 1110.4V1121.2M1587.3 1110.4V1121.2M1602 1110.4V1121.2M1631.4 1110.4V1121.2M1646 1110.4V1121.2M1660.7 1110.4V1121.2M1552.5 1089.4H1541.7M1552.5 1068.4H1541.7M1552.5 1047.4H1541.7" stroke="#000" stroke-width="3" fill="none"/>
<path d="M1558 1110.4V1128.8M1616.7 1110.4V1128.8M1675.4 1110.4V1128.8M1552.5 1110.4H1534.1M1552.5 1026.4H1534.1" stroke="#ff0000" stroke-width="4.8" fill="none"/>
<rect x="1552.5" y="1026.4" width="128" height="84" fill="none" stroke="#ff0000" stroke-width="5.6"/>
</g>
<g>
<clipPath id="c7_8"><rect x="1732" y="1026.4" width="128" height="84"/></clipPath>
<g clip-path="url(#c7_8)">
<path d="M1741.6 1025.4C1742.5 1026.9 1743.4 1029.5 1744.2 1030.1C1746.1 1031.4 1748 1032 1749.9 1032.3C1761.9 1034.5 1773.9 1033.5 1785.9 1035.7C1789.2 1036.3 1792.4 1039.8 1795.7 1041.3C1800.7 1043.6 1805.6 1045 1810.6 1046.9C1815.8 1049.1 1821.1 1049.9 1826.3 1053.7C1829.3 1055.9 1832.3 1066.5 1835.3 1069.4C1839.8 1073.9 1844.3 1073.7 1848.8 1078.4C1850.8 1080.5 1852.7 1085.9 1854.7 1089.7L1854.9 1116.4L1826.3 1116.4L1826.3 1110.4C1824.8 1108.7 1823.3 1107.1 1821.8 1105.4C1818.1 1101.2 1814.3 1097.3 1810.6 1091.9C1807.6 1087.6 1804.6 1080 1801.6 1076.2C1797.8 1071.4 1794.1 1069.5 1790.4 1064.9C1787.4 1061.3 1784.4 1052.9 1781.4 1051.4C1770.9 1046.3 1760.4 1048.7 1749.9 1043.6C1748 1042.7 1746.1 1040.6 1744.2 1036.8C1743.4 1035.1 1742.5 1029.2 1741.6 1025.4Z" fill="#1f77b4" fill-opacity="0.5" stroke="#1f77b4" stroke-opacity="0.5" stroke-width="4.4" stroke-linejoin="round"/>
<path d="M1741.6 1025.4C1742.5 1027 1743.4 1029.2 1744.2 1030.2C1746.1 1032.4 1748 1034.3 1749.9 1034.8C1761.9 1037.8 1773.9 1036.5 1785.9 1039C1789.2 1039.7 1792.4 1042.2 1795.7 1043.6C1800.7 1045.6 1805.6 1046.9 1810.6 1049.2C1815.8 1051.6 1821.1 1053.7 1826.3 1058.2C1829.3 1060.8 1832.3 1068.8 1835.3 1071.7C1839.8 1076 1844.3 1075.9 1848.8 1080.7C1850.8 1082.7 1852.7 1088.2 1854.7 1091.9L1854.9 1116.4L1827.5 1116.4L1827.5 1110.4C1826.3 1109.5 1825.2 1108.7 1824.1 1107.7C1821.1 1104.8 1818.1 1100.8 1815.1 1096.4C1812.1 1092.1 1809.1 1084.7 1806.1 1080.7C1802.6 1076 1799.2 1073.6 1795.7 1069.4C1791 1063.6 1786.2 1051.7 1781.4 1049.2C1770.9 1043.8 1760.4 1045.8 1749.9 1040.2C1748 1039.2 1746.1 1037 1744.2 1033.6C1743.4 1032 1742.5 1028.1 1741.6 1025.4Z" fill="#fdd7af" fill-opacity="1" stroke="#d29150" stroke-opacity="0.53" stroke-width="4.4" stroke-linejoin="round"/>
<path d="M1741.6 1025.4C1759.7 1032.6 1777.7 1039.2 1795.7 1046.9C1800.7 1049.1 1805.6 1051 1810.6 1053.7C1815.8 1056.6 1821.1 1059.4 1826.3 1064.9C1829.3 1068.1 1832.3 1076.4 1835.3 1080.7C1839.1 1086.1 1842.8 1089.3 1846.6 1094.2C1849.3 1097.7 1852 1101.7 1854.7 1105.4L1854.9 1116.4L1846.6 1116.4L1846.6 1110.4C1842.1 1106.1 1837.6 1102.3 1833.1 1097.6C1826.3 1090.4 1819.6 1080.2 1812.8 1072.8C1807.1 1066.6 1801.4 1060.2 1795.7 1055.9C1777.7 1042.3 1759.7 1035.6 1741.6 1025.4Z" fill="#d0e8ee" fill-opacity="1" stroke="#b4aa96" stroke-opacity="0.5" stroke-width="4.4" stroke-linejoin="round"/>
<path d="M1752.1 1026.4V1110.4M1781.5 1026.4V1110.4M1810.9 1026.4V1110.4M1825.5 1026.4V1110.4" stroke="#b0b0b0" stroke-width="1.05" fill="none"/>
<path d="M1732 1047.4H1860M1732 1068.4H1860M1732 1089.4H1860" stroke="#b0b0b0" stroke-width="1.15" fill="none"/>
<path d="M1737.5 1026.4V1110.4M1796.2 1026.4V1110.4M1854.9 1026.4V1110.4" stroke="#ff0000" stroke-opacity="0.5" stroke-width="4.8" fill="none"/>
<path d="M1733 1026.4C1734.5 1026.4 1736 1026.4 1737.5 1026.4C1738.8 1026.4 1740.2 1026.4 1741.6 1026.4C1744.4 1026.4 1747.1 1036.1 1749.9 1036.8C1755.9 1038.3 1761.9 1038.3 1767.9 1039.1C1773.9 1039.8 1779.9 1039.7 1785.9 1041.3C1788.1 1041.9 1790.4 1049.7 1792.6 1051.4C1797.1 1055 1801.6 1054.3 1806.1 1058.2C1808.3 1060.1 1810.6 1069.8 1812.8 1071.7C1817.3 1075.5 1821.8 1074.3 1826.3 1078.4C1828.6 1080.5 1830.8 1091.3 1833.1 1096.4C1834.6 1099.8 1836.1 1104.1 1837.6 1105.4C1840.6 1108 1843.6 1109.6 1846.6 1109.9C1849.4 1110.2 1852.1 1110.4 1854.9 1110.4C1855.4 1110.4 1855.9 1110.4 1856.4 1110.4" fill="none" stroke="#000" stroke-width="9" stroke-linejoin="round" stroke-linecap="butt"/>
</g>
<path d="M1752.1 1110.4V1121.2M1766.8 1110.4V1121.2M1781.5 1110.4V1121.2M1810.9 1110.4V1121.2M1825.5 1110.4V1121.2M1840.2 1110.4V1121.2M1732 1089.4H1721.2M1732 1068.4H1721.2M1732 1047.4H1721.2" stroke="#000" stroke-width="3" fill="none"/>
<path d="M1737.5 1110.4V1128.8M1796.2 1110.4V1128.8M1854.9 1110.4V1128.8M1732 1110.4H1713.6M1732 1026.4H1713.6" stroke="#ff0000" stroke-width="4.8" fill="none"/>
<rect x="1732" y="1026.4" width="128" height="84" fill="none" stroke="#ff0000" stroke-width="5.6"/>
</g>
<g>
<clipPath id="c7_9"><rect x="1911.5" y="1026.4" width="128" height="84"/></clipPath>
<g clip-path="url(#c7_9)">
<path d="M1921.1 1025.4C1921.7 1026.9 1922.3 1029.6 1922.9 1030.1C1924.7 1031.6 1926.6 1032 1928.5 1032.3C1940.5 1034.5 1952.5 1033.3 1964.5 1035.7C1968.1 1036.4 1971.7 1044.5 1975.3 1046.9C1979.9 1050.1 1984.6 1050.2 1989.2 1053.7C1993 1056.5 1996.7 1067.5 2000.5 1071.7C2004.9 1076.7 2009.4 1077.7 2013.9 1082.9C2016.9 1086.4 2019.9 1093.9 2022.9 1098.7C2025.2 1102.3 2027.4 1105.6 2029.7 1108.8C2030.1 1109.3 2030.4 1109.9 2030.8 1110.4L2030.8 1116.4L1996 1116.4L1996 1110.4C1994.5 1108.7 1993 1107.2 1991.5 1105.4C1988.5 1101.9 1985.5 1098.7 1982.5 1094.2C1980.1 1090.6 1977.7 1085.7 1975.3 1080.7C1972.4 1074.7 1969.6 1062.8 1966.7 1060.4C1960 1054.9 1953.2 1054.4 1946.5 1051.4C1940.5 1048.8 1934.5 1047.8 1928.5 1043.6C1926.6 1042.3 1924.7 1041.2 1922.9 1036.8C1922.3 1035.5 1921.7 1029.2 1921.1 1025.4Z" fill="#1f77b4" fill-opacity="0.5" stroke="#1f77b4" stroke-opacity="0.5" stroke-width="4.4" stroke-linejoin="round"/>
<path d="M1921.1 1025.4C1921.7 1026.9 1922.3 1029 1922.9 1029.8C1924.7 1032.6 1926.6 1034.4 1928.5 1034.8C1940.5 1037.7 1952.5 1035.9 1964.5 1038.8C1968.1 1039.6 1971.7 1048.2 1975.3 1050.8C1979.9 1054.2 1984.6 1054.4 1989.2 1058.2C1993 1061.2 1996.7 1071.9 2000.5 1076.2C2004.9 1081.4 2009.4 1083.1 2013.9 1088.2C2016.9 1091.5 2019.9 1096.8 2022.9 1101.4C2024.8 1104.3 2026.7 1107.4 2028.6 1110.4L2028.6 1116.4L2009.4 1116.4L2009.4 1110.4C2007.9 1109.5 2006.4 1108.8 2004.9 1107.7C2002 1105.3 1999 1100.5 1996 1096.4C1993 1092.3 1990 1087.2 1987 1082.9C1983.1 1077.4 1979.2 1072.4 1975.3 1067.2C1972.4 1063.4 1969.6 1057.6 1966.7 1055.9C1960 1052 1953.2 1051.9 1946.5 1049.2C1940.5 1046.8 1934.5 1043.9 1928.5 1040.2C1926.6 1039.1 1924.7 1039 1922.9 1036.2C1922.3 1035.3 1921.7 1029 1921.1 1025.4Z" fill="#fdd7af" fill-opacity="1" stroke="#d29150" stroke-opacity="0.53" stroke-width="4.4" stroke-linejoin="round"/>
<path d="M1931.6 1026.4V1110.4M1946.3 1026.4V1110.4M1990.4 1026.4V1110.4M2019.7 1026.4V1110.4" stroke="#b0b0b0" stroke-width="1.05" fill="none"/>
<path d="M1911.5 1047.4H2039.5M1911.5 1068.4H2039.5M1911.5 1089.4H2039.5" stroke="#b0b0b0" stroke-width="1.15" fill="none"/>
<path d="M1917 1026.4V1110.4M1975.7 1026.4V1110.4M2034.4 1026.4V1110.4" stroke="#ff0000" stroke-opacity="0.5" stroke-width="4.8" fill="none"/>
<path d="M1912.5 1026.4C1914 1026.4 1915.5 1026.4 1917 1026.4C1918.3 1026.4 1919.7 1026.4 1921.1 1026.4C1923.6 1026.4 1926 1036.2 1928.5 1036.8C1934.5 1038.4 1940.5 1038.3 1946.5 1039.1C1952.5 1039.8 1958.5 1039.8 1964.5 1041.3C1966.7 1041.9 1969 1046.6 1971.2 1049.2C1973.5 1051.8 1975.7 1055.7 1978 1057.1C1981.7 1059.4 1985.5 1059 1989.2 1061.6C1991.5 1063.1 1993.7 1070.6 1996 1073.9C1999 1078.4 2002 1082.4 2004.9 1085.2C2007.9 1088 2010.9 1088.3 2013.9 1091.9C2015.4 1093.8 2016.9 1100.7 2018.4 1103.2C2019.9 1105.7 2021.4 1108.4 2022.9 1108.8C2026.8 1109.9 2030.6 1110.4 2034.4 1110.4C2034.9 1110.4 2035.4 1110.4 2035.9 1110.4" fill="none" stroke="#000" stroke-width="9" stroke-linejoin="round" stroke-linecap="butt"/>
</g>
<path d="M1931.6 1110.4V1121.2M1946.3 1110.4V1121.2M1961 1110.4V1121.2M1990.4 1110.4V1121.2M2005 1110.4V1121.2M2019.7 1110.4V1121.2M1911.5 1089.4H1900.7M1911.5 1068.4H1900.7M1911.5 1047.4H1900.7" stroke="#000" stroke-width="3" fill="none"/>
<path d="M1917 1110.4V1128.8M1975.7 1110.4V1128.8M2034.4 1110.4V1128.8M1911.5 1110.4H1893.1M1911.5 1026.4H1893.1" stroke="#ff0000" stroke-width="4.8" fill="none"/>
<rect x="1911.5" y="1026.4" width="128" height="84" fill="none" stroke="#ff0000" stroke-width="5.6"/>
</g>
<g>
<clipPath id="c7_10"><rect x="2091" y="1026.4" width="128" height="84"/></clipPath>
<g clip-path="url(#c7_10)">
<path d="M2100.6 1025.4C2101.4 1026.9 2102.1 1029.8 2102.8 1030.1C2104.7 1030.9 2106.5 1030.9 2108.4 1031.2C2120.4 1032.9 2132.4 1032.4 2144.4 1034.6C2147.8 1035.2 2151.1 1039.2 2154.5 1040.2C2160.1 1041.9 2165.8 1041.6 2171.4 1043.6C2174.4 1044.6 2177.4 1047.4 2180.4 1051.4C2182.6 1054.5 2184.9 1067.4 2187.1 1069.4C2191.6 1073.5 2196.1 1072.2 2200.6 1076.2C2202.9 1078.2 2205.1 1086.9 2207.4 1091.9C2209.5 1096.6 2211.6 1100.9 2213.7 1105.4L2213.9 1116.4L2178.1 1116.4L2178.1 1110.4C2176.6 1107.2 2175.1 1102.5 2173.6 1100.9C2169.9 1097.1 2166.1 1097.8 2162.4 1094.2C2159.8 1091.7 2157.1 1084.6 2154.5 1078.4C2152.6 1074 2150.8 1063.9 2148.9 1062.7C2144.4 1059.7 2139.9 1060.5 2135.4 1058.2C2132.4 1056.6 2129.4 1050.7 2126.4 1049.2C2120.4 1046.2 2114.4 1046.9 2108.4 1043.6C2106.5 1042.5 2104.7 1040.9 2102.8 1036.8C2102.1 1035.3 2101.4 1029.2 2100.6 1025.4Z" fill="#1f77b4" fill-opacity="0.5" stroke="#1f77b4" stroke-opacity="0.5" stroke-width="4.4" stroke-linejoin="round"/>
<path d="M2100.6 1025.4C2101.4 1026.9 2102.1 1029.2 2102.8 1030C2104.7 1032.3 2106.5 1034 2108.4 1034.3C2120.4 1036.2 2132.4 1035 2144.4 1036.8C2147.8 1037.3 2151.1 1042.9 2154.5 1044.7C2160.1 1047.8 2165.8 1047.7 2171.4 1051.4C2174.4 1053.5 2177.4 1059.4 2180.4 1064.9C2182.6 1069.1 2184.9 1078.7 2187.1 1080.7C2191.6 1084.7 2196.1 1083.6 2200.6 1087.4C2202.9 1089.4 2205.1 1097.3 2207.4 1100.9C2209.5 1104.3 2211.6 1106.6 2213.7 1109.4L2213.7 1116.4L2179.3 1116.4L2179.3 1110.4C2177.4 1106.5 2175.5 1100.5 2173.6 1098.7C2169.9 1095 2166.1 1095.5 2162.4 1091.9C2159.8 1089.4 2157.1 1082.4 2154.5 1076.2C2152.6 1071.8 2150.8 1061.6 2148.9 1060.4C2144.4 1057.7 2139.9 1058.5 2135.4 1056.4C2132.4 1055 2129.4 1049.2 2126.4 1047.4C2120.4 1043.8 2114.4 1044.2 2108.4 1040.2C2106.5 1039 2104.7 1037.1 2102.8 1033.4C2102.1 1032 2101.4 1028.1 2100.6 1025.4Z" fill="#fdd7af" fill-opacity="1" stroke="#d29150" stroke-opacity="0.53" stroke-width="4.4" stroke-linejoin="round"/>
<path d="M2100.6 1025.4C2118.6 1032.6 2136.6 1038.5 2154.5 1046.9C2160.1 1049.6 2165.8 1051.3 2171.4 1055.9C2174.4 1058.4 2177.4 1063.9 2180.4 1069.4C2182.6 1073.6 2184.9 1082.7 2187.1 1085.2C2191.6 1090.2 2196.1 1089.7 2200.6 1094.2C2202.9 1096.4 2205.1 1101.9 2207.4 1105.4C2208.5 1107.2 2209.6 1108.7 2210.8 1110.4L2210.8 1116.4L2193.9 1116.4L2193.9 1110.4C2190.1 1107.6 2186.4 1106.6 2182.6 1102.1C2180.4 1099.3 2178.1 1086.8 2175.9 1084.1C2170.6 1077.7 2165.4 1079.5 2160.1 1072.8C2158.3 1070.4 2156.4 1058.1 2154.5 1055.9C2136.6 1034.9 2118.6 1035.6 2100.6 1025.4Z" fill="#d0e8ee" fill-opacity="1" stroke="#b4aa96" stroke-opacity="0.5" stroke-width="4.4" stroke-linejoin="round"/>
<path d="M2125.8 1026.4V1110.4M2140.5 1026.4V1110.4M2169.9 1026.4V1110.4M2184.5 1026.4V1110.4" stroke="#b0b0b0" stroke-width="1.05" fill="none"/>
<path d="M2091 1047.4H2219M2091 1068.4H2219M2091 1089.4H2219" stroke="#b0b0b0" stroke-width="1.15" fill="none"/>
<path d="M2096.4 1026.4V1110.4M2155.2 1026.4V1110.4M2213.9 1026.4V1110.4" stroke="#ff0000" stroke-opacity="0.5" stroke-width="4.8" fill="none"/>
<path d="M2091.9 1026.4C2093.4 1026.4 2094.9 1026.4 2096.4 1026.4C2097.8 1026.4 2099.2 1026.4 2100.6 1026.4C2103.2 1026.4 2105.8 1036.2 2108.4 1036.8C2114.4 1038.4 2120.4 1037.5 2126.4 1039.1C2128.7 1039.7 2130.9 1045.3 2133.2 1046.9C2136.2 1049.1 2139.2 1050.6 2142.2 1051.4C2145.9 1052.5 2149.6 1052.2 2153.4 1053.7C2155.6 1054.6 2157.9 1068.4 2160.1 1071.7C2162.4 1075 2164.6 1076.9 2166.9 1078.4C2169.9 1080.5 2172.9 1080.3 2175.9 1082.9C2178.1 1084.9 2180.4 1096.2 2182.6 1100.9C2184.1 1104.1 2185.6 1108.2 2187.1 1108.8C2189.4 1109.8 2191.6 1110.4 2193.9 1110.4C2200.6 1110.4 2207.2 1110.4 2213.9 1110.4C2214.4 1110.4 2214.9 1110.4 2215.4 1110.4" fill="none" stroke="#000" stroke-width="9" stroke-linejoin="round" stroke-linecap="butt"/>
</g>
<path d="M2111.1 1110.4V1121.2M2125.8 1110.4V1121.2M2140.5 1110.4V1121.2M2169.9 1110.4V1121.2M2184.5 1110.4V1121.2M2199.2 1110.4V1121.2M2091 1089.4H2080.2M2091 1068.4H2080.2M2091 1047.4H2080.2" stroke="#000" stroke-width="3" fill="none"/>
<path d="M2096.4 1110.4V1128.8M2155.2 1110.4V1128.8M2213.9 1110.4V1128.8M2091 1110.4H2072.6M2091 1026.4H2072.6" stroke="#ff0000" stroke-width="4.8" fill="none"/>
<rect x="2091" y="1026.4" width="128" height="84" fill="none" stroke="#ff0000" stroke-width="5.6"/>
</g>
<g>
<clipPath id="c8_0"><rect x="296" y="1144.2" width="128" height="84"/></clipPath>
<g clip-path="url(#c8_0)">
<path d="M305.6 1143.2C305.8 1144.4 306 1146.7 306.2 1146.8C309.2 1149 312.2 1148.3 315.2 1149.3C320.5 1151.1 325.7 1153.4 331 1157.2C335.9 1160.6 340.7 1169.1 345.6 1175.2C350.4 1181.1 355.2 1185.7 360 1193.1C363.1 1197.9 366.1 1205.5 369.2 1211.1C372.2 1216.7 375.2 1224.4 378.2 1226.9C379 1227.5 379.7 1227.8 380.5 1228.2L380.5 1234.2L350.1 1234.2L350.1 1228.2C349.7 1227.8 349.4 1227.4 349 1226.9C346.7 1223.6 344.5 1216.2 342.2 1211.1C338.5 1202.6 334.7 1193.5 331 1186.4C325.7 1176.4 320.5 1166.9 315.2 1160.5C312.2 1156.9 309.2 1159 306.2 1151.5C306 1151 305.8 1146 305.6 1143.2Z" fill="#1f77b4" fill-opacity="0.5" stroke="#1f77b4" stroke-opacity="0.5" stroke-width="4.4" stroke-linejoin="round"/>
<path d="M305.6 1143.2C305.8 1144.3 306 1146.3 306.2 1146.5C309.2 1149.7 312.2 1148.8 315.2 1150.4C320.5 1153.2 325.7 1156.7 331 1161.7C335.9 1166.3 340.7 1174.7 345.6 1181.9C350.4 1188.9 355.2 1195.5 360 1204.4C363.1 1210.1 366.1 1221.4 369.2 1224.7C370.7 1226.4 372.2 1227.1 373.7 1228.2L373.7 1234.2L351.2 1234.2L351.2 1228.2C350.9 1227.8 350.5 1227.4 350.1 1226.9C347.5 1223.1 344.9 1214.8 342.2 1208.9C338.5 1200.5 334.7 1191.2 331 1184.2C325.7 1174.4 320.5 1165.8 315.2 1159C312.2 1155.1 309.2 1156.7 306.2 1148.8C306 1148.3 305.8 1145.1 305.6 1143.2Z" fill="#fdd7af" fill-opacity="1" stroke="#d29150" stroke-opacity="0.53" stroke-width="4.4" stroke-linejoin="round"/>
<path d="M316.1 1144.2V1228.2M345.5 1144.2V1228.2M389.5 1144.2V1228.2" stroke="#b0b0b0" stroke-width="1.05" fill="none"/>
<path d="M296 1186.2H424M296 1207.2H424" stroke="#b0b0b0" stroke-width="1.15" fill="none"/>
<path d="M301.4 1144.2V1228.2M360.2 1144.2V1228.2M418.9 1144.2V1228.2" stroke="#ff0000" stroke-opacity="0.5" stroke-width="4.8" fill="none"/>
<path d="M296.9 1144.2C298.4 1144.2 299.9 1144.2 301.4 1144.2C302.8 1144.2 304.2 1144.2 305.6 1144.2C307.3 1144.2 309 1153.2 310.7 1154.9C313.7 1158 316.7 1158 319.7 1160.5C323.5 1163.7 327.2 1169.5 331 1175.2C334.7 1180.8 338.5 1187.9 342.2 1195.4C345.2 1201.4 348.2 1210.3 351.2 1215.6C353.5 1219.7 355.7 1224.4 358 1225.8C360.2 1227.1 362.5 1228.2 364.7 1228.2C382.8 1228.2 400.8 1228.2 418.9 1228.2C419.4 1228.2 419.9 1228.2 420.4 1228.2" fill="none" stroke="#000" stroke-width="9" stroke-linejoin="round" stroke-linecap="butt"/>
</g>
<path d="M316.1 1228.2V1239M330.8 1228.2V1239M345.5 1228.2V1239M374.9 1228.2V1239M389.5 1228.2V1239M404.2 1228.2V1239M296 1207.2H285.2M296 1186.2H285.2M296 1165.2H285.2" stroke="#000" stroke-width="3" fill="none"/>
<path d="M301.4 1228.2V1246.6M360.2 1228.2V1246.6M418.9 1228.2V1246.6M296 1228.2H277.6M296 1144.2H277.6" stroke="#ff0000" stroke-width="4.8" fill="none"/>
<rect x="296" y="1144.2" width="128" height="84" fill="none" stroke="#ff0000" stroke-width="5.6"/>
</g>
<g>
<clipPath id="c8_1"><rect x="475.5" y="1144.2" width="128" height="84"/></clipPath>
<g clip-path="url(#c8_1)">
<path d="M485.1 1143.2C485.5 1144.6 485.8 1147 486.2 1147.3C488.4 1148.9 490.7 1148.8 492.9 1149.3C498.9 1150.7 504.9 1151 510.9 1152.7C515.4 1153.9 519.9 1157 524.4 1159.4C529.4 1162.1 534.5 1164.3 539.5 1168.4C542.7 1171 545.9 1175.3 549.2 1179.7C553.7 1185.8 558.2 1194.8 562.7 1202.1C566.4 1208.3 570.2 1215.1 573.9 1220.1C576.1 1223.2 578.4 1225.5 580.6 1228.2L580.6 1234.2L536.8 1234.2L536.8 1228.2C536.4 1227.8 536 1227.4 535.7 1226.9C533.4 1223.7 531.2 1218.8 528.9 1213.4C526.7 1208 524.4 1198.6 522.2 1193.1C518.4 1184 514.7 1174.4 510.9 1170.7C504.9 1164.7 498.9 1164.3 492.9 1159.4C490.7 1157.6 488.4 1157.5 486.2 1152.2C485.8 1151.4 485.5 1146.2 485.1 1143.2Z" fill="#1f77b4" fill-opacity="0.5" stroke="#1f77b4" stroke-opacity="0.5" stroke-width="4.4" stroke-linejoin="round"/>
<path d="M485.1 1143.2C485.5 1144.4 485.8 1146.3 486.2 1146.8C488.4 1150.1 490.7 1150.8 492.9 1151.8C498.9 1154.3 504.9 1154.8 510.9 1156.7C515.4 1158.1 519.9 1159.3 524.4 1161.7C529.4 1164.3 534.5 1170 539.5 1175.2C545 1180.8 550.4 1186.9 555.9 1195.4C559.7 1201.2 563.4 1212.5 567.2 1217.9C570.2 1222.2 573.1 1224.8 576.1 1228.2L576.1 1234.2L540.2 1234.2L540.2 1228.2C537.9 1224 535.7 1220.3 533.4 1215.6C529.7 1207.8 525.9 1196.4 522.2 1188.7C518.4 1180.9 514.7 1172.1 510.9 1168.4C504.9 1162.4 498.9 1161.7 492.9 1156.6C490.7 1154.7 488.4 1154.2 486.2 1149.3C485.8 1148.5 485.5 1145.2 485.1 1143.2Z" fill="#fdd7af" fill-opacity="1" stroke="#d29150" stroke-opacity="0.53" stroke-width="4.4" stroke-linejoin="round"/>
<path d="M485.1 1143.2C493.7 1147.5 502.3 1151.4 510.9 1156C515.4 1158.5 519.9 1160.5 524.4 1163.9C529.4 1167.7 534.5 1174.3 539.5 1180.8C544.2 1186.9 548.9 1194.4 553.7 1202.1C557.4 1208.3 561.2 1216.9 564.9 1222.4C566.4 1224.6 567.9 1226.3 569.4 1228.2L569.4 1234.2L546.9 1234.2L546.9 1228.2C546.2 1227 545.4 1225.9 544.7 1224.6C541.7 1219.4 538.7 1212.9 535.7 1206.6C531.9 1198.8 528.2 1187.9 524.4 1181.9C519.9 1174.7 515.4 1169.7 510.9 1165C502.3 1156.2 493.7 1150.5 485.1 1143.2Z" fill="#d0e8ee" fill-opacity="1" stroke="#b4aa96" stroke-opacity="0.5" stroke-width="4.4" stroke-linejoin="round"/>
<path d="M495.6 1144.2V1228.2M510.3 1144.2V1228.2M554.4 1144.2V1228.2M583.7 1144.2V1228.2" stroke="#b0b0b0" stroke-width="1.05" fill="none"/>
<path d="M475.5 1186.2H603.5M475.5 1207.2H603.5" stroke="#b0b0b0" stroke-width="1.15" fill="none"/>
<path d="M480.9 1144.2V1228.2M539.7 1144.2V1228.2M598.4 1144.2V1228.2" stroke="#ff0000" stroke-opacity="0.5" stroke-width="4.8" fill="none"/>
<path d="M476.4 1144.2C477.9 1144.2 479.4 1144.2 480.9 1144.2C482.3 1144.2 483.7 1144.2 485.1 1144.2C487.7 1144.2 490.3 1152.4 492.9 1153.8C498.9 1157 504.9 1156.6 510.9 1159.4C515.4 1161.5 519.9 1165.9 524.4 1170.7C529.4 1176 534.5 1184.3 539.5 1193.1C542.7 1198.8 545.9 1207.4 549.2 1213.4C551.4 1217.5 553.7 1222.8 555.9 1224.6C558.2 1226.4 560.4 1228.2 562.7 1228.2C574.6 1228.2 586.5 1228.2 598.4 1228.2C598.9 1228.2 599.4 1228.2 599.9 1228.2" fill="none" stroke="#000" stroke-width="9" stroke-linejoin="round" stroke-linecap="butt"/>
</g>
<path d="M495.6 1228.2V1239M510.3 1228.2V1239M525 1228.2V1239M554.4 1228.2V1239M569 1228.2V1239M583.7 1228.2V1239M475.5 1207.2H464.7M475.5 1186.2H464.7M475.5 1165.2H464.7" stroke="#000" stroke-width="3" fill="none"/>
<path d="M480.9 1228.2V1246.6M539.7 1228.2V1246.6M598.4 1228.2V1246.6M475.5 1228.2H457.1M475.5 1144.2H457.1" stroke="#ff0000" stroke-width="4.8" fill="none"/>
<rect x="475.5" y="1144.2" width="128" height="84" fill="none" stroke="#ff0000" stroke-width="5.6"/>
</g>
<g>
<clipPath id="c8_2"><rect x="655" y="1144.2" width="128" height="84"/></clipPath>
<g clip-path="url(#c8_2)">
<path d="M664.6 1143.2C665.1 1144.7 665.6 1147.5 666.1 1147.7C668.4 1148.9 670.6 1148.8 672.9 1149.3C678.9 1150.6 684.9 1150.9 690.9 1152.7C696.1 1154.2 701.4 1158.3 706.6 1161.7C710.7 1164.3 714.8 1167.5 719 1170.7C724.6 1174.9 730.2 1178 735.8 1184.2C739.6 1188.2 743.3 1196.1 747.1 1202.1C750.8 1208.1 754.6 1215.1 758.3 1220.1C760.6 1223.2 762.8 1225.5 765.1 1228.2L765.1 1234.2L729.1 1234.2L729.1 1228.2C727.6 1226.3 726.1 1224.4 724.6 1222.4C720.8 1217.4 717.1 1212.2 713.4 1206.6C709.6 1201 705.9 1195 702.1 1188.7C698.4 1182.3 694.6 1171.2 690.9 1168.4C684.9 1164 678.9 1164.3 672.9 1160.5C670.6 1159.1 668.4 1158.8 666.1 1154.5C665.6 1153.5 665.1 1147 664.6 1143.2Z" fill="#1f77b4" fill-opacity="0.5" stroke="#1f77b4" stroke-opacity="0.5" stroke-width="4.4" stroke-linejoin="round"/>
<path d="M664.6 1143.2C665.1 1144.7 665.6 1146.8 666.1 1147.5C668.4 1150.8 670.6 1152.2 672.9 1153.1C678.9 1155.6 684.9 1155.8 690.9 1157.6C696.1 1159.2 701.4 1161.2 706.6 1163.9C710.7 1166.1 714.8 1169.2 719 1172.9C724.6 1177.9 730.2 1184.9 735.8 1193.1C739.6 1198.6 743.3 1207.3 747.1 1213.4C750.1 1218.3 753.1 1223 756.1 1226.9C756.5 1227.4 756.8 1227.8 757.2 1228.2L757.2 1234.2L730.2 1234.2L730.2 1228.2C728.7 1226.3 727.2 1224.4 725.7 1222.4C721.6 1216.8 717.5 1210.7 713.4 1204.4C709.6 1198.7 705.9 1192.9 702.1 1186.4C698.4 1179.9 694.6 1167.4 690.9 1165C684.9 1161.3 678.9 1161.7 672.9 1158.8C670.6 1157.7 668.4 1157.5 666.1 1154C665.6 1153.2 665.1 1146.8 664.6 1143.2Z" fill="#fdd7af" fill-opacity="1" stroke="#d29150" stroke-opacity="0.53" stroke-width="4.4" stroke-linejoin="round"/>
<path d="M689.8 1144.2V1228.2M704.5 1144.2V1228.2M733.9 1144.2V1228.2M748.5 1144.2V1228.2" stroke="#b0b0b0" stroke-width="1.05" fill="none"/>
<path d="M655 1186.2H783M655 1207.2H783" stroke="#b0b0b0" stroke-width="1.15" fill="none"/>
<path d="M660.5 1144.2V1228.2M719.2 1144.2V1228.2M777.9 1144.2V1228.2" stroke="#ff0000" stroke-opacity="0.5" stroke-width="4.8" fill="none"/>
<path d="M656 1144.2C657.5 1144.2 659 1144.2 660.5 1144.2C661.8 1144.2 663.2 1144.2 664.6 1144.2C667.4 1144.2 670.1 1155.9 672.9 1157.2C678.9 1160 684.9 1159.1 690.9 1161.7C693.9 1162.9 696.9 1167 699.9 1170.7C704.4 1176.2 708.9 1186.1 713.4 1193.1C716.3 1197.9 719.3 1202.3 722.3 1206.6C726.1 1212.1 729.8 1219.1 733.6 1222.4C736.6 1225 739.6 1228.2 742.6 1228.2C754.4 1228.2 766.1 1228.2 777.9 1228.2C778.4 1228.2 778.9 1228.2 779.4 1228.2" fill="none" stroke="#000" stroke-width="9" stroke-linejoin="round" stroke-linecap="butt"/>
</g>
<path d="M675.1 1228.2V1239M689.8 1228.2V1239M704.5 1228.2V1239M733.9 1228.2V1239M748.5 1228.2V1239M763.2 1228.2V1239M655 1207.2H644.2M655 1186.2H644.2M655 1165.2H644.2" stroke="#000" stroke-width="3" fill="none"/>
<path d="M660.5 1228.2V1246.6M719.2 1228.2V1246.6M777.9 1228.2V1246.6M655 1228.2H636.6M655 1144.2H636.6" stroke="#ff0000" stroke-width="4.8" fill="none"/>
<rect x="655" y="1144.2" width="128" height="84" fill="none" stroke="#ff0000" stroke-width="5.6"/>
</g>
<g>
<clipPath id="c8_3"><rect x="834.5" y="1144.2" width="128" height="84"/></clipPath>
<g clip-path="url(#c8_3)">
<path d="M844.1 1143.2C844.6 1144.6 845 1146.9 845.4 1147.3C848 1149.6 850.6 1150.1 853.2 1150.4C864.5 1151.9 875.7 1151 887 1152.7C890.7 1153.2 894.5 1162 898.2 1166.2C903.5 1171.9 908.7 1175.9 914 1181.9C918.5 1187.1 923 1193 927.5 1199.9C930.5 1204.5 933.5 1211.3 936.5 1215.6C939.5 1220 942.5 1223.2 945.5 1226.9C945.8 1227.3 946.2 1227.8 946.6 1228.2L946.6 1234.2L916.2 1234.2L916.2 1228.2C914 1224.8 911.7 1221.6 909.5 1217.9C905.7 1211.7 902 1203.1 898.2 1197.6C895.2 1193.3 892.2 1190.4 889.2 1186.4C885.5 1181.5 881.7 1173.2 878 1170.7C869.7 1165.1 861.5 1165.8 853.2 1160.5C850.6 1158.9 848 1158.1 845.4 1152.2C845 1151.3 844.6 1146.2 844.1 1143.2Z" fill="#1f77b4" fill-opacity="0.5" stroke="#1f77b4" stroke-opacity="0.5" stroke-width="4.4" stroke-linejoin="round"/>
<path d="M844.1 1143.2C844.6 1144.5 845 1146.3 845.4 1147C848 1150.9 850.6 1152.7 853.2 1153.3C864.5 1156 875.7 1154.5 887 1157.2C890.7 1158.1 894.5 1166.3 898.2 1170.7C903.5 1176.8 908.7 1181.6 914 1188.7C917.7 1193.7 921.5 1199.9 925.2 1206.6C928.2 1212 931.2 1221.5 934.2 1224.7C935.7 1226.3 937.2 1227.1 938.7 1228.2L938.7 1234.2L917.3 1234.2L917.3 1228.2C915.1 1224.8 912.8 1221.6 910.6 1217.9C906.8 1211.7 903.1 1203.1 899.3 1197.6C896 1192.8 892.6 1190 889.2 1185.3C885.5 1180 881.7 1169.2 878 1166.8C869.7 1161.7 861.5 1163.1 853.2 1158.3C850.6 1156.8 848 1155.1 845.4 1149.4C845 1148.5 844.6 1145.3 844.1 1143.2Z" fill="#fdd7af" fill-opacity="1" stroke="#d29150" stroke-opacity="0.53" stroke-width="4.4" stroke-linejoin="round"/>
<path d="M854.6 1144.2V1228.2M869.3 1144.2V1228.2M928 1144.2V1228.2" stroke="#b0b0b0" stroke-width="1.05" fill="none"/>
<path d="M834.5 1186.2H962.5M834.5 1207.2H962.5" stroke="#b0b0b0" stroke-width="1.15" fill="none"/>
<path d="M840 1144.2V1228.2M898.7 1144.2V1228.2M957.4 1144.2V1228.2" stroke="#ff0000" stroke-opacity="0.5" stroke-width="4.8" fill="none"/>
<path d="M835.5 1144.2C837 1144.2 838.5 1144.2 840 1144.2C841.3 1144.2 842.7 1144.2 844.1 1144.2C847.2 1144.2 850.2 1155.2 853.2 1156C858.5 1157.5 863.7 1157.1 869 1158.3C872 1159 875 1160.8 878 1162.8C881.7 1165.3 885.5 1171.2 889.2 1175.2C892.2 1178.3 895.2 1180.2 898.2 1184.2C901.2 1188.2 904.2 1196.5 907.2 1202.1C910.2 1207.7 913.2 1213.4 916.2 1217.9C918.5 1221.3 920.7 1226.1 923 1226.9C925.2 1227.7 927.5 1228.2 929.7 1228.2C938.9 1228.2 948.2 1228.2 957.4 1228.2C957.9 1228.2 958.4 1228.2 958.9 1228.2" fill="none" stroke="#000" stroke-width="9" stroke-linejoin="round" stroke-linecap="butt"/>
</g>
<path d="M854.6 1228.2V1239M869.3 1228.2V1239M884 1228.2V1239M913.4 1228.2V1239M928 1228.2V1239M942.7 1228.2V1239M834.5 1207.2H823.7M834.5 1186.2H823.7M834.5 1165.2H823.7" stroke="#000" stroke-width="3" fill="none"/>
<path d="M840 1228.2V1246.6M898.7 1228.2V1246.6M957.4 1228.2V1246.6M834.5 1228.2H816.1M834.5 1144.2H816.1" stroke="#ff0000" stroke-width="4.8" fill="none"/>
<rect x="834.5" y="1144.2" width="128" height="84" fill="none" stroke="#ff0000" stroke-width="5.6"/>
</g>
<g>
<clipPath id="c8_4"><rect x="1014" y="1144.2" width="128" height="84"/></clipPath>
<g clip-path="url(#c8_4)">
<path d="M1023.6 1143.2C1024.2 1144.4 1024.8 1146.6 1025.3 1146.8C1027.9 1147.8 1030.6 1147.9 1033.2 1148.2C1042.2 1149.2 1051.2 1149.1 1060.2 1150.4C1066 1151.3 1071.9 1157.3 1077.7 1159.4C1083.1 1161.3 1088.5 1161.4 1093.9 1163.9C1096.9 1165.3 1099.9 1169.1 1102.9 1172.9C1106.7 1177.7 1110.4 1185.6 1114.1 1193.1C1117.1 1199.2 1120.1 1208.6 1123.1 1213.4C1126.1 1218.2 1129.1 1221.8 1132.1 1224.6C1133.6 1226.1 1135.1 1227 1136.6 1228.2L1136.6 1234.2L1089.4 1234.2L1089.4 1228.2C1087.2 1224.8 1084.9 1221.6 1082.7 1217.9C1078.9 1211.7 1075.2 1204 1071.4 1197.6C1067.7 1191.3 1063.9 1185 1060.2 1179.7C1056.4 1174.3 1052.7 1166.9 1048.9 1165C1043.7 1162.5 1038.4 1163.1 1033.2 1160.5C1030.6 1159.2 1027.9 1157.2 1025.3 1151.5C1024.8 1150.3 1024.2 1146 1023.6 1143.2Z" fill="#1f77b4" fill-opacity="0.5" stroke="#1f77b4" stroke-opacity="0.5" stroke-width="4.4" stroke-linejoin="round"/>
<path d="M1023.6 1143.2C1024.2 1144.4 1024.8 1146.1 1025.3 1146.6C1027.9 1149.1 1030.6 1149.7 1033.2 1150.6C1042.2 1153.9 1051.2 1154.2 1060.2 1157.6C1066 1159.8 1071.9 1163.8 1077.7 1168.4C1083.1 1172.7 1088.5 1179.2 1093.9 1186.4C1097.7 1191.4 1101.4 1198 1105.2 1204.4C1108.9 1210.8 1112.6 1221.8 1116.4 1224.7C1118.6 1226.5 1120.9 1227.1 1123.1 1228.2L1123.1 1234.2L1093.9 1234.2L1093.9 1228.2C1090.2 1223.3 1086.4 1219.1 1082.7 1213.4C1078.9 1207.7 1075.2 1199.5 1071.4 1193.1C1067.7 1186.8 1063.9 1179.8 1060.2 1175.2C1056.4 1170.5 1052.7 1166.3 1048.9 1163.9C1043.7 1160.5 1038.4 1160.1 1033.2 1156.7C1030.6 1155 1027.9 1153.5 1025.3 1148.9C1024.8 1148 1024.2 1145.1 1023.6 1143.2Z" fill="#fdd7af" fill-opacity="1" stroke="#d29150" stroke-opacity="0.53" stroke-width="4.4" stroke-linejoin="round"/>
<path d="M1048.8 1144.2V1228.2M1063.5 1144.2V1228.2M1092.9 1144.2V1228.2M1107.5 1144.2V1228.2M1122.2 1144.2V1228.2" stroke="#b0b0b0" stroke-width="1.05" fill="none"/>
<path d="M1014 1186.2H1142M1014 1207.2H1142" stroke="#b0b0b0" stroke-width="1.15" fill="none"/>
<path d="M1019.5 1144.2V1228.2M1078.2 1144.2V1228.2M1136.9 1144.2V1228.2" stroke="#ff0000" stroke-opacity="0.5" stroke-width="4.8" fill="none"/>
<path d="M1015 1144.2C1016.5 1144.2 1018 1144.2 1019.5 1144.2C1020.8 1144.2 1022.2 1144.2 1023.6 1144.2C1026.8 1144.2 1030 1151.8 1033.2 1152.7C1038.4 1154 1043.7 1153.7 1048.9 1154.9C1052.7 1155.8 1056.4 1158.8 1060.2 1161.7C1066 1166.2 1071.9 1174.1 1077.7 1181.9C1081.6 1187.1 1085.5 1193.5 1089.4 1199.9C1092.4 1204.8 1095.4 1211.3 1098.4 1215.6C1101.4 1220 1104.4 1225.9 1107.4 1226.9C1109.7 1227.6 1111.9 1228.2 1114.1 1228.2C1121.7 1228.2 1129.3 1228.2 1136.9 1228.2C1137.4 1228.2 1137.9 1228.2 1138.4 1228.2" fill="none" stroke="#000" stroke-width="9" stroke-linejoin="round" stroke-linecap="butt"/>
</g>
<path d="M1034.1 1228.2V1239M1048.8 1228.2V1239M1063.5 1228.2V1239M1092.9 1228.2V1239M1107.5 1228.2V1239M1122.2 1228.2V1239M1014 1207.2H1003.2M1014 1186.2H1003.2M1014 1165.2H1003.2" stroke="#000" stroke-width="3" fill="none"/>
<path d="M1019.5 1228.2V1246.6M1078.2 1228.2V1246.6M1136.9 1228.2V1246.6M1014 1228.2H995.6M1014 1144.2H995.6" stroke="#ff0000" stroke-width="4.8" fill="none"/>
<rect x="1014" y="1144.2" width="128" height="84" fill="none" stroke="#ff0000" stroke-width="5.6"/>
</g>
<g>
<clipPath id="c8_5"><rect x="1193.5" y="1144.2" width="128" height="84"/></clipPath>
<g clip-path="url(#c8_5)">
<path d="M1203.1 1143.2C1203.8 1144.9 1204.5 1147.4 1205.2 1148.2C1207.1 1150.1 1209 1151.1 1210.9 1151.5C1219.9 1153.7 1228.9 1152.6 1237.9 1154.9C1240.9 1155.7 1243.9 1160.3 1246.9 1163.9C1250.3 1168.1 1253.7 1174.9 1257.2 1179.7C1262 1186.3 1266.8 1190.5 1271.6 1197.6C1275.3 1203.2 1279.1 1212.7 1282.8 1217.9C1285.8 1222.1 1288.8 1224.8 1291.8 1228.2L1291.8 1234.2L1264.8 1234.2L1264.8 1228.2C1261.8 1224.8 1258.8 1222.1 1255.8 1217.9C1252.8 1213.7 1249.9 1208.2 1246.9 1202.1C1244.6 1197.6 1242.4 1190.4 1240.1 1186.4C1236.4 1179.7 1232.6 1173 1228.9 1170.7C1222.9 1166.9 1216.9 1167.9 1210.9 1163.9C1209 1162.7 1207.1 1160.8 1205.2 1156C1204.5 1154.3 1203.8 1147.5 1203.1 1143.2Z" fill="#1f77b4" fill-opacity="0.5" stroke="#1f77b4" stroke-opacity="0.5" stroke-width="4.4" stroke-linejoin="round"/>
<path d="M1203.1 1143.2C1203.8 1144.9 1204.5 1147.1 1205.2 1148.3C1207.1 1151.3 1209 1154.1 1210.9 1154.5C1219.9 1156.2 1228.9 1155.1 1237.9 1156.7C1240.9 1157.3 1243.9 1162.4 1246.9 1166.2C1250.3 1170.4 1253.7 1177 1257.2 1181.9C1262 1188.7 1266.8 1193.3 1271.6 1201C1275.3 1207.1 1279.1 1219.5 1282.8 1223.6C1284.7 1225.7 1286.6 1226.7 1288.5 1228.2L1288.5 1234.2L1262.6 1234.2L1262.6 1228.2C1261.1 1225.5 1259.6 1223 1258.1 1220.1C1255.1 1214.5 1252.1 1208.1 1249.1 1202.1C1246.1 1196.1 1243.1 1188.9 1240.1 1184.2C1236.4 1178.2 1232.6 1172.3 1228.9 1169.5C1222.9 1165 1216.9 1164.6 1210.9 1160.5C1209 1159.3 1207.1 1158.7 1205.2 1155.4C1204.5 1154.1 1203.8 1147.3 1203.1 1143.2Z" fill="#fdd7af" fill-opacity="1" stroke="#d29150" stroke-opacity="0.53" stroke-width="4.4" stroke-linejoin="round"/>
<path d="M1213.6 1144.2V1228.2M1243 1144.2V1228.2M1272.4 1144.2V1228.2M1287 1144.2V1228.2" stroke="#b0b0b0" stroke-width="1.05" fill="none"/>
<path d="M1193.5 1186.2H1321.5M1193.5 1207.2H1321.5" stroke="#b0b0b0" stroke-width="1.15" fill="none"/>
<path d="M1199 1144.2V1228.2M1257.7 1144.2V1228.2M1316.4 1144.2V1228.2" stroke="#ff0000" stroke-opacity="0.5" stroke-width="4.8" fill="none"/>
<path d="M1194.5 1144.2C1196 1144.2 1197.5 1144.2 1199 1144.2C1200.3 1144.2 1201.7 1144.2 1203.1 1144.2C1205.7 1144.2 1208.3 1156.5 1210.9 1157.2C1216.9 1158.7 1222.9 1158.1 1228.9 1159.4C1231.9 1160.1 1234.9 1161.8 1237.9 1163.9C1240.9 1166.1 1243.9 1170.2 1246.9 1175.2C1249.1 1178.9 1251.4 1187.2 1253.6 1190.9C1256.6 1195.9 1259.6 1197.8 1262.6 1202.1C1265.6 1206.5 1268.6 1214.1 1271.6 1217.9C1274.6 1221.7 1277.6 1226.1 1280.6 1226.9C1283.6 1227.7 1286.6 1228.2 1289.6 1228.2C1298.5 1228.2 1307.5 1228.2 1316.4 1228.2C1316.9 1228.2 1317.4 1228.2 1317.9 1228.2" fill="none" stroke="#000" stroke-width="9" stroke-linejoin="round" stroke-linecap="butt"/>
</g>
<path d="M1213.6 1228.2V1239M1228.3 1228.2V1239M1243 1228.2V1239M1272.4 1228.2V1239M1287 1228.2V1239M1301.7 1228.2V1239M1193.5 1207.2H1182.7M1193.5 1186.2H1182.7M1193.5 1165.2H1182.7" stroke="#000" stroke-width="3" fill="none"/>
<path d="M1199 1228.2V1246.6M1257.7 1228.2V1246.6M1316.4 1228.2V1246.6M1193.5 1228.2H1175.1M1193.5 1144.2H1175.1" stroke="#ff0000" stroke-width="4.8" fill="none"/>
<rect x="1193.5" y="1144.2" width="128" height="84" fill="none" stroke="#ff0000" stroke-width="5.6"/>
</g>
<g>
<clipPath id="c8_6"><rect x="1373" y="1144.2" width="128" height="84"/></clipPath>
<g clip-path="url(#c8_6)">
<path d="M1382.6 1143.2C1383.2 1144.7 1383.8 1147.5 1384.4 1147.7C1387 1148.9 1389.6 1148.9 1392.2 1149.3C1401.2 1150.7 1410.2 1150.8 1419.2 1152.7C1425.1 1153.9 1430.9 1158.5 1436.8 1161.7C1442.2 1164.5 1447.6 1167 1453 1170.7C1457.5 1173.7 1462 1177.5 1466.5 1181.9C1471 1186.3 1475.5 1191.7 1480 1197.6C1483 1201.6 1486 1206.4 1489 1211.1C1491.2 1214.7 1493.5 1218.6 1495.7 1222.4L1495.9 1234.2L1458.6 1234.2L1458.6 1228.2C1458.2 1227.8 1457.8 1227.3 1457.5 1226.9C1454.5 1223.2 1451.5 1219.8 1448.5 1215.6C1444.6 1210.3 1440.7 1202.9 1436.8 1197.6C1432.4 1191.8 1428.1 1188.2 1423.7 1181.9C1420.7 1177.6 1417.7 1167.9 1414.7 1166.2C1407.2 1161.9 1399.7 1162.9 1392.2 1159.4C1389.6 1158.2 1387 1157.5 1384.4 1153.1C1383.8 1152.2 1383.2 1146.5 1382.6 1143.2Z" fill="#1f77b4" fill-opacity="0.5" stroke="#1f77b4" stroke-opacity="0.5" stroke-width="4.4" stroke-linejoin="round"/>
<path d="M1382.6 1143.2C1383.2 1144.6 1383.8 1146.7 1384.4 1147.4C1387 1150.3 1389.6 1151.5 1392.2 1152.2C1401.2 1154.7 1410.2 1154.3 1419.2 1156.4C1425.1 1157.8 1430.9 1161.1 1436.8 1163.9C1442.2 1166.5 1447.6 1169 1453 1172.9C1457.5 1176.1 1462 1181.6 1466.5 1186.4C1471 1191.2 1475.5 1196.4 1480 1202.1C1483.7 1206.9 1487.5 1211.8 1491.2 1217.9C1492.7 1220.3 1494.2 1223.3 1495.7 1226.1L1495.9 1234.2L1460.8 1234.2L1460.8 1228.2C1460.5 1227.8 1460.1 1227.4 1459.7 1226.9C1456.7 1223 1453.7 1217.8 1450.7 1213.4C1446.1 1206.5 1441.4 1199.3 1436.8 1193.1C1432.4 1187.4 1428.1 1183.7 1423.7 1177.4C1420.7 1173.1 1417.7 1163.1 1414.7 1161.8C1407.2 1158.7 1399.7 1160 1392.2 1157.2C1389.6 1156.2 1387 1154.5 1384.4 1150.1C1383.8 1149.1 1383.2 1145.5 1382.6 1143.2Z" fill="#fdd7af" fill-opacity="1" stroke="#d29150" stroke-opacity="0.53" stroke-width="4.4" stroke-linejoin="round"/>
<path d="M1382.6 1143.2C1400.7 1150.9 1418.7 1156.7 1436.8 1166.2C1442.2 1169 1447.6 1172 1453 1176.3C1457.5 1179.9 1462 1185.8 1466.5 1190.9C1471 1196 1475.5 1201.1 1480 1206.6C1483.7 1211.3 1487.5 1216.5 1491.2 1221.3C1492.7 1223.2 1494.2 1225 1495.7 1226.9L1495.7 1234.2L1484.5 1234.2L1484.5 1228.2C1479.2 1224.4 1474 1222.1 1468.7 1216.8C1464.2 1212.2 1459.7 1200.5 1455.2 1194.3C1449.1 1185.8 1442.9 1177.8 1436.8 1172.9C1418.7 1158.6 1400.7 1153.1 1382.6 1143.2Z" fill="#d0e8ee" fill-opacity="1" stroke="#b4aa96" stroke-opacity="0.5" stroke-width="4.4" stroke-linejoin="round"/>
<path d="M1393.1 1144.2V1228.2M1407.8 1144.2V1228.2M1422.5 1144.2V1228.2M1466.5 1144.2V1228.2M1481.2 1144.2V1228.2" stroke="#b0b0b0" stroke-width="1.05" fill="none"/>
<path d="M1373 1186.2H1501M1373 1207.2H1501" stroke="#b0b0b0" stroke-width="1.15" fill="none"/>
<path d="M1378.5 1144.2V1228.2M1437.2 1144.2V1228.2M1495.9 1144.2V1228.2" stroke="#ff0000" stroke-opacity="0.5" stroke-width="4.8" fill="none"/>
<path d="M1374 1144.2C1375.5 1144.2 1377 1144.2 1378.5 1144.2C1379.8 1144.2 1381.2 1144.2 1382.6 1144.2C1385.8 1144.2 1389 1154.4 1392.2 1154.9C1397.5 1155.7 1402.7 1155.4 1408 1156C1411.7 1156.5 1415.5 1157.8 1419.2 1159.4C1422.2 1160.7 1425.2 1164.1 1428.2 1166.2C1431.1 1168.2 1433.9 1169.5 1436.8 1171.8C1440.7 1174.9 1444.6 1179.5 1448.5 1184.2C1450.7 1186.8 1453 1189.2 1455.2 1193.1C1456.7 1195.8 1458.2 1201.8 1459.7 1204.4C1462.7 1209.6 1465.7 1211.8 1468.7 1215.6C1471 1218.5 1473.2 1223.2 1475.5 1224.6C1478.5 1226.5 1481.5 1228.2 1484.5 1228.2C1488.3 1228.2 1492.1 1228.2 1495.9 1228.2C1496.4 1228.2 1496.9 1228.2 1497.4 1228.2" fill="none" stroke="#000" stroke-width="9" stroke-linejoin="round" stroke-linecap="butt"/>
</g>
<path d="M1393.1 1228.2V1239M1407.8 1228.2V1239M1422.5 1228.2V1239M1451.9 1228.2V1239M1466.5 1228.2V1239M1481.2 1228.2V1239M1373 1207.2H1362.2M1373 1186.2H1362.2M1373 1165.2H1362.2" stroke="#000" stroke-width="3" fill="none"/>
<path d="M1378.5 1228.2V1246.6M1437.2 1228.2V1246.6M1495.9 1228.2V1246.6M1373 1228.2H1354.6M1373 1144.2H1354.6" stroke="#ff0000" stroke-width="4.8" fill="none"/>
<rect x="1373" y="1144.2" width="128" height="84" fill="none" stroke="#ff0000" stroke-width="5.6"/>
</g>
<g>
<clipPath id="c8_7"><rect x="1552.5" y="1144.2" width="128" height="84"/></clipPath>
<g clip-path="url(#c8_7)">
<path d="M1562.1 1143.2C1562.9 1144.9 1563.6 1147.6 1564.3 1148.2C1566.2 1149.6 1568.1 1149.9 1569.9 1150.4C1580.4 1153.3 1590.9 1152.9 1601.4 1156C1606.4 1157.6 1611.5 1162.2 1616.5 1166.2C1619 1168.1 1621.4 1169.8 1623.9 1172.9C1626.9 1176.6 1629.9 1185.8 1632.9 1190.9C1635.9 1196 1638.9 1199.9 1641.9 1204.4C1644.9 1208.9 1647.9 1214 1650.9 1217.9C1653.9 1221.8 1656.9 1224.8 1659.9 1228.2L1659.9 1234.2L1632.9 1234.2L1632.9 1228.2C1629.9 1224 1626.9 1221 1623.9 1215.6C1621.4 1211.2 1619 1201.4 1616.5 1197.6C1613 1192.3 1609.4 1191.3 1605.9 1186.4C1602.9 1182.2 1599.9 1169.9 1596.9 1168.4C1587.9 1163.8 1578.9 1166 1569.9 1161.7C1568.1 1160.8 1566.2 1159 1564.3 1154.9C1563.6 1153.4 1562.9 1147.1 1562.1 1143.2Z" fill="#1f77b4" fill-opacity="0.5" stroke="#1f77b4" stroke-opacity="0.5" stroke-width="4.4" stroke-linejoin="round"/>
<path d="M1562.1 1143.2C1562.9 1144.9 1563.6 1147.2 1564.3 1148.3C1566.2 1151.1 1568.1 1153.2 1569.9 1153.9C1580.4 1158 1590.9 1156.9 1601.4 1160.1C1606.4 1161.7 1611.5 1164.8 1616.5 1168.4C1619 1170.2 1621.4 1172.4 1623.9 1175.6C1626.9 1179.4 1629.9 1188 1632.9 1193.1C1635.9 1198.3 1638.9 1202.5 1641.9 1207.1C1644.9 1211.7 1647.9 1216.3 1650.9 1220.6C1652.8 1223.3 1654.6 1225.7 1656.5 1228.2L1656.5 1234.2L1635.2 1234.2L1635.2 1228.2C1631.8 1224 1628.4 1221.2 1625 1215.6C1622.2 1211 1619.3 1199.6 1616.5 1195.4C1613 1190.2 1609.4 1189.3 1605.9 1184.2C1602.9 1179.8 1599.9 1165.6 1596.9 1164.4C1587.9 1160.8 1578.9 1162.8 1569.9 1159.3C1568.1 1158.6 1566.2 1155.9 1564.3 1151.8C1563.6 1150.2 1562.9 1146.1 1562.1 1143.2Z" fill="#fdd7af" fill-opacity="1" stroke="#d29150" stroke-opacity="0.53" stroke-width="4.4" stroke-linejoin="round"/>
<path d="M1572.6 1144.2V1228.2M1587.3 1144.2V1228.2M1631.4 1144.2V1228.2M1660.7 1144.2V1228.2" stroke="#b0b0b0" stroke-width="1.05" fill="none"/>
<path d="M1552.5 1186.2H1680.5M1552.5 1207.2H1680.5" stroke="#b0b0b0" stroke-width="1.15" fill="none"/>
<path d="M1558 1144.2V1228.2M1616.7 1144.2V1228.2M1675.4 1144.2V1228.2" stroke="#ff0000" stroke-opacity="0.5" stroke-width="4.8" fill="none"/>
<path d="M1553.5 1144.2C1555 1144.2 1556.5 1144.2 1558 1144.2C1559.3 1144.2 1560.7 1144.2 1562.1 1144.2C1564.7 1144.2 1567.3 1156.5 1569.9 1157.2C1575.9 1158.7 1581.9 1158.7 1587.9 1159.4C1591.7 1159.8 1595.4 1159.8 1599.2 1160.5C1601.4 1161 1603.7 1167.5 1605.9 1170.7C1608.2 1173.8 1610.4 1177.1 1612.7 1179.7C1615.7 1183.1 1618.7 1184.4 1621.7 1188.7C1623.9 1191.9 1626.2 1200.2 1628.4 1204.4C1631.4 1209.9 1634.4 1213.7 1637.4 1217.9C1639.7 1221.1 1641.9 1226.3 1644.2 1226.9C1647.2 1227.7 1650.1 1228.2 1653.1 1228.2C1660.6 1228.2 1668 1228.2 1675.4 1228.2C1675.9 1228.2 1676.4 1228.2 1676.9 1228.2" fill="none" stroke="#000" stroke-width="9" stroke-linejoin="round" stroke-linecap="butt"/>
</g>
<path d="M1572.6 1228.2V1239M1587.3 1228.2V1239M1602 1228.2V1239M1631.4 1228.2V1239M1646 1228.2V1239M1660.7 1228.2V1239M1552.5 1207.2H1541.7M1552.5 1186.2H1541.7M1552.5 1165.2H1541.7" stroke="#000" stroke-width="3" fill="none"/>
<path d="M1558 1228.2V1246.6M1616.7 1228.2V1246.6M1675.4 1228.2V1246.6M1552.5 1228.2H1534.1M1552.5 1144.2H1534.1" stroke="#ff0000" stroke-width="4.8" fill="none"/>
<rect x="1552.5" y="1144.2" width="128" height="84" fill="none" stroke="#ff0000" stroke-width="5.6"/>
</g>
<g>
<clipPath id="c8_8"><rect x="1732" y="1144.2" width="128" height="84"/></clipPath>
<g clip-path="url(#c8_8)">
<path d="M1741.6 1143.2C1742.5 1144.9 1743.4 1147.5 1744.2 1148.2C1746.1 1149.5 1748 1150 1749.9 1150.4C1760.4 1152.5 1770.9 1151.6 1781.4 1153.8C1786.2 1154.8 1791 1162.7 1795.7 1166.2C1800.7 1169.7 1805.6 1171.4 1810.6 1175.2C1815.1 1178.6 1819.6 1182.5 1824.1 1188.7C1827.1 1192.7 1830.1 1201.5 1833.1 1206.6C1836.1 1211.8 1839.1 1216.8 1842.1 1220.1C1845.1 1223.5 1848.1 1225.5 1851.1 1228.2L1851.1 1234.2L1812.8 1234.2L1812.8 1228.2C1810.6 1226.3 1808.3 1224.5 1806.1 1222.4C1802.6 1219.1 1799.2 1216 1795.7 1211.1C1792.4 1206.4 1789.2 1197.6 1785.9 1190.9C1782.9 1184.8 1779.9 1174.9 1776.9 1172.9C1767.9 1167.1 1758.9 1169.5 1749.9 1163.9C1748 1162.7 1746.1 1160.4 1744.2 1156C1743.4 1154 1742.5 1147.5 1741.6 1143.2Z" fill="#1f77b4" fill-opacity="0.5" stroke="#1f77b4" stroke-opacity="0.5" stroke-width="4.4" stroke-linejoin="round"/>
<path d="M1741.6 1143.2C1742.5 1144.9 1743.4 1147.2 1744.2 1148.3C1746.1 1150.8 1748 1152.8 1749.9 1153.3C1760.4 1156.6 1770.9 1155.1 1781.4 1158.1C1786.2 1159.4 1791 1167.7 1795.7 1170.6C1800.7 1173.6 1805.6 1174.1 1810.6 1177.4C1815.1 1180.4 1819.6 1186.4 1824.1 1193.1C1827.1 1197.6 1830.1 1205.7 1833.1 1211.1C1836.1 1216.6 1839.1 1223.5 1842.1 1226.1C1843.2 1227 1844.3 1227.5 1845.5 1228.2L1845.5 1234.2L1815.1 1234.2L1815.1 1228.2C1812.1 1224.8 1809.1 1221.8 1806.1 1217.9C1802.6 1213.4 1799.2 1208.2 1795.7 1202.1C1792.4 1196.4 1789.2 1187 1785.9 1181.9C1782.9 1177.3 1779.9 1172.6 1776.9 1170.7C1767.9 1164.8 1758.9 1165.3 1749.9 1160.1C1748 1159 1746.1 1158.3 1744.2 1155.4C1743.4 1154 1742.5 1147.3 1741.6 1143.2Z" fill="#fdd7af" fill-opacity="1" stroke="#d29150" stroke-opacity="0.53" stroke-width="4.4" stroke-linejoin="round"/>
<path d="M1752.1 1144.2V1228.2M1781.5 1144.2V1228.2M1810.9 1144.2V1228.2M1825.5 1144.2V1228.2" stroke="#b0b0b0" stroke-width="1.05" fill="none"/>
<path d="M1732 1186.2H1860M1732 1207.2H1860" stroke="#b0b0b0" stroke-width="1.15" fill="none"/>
<path d="M1737.5 1144.2V1228.2M1796.2 1144.2V1228.2M1854.9 1144.2V1228.2" stroke="#ff0000" stroke-opacity="0.5" stroke-width="4.8" fill="none"/>
<path d="M1733 1144.2C1734.5 1144.2 1736 1144.2 1737.5 1144.2C1738.8 1144.2 1740.2 1144.2 1741.6 1144.2C1744.4 1144.2 1747.1 1155.3 1749.9 1156C1755.9 1157.6 1761.9 1157.3 1767.9 1158.3C1773.1 1159.1 1778.4 1159.5 1783.6 1161.7C1785.9 1162.6 1788.1 1168.7 1790.4 1170.7C1794.1 1173.9 1797.8 1173.6 1801.6 1177.4C1803.8 1179.7 1806.1 1189.3 1808.3 1193.1C1810.6 1197 1812.8 1198.5 1815.1 1202.1C1817.3 1205.7 1819.6 1212.6 1821.8 1215.6C1824.8 1219.7 1827.8 1222.9 1830.8 1224.6C1833.8 1226.3 1836.8 1228.2 1839.8 1228.2C1844.9 1228.2 1849.9 1228.2 1854.9 1228.2C1855.4 1228.2 1855.9 1228.2 1856.4 1228.2" fill="none" stroke="#000" stroke-width="9" stroke-linejoin="round" stroke-linecap="butt"/>
</g>
<path d="M1752.1 1228.2V1239M1766.8 1228.2V1239M1781.5 1228.2V1239M1810.9 1228.2V1239M1825.5 1228.2V1239M1840.2 1228.2V1239M1732 1207.2H1721.2M1732 1186.2H1721.2M1732 1165.2H1721.2" stroke="#000" stroke-width="3" fill="none"/>
<path d="M1737.5 1228.2V1246.6M1796.2 1228.2V1246.6M1854.9 1228.2V1246.6M1732 1228.2H1713.6M1732 1144.2H1713.6" stroke="#ff0000" stroke-width="4.8" fill="none"/>
<rect x="1732" y="1144.2" width="128" height="84" fill="none" stroke="#ff0000" stroke-width="5.6"/>
</g>
<g>
<clipPath id="c8_9"><rect x="1911.5" y="1144.2" width="128" height="84"/></clipPath>
<g clip-path="url(#c8_9)">
<path d="M1921.1 1143.2C1921.7 1144.7 1922.3 1147.2 1922.9 1147.7C1924.7 1149.4 1926.6 1149.9 1928.5 1150.4C1940.5 1153.6 1952.5 1152.2 1964.5 1156C1968.1 1157.2 1971.7 1166.3 1975.3 1168.4C1979.2 1170.7 1983.1 1170.3 1987 1172.9C1990 1174.9 1993 1187.2 1996 1193.1C1999 1199.1 2002 1205.1 2004.9 1208.9C2007.9 1212.7 2010.9 1214.2 2013.9 1217.9C2016.2 1220.6 2018.4 1224.8 2020.7 1228.2L2020.7 1234.2L1991.5 1234.2L1991.5 1228.2C1988.5 1224.8 1985.5 1221.9 1982.5 1217.9C1980.1 1214.7 1977.7 1212.5 1975.3 1206.6C1973.9 1203.4 1972.6 1192.6 1971.2 1188.7C1968.2 1180 1965.2 1172.6 1962.2 1170.7C1957 1167.3 1951.7 1166.6 1946.5 1165C1940.5 1163.3 1934.5 1163.3 1928.5 1160.5C1926.6 1159.7 1924.7 1158.4 1922.9 1154.5C1922.3 1153.3 1921.7 1147 1921.1 1143.2Z" fill="#1f77b4" fill-opacity="0.5" stroke="#1f77b4" stroke-opacity="0.5" stroke-width="4.4" stroke-linejoin="round"/>
<path d="M1921.1 1143.2C1921.7 1144.7 1922.3 1146.7 1922.9 1147.6C1924.7 1150.4 1926.6 1152.4 1928.5 1153C1940.5 1157.3 1952.5 1155.1 1964.5 1159.2C1968.1 1160.5 1971.7 1168.5 1975.3 1170.7C1979.2 1173 1983.1 1172.8 1987 1175.6C1990 1177.8 1993 1189.5 1996 1195.4C1999 1201.3 2002 1207.1 2004.9 1211.6C2007.9 1216.1 2010.9 1219.6 2013.9 1223.2C2015.4 1225 2016.9 1226.5 2018.4 1228.2L2018.4 1234.2L1989.2 1234.2L1989.2 1228.2C1987 1223.3 1984.7 1217.5 1982.5 1213.4C1980.1 1209 1977.7 1206.8 1975.3 1202.1C1972.4 1196.6 1969.6 1186.9 1966.7 1179.7C1965.2 1175.8 1963.7 1169.8 1962.2 1168.4C1957 1163.6 1951.7 1162.4 1946.5 1160.9C1940.5 1159.3 1934.5 1159.5 1928.5 1157.6C1926.6 1157 1924.7 1156.5 1922.9 1153.8C1922.3 1153 1921.7 1146.7 1921.1 1143.2Z" fill="#fdd7af" fill-opacity="1" stroke="#d29150" stroke-opacity="0.53" stroke-width="4.4" stroke-linejoin="round"/>
<path d="M1931.6 1144.2V1228.2M1946.3 1144.2V1228.2M1990.4 1144.2V1228.2M2019.7 1144.2V1228.2" stroke="#b0b0b0" stroke-width="1.05" fill="none"/>
<path d="M1911.5 1186.2H2039.5M1911.5 1207.2H2039.5" stroke="#b0b0b0" stroke-width="1.15" fill="none"/>
<path d="M1917 1144.2V1228.2M1975.7 1144.2V1228.2M2034.4 1144.2V1228.2" stroke="#ff0000" stroke-opacity="0.5" stroke-width="4.8" fill="none"/>
<path d="M1912.5 1144.2C1914 1144.2 1915.5 1144.2 1917 1144.2C1918.3 1144.2 1919.7 1144.2 1921.1 1144.2C1923.6 1144.2 1926 1154.3 1928.5 1154.9C1934.5 1156.5 1940.5 1156.2 1946.5 1157.2C1952.5 1158.2 1958.5 1158.7 1964.5 1161.7C1966.7 1162.8 1969 1169.6 1971.2 1172.9C1973.5 1176.2 1975.7 1179.6 1978 1181.9C1981.7 1185.7 1985.5 1185.5 1989.2 1190.9C1990.7 1193 1992.2 1202.3 1993.7 1206.6C1995.2 1211 1996.7 1215.7 1998.2 1217.9C2000.5 1221.2 2002.7 1223.6 2004.9 1224.6C2009.4 1226.7 2013.9 1228.2 2018.4 1228.2C2023.8 1228.2 2029.1 1228.2 2034.4 1228.2C2034.9 1228.2 2035.4 1228.2 2035.9 1228.2" fill="none" stroke="#000" stroke-width="9" stroke-linejoin="round" stroke-linecap="butt"/>
</g>
<path d="M1931.6 1228.2V1239M1946.3 1228.2V1239M1961 1228.2V1239M1990.4 1228.2V1239M2005 1228.2V1239M2019.7 1228.2V1239M1911.5 1207.2H1900.7M1911.5 1186.2H1900.7M1911.5 1165.2H1900.7" stroke="#000" stroke-width="3" fill="none"/>
<path d="M1917 1228.2V1246.6M1975.7 1228.2V1246.6M2034.4 1228.2V1246.6M1911.5 1228.2H1893.1M1911.5 1144.2H1893.1" stroke="#ff0000" stroke-width="4.8" fill="none"/>
<rect x="1911.5" y="1144.2" width="128" height="84" fill="none" stroke="#ff0000" stroke-width="5.6"/>
</g>
<g>
<clipPath id="c8_10"><rect x="2091" y="1144.2" width="128" height="84"/></clipPath>
<g clip-path="url(#c8_10)">
<path d="M2100.6 1143.2C2101.4 1144.7 2102.1 1147.3 2102.8 1147.7C2104.7 1148.8 2106.5 1149.1 2108.4 1149.3C2120.4 1150.7 2132.4 1150.1 2144.4 1151.5C2147.8 1151.9 2151.1 1153.1 2154.5 1154.9C2156.4 1155.9 2158.3 1161.1 2160.1 1161.7C2165.4 1163.2 2170.6 1162.5 2175.9 1163.9C2178.9 1164.7 2181.9 1171.4 2184.9 1172.9C2189.4 1175.2 2193.9 1174.7 2198.4 1177.4C2201.4 1179.2 2204.4 1188.9 2207.4 1197.6C2209.5 1203.8 2211.6 1214.1 2213.7 1222.4L2213.9 1234.2L2166.9 1234.2L2166.9 1228.2C2164.6 1225.5 2162.4 1224 2160.1 1220.1C2158.3 1217 2156.4 1209.6 2154.5 1204.4C2152.6 1199.1 2150.8 1190.4 2148.9 1188.7C2144.4 1184.4 2139.9 1185.4 2135.4 1181.9C2132.4 1179.6 2129.4 1170.3 2126.4 1168.4C2120.4 1164.6 2114.4 1165.4 2108.4 1161.7C2106.5 1160.5 2104.7 1159 2102.8 1154.9C2102.1 1153.4 2101.4 1147.1 2100.6 1143.2Z" fill="#1f77b4" fill-opacity="0.5" stroke="#1f77b4" stroke-opacity="0.5" stroke-width="4.4" stroke-linejoin="round"/>
<path d="M2100.6 1143.2C2101.4 1144.8 2102.1 1147 2102.8 1147.9C2104.7 1150.3 2106.5 1152.4 2108.4 1152.7C2120.4 1154.4 2132.4 1153.1 2144.4 1154.9C2147.8 1155.4 2151.1 1171.5 2154.5 1175.2C2158.6 1179.6 2162.8 1181.1 2166.9 1184.2C2169.9 1186.4 2172.9 1187.6 2175.9 1190.9C2178.9 1194.2 2181.9 1207.1 2184.9 1208.9C2189.4 1211.6 2193.9 1211.3 2198.4 1213.4C2201.4 1214.8 2204.4 1217.5 2207.4 1220.1C2209.5 1222 2211.6 1224.6 2213.7 1226.9L2213.7 1234.2L2169.1 1234.2L2169.1 1228.2C2166.5 1225.5 2163.9 1224.1 2161.3 1220.1C2159 1216.8 2156.8 1208.3 2154.5 1202.1C2152.6 1197 2150.8 1188.1 2148.9 1186.4C2144.4 1182.4 2139.9 1183.4 2135.4 1180.1C2132.4 1177.9 2129.4 1168.7 2126.4 1166.6C2120.4 1162.3 2114.4 1163.1 2108.4 1158.9C2106.5 1157.5 2104.7 1155.6 2102.8 1151.7C2102.1 1150.2 2101.4 1146 2100.6 1143.2Z" fill="#fdd7af" fill-opacity="1" stroke="#d29150" stroke-opacity="0.53" stroke-width="4.4" stroke-linejoin="round"/>
<path d="M2100.6 1143.2C2109.2 1148.2 2117.8 1154.8 2126.4 1158.3C2132.4 1160.7 2138.4 1160.6 2144.4 1163.9C2147.8 1165.8 2151.1 1174.1 2154.5 1178.5C2158.6 1183.9 2162.8 1188.1 2166.9 1193.1C2169.9 1196.8 2172.9 1200.3 2175.9 1204.4C2178.9 1208.5 2181.9 1213.3 2184.9 1217.9C2187.1 1221.3 2189.4 1224.8 2191.6 1228.2L2191.6 1234.2L2180.4 1234.2L2180.4 1228.2C2175.1 1222.9 2169.9 1220.1 2164.6 1212.3C2160.9 1206.7 2157.1 1188.4 2153.4 1183C2150.4 1178.8 2147.4 1176.6 2144.4 1174C2138.4 1168.8 2132.4 1164.8 2126.4 1160.5C2117.8 1154.4 2109.2 1149 2100.6 1143.2Z" fill="#d0e8ee" fill-opacity="1" stroke="#b4aa96" stroke-opacity="0.5" stroke-width="4.4" stroke-linejoin="round"/>
<path d="M2125.8 1144.2V1228.2M2140.5 1144.2V1228.2M2169.9 1144.2V1228.2M2184.5 1144.2V1228.2" stroke="#b0b0b0" stroke-width="1.05" fill="none"/>
<path d="M2091 1186.2H2219M2091 1207.2H2219" stroke="#b0b0b0" stroke-width="1.15" fill="none"/>
<path d="M2096.4 1144.2V1228.2M2155.2 1144.2V1228.2M2213.9 1144.2V1228.2" stroke="#ff0000" stroke-opacity="0.5" stroke-width="4.8" fill="none"/>
<path d="M2091.9 1144.2C2093.4 1144.2 2094.9 1144.2 2096.4 1144.2C2097.8 1144.2 2099.2 1144.2 2100.6 1144.2C2103.2 1144.2 2105.8 1155.1 2108.4 1156C2114.4 1158.3 2120.4 1157.2 2126.4 1159.4C2128.7 1160.2 2130.9 1167 2133.2 1168.4C2136.9 1170.8 2140.7 1170.7 2144.4 1172.9C2147.4 1174.6 2150.4 1177.4 2153.4 1181.9C2155.6 1185.2 2157.9 1194.1 2160.1 1199.9C2161.6 1203.8 2163.1 1209.3 2164.6 1211.1C2167.6 1214.8 2170.6 1215 2173.6 1217.9C2175.9 1220.1 2178.1 1226.1 2180.4 1226.9C2182.6 1227.7 2184.9 1228.2 2187.1 1228.2C2196.1 1228.2 2205 1228.2 2213.9 1228.2C2214.4 1228.2 2214.9 1228.2 2215.4 1228.2" fill="none" stroke="#000" stroke-width="9" stroke-linejoin="round" stroke-linecap="butt"/>
</g>
<path d="M2111.1 1228.2V1239M2125.8 1228.2V1239M2140.5 1228.2V1239M2169.9 1228.2V1239M2184.5 1228.2V1239M2199.2 1228.2V1239M2091 1207.2H2080.2M2091 1186.2H2080.2M2091 1165.2H2080.2" stroke="#000" stroke-width="3" fill="none"/>
<path d="M2096.4 1228.2V1246.6M2155.2 1228.2V1246.6M2213.9 1228.2V1246.6M2091 1228.2H2072.6M2091 1144.2H2072.6" stroke="#ff0000" stroke-width="4.8" fill="none"/>
<rect x="2091" y="1144.2" width="128" height="84" fill="none" stroke="#ff0000" stroke-width="5.6"/>
</g>
<g>
<clipPath id="c9_0"><rect x="296" y="1262.1" width="128" height="84"/></clipPath>
<g clip-path="url(#c9_0)">
<path d="M305.6 1261.1C306.6 1262.2 307.5 1264.2 308.5 1264.6C312.2 1266.1 316 1265.8 319.7 1266.9C325 1268.3 330.2 1271.5 335.5 1274.7C339.2 1277.1 343 1280 346.7 1283.7C351.2 1288.2 355.6 1294.6 360 1301.7C363.1 1306.7 366.1 1313.6 369.2 1319.7C371.5 1324.2 373.7 1329.4 376 1333.2C378.2 1337.1 380.5 1338.9 382.7 1343.3C383.1 1344.1 383.5 1345.1 383.8 1346L383.8 1352.1L350.1 1352.1L350.1 1346C349.7 1344.8 349.4 1343.2 349 1342.2C346.7 1336.2 344.5 1333.9 342.2 1328.7C340 1323.6 337.7 1316.2 335.5 1310.7C332.5 1303.4 329.5 1295.2 326.5 1290.5C322 1283.4 317.5 1279.5 313 1274.7C311.5 1273.1 310 1272.6 308.5 1270.2C307.5 1268.7 306.6 1264.1 305.6 1261.1Z" fill="#1f77b4" fill-opacity="0.5" stroke="#1f77b4" stroke-opacity="0.5" stroke-width="4.4" stroke-linejoin="round"/>
<path d="M305.6 1261.1C306.6 1262.8 307.5 1265.7 308.5 1266.4C312.2 1269.1 316 1269 319.7 1270.6C325 1272.9 330.2 1275.5 335.5 1279.2C339.2 1281.9 343 1285.8 346.7 1290.5C351.2 1296 355.6 1303.7 360 1313C362.3 1317.8 364.6 1325.4 367 1331C368.8 1335.5 370.7 1339.8 372.6 1343.7C373 1344.5 373.3 1345.3 373.7 1346L373.7 1352.1L351.2 1352.1L351.2 1346C350.9 1345.1 350.5 1344.2 350.1 1343.3C347.5 1337.3 344.9 1332.7 342.2 1326.5C340 1321.1 337.7 1314.3 335.5 1308.5C332.5 1300.7 329.5 1290 326.5 1285.5C322.4 1279.4 318.2 1276.2 314.1 1272.9C312.2 1271.4 310.4 1271.3 308.5 1269.1C307.5 1268 306.6 1263.7 305.6 1261.1Z" fill="#fdd7af" fill-opacity="1" stroke="#d29150" stroke-opacity="0.53" stroke-width="4.4" stroke-linejoin="round"/>
<path d="M316.1 1262.1V1346.1M345.5 1262.1V1346.1M389.5 1262.1V1346.1" stroke="#b0b0b0" stroke-width="1.05" fill="none"/>
<path d="M296 1283.1H424M296 1304.1H424M296 1325.1H424" stroke="#b0b0b0" stroke-width="1.15" fill="none"/>
<path d="M301.4 1262.1V1346.1M360.2 1262.1V1346.1M418.9 1262.1V1346.1" stroke="#ff0000" stroke-opacity="0.5" stroke-width="4.8" fill="none"/>
<path d="M296.9 1262.1C298.4 1262.1 299.9 1262.1 301.4 1262.1C302.8 1262.1 304.2 1262.1 305.6 1262.1C306.6 1262.1 307.5 1267.3 308.5 1268C311.5 1270.2 314.5 1269.7 317.5 1271.4C320.5 1273.1 323.5 1277.6 326.5 1281.5C329.5 1285.3 332.5 1290.1 335.5 1295C338.5 1299.8 341.5 1305.1 344.5 1310.7C346.7 1314.9 349 1319.7 351.2 1324.2C353.5 1328.7 355.7 1333.9 358 1337.7C359.5 1340.3 361 1343.8 362.5 1344.5C364.7 1345.4 367 1346 369.2 1346C385.8 1346 402.3 1346 418.9 1346C419.4 1346 419.9 1346 420.4 1346" fill="none" stroke="#000" stroke-width="9" stroke-linejoin="round" stroke-linecap="butt"/>
</g>
<path d="M316.1 1346.1V1356.9M330.8 1346.1V1356.9M345.5 1346.1V1356.9M374.9 1346.1V1356.9M389.5 1346.1V1356.9M404.2 1346.1V1356.9M296 1325.1H285.2M296 1304.1H285.2M296 1283.1H285.2" stroke="#000" stroke-width="3" fill="none"/>
<path d="M301.4 1346.1V1364.5M360.2 1346.1V1364.5M418.9 1346.1V1364.5M296 1346.1H277.6M296 1262.1H277.6" stroke="#ff0000" stroke-width="4.8" fill="none"/>
<rect x="296" y="1262.1" width="128" height="84" fill="none" stroke="#ff0000" stroke-width="5.6"/>
</g>
<g>
<clipPath id="c9_1"><rect x="475.5" y="1262.1" width="128" height="84"/></clipPath>
<g clip-path="url(#c9_1)">
<path d="M485.1 1261.1C486.2 1262.6 487.3 1265.1 488.4 1265.7C490.7 1267.1 492.9 1267.4 495.2 1268C501.9 1269.9 508.7 1269.6 515.4 1272.5C518.4 1273.8 521.4 1281.9 524.4 1286C527.4 1290.1 530.4 1292.6 533.4 1297.2C536.4 1301.8 539.4 1309.2 542.4 1315.2C545.4 1321.2 548.4 1328.1 551.4 1333.2C553.7 1337.1 555.9 1338.9 558.2 1343.3C558.5 1344.1 558.9 1345.1 559.3 1346L559.3 1352.1L530 1352.1L530 1346C529.7 1344.8 529.3 1343.2 528.9 1342.2C525.9 1334.1 522.9 1330.6 519.9 1324.2C516.9 1317.9 513.9 1309.9 510.9 1304C507.9 1298.1 504.9 1291.7 501.9 1288.2C497.4 1283 492.9 1283.4 488.4 1277C487.7 1275.9 486.9 1274.6 486.2 1271.4C485.8 1269.9 485.5 1264.5 485.1 1261.1Z" fill="#1f77b4" fill-opacity="0.5" stroke="#1f77b4" stroke-opacity="0.5" stroke-width="4.4" stroke-linejoin="round"/>
<path d="M485.1 1261.1C486.2 1263.3 487.3 1266.9 488.4 1267.8C490.7 1269.8 492.9 1270.6 495.2 1271.3C501.9 1273.1 508.7 1272.4 515.4 1274.7C518.4 1275.8 521.4 1284.1 524.4 1288.2C527.4 1292.3 530.4 1295.3 533.4 1299.5C537.2 1304.7 540.9 1309.8 544.7 1317.5C546.9 1322.1 549.2 1330.2 551.4 1335.5C552.9 1339 554.4 1343.4 555.9 1345.1C556.3 1345.5 556.7 1345.7 557 1346L557 1352.1L531.2 1352.1L531.2 1346C530.8 1344.8 530.4 1343.2 530 1342.2C527 1334.1 524 1330.6 521 1324.2C518 1317.9 515 1309.9 512 1304C509 1298.1 506 1292.2 503 1288.2C498.6 1282.4 494.1 1280.8 489.6 1274.6C488.4 1273 487.3 1272.1 486.2 1268.4C485.8 1267.3 485.5 1263.5 485.1 1261.1Z" fill="#fdd7af" fill-opacity="1" stroke="#d29150" stroke-opacity="0.53" stroke-width="4.4" stroke-linejoin="round"/>
<path d="M485.1 1261.1C486.2 1263.4 487.3 1266.8 488.4 1268C491.4 1271.2 494.4 1272.1 497.4 1273.6C501.9 1275.9 506.4 1276.5 510.9 1279.2C513.9 1281.1 516.9 1284.4 519.9 1288.2C522.9 1292.1 525.9 1298.4 528.9 1304C531.2 1308.2 533.4 1312.6 535.7 1317.5C537.9 1322.3 540.2 1328 542.4 1333.2C544.3 1337.5 546.2 1341.8 548 1346L548 1352.1L532.3 1352.1L532.3 1346C531.9 1344.9 531.5 1343.6 531.2 1342.7C528.2 1335.1 525.2 1331 522.2 1324.7C519.2 1318.3 516.2 1310.3 513.2 1304.4C510.2 1298.5 507.2 1292.2 504.2 1288.7C499.7 1283.5 495.2 1282.7 490.7 1277.4C489.6 1276.1 488.4 1274.9 487.3 1272C486.6 1270.2 485.9 1264.7 485.1 1261.1Z" fill="#d0e8ee" fill-opacity="1" stroke="#b4aa96" stroke-opacity="0.5" stroke-width="4.4" stroke-linejoin="round"/>
<path d="M495.6 1262.1V1346.1M510.3 1262.1V1346.1M554.4 1262.1V1346.1M583.7 1262.1V1346.1" stroke="#b0b0b0" stroke-width="1.05" fill="none"/>
<path d="M475.5 1283.1H603.5M475.5 1304.1H603.5M475.5 1325.1H603.5" stroke="#b0b0b0" stroke-width="1.15" fill="none"/>
<path d="M480.9 1262.1V1346.1M539.7 1262.1V1346.1M598.4 1262.1V1346.1" stroke="#ff0000" stroke-opacity="0.5" stroke-width="4.8" fill="none"/>
<path d="M476.4 1262.1C477.9 1262.1 479.4 1262.1 480.9 1262.1C482.3 1262.1 483.7 1262.1 485.1 1262.1C486.2 1262.1 487.3 1269 488.4 1270.2C491.4 1273.5 494.4 1274.3 497.4 1275.9C501.9 1278.1 506.4 1278.8 510.9 1281.5C513.9 1283.3 516.9 1286.7 519.9 1290.5C522.9 1294.3 525.9 1300.6 528.9 1306.2C531.2 1310.4 533.4 1314.9 535.7 1319.7C537.9 1324.6 540.2 1331 542.4 1335.5C543.9 1338.4 545.4 1342.3 546.9 1343.3C549.2 1344.9 551.4 1346 553.7 1346C568.6 1346 583.5 1346 598.4 1346C598.9 1346 599.4 1346 599.9 1346" fill="none" stroke="#000" stroke-width="9" stroke-linejoin="round" stroke-linecap="butt"/>
</g>
<path d="M495.6 1346.1V1356.9M510.3 1346.1V1356.9M525 1346.1V1356.9M554.4 1346.1V1356.9M569 1346.1V1356.9M583.7 1346.1V1356.9M475.5 1325.1H464.7M475.5 1304.1H464.7M475.5 1283.1H464.7" stroke="#000" stroke-width="3" fill="none"/>
<path d="M480.9 1346.1V1364.5M539.7 1346.1V1364.5M598.4 1346.1V1364.5M475.5 1346.1H457.1M475.5 1262.1H457.1" stroke="#ff0000" stroke-width="4.8" fill="none"/>
<rect x="475.5" y="1262.1" width="128" height="84" fill="none" stroke="#ff0000" stroke-width="5.6"/>
</g>
<g>
<clipPath id="c9_2"><rect x="655" y="1262.1" width="128" height="84"/></clipPath>
<g clip-path="url(#c9_2)">
<path d="M664.6 1261.1C665.5 1262.6 666.4 1265.1 667.2 1265.7C669.1 1267.1 671 1267.4 672.9 1268C678.1 1269.5 683.4 1269.1 688.6 1271.4C690.9 1272.3 693.1 1279.6 695.4 1283.7C699.1 1290.6 702.9 1297.5 706.6 1304C710.7 1311.1 714.8 1316.7 719 1324.2C721.6 1329 724.2 1335.8 726.8 1340C728.3 1342.3 729.8 1344 731.3 1346L731.3 1352.1L711.1 1352.1L711.1 1346C709.6 1344 708.1 1342.5 706.6 1340C704.4 1336.2 702.1 1329.4 699.9 1324.2C696.9 1317.3 693.9 1308.8 690.9 1304C687.9 1299.2 684.9 1295.8 681.9 1292.7C677.4 1288.2 672.9 1288.3 668.4 1281.5C667.6 1280.4 666.9 1278.3 666.1 1274.7C665.6 1272.4 665.1 1265.6 664.6 1261.1Z" fill="#1f77b4" fill-opacity="0.5" stroke="#1f77b4" stroke-opacity="0.5" stroke-width="4.4" stroke-linejoin="round"/>
<path d="M664.6 1261.1C665.5 1263.3 666.4 1266.7 667.2 1267.7C669.1 1270 671 1271.3 672.9 1271.8C678.1 1273 683.4 1272.3 688.6 1273.6C690.9 1274.2 693.1 1283 695.4 1287.1C699.1 1294 702.9 1299.8 706.6 1306.2C710.7 1313.3 714.8 1319.3 719 1327.6C721.2 1332.1 723.5 1339.7 725.7 1343.2C726.5 1344.4 727.2 1345.1 728 1346L728 1352.1L712.2 1352.1L712.2 1346C710.7 1344 709.2 1342.5 707.7 1340C705.5 1336.2 703.2 1329.4 701 1324.2C698 1317.3 695 1309.1 692 1304C689 1298.9 686 1294.7 683 1291.6C678.5 1287 674 1286.6 669.5 1281C668.4 1279.7 667.2 1278.3 666.1 1274.3C665.6 1272.5 665.1 1265.5 664.6 1261.1Z" fill="#fdd7af" fill-opacity="1" stroke="#d29150" stroke-opacity="0.53" stroke-width="4.4" stroke-linejoin="round"/>
<path d="M689.8 1262.1V1346.1M704.5 1262.1V1346.1M733.9 1262.1V1346.1M748.5 1262.1V1346.1" stroke="#b0b0b0" stroke-width="1.05" fill="none"/>
<path d="M655 1283.1H783M655 1304.1H783M655 1325.1H783" stroke="#b0b0b0" stroke-width="1.15" fill="none"/>
<path d="M660.5 1262.1V1346.1M719.2 1262.1V1346.1M777.9 1262.1V1346.1" stroke="#ff0000" stroke-opacity="0.5" stroke-width="4.8" fill="none"/>
<path d="M656 1262.1C657.5 1262.1 659 1262.1 660.5 1262.1C661.8 1262.1 663.2 1262.1 664.6 1262.1C665.9 1262.1 667.1 1271.3 668.4 1272.5C671.4 1275.3 674.4 1275.5 677.4 1277C680.4 1278.5 683.4 1279.2 686.4 1281.5C689.4 1283.8 692.4 1292 695.4 1297.2C698.4 1302.5 701.4 1307.7 704.4 1313C707.4 1318.2 710.4 1323.6 713.4 1328.7C715.6 1332.6 717.8 1337.5 720.1 1340C722.3 1342.5 724.6 1345.4 726.8 1345.6C729.8 1345.9 732.8 1346 735.8 1346C749.9 1346 763.9 1346 777.9 1346C778.4 1346 778.9 1346 779.4 1346" fill="none" stroke="#000" stroke-width="9" stroke-linejoin="round" stroke-linecap="butt"/>
</g>
<path d="M675.1 1346.1V1356.9M689.8 1346.1V1356.9M704.5 1346.1V1356.9M733.9 1346.1V1356.9M748.5 1346.1V1356.9M763.2 1346.1V1356.9M655 1325.1H644.2M655 1304.1H644.2M655 1283.1H644.2" stroke="#000" stroke-width="3" fill="none"/>
<path d="M660.5 1346.1V1364.5M719.2 1346.1V1364.5M777.9 1346.1V1364.5M655 1346.1H636.6M655 1262.1H636.6" stroke="#ff0000" stroke-width="4.8" fill="none"/>
<rect x="655" y="1262.1" width="128" height="84" fill="none" stroke="#ff0000" stroke-width="5.6"/>
</g>
<g>
<clipPath id="c9_3"><rect x="834.5" y="1262.1" width="128" height="84"/></clipPath>
<g clip-path="url(#c9_3)">
<path d="M844.1 1261.1C844.9 1262.6 845.7 1265.3 846.5 1265.7C849.5 1267.3 852.5 1267.4 855.5 1268C862.2 1269.4 869 1269.6 875.7 1271.4C880.2 1272.6 884.7 1276.3 889.2 1279.2C892.2 1281.2 895.2 1283.3 898.2 1286C902.7 1290 907.2 1296.9 911.7 1301.7C915.5 1305.8 919.2 1307.5 923 1313C925.2 1316.2 927.5 1324.6 929.7 1328.7C932.7 1334.3 935.7 1335.3 938.7 1342.2C939.1 1343.1 939.5 1344.8 939.8 1346L939.8 1352.1L896 1352.1L896 1346C894.5 1343.3 893 1340.7 891.5 1337.7C888.5 1331.7 885.5 1323.8 882.5 1317.5C879.5 1311.1 876.5 1305.1 873.5 1299.5C870.5 1293.9 867.5 1285.9 864.5 1283.7C859.2 1279.9 854 1280.8 848.7 1277C847.6 1276.2 846.5 1275.5 845.4 1272.5C845 1271.4 844.6 1264.9 844.1 1261.1Z" fill="#1f77b4" fill-opacity="0.5" stroke="#1f77b4" stroke-opacity="0.5" stroke-width="4.4" stroke-linejoin="round"/>
<path d="M844.1 1261.1C844.9 1263.3 845.7 1267.2 846.5 1267.8C849.5 1270 852.5 1270.4 855.5 1270.9C862.2 1272 869 1271.7 875.7 1272.9C880.2 1273.8 884.7 1278.4 889.2 1281.5C892.2 1283.6 895.2 1285.4 898.2 1288.2C902.7 1292.5 907.2 1299.4 911.7 1306.2C914.7 1310.8 917.7 1316 920.7 1322C923.7 1327.9 926.7 1339 929.7 1342.4C931.2 1344.1 932.7 1344.8 934.2 1346L934.2 1352.1L897.1 1352.1L897.1 1346C895.6 1343.3 894.1 1340.7 892.6 1337.7C889.6 1331.7 886.6 1323.8 883.6 1317.5C880.6 1311.1 877.6 1305.2 874.6 1299.5C871.6 1293.8 868.6 1285.9 865.6 1283.3C860.4 1278.7 855.1 1278.9 849.9 1274.8C848.4 1273.6 846.9 1273.1 845.4 1269.8C845 1268.8 844.6 1264 844.1 1261.1Z" fill="#fdd7af" fill-opacity="1" stroke="#d29150" stroke-opacity="0.53" stroke-width="4.4" stroke-linejoin="round"/>
<path d="M844.1 1261.1C854.7 1265.6 865.2 1269.1 875.7 1274.7C880.2 1277.2 884.7 1280.3 889.2 1283.7C892.2 1286 895.2 1288.4 898.2 1291.6C902.7 1296.4 907.2 1303.4 911.7 1310.7C914.7 1315.6 917.7 1321.5 920.7 1327.6C923 1332.1 925.2 1338 927.5 1342.2C928.2 1343.6 929 1344.8 929.7 1346L929.7 1352.1L914 1352.1L914 1346C911 1340.6 908 1336 905 1329.8C902.7 1325.2 900.5 1317.4 898.2 1314.1C894.5 1308.7 890.7 1307.2 887 1302.9C883.2 1298.5 879.5 1291.2 875.7 1287.1C865.2 1275.7 854.7 1269.7 844.1 1261.1Z" fill="#d0e8ee" fill-opacity="1" stroke="#b4aa96" stroke-opacity="0.5" stroke-width="4.4" stroke-linejoin="round"/>
<path d="M854.6 1262.1V1346.1M869.3 1262.1V1346.1M928 1262.1V1346.1" stroke="#b0b0b0" stroke-width="1.05" fill="none"/>
<path d="M834.5 1283.1H962.5M834.5 1304.1H962.5M834.5 1325.1H962.5" stroke="#b0b0b0" stroke-width="1.15" fill="none"/>
<path d="M840 1262.1V1346.1M898.7 1262.1V1346.1M957.4 1262.1V1346.1" stroke="#ff0000" stroke-opacity="0.5" stroke-width="4.8" fill="none"/>
<path d="M835.5 1262.1C837 1262.1 838.5 1262.1 840 1262.1C841.3 1262.1 842.7 1262.1 844.1 1262.1C844.9 1262.1 845.7 1269.6 846.5 1270.2C849.5 1272.7 852.5 1272.9 855.5 1273.6C860 1274.7 864.5 1274.4 869 1275.9C872 1276.8 875 1286.2 878 1290.5C881 1294.7 884 1298.4 887 1301.7C890.7 1305.9 894.5 1307.5 898.2 1313C900.5 1316.2 902.7 1323.3 905 1328.7C906.5 1332.4 908 1337.3 909.5 1340C911 1342.6 912.5 1346 914 1346C928.4 1346 942.9 1346 957.4 1346C957.9 1346 958.4 1346 958.9 1346" fill="none" stroke="#000" stroke-width="9" stroke-linejoin="round" stroke-linecap="butt"/>
</g>
<path d="M854.6 1346.1V1356.9M869.3 1346.1V1356.9M884 1346.1V1356.9M913.4 1346.1V1356.9M928 1346.1V1356.9M942.7 1346.1V1356.9M834.5 1325.1H823.7M834.5 1304.1H823.7M834.5 1283.1H823.7" stroke="#000" stroke-width="3" fill="none"/>
<path d="M840 1346.1V1364.5M898.7 1346.1V1364.5M957.4 1346.1V1364.5M834.5 1346.1H816.1M834.5 1262.1H816.1" stroke="#ff0000" stroke-width="4.8" fill="none"/>
<rect x="834.5" y="1262.1" width="128" height="84" fill="none" stroke="#ff0000" stroke-width="5.6"/>
</g>
<g>
<clipPath id="c9_4"><rect x="1014" y="1262.1" width="128" height="84"/></clipPath>
<g clip-path="url(#c9_4)">
<path d="M1023.6 1261.1C1024.6 1262.5 1025.5 1264.9 1026.4 1265.3C1028.7 1266.3 1030.9 1266.7 1033.2 1266.9C1040.7 1267.6 1048.2 1267.4 1055.7 1268C1063 1268.6 1070.4 1270.7 1077.7 1272.5C1085.4 1274.3 1093 1274.8 1100.7 1279.2C1103.7 1281 1106.7 1291.2 1109.7 1297.2C1112.6 1303.2 1115.6 1309.6 1118.6 1315.2C1121.6 1320.8 1124.6 1326.4 1127.6 1331C1130.6 1335.6 1133.6 1339.2 1136.6 1343.3L1136.9 1352.1L1081.5 1352.1L1081.5 1346C1081.2 1344.8 1080.8 1343.2 1080.4 1342.2C1078.2 1336.2 1075.9 1333.6 1073.7 1328.7C1071.4 1323.9 1069.2 1317.5 1066.9 1313C1063.9 1306.9 1060.9 1302.1 1057.9 1297.2C1054.9 1292.4 1051.9 1285.6 1048.9 1283.7C1041.4 1279.1 1033.9 1281.4 1026.4 1275.9C1025.7 1275.3 1024.9 1274.6 1024.2 1271.4C1024 1270.6 1023.8 1264.5 1023.6 1261.1Z" fill="#1f77b4" fill-opacity="0.5" stroke="#1f77b4" stroke-opacity="0.5" stroke-width="4.4" stroke-linejoin="round"/>
<path d="M1023.6 1261.1C1024.6 1263.2 1025.5 1267 1026.4 1267.5C1028.7 1268.9 1030.9 1269.5 1033.2 1269.6C1040.7 1269.7 1048.2 1269.6 1055.7 1269.8C1063 1269.9 1070.4 1273.2 1077.7 1275.9C1083.1 1277.8 1088.5 1279.6 1093.9 1283.7C1097.7 1286.6 1101.4 1295 1105.2 1301.7C1108.2 1307.1 1111.1 1314.1 1114.1 1319.7C1117.1 1325.3 1120.1 1331.5 1123.1 1335.5C1126.1 1339.5 1129.1 1342.4 1132.1 1345.1C1132.5 1345.4 1132.9 1345.7 1133.3 1346L1133.3 1352.1L1086 1352.1L1086 1346C1085.7 1345.5 1085.3 1345 1084.9 1344.5C1082.7 1341.1 1080.4 1337.5 1078.2 1333.2C1075.2 1327.5 1072.2 1318.6 1069.2 1313C1065.4 1305.9 1061.7 1300.5 1057.9 1295C1054.9 1290.6 1051.9 1284.7 1048.9 1282.6C1041.8 1277.6 1034.7 1277.6 1027.6 1273.5C1026.4 1272.8 1025.3 1273 1024.2 1270.9C1024 1270.6 1023.8 1264.3 1023.6 1261.1Z" fill="#fdd7af" fill-opacity="1" stroke="#d29150" stroke-opacity="0.53" stroke-width="4.4" stroke-linejoin="round"/>
<path d="M1023.6 1261.1C1034.3 1264.9 1045 1268.7 1055.7 1272.5C1063 1275.1 1070.4 1277 1077.7 1280.4C1083.1 1282.9 1088.5 1285.5 1093.9 1290.5C1097.7 1293.9 1101.4 1301.8 1105.2 1308.5C1108.2 1313.8 1111.1 1321.3 1114.1 1326.5C1117.1 1331.6 1120.1 1335.7 1123.1 1340C1124.6 1342.1 1126.1 1344 1127.6 1346L1127.6 1352.1L1120.9 1352.1L1120.9 1346C1118.6 1345.1 1116.4 1344.5 1114.1 1343.3C1108.2 1340.4 1102.2 1336.1 1096.2 1329.8C1093.2 1326.7 1090.2 1320.7 1087.2 1316.4C1084 1311.7 1080.9 1306.7 1077.7 1302.9C1072.6 1296.7 1067.5 1291.7 1062.4 1287.1C1060.2 1285.1 1057.9 1283.2 1055.7 1281.5C1045 1273.5 1034.3 1267.9 1023.6 1261.1Z" fill="#d0e8ee" fill-opacity="1" stroke="#b4aa96" stroke-opacity="0.5" stroke-width="4.4" stroke-linejoin="round"/>
<path d="M1048.8 1262.1V1346.1M1063.5 1262.1V1346.1M1092.9 1262.1V1346.1M1107.5 1262.1V1346.1M1122.2 1262.1V1346.1" stroke="#b0b0b0" stroke-width="1.05" fill="none"/>
<path d="M1014 1283.1H1142M1014 1304.1H1142M1014 1325.1H1142" stroke="#b0b0b0" stroke-width="1.15" fill="none"/>
<path d="M1019.5 1262.1V1346.1M1078.2 1262.1V1346.1M1136.9 1262.1V1346.1" stroke="#ff0000" stroke-opacity="0.5" stroke-width="4.8" fill="none"/>
<path d="M1015 1262.1C1016.5 1262.1 1018 1262.1 1019.5 1262.1C1020.8 1262.1 1022.2 1262.1 1023.6 1262.1C1024.6 1262.1 1025.5 1269.7 1026.4 1270.2C1029.4 1271.9 1032.4 1271.9 1035.4 1272.5C1039.9 1273.4 1044.4 1273.5 1048.9 1274.7C1053.4 1276 1057.9 1281.9 1062.4 1286C1067.5 1290.7 1072.6 1295.6 1077.7 1301.7C1080.9 1305.5 1084 1310.6 1087.2 1315.2C1090.2 1319.6 1093.2 1325.4 1096.2 1328.7C1099.2 1332 1102.2 1334.4 1105.2 1336.6C1108.2 1338.8 1111.1 1340.4 1114.1 1342.2C1116.4 1343.6 1118.6 1346 1120.9 1346C1126.2 1346 1131.6 1346 1136.9 1346C1137.4 1346 1137.9 1346 1138.4 1346" fill="none" stroke="#000" stroke-width="9" stroke-linejoin="round" stroke-linecap="butt"/>
</g>
<path d="M1034.1 1346.1V1356.9M1048.8 1346.1V1356.9M1063.5 1346.1V1356.9M1092.9 1346.1V1356.9M1107.5 1346.1V1356.9M1122.2 1346.1V1356.9M1014 1325.1H1003.2M1014 1304.1H1003.2M1014 1283.1H1003.2" stroke="#000" stroke-width="3" fill="none"/>
<path d="M1019.5 1346.1V1364.5M1078.2 1346.1V1364.5M1136.9 1346.1V1364.5M1014 1346.1H995.6M1014 1262.1H995.6" stroke="#ff0000" stroke-width="4.8" fill="none"/>
<rect x="1014" y="1262.1" width="128" height="84" fill="none" stroke="#ff0000" stroke-width="5.6"/>
</g>
<g>
<clipPath id="c9_5"><rect x="1193.5" y="1262.1" width="128" height="84"/></clipPath>
<g clip-path="url(#c9_5)">
<path d="M1203.1 1261.1C1203.8 1262.6 1204.5 1265.2 1205.2 1265.7C1207.1 1267.2 1209 1267.6 1210.9 1268C1219.1 1269.9 1227.4 1269.2 1235.6 1271.4C1239.4 1272.3 1243.1 1278.2 1246.9 1281.5C1250.3 1284.5 1253.7 1286.8 1257.2 1290.5C1260.5 1294 1263.8 1297.9 1267.1 1304C1269.3 1308.1 1271.6 1316.8 1273.8 1322C1276.8 1328.9 1279.8 1335.2 1282.8 1340C1284.3 1342.3 1285.8 1344 1287.3 1346L1287.3 1352.1L1262.6 1352.1L1262.6 1346C1261.8 1344.8 1261.1 1343.6 1260.3 1342.2C1257.3 1336.8 1254.3 1330.7 1251.4 1324.2C1249.1 1319.4 1246.9 1313.7 1244.6 1308.5C1242.4 1303.2 1240.1 1296.5 1237.9 1292.7C1234.9 1287.8 1231.9 1282.4 1228.9 1281.5C1221.4 1279.2 1213.9 1280.8 1206.4 1278.1C1205.6 1277.8 1204.9 1276.5 1204.1 1273.6C1203.8 1272.4 1203.5 1265.2 1203.1 1261.1Z" fill="#1f77b4" fill-opacity="0.5" stroke="#1f77b4" stroke-opacity="0.5" stroke-width="4.4" stroke-linejoin="round"/>
<path d="M1203.1 1261.1C1203.8 1263.2 1204.5 1266.6 1205.2 1267.5C1207.1 1269.9 1209 1271.3 1210.9 1271.5C1219.1 1272.6 1227.4 1272 1235.6 1272.9C1239.4 1273.4 1243.1 1280.1 1246.9 1283.7C1250.3 1287.1 1253.7 1289.9 1257.2 1293.9C1260.5 1297.6 1263.8 1301.3 1267.1 1307.4C1269.3 1311.5 1271.6 1319.9 1273.8 1325.3C1276.5 1331.8 1279.1 1338.8 1281.7 1343C1282.5 1344.2 1283.2 1345 1284 1346L1284 1352.1L1263.7 1352.1L1263.7 1346C1263 1344.8 1262.2 1343.6 1261.5 1342.2C1258.5 1336.8 1255.5 1330.7 1252.5 1324.2C1250.2 1319.4 1248 1313.7 1245.7 1308.5C1243.5 1303.2 1241.2 1296.6 1239 1292.7C1235.6 1286.9 1232.2 1280.2 1228.9 1279.1C1221.7 1276.9 1214.6 1278 1207.5 1275.8C1206.4 1275.4 1205.2 1275.1 1204.1 1273.2C1203.8 1272.6 1203.5 1265.1 1203.1 1261.1Z" fill="#fdd7af" fill-opacity="1" stroke="#d29150" stroke-opacity="0.53" stroke-width="4.4" stroke-linejoin="round"/>
<path d="M1213.6 1262.1V1346.1M1243 1262.1V1346.1M1272.4 1262.1V1346.1M1287 1262.1V1346.1" stroke="#b0b0b0" stroke-width="1.05" fill="none"/>
<path d="M1193.5 1283.1H1321.5M1193.5 1304.1H1321.5M1193.5 1325.1H1321.5" stroke="#b0b0b0" stroke-width="1.15" fill="none"/>
<path d="M1199 1262.1V1346.1M1257.7 1262.1V1346.1M1316.4 1262.1V1346.1" stroke="#ff0000" stroke-opacity="0.5" stroke-width="4.8" fill="none"/>
<path d="M1194.5 1262.1C1196 1262.1 1197.5 1262.1 1199 1262.1C1200.3 1262.1 1201.7 1262.1 1203.1 1262.1C1204.2 1262.1 1205.3 1271.7 1206.4 1272.5C1209.4 1274.8 1212.4 1275.4 1215.4 1275.9C1219.9 1276.5 1224.4 1276.3 1228.9 1277C1231.9 1277.4 1234.9 1279.3 1237.9 1281.5C1240.9 1283.6 1243.9 1287.8 1246.9 1292.7C1249.1 1296.5 1251.4 1304.8 1253.6 1308.5C1256.6 1313.4 1259.6 1315.1 1262.6 1319.7C1264.8 1323.2 1267.1 1329.9 1269.3 1333.2C1271.6 1336.5 1273.8 1339.4 1276.1 1341.1C1279.1 1343.4 1282.1 1346 1285.1 1346C1295.5 1346 1306 1346 1316.4 1346C1316.9 1346 1317.4 1346 1317.9 1346" fill="none" stroke="#000" stroke-width="9" stroke-linejoin="round" stroke-linecap="butt"/>
</g>
<path d="M1213.6 1346.1V1356.9M1228.3 1346.1V1356.9M1243 1346.1V1356.9M1272.4 1346.1V1356.9M1287 1346.1V1356.9M1301.7 1346.1V1356.9M1193.5 1325.1H1182.7M1193.5 1304.1H1182.7M1193.5 1283.1H1182.7" stroke="#000" stroke-width="3" fill="none"/>
<path d="M1199 1346.1V1364.5M1257.7 1346.1V1364.5M1316.4 1346.1V1364.5M1193.5 1346.1H1175.1M1193.5 1262.1H1175.1" stroke="#ff0000" stroke-width="4.8" fill="none"/>
<rect x="1193.5" y="1262.1" width="128" height="84" fill="none" stroke="#ff0000" stroke-width="5.6"/>
</g>
<g>
<clipPath id="c9_6"><rect x="1373" y="1262.1" width="128" height="84"/></clipPath>
<g clip-path="url(#c9_6)">
<path d="M1382.6 1261.1C1383.6 1262.6 1384.5 1265.3 1385.5 1265.7C1388.5 1267.2 1391.5 1267.4 1394.5 1268C1401.2 1269.4 1408 1269.6 1414.7 1271.4C1419.2 1272.6 1423.7 1276.8 1428.2 1279.2C1431.2 1280.8 1434.2 1281.9 1437.2 1283.7C1441 1286 1444.7 1289 1448.5 1292.7C1451.5 1295.7 1454.5 1299 1457.5 1304C1459.7 1307.7 1462 1314.9 1464.2 1319.7C1466.5 1324.6 1468.7 1329.4 1471 1333.2C1473.2 1337.1 1475.5 1338.9 1477.7 1343.3C1478.1 1344.1 1478.5 1345.1 1478.8 1346L1478.8 1352.1L1440.6 1352.1L1440.6 1346C1440.2 1345.1 1439.8 1344.2 1439.5 1343.3C1437.2 1338.2 1435 1333.4 1432.7 1328.7C1430.5 1324 1428.2 1320.1 1426 1315.2C1423.7 1310.4 1421.5 1303.9 1419.2 1299.5C1417 1295.1 1414.7 1288.9 1412.5 1288.2C1407.2 1286.7 1402 1287.2 1396.7 1286C1393 1285.1 1389.2 1283.4 1385.5 1279.2C1384.7 1278.4 1384 1277.6 1383.2 1273.6C1383 1272.6 1382.8 1265.2 1382.6 1261.1Z" fill="#1f77b4" fill-opacity="0.5" stroke="#1f77b4" stroke-opacity="0.5" stroke-width="4.4" stroke-linejoin="round"/>
<path d="M1382.6 1261.1C1383.6 1263.3 1384.5 1267.2 1385.5 1267.8C1388.5 1269.9 1391.5 1270.4 1394.5 1270.9C1401.2 1272 1408 1271.7 1414.7 1272.9C1419.2 1273.8 1423.7 1277.9 1428.2 1281.5C1431.2 1283.9 1434.2 1287.5 1437.2 1290.5C1441 1294.2 1444.7 1296.9 1448.5 1301.7C1451.5 1305.6 1454.5 1311.4 1457.5 1317.5C1459.7 1322 1462 1328.9 1464.2 1333.2C1466.5 1337.6 1468.7 1341 1471 1344.4C1471.3 1345 1471.7 1345.5 1472.1 1346L1472.1 1352.1L1441.7 1352.1L1441.7 1346C1441.3 1345.1 1441 1344.2 1440.6 1343.3C1438.3 1338.2 1436.1 1333.4 1433.9 1328.7C1431.6 1324 1429.4 1320.1 1427.1 1315.2C1424.9 1310.4 1422.6 1304.1 1420.4 1299.5C1418.1 1294.9 1415.9 1287.8 1413.6 1287.1C1408.4 1285.5 1403.1 1286.1 1397.9 1284.9C1394.1 1284 1390.4 1282.2 1386.6 1278.8C1385.5 1277.8 1384.4 1277.4 1383.2 1272.9C1383 1272.2 1382.8 1265 1382.6 1261.1Z" fill="#fdd7af" fill-opacity="1" stroke="#d29150" stroke-opacity="0.53" stroke-width="4.4" stroke-linejoin="round"/>
<path d="M1382.6 1261.1C1397.8 1268.6 1413 1271.8 1428.2 1283.7C1431.2 1286.1 1434.2 1291.3 1437.2 1295C1441 1299.6 1444.7 1303.1 1448.5 1308.5C1451.5 1312.8 1454.5 1318.6 1457.5 1324.2C1459.7 1328.4 1462 1333.4 1464.2 1337.7C1465.7 1340.6 1467.2 1343.3 1468.7 1346L1468.7 1352.1L1464.2 1352.1L1464.2 1346C1462 1345.4 1459.7 1345 1457.5 1344C1454.5 1342.6 1451.5 1338.2 1448.5 1334.3C1444.7 1329.6 1441 1323 1437.2 1316.4C1434.2 1311 1431.2 1302.2 1428.2 1298.4C1413 1278.9 1397.8 1273.5 1382.6 1261.1Z" fill="#d0e8ee" fill-opacity="1" stroke="#b4aa96" stroke-opacity="0.5" stroke-width="4.4" stroke-linejoin="round"/>
<path d="M1393.1 1262.1V1346.1M1407.8 1262.1V1346.1M1422.5 1262.1V1346.1M1466.5 1262.1V1346.1M1481.2 1262.1V1346.1" stroke="#b0b0b0" stroke-width="1.05" fill="none"/>
<path d="M1373 1283.1H1501M1373 1304.1H1501M1373 1325.1H1501" stroke="#b0b0b0" stroke-width="1.15" fill="none"/>
<path d="M1378.5 1262.1V1346.1M1437.2 1262.1V1346.1M1495.9 1262.1V1346.1" stroke="#ff0000" stroke-opacity="0.5" stroke-width="4.8" fill="none"/>
<path d="M1374 1262.1C1375.5 1262.1 1377 1262.1 1378.5 1262.1C1379.8 1262.1 1381.2 1262.1 1382.6 1262.1C1383.6 1262.1 1384.5 1269.5 1385.5 1270.2C1388.5 1272.5 1391.5 1272.9 1394.5 1273.6C1399 1274.7 1403.5 1274.6 1408 1275.9C1411 1276.7 1414 1278.7 1417 1281.5C1419.2 1283.6 1421.5 1289.4 1423.7 1292.7C1426 1296.1 1428.2 1298.1 1430.5 1301.7C1432.7 1305.3 1435 1310.7 1437.2 1315.2C1438.7 1318.2 1440.2 1321.8 1441.7 1324.2C1444 1327.9 1446.2 1330.5 1448.5 1333.2C1451.5 1336.9 1454.5 1341.6 1457.5 1343.3C1459.7 1344.6 1462 1346 1464.2 1346C1474.8 1346 1485.3 1346 1495.9 1346C1496.4 1346 1496.9 1346 1497.4 1346" fill="none" stroke="#000" stroke-width="9" stroke-linejoin="round" stroke-linecap="butt"/>
</g>
<path d="M1393.1 1346.1V1356.9M1407.8 1346.1V1356.9M1422.5 1346.1V1356.9M1451.9 1346.1V1356.9M1466.5 1346.1V1356.9M1481.2 1346.1V1356.9M1373 1325.1H1362.2M1373 1304.1H1362.2M1373 1283.1H1362.2" stroke="#000" stroke-width="3" fill="none"/>
<path d="M1378.5 1346.1V1364.5M1437.2 1346.1V1364.5M1495.9 1346.1V1364.5M1373 1346.1H1354.6M1373 1262.1H1354.6" stroke="#ff0000" stroke-width="4.8" fill="none"/>
<rect x="1373" y="1262.1" width="128" height="84" fill="none" stroke="#ff0000" stroke-width="5.6"/>
</g>
<g>
<clipPath id="c9_7"><rect x="1552.5" y="1262.1" width="128" height="84"/></clipPath>
<g clip-path="url(#c9_7)">
<path d="M1562.1 1261.1C1562.9 1263 1563.6 1266.1 1564.3 1266.9C1566.2 1268.9 1568.1 1269.8 1569.9 1270.2C1575.9 1271.6 1581.9 1271.2 1587.9 1272.5C1591.7 1273.3 1595.4 1275 1599.2 1278.1C1601.4 1280 1603.7 1286.2 1605.9 1290.5C1608.2 1294.8 1610.4 1301.5 1612.7 1304C1615.7 1307.3 1618.7 1307.2 1621.7 1310.7C1623.9 1313.3 1626.2 1320.5 1628.4 1326.5C1629.9 1330.4 1631.4 1337.5 1632.9 1340C1634.8 1343 1636.7 1344 1638.5 1346L1638.5 1352.1L1626.2 1352.1L1626.2 1346C1625.4 1344.8 1624.7 1343.8 1623.9 1342.2C1622.4 1339.1 1620.9 1332.2 1619.4 1328.7C1617.2 1323.5 1614.9 1318.7 1612.7 1316.4C1610 1313.6 1607.4 1313.6 1604.8 1310.7C1602.9 1308.7 1601 1303.7 1599.2 1299.5C1597.7 1296.1 1596.2 1290.4 1594.7 1288.2C1592.4 1284.9 1590.2 1282.2 1587.9 1281.5C1580.4 1279.2 1572.9 1280.8 1565.4 1278.1C1564.7 1277.8 1563.9 1276.4 1563.2 1273.6C1562.8 1272.3 1562.5 1265.2 1562.1 1261.1Z" fill="#1f77b4" fill-opacity="0.5" stroke="#1f77b4" stroke-opacity="0.5" stroke-width="4.4" stroke-linejoin="round"/>
<path d="M1562.1 1261.1C1562.9 1263.4 1563.6 1267.2 1564.3 1268.1C1566.2 1270.5 1568.1 1271.6 1569.9 1272.1C1575.9 1273.9 1581.9 1273.5 1587.9 1275C1591.7 1275.9 1595.4 1277 1599.2 1279.7C1601.4 1281.3 1603.7 1287.8 1605.9 1292.3C1608.2 1296.8 1610.4 1304.8 1612.7 1307C1615.7 1310 1618.7 1309.5 1621.7 1312.5C1623.9 1314.8 1626.2 1322.5 1628.4 1328.7C1629.9 1332.9 1631.4 1340.9 1632.9 1342.9C1634 1344.5 1635.2 1345 1636.3 1346L1636.3 1352.1L1627.3 1352.1L1627.3 1346C1626.5 1344.8 1625.8 1343.8 1625 1342.2C1623.5 1339.1 1622 1332.6 1620.5 1328.7C1618.3 1322.9 1616 1315.2 1613.8 1313.6C1611.2 1311.7 1608.5 1312.2 1605.9 1310.3C1604 1308.9 1602.2 1303.6 1600.3 1299.5C1598.4 1295.3 1596.5 1287.2 1594.7 1284.8C1592.4 1281.9 1590.2 1279.9 1587.9 1279.1C1580.8 1276.9 1573.7 1277.8 1566.6 1275.6C1565.4 1275.2 1564.3 1275 1563.2 1273.2C1562.8 1272.6 1562.5 1265.1 1562.1 1261.1Z" fill="#fdd7af" fill-opacity="1" stroke="#d29150" stroke-opacity="0.53" stroke-width="4.4" stroke-linejoin="round"/>
<path d="M1572.6 1262.1V1346.1M1587.3 1262.1V1346.1M1631.4 1262.1V1346.1M1660.7 1262.1V1346.1" stroke="#b0b0b0" stroke-width="1.05" fill="none"/>
<path d="M1552.5 1283.1H1680.5M1552.5 1304.1H1680.5M1552.5 1325.1H1680.5" stroke="#b0b0b0" stroke-width="1.15" fill="none"/>
<path d="M1558 1262.1V1346.1M1616.7 1262.1V1346.1M1675.4 1262.1V1346.1" stroke="#ff0000" stroke-opacity="0.5" stroke-width="4.8" fill="none"/>
<path d="M1553.5 1262.1C1555 1262.1 1556.5 1262.1 1558 1262.1C1559.3 1262.1 1560.7 1262.1 1562.1 1262.1C1563.2 1262.1 1564.3 1271.9 1565.4 1272.5C1568.4 1274.1 1571.4 1274.1 1574.4 1274.7C1578.9 1275.7 1583.4 1275.8 1587.9 1277C1590.9 1277.8 1593.9 1279.8 1596.9 1282.6C1599.2 1284.8 1601.4 1290.2 1603.7 1295C1605.2 1298.2 1606.7 1304.4 1608.2 1306.2C1611.2 1309.9 1614.2 1309.6 1617.2 1313C1619.4 1315.5 1621.7 1321 1623.9 1326.5C1625.4 1330.1 1626.9 1337.8 1628.4 1340C1630.7 1343.2 1632.9 1346 1635.2 1346C1648.6 1346 1662 1346 1675.4 1346C1675.9 1346 1676.4 1346 1676.9 1346" fill="none" stroke="#000" stroke-width="9" stroke-linejoin="round" stroke-linecap="butt"/>
</g>
<path d="M1572.6 1346.1V1356.9M1587.3 1346.1V1356.9M1602 1346.1V1356.9M1631.4 1346.1V1356.9M1646 1346.1V1356.9M1660.7 1346.1V1356.9M1552.5 1325.1H1541.7M1552.5 1304.1H1541.7M1552.5 1283.1H1541.7" stroke="#000" stroke-width="3" fill="none"/>
<path d="M1558 1346.1V1364.5M1616.7 1346.1V1364.5M1675.4 1346.1V1364.5M1552.5 1346.1H1534.1M1552.5 1262.1H1534.1" stroke="#ff0000" stroke-width="4.8" fill="none"/>
<rect x="1552.5" y="1262.1" width="128" height="84" fill="none" stroke="#ff0000" stroke-width="5.6"/>
</g>
<g>
<clipPath id="c9_8"><rect x="1732" y="1262.1" width="128" height="84"/></clipPath>
<g clip-path="url(#c9_8)">
<path d="M1741.6 1261.1C1742.5 1263.2 1743.4 1266.8 1744.2 1267.5C1746.1 1269.2 1748 1269.8 1749.9 1270.2C1755.9 1271.6 1761.9 1271.4 1767.9 1272.5C1773.1 1273.4 1778.4 1274.2 1783.6 1277C1785.9 1278.2 1788.1 1284.5 1790.4 1288.2C1792.1 1291.2 1793.9 1295.7 1795.7 1297.2C1798.4 1299.6 1801.1 1299.3 1803.8 1301.7C1806.1 1303.8 1808.3 1311.1 1810.6 1317.5C1812.1 1321.7 1813.6 1330.2 1815.1 1333.2C1817.3 1337.7 1819.6 1338.8 1821.8 1342.2C1822.6 1343.4 1823.3 1344.8 1824.1 1346L1824.1 1352.1L1807.2 1352.1L1807.2 1346C1805.7 1344 1804.2 1342.2 1802.7 1340C1800.5 1336.6 1798.2 1332.5 1796 1328.7C1793.7 1325 1791.5 1321.9 1789.2 1317.5C1787.4 1313.8 1785.5 1307 1783.6 1304C1781.4 1300.4 1779.1 1298.4 1776.9 1296.1C1773.9 1293.1 1770.9 1289.7 1767.9 1288.2C1760.4 1284.6 1752.9 1286.4 1745.4 1281.5C1744.5 1280.9 1743.6 1279.6 1742.7 1275.9C1742.3 1274.5 1742 1266 1741.6 1261.1Z" fill="#1f77b4" fill-opacity="0.5" stroke="#1f77b4" stroke-opacity="0.5" stroke-width="4.4" stroke-linejoin="round"/>
<path d="M1741.6 1261.1C1742.5 1264 1743.4 1268.6 1744.2 1269.7C1746.1 1272.2 1748 1273.8 1749.9 1273.8C1755.9 1273.8 1761.9 1273.8 1767.9 1273.8C1773.1 1273.8 1778.4 1275.7 1783.6 1278.8C1785.9 1280.1 1788.1 1286.7 1790.4 1290.5C1792.1 1293.5 1793.9 1297.8 1795.7 1299.5C1798.4 1302 1801.1 1301.8 1803.8 1304.4C1806.1 1306.6 1808.3 1313.9 1810.6 1320.2C1812.1 1324.4 1813.6 1331.8 1815.1 1335.5C1817 1340.1 1818.8 1342.5 1820.7 1346L1820.7 1352.1L1808.3 1352.1L1808.3 1346C1806.8 1344 1805.3 1342.2 1803.8 1340C1801.6 1336.6 1799.3 1332.5 1797.1 1328.7C1794.8 1325 1792.6 1321.9 1790.4 1317.5C1788.5 1313.8 1786.6 1307.5 1784.7 1304C1782.5 1299.7 1780.2 1296 1778 1293.5C1774.6 1289.9 1771.2 1286.8 1767.9 1285.3C1760.7 1282.1 1753.6 1282.8 1746.5 1279.1C1745.2 1278.5 1743.9 1278.1 1742.7 1275.2C1742.3 1274.4 1742 1265.8 1741.6 1261.1Z" fill="#fdd7af" fill-opacity="1" stroke="#d29150" stroke-opacity="0.53" stroke-width="4.4" stroke-linejoin="round"/>
<path d="M1741.6 1261.1C1750.4 1265.8 1759.1 1271.6 1767.9 1275.2C1773.1 1277.4 1778.4 1277.3 1783.6 1280.6C1785.9 1282 1788.1 1288.8 1790.4 1292.7C1792.1 1295.8 1793.9 1299.9 1795.7 1301.7C1798.4 1304.5 1801.1 1304.4 1803.8 1307.4C1806.1 1309.8 1808.3 1316.9 1810.6 1323.1C1812.1 1327.2 1813.6 1333.5 1815.1 1337.7C1816.2 1340.9 1817.3 1343.3 1818.5 1346L1818.5 1352.1L1812.8 1352.1L1812.8 1346C1810.6 1342.1 1808.3 1337.7 1806.1 1334.3C1803.8 1331 1801.6 1328.7 1799.3 1325.3C1797.1 1322 1794.8 1318.5 1792.6 1314.1C1790.4 1309.7 1788.1 1301.5 1785.9 1298.4C1783.6 1295.2 1781.4 1293.5 1779.1 1291.6C1775.4 1288.5 1771.6 1286.6 1767.9 1283.7C1759.1 1277.1 1750.4 1268.6 1741.6 1261.1Z" fill="#d0e8ee" fill-opacity="1" stroke="#b4aa96" stroke-opacity="0.5" stroke-width="4.4" stroke-linejoin="round"/>
<path d="M1752.1 1262.1V1346.1M1781.5 1262.1V1346.1M1810.9 1262.1V1346.1M1825.5 1262.1V1346.1" stroke="#b0b0b0" stroke-width="1.05" fill="none"/>
<path d="M1732 1283.1H1860M1732 1304.1H1860M1732 1325.1H1860" stroke="#b0b0b0" stroke-width="1.15" fill="none"/>
<path d="M1737.5 1262.1V1346.1M1796.2 1262.1V1346.1M1854.9 1262.1V1346.1" stroke="#ff0000" stroke-opacity="0.5" stroke-width="4.8" fill="none"/>
<path d="M1733 1262.1C1734.5 1262.1 1736 1262.1 1737.5 1262.1C1738.8 1262.1 1740.2 1262.1 1741.6 1262.1C1742.9 1262.1 1744.1 1274.9 1745.4 1275.9C1748.4 1278.2 1751.4 1278.3 1754.4 1279.2C1758.9 1280.6 1763.4 1280.9 1767.9 1282.6C1771.6 1284 1775.4 1287.4 1779.1 1290.5C1781.4 1292.4 1783.6 1294.1 1785.9 1297.2C1788.1 1300.4 1790.4 1308.6 1792.6 1313C1794.8 1317.4 1797.1 1320.9 1799.3 1324.2C1801.6 1327.6 1803.8 1329.4 1806.1 1333.2C1807.6 1335.8 1809.1 1342.3 1810.6 1343.3C1812.8 1344.9 1815.1 1346 1817.3 1346C1829.9 1346 1842.4 1346 1854.9 1346C1855.4 1346 1855.9 1346 1856.4 1346" fill="none" stroke="#000" stroke-width="9" stroke-linejoin="round" stroke-linecap="butt"/>
</g>
<path d="M1752.1 1346.1V1356.9M1766.8 1346.1V1356.9M1781.5 1346.1V1356.9M1810.9 1346.1V1356.9M1825.5 1346.1V1356.9M1840.2 1346.1V1356.9M1732 1325.1H1721.2M1732 1304.1H1721.2M1732 1283.1H1721.2" stroke="#000" stroke-width="3" fill="none"/>
<path d="M1737.5 1346.1V1364.5M1796.2 1346.1V1364.5M1854.9 1346.1V1364.5M1732 1346.1H1713.6M1732 1262.1H1713.6" stroke="#ff0000" stroke-width="4.8" fill="none"/>
<rect x="1732" y="1262.1" width="128" height="84" fill="none" stroke="#ff0000" stroke-width="5.6"/>
</g>
<g>
<clipPath id="c9_9"><rect x="1911.5" y="1262.1" width="128" height="84"/></clipPath>
<g clip-path="url(#c9_9)">
<path d="M1921.1 1261.1C1921.7 1263 1922.3 1266.3 1922.9 1266.9C1924.7 1268.8 1926.6 1269.4 1928.5 1269.8C1934.5 1271.1 1940.5 1270.8 1946.5 1272C1950.2 1272.8 1954 1275.1 1957.7 1277C1961.5 1278.9 1965.2 1280.2 1969 1283.7C1971.1 1285.7 1973.2 1293.6 1975.3 1295C1979.2 1297.6 1983.1 1296.7 1987 1299.5C1989.2 1301.1 1991.5 1309.3 1993.7 1315.2C1996 1321.1 1998.2 1332.1 2000.5 1335.5C2002.7 1338.8 2004.9 1340.2 2007.2 1342.2C2008.7 1343.6 2010.2 1344.8 2011.7 1346L2011.7 1352.1L1980.2 1352.1L1980.2 1346C1978.7 1344 1977.2 1342.5 1975.7 1340C1973.5 1336.2 1971.2 1331 1969 1324.2C1967.5 1319.7 1966 1309.7 1964.5 1306.2C1961.5 1299.3 1958.5 1296.3 1955.5 1292.7C1952.5 1289.1 1949.5 1285.3 1946.5 1283.7C1940.5 1280.7 1934.5 1280.8 1928.5 1278.1C1926.2 1277.1 1924 1277.6 1921.7 1273.6C1921.5 1273.3 1921.3 1265.2 1921.1 1261.1Z" fill="#1f77b4" fill-opacity="0.5" stroke="#1f77b4" stroke-opacity="0.5" stroke-width="4.4" stroke-linejoin="round"/>
<path d="M1921.1 1261.1C1921.7 1263.3 1922.3 1267.1 1922.9 1267.9C1924.7 1270.4 1926.6 1271.3 1928.5 1271.9C1934.5 1273.7 1940.5 1273.3 1946.5 1274.8C1950.2 1275.8 1954 1278.2 1957.7 1280.4C1961.5 1282.6 1965.2 1284.7 1969 1288.7C1971.1 1290.9 1973.2 1298.8 1975.3 1299.7C1979.2 1301.3 1983.1 1300.5 1987 1302.2C1989.2 1303.1 1991.5 1311.2 1993.7 1317.5C1995.6 1322.7 1997.5 1334.4 1999.3 1337.6C2001.2 1340.8 2003.1 1342.4 2004.9 1343.9C2006.1 1344.8 2007.2 1345.3 2008.3 1346L2008.3 1352.1L1981.3 1352.1L1981.3 1346C1979.8 1344 1978.3 1342.5 1976.8 1340C1974.6 1336.2 1972.3 1331 1970.1 1324.2C1968.6 1319.7 1967.1 1309.7 1965.6 1306.2C1962.6 1299.3 1959.6 1296.9 1956.6 1292.7C1953.6 1288.6 1950.6 1282.7 1947.6 1281.3C1941.6 1278.4 1935.6 1278.5 1929.6 1276.4C1927 1275.5 1924.4 1276.1 1921.7 1272.9C1921.5 1272.7 1921.3 1265 1921.1 1261.1Z" fill="#fdd7af" fill-opacity="1" stroke="#d29150" stroke-opacity="0.53" stroke-width="4.4" stroke-linejoin="round"/>
<path d="M1921.1 1261.1C1929.6 1266 1938 1271.4 1946.5 1275.9C1949.5 1277.5 1952.5 1278.7 1955.5 1280.4C1959.2 1282.4 1963 1283.5 1966.7 1287.1C1969 1289.3 1971.2 1297.8 1973.5 1300.6C1976.5 1304.3 1979.5 1305.9 1982.5 1308.5C1985.5 1311.1 1988.5 1311.9 1991.5 1316.4C1993 1318.6 1994.5 1327.7 1996 1332.1C1997.8 1337.6 1999.7 1341.4 2001.6 1346L2001.6 1352.1L1982.5 1352.1L1982.5 1346C1981 1344 1979.5 1342.5 1978 1340C1975.7 1336.2 1973.5 1331 1971.2 1324.2C1969.7 1319.7 1968.2 1309.5 1966.7 1306.2C1963.7 1299.7 1960.7 1297.1 1957.7 1293.9C1954 1289.9 1950.2 1287.5 1946.5 1284.2C1938 1276.7 1929.6 1268.8 1921.1 1261.1Z" fill="#d0e8ee" fill-opacity="1" stroke="#b4aa96" stroke-opacity="0.5" stroke-width="4.4" stroke-linejoin="round"/>
<path d="M1931.6 1262.1V1346.1M1946.3 1262.1V1346.1M1990.4 1262.1V1346.1M2019.7 1262.1V1346.1" stroke="#b0b0b0" stroke-width="1.05" fill="none"/>
<path d="M1911.5 1283.1H2039.5M1911.5 1304.1H2039.5M1911.5 1325.1H2039.5" stroke="#b0b0b0" stroke-width="1.15" fill="none"/>
<path d="M1917 1262.1V1346.1M1975.7 1262.1V1346.1M2034.4 1262.1V1346.1" stroke="#ff0000" stroke-opacity="0.5" stroke-width="4.8" fill="none"/>
<path d="M1912.5 1262.1C1914 1262.1 1915.5 1262.1 1917 1262.1C1918.3 1262.1 1919.7 1262.1 1921.1 1262.1C1922.1 1262.1 1923 1272 1924 1272.5C1927 1274.1 1930 1274.1 1933 1274.7C1937.5 1275.7 1942 1275.8 1946.5 1277C1949.5 1277.8 1952.5 1279.9 1955.5 1281.5C1959.2 1283.5 1963 1284.6 1966.7 1288.2C1969 1290.4 1971.2 1298.9 1973.5 1301.7C1976.5 1305.5 1979.5 1307 1982.5 1309.6C1985.5 1312.2 1988.5 1313 1991.5 1317.5C1993 1319.7 1994.5 1329.1 1996 1333.2C1997.5 1337.3 1999 1342.5 2000.5 1343.3C2003.5 1345.1 2006.4 1346 2009.4 1346C2017.8 1346 2026.1 1346 2034.4 1346C2034.9 1346 2035.4 1346 2035.9 1346" fill="none" stroke="#000" stroke-width="9" stroke-linejoin="round" stroke-linecap="butt"/>
</g>
<path d="M1931.6 1346.1V1356.9M1946.3 1346.1V1356.9M1961 1346.1V1356.9M1990.4 1346.1V1356.9M2005 1346.1V1356.9M2019.7 1346.1V1356.9M1911.5 1325.1H1900.7M1911.5 1304.1H1900.7M1911.5 1283.1H1900.7" stroke="#000" stroke-width="3" fill="none"/>
<path d="M1917 1346.1V1364.5M1975.7 1346.1V1364.5M2034.4 1346.1V1364.5M1911.5 1346.1H1893.1M1911.5 1262.1H1893.1" stroke="#ff0000" stroke-width="4.8" fill="none"/>
<rect x="1911.5" y="1262.1" width="128" height="84" fill="none" stroke="#ff0000" stroke-width="5.6"/>
</g>
<g>
<clipPath id="c9_10"><rect x="2091" y="1262.1" width="128" height="84"/></clipPath>
<g clip-path="url(#c9_10)">
<path d="M2100.6 1261.1C2101.4 1262.8 2102.1 1265.7 2102.8 1266.2C2104.7 1267.4 2106.5 1267.6 2108.4 1268C2115.9 1269.6 2123.4 1270.2 2130.9 1271.4C2135.4 1272.1 2139.9 1272.1 2144.4 1273.6C2146.7 1274.4 2148.9 1279.6 2151.1 1283.7C2154.1 1289.3 2157.1 1301.1 2160.1 1306.2C2162.4 1310.1 2164.6 1314 2166.9 1315.2C2169.1 1316.4 2171.4 1316.2 2173.6 1317.5C2175.9 1318.8 2178.1 1325.7 2180.4 1331C2181.9 1334.5 2183.4 1339.6 2184.9 1343.3C2185.3 1344.3 2185.6 1345.1 2186 1346L2186 1352.1L2156.8 1352.1L2156.8 1346C2156.4 1345.1 2156 1344.2 2155.6 1343.3C2154.1 1339.8 2152.6 1337.5 2151.1 1333.2C2149.6 1328.9 2148.1 1318.2 2146.7 1315.2C2142.9 1307.7 2139.2 1307.4 2135.4 1301.7C2132.4 1297.2 2129.4 1285.2 2126.4 1283.7C2118.9 1280 2111.4 1282.3 2103.9 1278.1C2103.2 1277.7 2102.4 1276.5 2101.7 1273.6C2101.3 1272.3 2101 1265.2 2100.6 1261.1Z" fill="#1f77b4" fill-opacity="0.5" stroke="#1f77b4" stroke-opacity="0.5" stroke-width="4.4" stroke-linejoin="round"/>
<path d="M2100.6 1261.1C2101.4 1263.3 2102.1 1267 2102.8 1267.8C2104.7 1269.9 2106.5 1270.4 2108.4 1271.1C2115.9 1273.5 2123.4 1275.4 2130.9 1275.6C2135.4 1275.8 2139.9 1275.7 2144.4 1275.9C2146.7 1275.9 2148.9 1282.2 2151.1 1286.4C2154.1 1292.1 2157.1 1303.4 2160.1 1308.5C2162.4 1312.3 2164.6 1315.8 2166.9 1317.5C2169.1 1319.1 2171.4 1319.1 2173.6 1320.9C2175.9 1322.6 2178.1 1328.5 2180.4 1334.3C2181.5 1337.3 2182.6 1342.1 2183.8 1346L2183.8 1352.1L2157.9 1352.1L2157.9 1346C2157.5 1345.1 2157.1 1344.2 2156.8 1343.3C2155.3 1339.8 2153.8 1337.5 2152.3 1333.2C2150.8 1328.9 2149.3 1318.2 2147.8 1315.2C2144 1307.7 2140.3 1307.7 2136.5 1301.7C2133.5 1296.9 2130.5 1282.5 2127.5 1281C2120 1277.3 2112.5 1278.8 2105 1275.6C2103.9 1275.1 2102.8 1274.9 2101.7 1272.9C2101.3 1272.4 2101 1265 2100.6 1261.1Z" fill="#fdd7af" fill-opacity="1" stroke="#d29150" stroke-opacity="0.53" stroke-width="4.4" stroke-linejoin="round"/>
<path d="M2100.6 1261.1C2109.2 1266 2117.8 1270.8 2126.4 1275.9C2130.2 1278.1 2133.9 1280.4 2137.7 1282.6C2141.4 1284.9 2145.2 1285.7 2148.9 1289.4C2151.1 1291.5 2153.4 1297.4 2155.6 1302.9C2157.1 1306.5 2158.6 1313.5 2160.1 1316.4C2162.4 1320.6 2164.6 1322.3 2166.9 1325.3C2169.1 1328.3 2171.4 1331 2173.6 1334.3C2175.9 1337.7 2178.1 1342.1 2180.4 1346L2180.4 1352.1L2157.9 1352.1L2157.9 1346C2156 1341.4 2154.1 1337.9 2152.3 1332.1C2150.8 1327.5 2149.3 1317.1 2147.8 1314.1C2144 1306.6 2140.3 1305.9 2136.5 1300.6C2133.2 1295.9 2129.8 1287.8 2126.4 1283.7C2117.8 1273.4 2109.2 1268.6 2100.6 1261.1Z" fill="#d0e8ee" fill-opacity="1" stroke="#b4aa96" stroke-opacity="0.5" stroke-width="4.4" stroke-linejoin="round"/>
<path d="M2125.8 1262.1V1346.1M2140.5 1262.1V1346.1M2169.9 1262.1V1346.1M2184.5 1262.1V1346.1" stroke="#b0b0b0" stroke-width="1.05" fill="none"/>
<path d="M2091 1283.1H2219M2091 1304.1H2219M2091 1325.1H2219" stroke="#b0b0b0" stroke-width="1.15" fill="none"/>
<path d="M2096.4 1262.1V1346.1M2155.2 1262.1V1346.1M2213.9 1262.1V1346.1" stroke="#ff0000" stroke-opacity="0.5" stroke-width="4.8" fill="none"/>
<path d="M2091.9 1262.1C2093.4 1262.1 2094.9 1262.1 2096.4 1262.1C2097.8 1262.1 2099.2 1262.1 2100.6 1262.1C2101.7 1262.1 2102.8 1271.9 2103.9 1272.5C2106.9 1274.1 2109.9 1274.1 2112.9 1274.7C2117.4 1275.7 2121.9 1275.8 2126.4 1277C2130.2 1278 2133.9 1281.5 2137.7 1283.7C2141.4 1286 2145.2 1286.9 2148.9 1290.5C2151.1 1292.7 2153.4 1298.5 2155.6 1304C2157.1 1307.6 2158.6 1314.6 2160.1 1317.5C2162.4 1321.7 2164.6 1323.5 2166.9 1326.5C2169.1 1329.5 2171.4 1332 2173.6 1335.5C2175.1 1337.8 2176.6 1342.3 2178.1 1343.3C2180.4 1344.9 2182.6 1346 2184.9 1346C2194.6 1346 2204.2 1346 2213.9 1346C2214.4 1346 2214.9 1346 2215.4 1346" fill="none" stroke="#000" stroke-width="9" stroke-linejoin="round" stroke-linecap="butt"/>
</g>
<path d="M2111.1 1346.1V1356.9M2125.8 1346.1V1356.9M2140.5 1346.1V1356.9M2169.9 1346.1V1356.9M2184.5 1346.1V1356.9M2199.2 1346.1V1356.9M2091 1325.1H2080.2M2091 1304.1H2080.2M2091 1283.1H2080.2" stroke="#000" stroke-width="3" fill="none"/>
<path d="M2096.4 1346.1V1364.5M2155.2 1346.1V1364.5M2213.9 1346.1V1364.5M2091 1346.1H2072.6M2091 1262.1H2072.6" stroke="#ff0000" stroke-width="4.8" fill="none"/>
<rect x="2091" y="1262.1" width="128" height="84" fill="none" stroke="#ff0000" stroke-width="5.6"/>
</g>
</svg></body></html>
